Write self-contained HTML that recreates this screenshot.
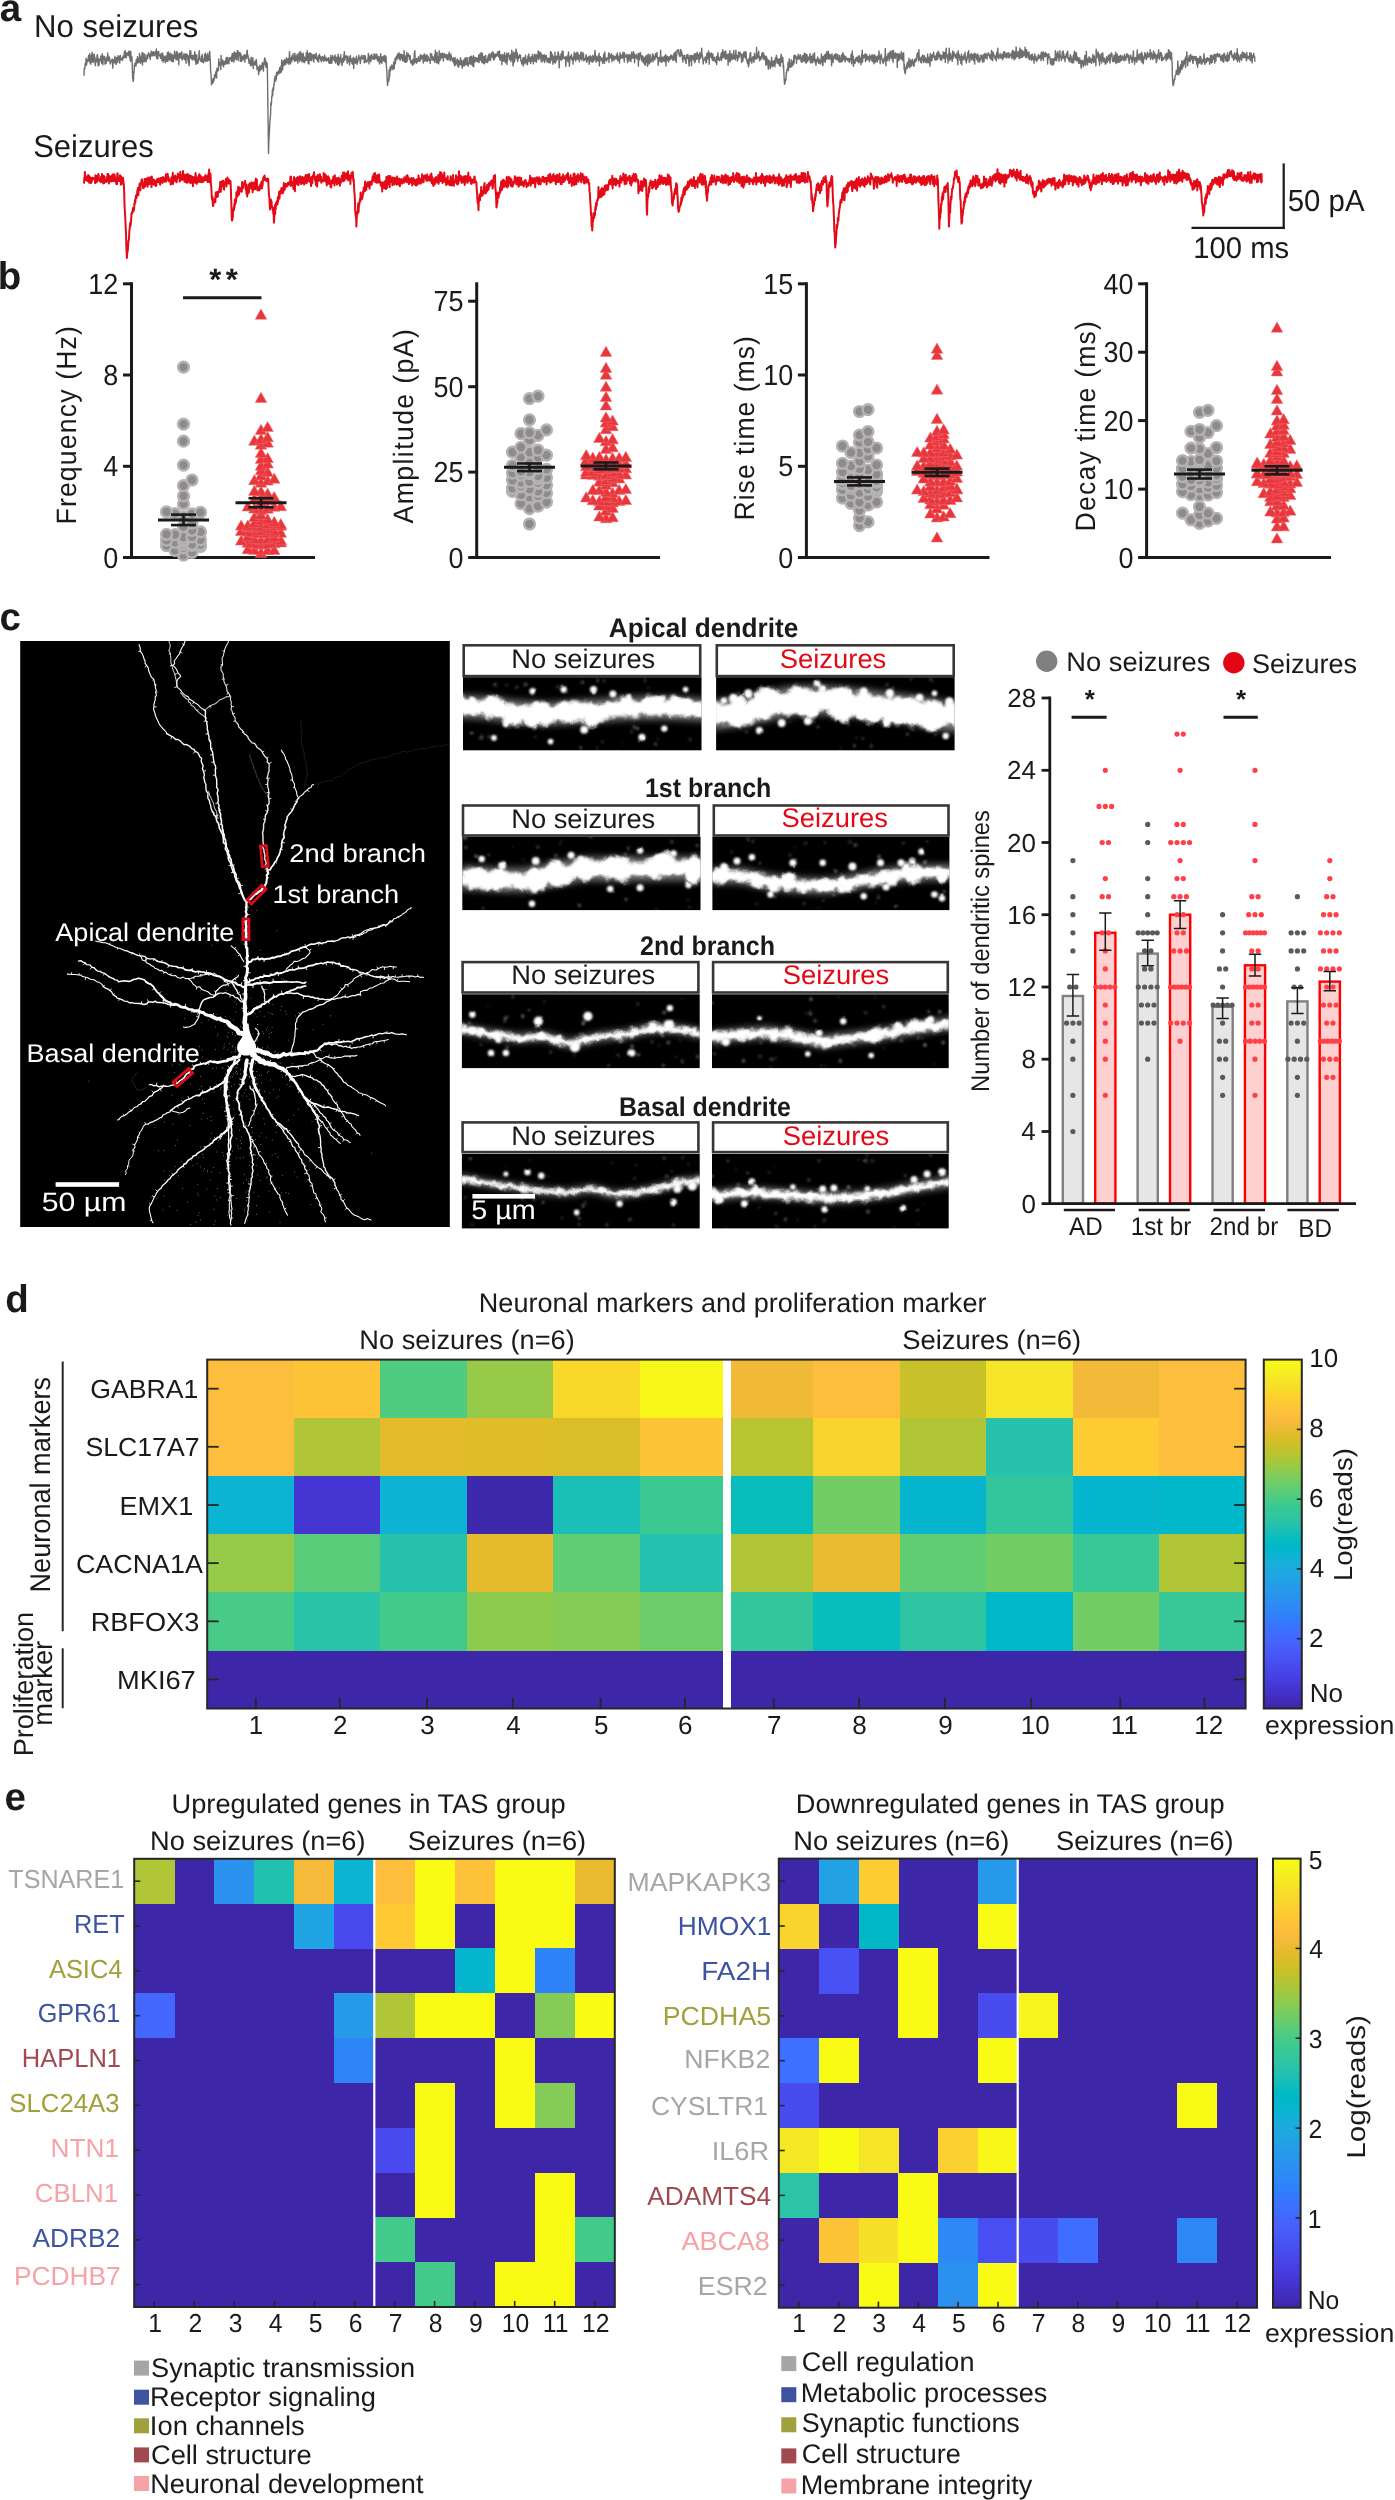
<!DOCTYPE html>
<html><head><meta charset="utf-8"><title>Figure</title>
<style>html,body{margin:0;padding:0;background:#fff}svg{display:block;will-change:transform}text{font-family:"Liberation Sans",sans-serif;fill:#1a1a1a;text-rendering:geometricPrecision}</style>
</head><body>
<svg width="1395" height="2500" viewBox="0 0 1395 2500">
<rect width="1395" height="2500" fill="#fff"/>
<g id="part_a">
<text transform="translate(-0.26,20.80) scale(1.0000,1)" font-size="38.5" font-weight="bold">a</text>
<text transform="translate(34.11,36.70) scale(0.9871,1)" font-size="31.5">No seizures</text>
<text transform="translate(33.21,156.50) scale(0.9824,1)" font-size="31.5">Seizures</text>
<polyline fill="none" stroke="#6e6e6e" stroke-width="1.4" stroke-linejoin="round" points="84,75.8 84.3,68.1 84.6,68.4 84.9,68.4 85.2,63.5 85.5,65 85.8,64.2 86.1,58.2 86.4,65.2 86.7,63.7 87,59.8 87.3,60.6 87.6,61.9 87.9,59.7 88.2,59.5 88.5,55.5 88.8,60.8 89.1,59.1 89.4,59.1 89.7,53.6 90,63 90.3,58.9 90.6,57 90.9,64.3 91.2,58.7 91.5,54.5 91.8,57.5 92.1,52.2 92.4,62 92.7,57.4 93,56.5 93.3,62.2 93.6,54.4 93.9,60.9 94.2,54.2 94.5,58.3 94.8,57 95.1,64.5 95.4,65.5 95.7,59.3 96,62.3 96.3,59.4 96.6,61.1 96.9,57.7 97.2,54.8 97.5,54.7 97.8,60.7 98.1,65.9 98.4,60.5 98.7,58.8 99,65.1 99.3,60.7 99.6,59.9 99.9,60.7 100.2,59.4 100.5,58.9 100.8,56 101.1,61.2 101.4,59.5 101.7,63.3 102,58.2 102.3,53.8 102.6,59 102.9,64.7 103.2,58.9 103.5,56.6 103.8,56.2 104.1,57 104.4,59.3 104.7,56.5 105,64.1 105.3,58.9 105.6,59.9 105.9,63.5 106.2,63.3 106.5,57.7 106.8,59.6 107.1,60.6 107.4,58 107.7,53 108,60.2 108.3,61.1 108.6,60.1 108.9,56.3 109.2,58.7 109.5,58 109.8,58.8 110.1,63.3 110.4,64 110.7,61.4 111,61.1 111.3,61.9 111.6,60.1 111.9,60.6 112.2,58.9 112.5,61.6 112.8,68.1 113.1,63.9 113.4,60.4 113.7,60.7 114,59.5 114.3,62.8 114.6,61.7 114.9,56.2 115.2,61.7 115.5,58.4 115.8,64.1 116.1,60 116.4,64.1 116.7,57.4 117,57.6 117.3,59.6 117.6,62.4 117.9,60.8 118.2,55.6 118.5,59.4 118.8,58.4 119.1,57.3 119.4,56.5 119.7,63.1 120,57.3 120.3,55.4 120.6,59.7 120.9,58.4 121.2,58 121.5,59.9 121.8,58.9 122.1,58.4 122.4,60.5 122.7,58.6 123,56.2 123.3,56.5 123.6,56 123.9,58 124.2,53.8 124.5,51.6 124.8,57.4 125.1,52.9 125.4,50.8 125.7,57.2 126,54.1 126.3,57.7 126.6,55.4 126.9,53.3 127.2,52.8 127.5,54.7 127.8,55.1 128.1,53 128.4,54.8 128.7,51.4 129,56 129.3,50.9 129.6,55.9 129.9,58.3 130.2,59.5 130.5,61.3 130.8,51.5 131.1,58.8 131.4,60 131.7,59.4 132,57 132.3,67.5 132.6,78.6 132.9,75.7 133.2,81.3 133.5,79.7 133.8,71.5 134.1,72.5 134.4,65.1 134.7,64.3 135,63.2 135.3,65 135.6,63 135.9,66.2 136.2,59.6 136.5,60.9 136.8,63.6 137.1,62.2 137.4,56.7 137.7,62.5 138,58.1 138.3,60.7 138.6,60.4 138.9,62.7 139.2,59.3 139.5,53.5 139.8,55.1 140.1,61.7 140.4,58.9 140.7,63.2 141,60.2 141.3,56.5 141.6,61.5 141.9,55.5 142.2,52.5 142.5,65 142.8,52.9 143.1,60.7 143.4,61.7 143.7,58.7 144,54 144.3,61.6 144.6,54.4 144.9,54.4 145.2,57.6 145.5,60.8 145.8,60.4 146.1,61.9 146.4,58.2 146.7,58.5 147,54.9 147.3,56.9 147.6,58.7 147.9,55.2 148.2,55.9 148.5,52.8 148.8,53.3 149.1,55.4 149.4,54.6 149.7,57.2 150,55.7 150.3,59.5 150.6,53.8 150.9,53.5 151.2,51.1 151.5,54.1 151.8,55.8 152.1,51.9 152.4,53.8 152.7,55.9 153,53.1 153.3,51.7 153.6,55.3 153.9,52.5 154.2,53.5 154.5,55.7 154.8,55.8 155.1,52.1 155.4,51.9 155.7,54.4 156,54.4 156.3,49 156.6,58.2 156.9,54.4 157.2,56.9 157.5,51.6 157.8,58.9 158.1,53.8 158.4,54.9 158.7,51.5 159,55.1 159.3,54.8 159.6,54.8 159.9,56.2 160.2,55.1 160.5,58.3 160.8,54.8 161.1,53.5 161.4,56.7 161.7,58.8 162,60.6 162.3,60.3 162.6,53 162.9,58.6 163.2,62.1 163.5,58.2 163.8,56 164.1,59.2 164.4,56.7 164.7,60.6 165,58.9 165.3,62.8 165.6,59.6 165.9,55.9 166.2,60.1 166.5,61.2 166.8,57.3 167.1,58 167.4,52.6 167.7,61.6 168,57.1 168.3,52 168.6,52.7 168.9,57.1 169.2,60 169.5,57.4 169.8,59.3 170.1,54.2 170.4,53.1 170.7,60.1 171,58.3 171.3,57.3 171.6,61.4 171.9,54.2 172.2,55.6 172.5,59.9 172.8,61.5 173.1,56.3 173.4,61.7 173.7,55.3 174,58.1 174.3,56 174.6,51.1 174.9,56.2 175.2,58.2 175.5,55.1 175.8,55.6 176.1,60 176.4,52.1 176.7,51.5 177,54 177.3,52.4 177.6,59.9 177.9,57.1 178.2,54.2 178.5,54.8 178.8,64.7 179.1,54.5 179.4,53.3 179.7,56.7 180,57.5 180.3,56.5 180.6,53.4 180.9,53.3 181.2,58.2 181.5,56.1 181.8,51.7 182.1,60.1 182.4,59.5 182.7,57 183,56.6 183.3,58.2 183.6,55.7 183.9,53.9 184.2,58.9 184.5,54.4 184.8,59.8 185.1,53.9 185.4,58.1 185.7,58 186,63.2 186.3,55 186.6,53.9 186.9,56 187.2,54.6 187.5,56.4 187.8,59.5 188.1,59.9 188.4,62.9 188.7,55.7 189,65.8 189.3,63.9 189.6,56.8 189.9,50.6 190.2,56.9 190.5,57.3 190.8,50.9 191.1,58.3 191.4,57.5 191.7,55.7 192,59.4 192.3,59.9 192.6,55.3 192.9,57.6 193.2,55.8 193.5,56.1 193.8,58.5 194.1,59.9 194.4,56.5 194.7,51.6 195,60.2 195.3,53.9 195.6,59.3 195.9,64.4 196.2,59.5 196.5,55.9 196.8,54.9 197.1,63.4 197.4,60 197.7,62.3 198,63.1 198.3,60.4 198.6,59.2 198.9,56.9 199.2,50.6 199.5,55.3 199.8,59.4 200.1,58.8 200.4,61 200.7,59.5 201,60.1 201.3,61.3 201.6,56.1 201.9,57.8 202.2,54.5 202.5,62.3 202.8,59.6 203.1,60.1 203.4,62.8 203.7,61.6 204,58.1 204.3,60.7 204.6,54.2 204.9,59 205.2,57.9 205.5,53.2 205.8,61.6 206.1,54.9 206.4,58.7 206.7,56.1 207,60.1 207.3,61.1 207.6,55.1 207.9,53.3 208.2,57.5 208.5,60.4 208.8,57.2 209.1,56.9 209.4,60.4 209.7,51.3 210,57.5 210.3,60.2 210.6,70.5 210.9,73 211.2,77.4 211.5,84.7 211.8,80.5 212.1,83.8 212.4,81 212.7,80.6 213,78.8 213.3,82.5 213.6,78.7 213.9,80.4 214.2,80 214.5,74.7 214.8,78.1 215.1,76.7 215.4,75.8 215.7,72.7 216,71.5 216.3,74.7 216.6,78 216.9,68.1 217.2,71.7 217.5,68.6 217.8,70.7 218.1,69.9 218.4,70.4 218.7,58.9 219,64.7 219.3,62.9 219.6,65.2 219.9,62.6 220.2,62.5 220.5,66.1 220.8,69.6 221.1,55.4 221.4,63.2 221.7,64.8 222,64.1 222.3,63 222.6,60 222.9,61 223.2,65.6 223.5,66.9 223.8,64.7 224.1,61.5 224.4,63.5 224.7,62.7 225,64.3 225.3,62.6 225.6,60.1 225.9,61.7 226.2,57.9 226.5,63.3 226.8,63.8 227.1,57.2 227.4,61.5 227.7,57.6 228,63.6 228.3,63.4 228.6,60 228.9,63.6 229.2,59 229.5,57.7 229.8,57.6 230.1,58.8 230.4,58.4 230.7,59.7 231,57.1 231.3,61 231.6,61.3 231.9,56.4 232.2,53.8 232.5,59.7 232.8,61 233.1,56.7 233.4,53.2 233.7,58 234,62 234.3,52 234.6,58.9 234.9,56.6 235.2,55 235.5,58.5 235.8,52.9 236.1,56.9 236.4,60 236.7,57 237,53.8 237.3,50.7 237.6,52.4 237.9,50.6 238.2,60.4 238.5,55.4 238.8,53.5 239.1,52.5 239.4,53.4 239.7,56 240,52.6 240.3,61.4 240.6,53.9 240.9,53.9 241.2,57.8 241.5,61.5 241.8,60.7 242.1,56.3 242.4,58.7 242.7,58.9 243,59.8 243.3,59.8 243.6,56.3 243.9,55.5 244.2,59.4 244.5,54.6 244.8,62 245.1,58.6 245.4,55.2 245.7,57.3 246,56.2 246.3,56 246.6,58.5 246.9,51.4 247.2,50.1 247.5,56 247.8,54.8 248.1,56.1 248.4,59.1 248.7,59 249,63.3 249.3,59.1 249.6,63.3 249.9,61.8 250.2,61.3 250.5,65.9 250.8,65.3 251.1,57.2 251.4,59.3 251.7,62.9 252,65.1 252.3,60.6 252.6,61.5 252.9,57.6 253.2,68.6 253.5,62.3 253.8,64.1 254.1,63.7 254.4,64.9 254.7,64.2 255,61.1 255.3,64.5 255.6,61.5 255.9,65.1 256.2,59.4 256.5,61.4 256.8,66.3 257.1,69.7 257.4,68.2 257.7,66.5 258,69.3 258.3,67.5 258.6,74.6 258.9,71 259.2,71.8 259.5,68.8 259.8,65.3 260.1,69.3 260.4,70.6 260.7,67.6 261,66.2 261.3,69.4 261.6,65.2 261.9,68.4 262.2,63.4 262.5,62.4 262.8,66.8 263.1,66.3 263.4,71.1 263.7,64.4 264,64.4 264.3,60.8 264.6,58 264.9,58.3 265.2,64.6 265.5,59.8 265.8,66.4 266.1,67.1 266.4,62.1 266.7,67.6 267,62.6 267.3,65 267.6,84.1 267.9,109.7 268.2,126.2 268.5,153.6 268.8,142.5 269.1,136.1 269.4,131.9 269.7,125.3 270,120.2 270.3,118.1 270.6,113.8 270.9,102.6 271.2,105.2 271.5,102.5 271.8,96.3 272.1,96.7 272.4,89.8 272.7,95.6 273,88.4 273.3,87.3 273.6,89.8 273.9,84.1 274.2,84.5 274.5,78.9 274.8,79.4 275.1,76 275.4,78 275.7,81.1 276,77.8 276.3,79.1 276.6,72.6 276.9,72.1 277.2,72.8 277.5,75.2 277.8,74 278.1,72 278.4,72.7 278.7,70.6 279,70.2 279.3,73.5 279.6,67.7 279.9,69.2 280.2,73 280.5,68.1 280.8,69.9 281.1,65.6 281.4,72.1 281.7,60 282,63.1 282.3,63.1 282.6,69.9 282.9,66 283.2,64.3 283.5,60.8 283.8,65.5 284.1,64.5 284.4,62.2 284.7,59.5 285,60.9 285.3,64.5 285.6,64.5 285.9,63.2 286.2,62.5 286.5,57.7 286.8,62.7 287.1,58.9 287.4,61.8 287.7,62.9 288,59.6 288.3,58.6 288.6,64.2 288.9,61.9 289.2,58.8 289.5,51.6 289.8,60.2 290.1,62 290.4,64 290.7,58.3 291,57.7 291.3,58.3 291.6,61.9 291.9,55.7 292.2,58.6 292.5,56.2 292.8,59.8 293.1,53.7 293.4,59.4 293.7,57.3 294,58.2 294.3,59.3 294.6,61.3 294.9,53.1 295.2,60.8 295.5,59.2 295.8,56.1 296.1,60.7 296.4,56.5 296.7,59.9 297,55.1 297.3,54.2 297.6,59.9 297.9,63 298.2,58.5 298.5,59.2 298.8,55.5 299.1,52.9 299.4,56.3 299.7,61.5 300,52 300.3,55.8 300.6,51.8 300.9,58.1 301.2,60.2 301.5,53.8 301.8,56.1 302.1,62 302.4,58 302.7,54.7 303,54.5 303.3,53.1 303.6,61.9 303.9,57.3 304.2,62.8 304.5,62.1 304.8,57.3 305.1,57.6 305.4,60.9 305.7,58.9 306,58.6 306.3,52.9 306.6,60.2 306.9,54.8 307.2,50.8 307.5,55.8 307.8,58.5 308.1,63.3 308.4,56.3 308.7,53.7 309,64.1 309.3,57.9 309.6,55.8 309.9,52.9 310.2,52.8 310.5,60.3 310.8,55.3 311.1,54.2 311.4,54 311.7,60.7 312,54.9 312.3,57.7 312.6,57.3 312.9,57.6 313.2,54.5 313.5,59.1 313.8,62 314.1,57.3 314.4,55.3 314.7,54.7 315,58.4 315.3,56.9 315.6,57.1 315.9,57.5 316.2,53.1 316.5,59.5 316.8,57.8 317.1,57.7 317.4,59.2 317.7,61.2 318,58.8 318.3,55.8 318.6,62.1 318.9,57.4 319.2,56.8 319.5,54.2 319.8,58.3 320.1,56.1 320.4,57.2 320.7,60 321,59 321.3,61.6 321.6,59.2 321.9,56.9 322.2,56.8 322.5,56.5 322.8,60.2 323.1,57.9 323.4,57.3 323.7,61.1 324,59.4 324.3,58.5 324.6,55.2 324.9,60.8 325.2,60.3 325.5,60.2 325.8,58.8 326.1,57.5 326.4,59.2 326.7,60.8 327,59.5 327.3,59.9 327.6,58.6 327.9,60.7 328.2,60.7 328.5,57.7 328.8,62.5 329.1,63 329.4,63.4 329.7,60.6 330,60.8 330.3,57.7 330.6,63.2 330.9,55.1 331.2,59.7 331.5,59.4 331.8,63.2 332.1,60.1 332.4,57.6 332.7,55.6 333,57.7 333.3,59.8 333.6,59.9 333.9,59 334.2,57.3 334.5,58.5 334.8,61.4 335.1,55 335.4,58.6 335.7,63.1 336,60.2 336.3,57.7 336.6,61.1 336.9,57.1 337.2,58.8 337.5,63.5 337.8,64.8 338.1,54.1 338.4,61.6 338.7,65.1 339,57.3 339.3,60 339.6,63.9 339.9,58.5 340.2,61.6 340.5,60.8 340.8,54.8 341.1,61.3 341.4,59.4 341.7,62.5 342,65.5 342.3,61.1 342.6,58.3 342.9,60.8 343.2,59.9 343.5,62.1 343.8,55 344.1,55.5 344.4,51.8 344.7,60.3 345,59.1 345.3,57.4 345.6,56.5 345.9,57.3 346.2,55.7 346.5,57.7 346.8,58 347.1,63.3 347.4,59.9 347.7,56.3 348,56.6 348.3,61.2 348.6,59.8 348.9,60.1 349.2,62.3 349.5,64.9 349.8,56.7 350.1,58.8 350.4,55.5 350.7,61.3 351,59.1 351.3,58.9 351.6,59.2 351.9,63.4 352.2,61.4 352.5,59.7 352.8,64.4 353.1,57.6 353.4,57.5 353.7,68.6 354,60.3 354.3,59.1 354.6,58.5 354.9,60.3 355.2,63.1 355.5,63 355.8,62.2 356.1,60.3 356.4,56.3 356.7,61.5 357,64.3 357.3,62.8 357.6,59.9 357.9,61.8 358.2,58.1 358.5,59 358.8,55.2 359.1,57.6 359.4,58.5 359.7,57.8 360,60.2 360.3,63.5 360.6,61.9 360.9,57.3 361.2,56.1 361.5,56.3 361.8,55.1 362.1,58.3 362.4,59 362.7,58.2 363,57.6 363.3,57.5 363.6,56.9 363.9,55.5 364.2,62.9 364.5,61.2 364.8,55.6 365.1,55.6 365.4,56.9 365.7,58.9 366,62.4 366.3,61.4 366.6,62.1 366.9,61.6 367.2,60.9 367.5,60 367.8,59.5 368.1,57.8 368.4,53.4 368.7,58.1 369,63.9 369.3,57 369.6,56.3 369.9,60.5 370.2,57.3 370.5,55.7 370.8,61.7 371.1,58.8 371.4,58.5 371.7,54.5 372,57.4 372.3,57.3 372.6,58.5 372.9,59.4 373.2,59 373.5,56.4 373.8,58.4 374.1,53.8 374.4,58.8 374.7,59.4 375,56.8 375.3,55.6 375.6,57.5 375.9,54.2 376.2,58.2 376.5,58.2 376.8,54.2 377.1,56.7 377.4,60.5 377.7,60.7 378,61.1 378.3,57.4 378.6,57 378.9,56.3 379.2,59.5 379.5,64 379.8,61.5 380.1,62.4 380.4,62.2 380.7,53.7 381,58.5 381.3,58.2 381.6,62.5 381.9,63.4 382.2,57 382.5,58.6 382.8,60 383.1,56.9 383.4,56.6 383.7,56.5 384,61.3 384.3,55.5 384.6,61.3 384.9,58.4 385.2,59.9 385.5,62.5 385.8,56 386.1,57.3 386.4,66.6 386.7,68.3 387,74.9 387.3,82.7 387.6,85.5 387.9,78.7 388.2,79.3 388.5,80.6 388.8,81.5 389.1,70.3 389.4,77.9 389.7,75.5 390,68.3 390.3,66.6 390.6,70.8 390.9,67.8 391.2,68.2 391.5,68.8 391.8,65 392.1,66.3 392.4,67.1 392.7,68.1 393,69.7 393.3,68.3 393.6,63.5 393.9,62 394.2,68.7 394.5,63.7 394.8,62.8 395.1,58.3 395.4,63.6 395.7,58.5 396,59.5 396.3,56.8 396.6,58.1 396.9,59.5 397.2,54.8 397.5,56.2 397.8,57.9 398.1,54 398.4,53.4 398.7,54.2 399,52.7 399.3,59 399.6,54.1 399.9,59.5 400.2,60.2 400.5,54.1 400.8,57.8 401.1,56.2 401.4,54.5 401.7,56.8 402,57.3 402.3,59.8 402.6,60.8 402.9,54.6 403.2,56.6 403.5,59.2 403.8,60.7 404.1,50.6 404.4,61.6 404.7,57.1 405,62.2 405.3,56.4 405.6,55.9 405.9,58.6 406.2,62.2 406.5,59.2 406.8,52.4 407.1,61.3 407.4,54.5 407.7,56.2 408,55.8 408.3,53.8 408.6,55.8 408.9,56.6 409.2,57.6 409.5,59.6 409.8,58.6 410.1,55.4 410.4,59 410.7,62.7 411,62.7 411.3,60.6 411.6,62.1 411.9,62.9 412.2,64.4 412.5,65.3 412.8,59.7 413.1,59.3 413.4,63.7 413.7,63.7 414,64 414.3,52.7 414.6,59.4 414.9,50.8 415.2,62.1 415.5,60.3 415.8,59.9 416.1,59.1 416.4,63.3 416.7,58.4 417,62.3 417.3,61.3 417.6,60.5 417.9,60.9 418.2,60.2 418.5,56.6 418.8,61 419.1,61.2 419.4,58.9 419.7,60.9 420,61.2 420.3,54.8 420.6,58.4 420.9,57.5 421.2,55.8 421.5,59.1 421.8,55.2 422.1,55.8 422.4,57.2 422.7,57.2 423,57.3 423.3,63.1 423.6,55.4 423.9,58 424.2,53.6 424.5,58.8 424.8,61.2 425.1,60.8 425.4,55.3 425.7,56 426,60.6 426.3,56.7 426.6,60.4 426.9,54.8 427.2,61.6 427.5,60.8 427.8,59.6 428.1,56.1 428.4,58.1 428.7,59.4 429,60.2 429.3,59.7 429.6,59.2 429.9,60.6 430.2,63.5 430.5,53.5 430.8,55.2 431.1,54.8 431.4,57.2 431.7,53.9 432,60.4 432.3,59.5 432.6,57.9 432.9,56.8 433.2,59 433.5,60 433.8,60.4 434.1,57.5 434.4,61.3 434.7,54.7 435,62.5 435.3,50.1 435.6,57.2 435.9,54.9 436.2,59.6 436.5,53 436.8,63.1 437.1,52.5 437.4,62.6 437.7,57.8 438,57 438.3,58.9 438.6,63.9 438.9,60.3 439.2,50.7 439.5,60.8 439.8,58.4 440.1,53.4 440.4,60 440.7,53.6 441,57.9 441.3,57.7 441.6,54.6 441.9,57.8 442.2,52.9 442.5,56.3 442.8,54.3 443.1,55 443.4,61 443.7,56.4 444,53.6 444.3,56.3 444.6,53.8 444.9,56.6 445.2,57.4 445.5,56.7 445.8,56.9 446.1,54.8 446.4,58.1 446.7,59.3 447,54.7 447.3,56.1 447.6,57 447.9,59.9 448.2,59.8 448.5,54.6 448.8,56.7 449.1,52.3 449.4,54.3 449.7,57.3 450,59.4 450.3,60.8 450.6,56.6 450.9,54 451.2,59 451.5,57 451.8,59.1 452.1,58.4 452.4,60.8 452.7,60.2 453,61.6 453.3,58 453.6,62.7 453.9,58.2 454.2,60.1 454.5,65.8 454.8,61.6 455.1,57.5 455.4,65 455.7,63.4 456,63.8 456.3,60.8 456.6,61.9 456.9,60.2 457.2,59 457.5,66.1 457.8,60.4 458.1,60.1 458.4,60.1 458.7,67.2 459,64.2 459.3,61.2 459.6,62.5 459.9,63.9 460.2,64.5 460.5,57.6 460.8,64.8 461.1,61.8 461.4,60.2 461.7,61.9 462,65.2 462.3,68.3 462.6,63.7 462.9,65 463.2,60.8 463.5,64.9 463.8,65.9 464.1,59.4 464.4,61.8 464.7,65.7 465,58.1 465.3,61.4 465.6,64.5 465.9,57.6 466.2,61.5 466.5,62.3 466.8,64.4 467.1,57.8 467.4,64.9 467.7,62.9 468,65.9 468.3,66 468.6,63.4 468.9,63.5 469.2,57.2 469.5,57.8 469.8,58.5 470.1,60.4 470.4,64.2 470.7,56.5 471,61 471.3,57.5 471.6,56.3 471.9,64.8 472.2,61.3 472.5,65.9 472.8,64.3 473.1,58.5 473.4,55.7 473.7,66.9 474,59.3 474.3,57.1 474.6,62.3 474.9,60.3 475.2,57.4 475.5,58.3 475.8,59.4 476.1,59.5 476.4,61.3 476.7,58 477,58.2 477.3,60.6 477.6,60.1 477.9,62 478.2,57.7 478.5,58.4 478.8,55.1 479.1,62.5 479.4,54.3 479.7,59.6 480,55.6 480.3,59.2 480.6,60.2 480.9,53 481.2,57.1 481.5,52.7 481.8,62.2 482.1,57.1 482.4,53.7 482.7,56.5 483,62.7 483.3,63.3 483.6,62.5 483.9,56.8 484.2,58.9 484.5,63.9 484.8,56.5 485.1,58 485.4,55.9 485.7,55.4 486,62.2 486.3,60.2 486.6,59.7 486.9,60.2 487.2,61.3 487.5,62.6 487.8,57.8 488.1,57.1 488.4,55.3 488.7,60.7 489,56.1 489.3,53.6 489.6,56.8 489.9,57.4 490.2,59.9 490.5,60.4 490.8,54.8 491.1,54.1 491.4,55.7 491.7,52.8 492,56 492.3,57.4 492.6,56 492.9,51.7 493.2,52.9 493.5,60 493.8,53.9 494.1,59.1 494.4,59.2 494.7,56.3 495,54.1 495.3,57.4 495.6,54.1 495.9,55.6 496.2,56.3 496.5,54.5 496.8,55.6 497.1,55 497.4,52.2 497.7,55.7 498,55 498.3,51.7 498.6,56.2 498.9,56.9 499.2,55.5 499.5,51 499.8,59.5 500.1,60 500.4,60.3 500.7,59.1 501,54.5 501.3,59 501.6,55.8 501.9,64.8 502.2,56.9 502.5,60.7 502.8,54.5 503.1,55.1 503.4,57.1 503.7,61.1 504,60.5 504.3,59.6 504.6,52.8 504.9,61.4 505.2,55.5 505.5,62.4 505.8,62.8 506.1,59.1 506.4,59.6 506.7,53.1 507,64.5 507.3,58.1 507.6,60.2 507.9,53.9 508.2,56.2 508.5,53 508.8,55.5 509.1,56.1 509.4,56.6 509.7,59.6 510,56.4 510.3,55.5 510.6,55.1 510.9,61.6 511.2,54.3 511.5,59.5 511.8,50.2 512.1,53.4 512.4,57.8 512.7,56.9 513,65.9 513.3,64.1 513.6,52.2 513.9,53.9 514.2,56.3 514.5,62 514.8,59.8 515.1,57.7 515.4,52 515.7,54.2 516,49 516.3,52.1 516.6,57.6 516.9,58.8 517.2,52.6 517.5,56.5 517.8,61.5 518.1,57.6 518.4,56.3 518.7,58.5 519,58 519.3,56.4 519.6,54.8 519.9,55.5 520.2,57.3 520.5,55.2 520.8,60.9 521.1,60.3 521.4,61.3 521.7,64 522,62.7 522.3,62.2 522.6,59.7 522.9,58.3 523.2,66.1 523.5,57.7 523.8,57.9 524.1,57.5 524.4,61.3 524.7,61.7 525,64 525.3,60.2 525.6,55.3 525.9,60.5 526.2,62.5 526.5,59.7 526.8,59.6 527.1,62 527.4,64.7 527.7,59.8 528,55.9 528.3,57.9 528.6,59.1 528.9,54 529.2,61.8 529.5,57 529.8,61 530.1,60.3 530.4,58.3 530.7,63.5 531,57 531.3,56.8 531.6,59.5 531.9,61.1 532.2,57.7 532.5,54.5 532.8,59.2 533.1,59.5 533.4,63.9 533.7,57.2 534,58.5 534.3,56.6 534.6,54.1 534.9,58.8 535.2,61.4 535.5,55.5 535.8,56.2 536.1,54.8 536.4,62.2 536.7,56.2 537,59.5 537.3,55.3 537.6,57.8 537.9,55.9 538.2,50.9 538.5,58 538.8,59.5 539.1,52 539.4,57.8 539.7,56.2 540,54.5 540.3,57.1 540.6,52.4 540.9,58.7 541.2,61.4 541.5,54.1 541.8,57.3 542.1,62 542.4,58.3 542.7,56.4 543,55.2 543.3,58.9 543.6,58.6 543.9,60.6 544.2,54.8 544.5,62.5 544.8,58.1 545.1,61 545.4,57.7 545.7,55.5 546,57.3 546.3,55.8 546.6,57.5 546.9,60.7 547.2,62 547.5,60 547.8,58.4 548.1,58.7 548.4,61.1 548.7,62.5 549,58.1 549.3,59.2 549.6,58.2 549.9,60.9 550.2,63.1 550.5,51.6 550.8,60.8 551.1,57.9 551.4,52.2 551.7,59.9 552,58.3 552.3,59.4 552.6,54.7 552.9,64.3 553.2,58.1 553.5,56.7 553.8,62.5 554.1,60.5 554.4,61 554.7,62.1 555,52.1 555.3,63.1 555.6,57.3 555.9,59.3 556.2,61.2 556.5,56.2 556.8,59 557.1,59.8 557.4,56.4 557.7,58.2 558,51.7 558.3,53.5 558.6,53.4 558.9,58.1 559.2,67.9 559.5,57.5 559.8,56.4 560.1,56.7 560.4,59.8 560.7,59.3 561,53.8 561.3,60.1 561.6,56.8 561.9,59.3 562.2,51 562.5,52.2 562.8,58.6 563.1,51.4 563.4,57.8 563.7,57.9 564,57.8 564.3,58.5 564.6,58.4 564.9,58.8 565.2,56.7 565.5,57.8 565.8,66.4 566.1,61.3 566.4,59.6 566.7,59.1 567,56 567.3,59.4 567.6,58.1 567.9,61.8 568.2,56.1 568.5,51.9 568.8,57.2 569.1,60.8 569.4,66.2 569.7,62.2 570,56.6 570.3,58.6 570.6,56.3 570.9,58.6 571.2,56.7 571.5,54.7 571.8,59.8 572.1,58.9 572.4,57.7 572.7,59.1 573,64.1 573.3,58.6 573.6,56.6 573.9,59.7 574.2,52.3 574.5,59 574.8,53.9 575.1,53.4 575.4,56.6 575.7,61.1 576,54.5 576.3,59.2 576.6,57.5 576.9,52.2 577.2,59.4 577.5,54.6 577.8,52.7 578.1,55 578.4,55.3 578.7,59.1 579,55 579.3,61.7 579.6,58.2 579.9,55.8 580.2,55.5 580.5,58.9 580.8,52.2 581.1,51.9 581.4,55.7 581.7,60.3 582,59.2 582.3,58.4 582.6,57.9 582.9,52.5 583.2,57.5 583.5,53.6 583.8,61 584.1,58.9 584.4,58.5 584.7,60 585,59.9 585.3,59.1 585.6,58.9 585.9,56.4 586.2,54.8 586.5,59.3 586.8,62.4 587.1,61.1 587.4,57.7 587.7,60 588,57.2 588.3,59.7 588.6,56.7 588.9,58.6 589.2,64.3 589.5,60.4 589.8,61.8 590.1,55.6 590.4,56.4 590.7,58.7 591,60.9 591.3,57.9 591.6,61.3 591.9,56.8 592.2,62.2 592.5,61.1 592.8,55.1 593.1,59.7 593.4,58 593.7,61.2 594,56.7 594.3,59.1 594.6,59.6 594.9,50.4 595.2,52.8 595.5,58.9 595.8,58.7 596.1,62.2 596.4,60.4 596.7,56.2 597,60.9 597.3,57.5 597.6,59.1 597.9,58.5 598.2,60.9 598.5,55.6 598.8,56.1 599.1,53.3 599.4,65.9 599.7,56.9 600,57.7 600.3,56.6 600.6,57.2 600.9,58.4 601.2,60.9 601.5,59.7 601.8,60.3 602.1,58.3 602.4,60 602.7,63.4 603,60.1 603.3,60.9 603.6,54.3 603.9,61.7 604.2,60.8 604.5,63.4 604.8,51.9 605.1,59.8 605.4,59.2 605.7,59.9 606,57.7 606.3,59.9 606.6,61.1 606.9,59.4 607.2,58.9 607.5,59 607.8,57.6 608.1,58.8 608.4,56.7 608.7,52.9 609,62.5 609.3,53.5 609.6,58.2 609.9,55 610.2,57.8 610.5,56 610.8,57.8 611.1,55.2 611.4,53.8 611.7,58.5 612,61.8 612.3,58.9 612.6,58.5 612.9,55.1 613.2,58.2 613.5,59.4 613.8,56.2 614.1,60.5 614.4,57.6 614.7,58.7 615,56.5 615.3,56.4 615.6,58.5 615.9,58.9 616.2,59 616.5,54.9 616.8,56.1 617.1,58 617.4,52.9 617.7,60.8 618,58.7 618.3,57.6 618.6,56.1 618.9,60.7 619.2,56.8 619.5,63 619.8,58.1 620.1,52.6 620.4,58.9 620.7,54.8 621,54.8 621.3,55.5 621.6,55.5 621.9,57 622.2,58.4 622.5,57.4 622.8,53.8 623.1,52.2 623.4,54.2 623.7,57.7 624,58.9 624.3,62 624.6,52.7 624.9,56.7 625.2,56 625.5,55.8 625.8,57 626.1,56.3 626.4,55.8 626.7,54.5 627,58.1 627.3,60.4 627.6,62.6 627.9,56.8 628.2,54.8 628.5,57.5 628.8,55.7 629.1,60.9 629.4,55.8 629.7,57.9 630,54.2 630.3,57.1 630.6,58.7 630.9,61.8 631.2,55.5 631.5,58.5 631.8,51.9 632.1,54.1 632.4,55 632.7,55.6 633,58.2 633.3,58.1 633.6,51.7 633.9,58.3 634.2,53.5 634.5,62.8 634.8,57.5 635.1,57.3 635.4,55.5 635.7,56.1 636,56.1 636.3,54.4 636.6,58.8 636.9,57.4 637.2,58.8 637.5,56.8 637.8,58.1 638.1,53.7 638.4,66.3 638.7,53.6 639,54.1 639.3,58.8 639.6,59.8 639.9,54.3 640.2,52.5 640.5,53.5 640.8,54.9 641.1,55.8 641.4,57.7 641.7,60.5 642,61 642.3,55.7 642.6,59.9 642.9,60.7 643.2,62.5 643.5,57.8 643.8,56.9 644.1,61.2 644.4,63.8 644.7,58.3 645,65.2 645.3,64.1 645.6,59.1 645.9,55.9 646.2,58.5 646.5,59.6 646.8,62.5 647.1,55.2 647.4,66.2 647.7,66 648,57.6 648.3,54.2 648.6,59.1 648.9,61.2 649.2,63.8 649.5,62.1 649.8,59.3 650.1,54.2 650.4,61.1 650.7,62.3 651,58.9 651.3,61.1 651.6,60.6 651.9,58.6 652.2,55.6 652.5,59.3 652.8,53.7 653.1,61.9 653.4,55.4 653.7,59.4 654,56.4 654.3,59.4 654.6,57.6 654.9,59.8 655.2,56.1 655.5,53.7 655.8,57 656.1,57.1 656.4,53.9 656.7,55.9 657,52.4 657.3,58.2 657.6,56.8 657.9,58.3 658.2,65.4 658.5,57.9 658.8,59.1 659.1,59.9 659.4,57.9 659.7,57.2 660,61.7 660.3,61.5 660.6,50.1 660.9,58.5 661.2,58 661.5,57.3 661.8,62.4 662.1,57.3 662.4,61.4 662.7,57.4 663,58.3 663.3,61 663.6,57.4 663.9,58.7 664.2,56.3 664.5,56.5 664.8,61.6 665.1,60.6 665.4,56 665.7,54.7 666,66.1 666.3,57.2 666.6,56.2 666.9,60.2 667.2,56.2 667.5,56.8 667.8,60.2 668.1,60.9 668.4,57.5 668.7,62 669,57.3 669.3,56.7 669.6,58 669.9,57.5 670.2,59.7 670.5,58.5 670.8,55.1 671.1,57.7 671.4,55.5 671.7,55.3 672,56.5 672.3,59.5 672.6,57.4 672.9,60.1 673.2,60.4 673.5,55.8 673.8,54.1 674.1,53.5 674.4,56.8 674.7,58.5 675,60.1 675.3,51.8 675.6,58 675.9,58.5 676.2,62.4 676.5,56 676.8,54.7 677.1,50 677.4,52 677.7,50.9 678,50.8 678.3,51.1 678.6,49.6 678.9,53.8 679.2,54.8 679.5,56.1 679.8,53.1 680.1,56.6 680.4,56.1 680.7,49.5 681,53.1 681.3,51 681.6,51.5 681.9,55.4 682.2,54.3 682.5,59.3 682.8,62 683.1,57.7 683.4,56.1 683.7,55.7 684,56.1 684.3,58.6 684.6,55.1 684.9,59.8 685.2,57.6 685.5,61.6 685.8,62.2 686.1,63.5 686.4,58 686.7,55.5 687,54.8 687.3,58.3 687.6,55.2 687.9,54.5 688.2,58.9 688.5,57.2 688.8,62 689.1,66.1 689.4,60.2 689.7,61.5 690,55.4 690.3,60.6 690.6,58.4 690.9,57.3 691.2,55.4 691.5,65.7 691.8,55.5 692.1,55.8 692.4,58.7 692.7,59.1 693,58.7 693.3,57.9 693.6,55.4 693.9,60.6 694.2,58.6 694.5,53.6 694.8,62.7 695.1,57.3 695.4,60.9 695.7,53.6 696,54.3 696.3,55.4 696.6,55.1 696.9,59.4 697.2,52.1 697.5,57.4 697.8,54.3 698.1,58.5 698.4,57 698.7,54.6 699,62.6 699.3,55.7 699.6,59.3 699.9,52.4 700.2,56.6 700.5,57.6 700.8,57.9 701.1,56.5 701.4,54.9 701.7,48.3 702,55.5 702.3,54.8 702.6,56.5 702.9,59.9 703.2,64 703.5,59.3 703.8,60.5 704.1,59.7 704.4,60.1 704.7,60 705,57.2 705.3,56.9 705.6,59 705.9,63 706.2,60 706.5,62 706.8,53.5 707.1,58.3 707.4,58.5 707.7,59 708,53.2 708.3,52.3 708.6,51 708.9,56.8 709.2,64.3 709.5,57.8 709.8,53.3 710.1,57.2 710.4,55.5 710.7,56.7 711,54.9 711.3,53 711.6,54.9 711.9,58.8 712.2,57.9 712.5,60.3 712.8,53.9 713.1,60 713.4,57.5 713.7,57.8 714,61 714.3,57.3 714.6,59.2 714.9,60.3 715.2,60.5 715.5,60.8 715.8,62.5 716.1,59.3 716.4,56.5 716.7,64.5 717,58 717.3,59.7 717.6,56.3 717.9,52.7 718.2,56.5 718.5,59 718.8,60.1 719.1,58.3 719.4,60.6 719.7,59.9 720,59.8 720.3,56.9 720.6,56.8 720.9,55.4 721.2,53.4 721.5,60.5 721.8,52.5 722.1,55.7 722.4,56.5 722.7,49.6 723,57.9 723.3,54.8 723.6,56.1 723.9,54.8 724.2,51.8 724.5,57 724.8,56.2 725.1,58.6 725.4,57.5 725.7,51 726,59.2 726.3,58.4 726.6,58 726.9,57.7 727.2,54.3 727.5,58.3 727.8,55.9 728.1,65.3 728.4,56.4 728.7,54 729,56 729.3,61.2 729.6,55.4 729.9,50.8 730.2,61.8 730.5,58.5 730.8,55.7 731.1,59 731.4,54.1 731.7,53.5 732,59.8 732.3,55.4 732.6,58.4 732.9,57 733.2,58.8 733.5,56.4 733.8,50.4 734.1,58 734.4,55.3 734.7,58.7 735,56.1 735.3,60 735.6,55.2 735.9,50.3 736.2,55.7 736.5,57.9 736.8,55.7 737.1,55.4 737.4,61.1 737.7,55.7 738,59.3 738.3,56.8 738.6,52 738.9,53.9 739.2,55.8 739.5,57.1 739.8,54 740.1,52.1 740.4,53.2 740.7,54.6 741,54.2 741.3,55.2 741.6,62.4 741.9,57.9 742.2,54.3 742.5,56.2 742.8,61.1 743.1,58.4 743.4,56.4 743.7,53 744,51.9 744.3,56.2 744.6,56.9 744.9,52.1 745.2,53.4 745.5,58.1 745.8,51.6 746.1,53 746.4,58.5 746.7,60.3 747,60 747.3,62.3 747.6,63.7 747.9,62.4 748.2,59.5 748.5,66.9 748.8,65.4 749.1,63 749.4,57.5 749.7,60.9 750,53.5 750.3,58.8 750.6,52.4 750.9,58.1 751.2,61.8 751.5,58.7 751.8,63.1 752.1,58.3 752.4,58.4 752.7,56.9 753,58.8 753.3,56.6 753.6,60.8 753.9,62.2 754.2,57.9 754.5,53.3 754.8,57.5 755.1,59.2 755.4,57.3 755.7,56 756,57.7 756.3,58.5 756.6,47.4 756.9,59 757.2,56.9 757.5,56.4 757.8,53.8 758.1,56.3 758.4,57.4 758.7,51.2 759,58 759.3,56.1 759.6,60.8 759.9,58.7 760.2,56.7 760.5,57.4 760.8,59.5 761.1,57.5 761.4,58.1 761.7,54.8 762,53.1 762.3,54.8 762.6,52.7 762.9,55.7 763.2,58.9 763.5,53 763.8,54.2 764.1,59.8 764.4,56.8 764.7,58.8 765,56 765.3,57.1 765.6,59.5 765.9,65.3 766.2,61.9 766.5,56.5 766.8,63 767.1,64.6 767.4,63.8 767.7,59 768,62.3 768.3,69.3 768.6,60.5 768.9,64.6 769.2,62.4 769.5,61 769.8,63.6 770.1,68.3 770.4,68.5 770.7,62.2 771,63.1 771.3,61.6 771.6,57.2 771.9,64.9 772.2,66.7 772.5,66.8 772.8,61.1 773.1,66 773.4,65.2 773.7,61.1 774,62 774.3,60.8 774.6,62.3 774.9,66.7 775.2,59 775.5,58 775.8,63.6 776.1,60.7 776.4,55.1 776.7,58.1 777,58.6 777.3,58.7 777.6,61.7 777.9,63.4 778.2,60.1 778.5,61.1 778.8,59 779.1,64 779.4,65.3 779.7,60.1 780,58.8 780.3,66.3 780.6,62.5 780.9,57 781.2,54.3 781.5,58.2 781.8,62.2 782.1,57.1 782.4,57.9 782.7,57.2 783,60.2 783.3,67.8 783.6,65.8 783.9,73.8 784.2,79.8 784.5,84.3 784.8,79.8 785.1,83.3 785.4,79.4 785.7,79.2 786,80 786.3,72.5 786.6,73.3 786.9,69.7 787.2,68.9 787.5,69.4 787.8,66.8 788.1,62.4 788.4,70.6 788.7,66.2 789,61.9 789.3,58.9 789.6,64.5 789.9,66.6 790.2,67.3 790.5,67.5 790.8,62.8 791.1,66 791.4,59.7 791.7,64.9 792,66.5 792.3,61.3 792.6,61.9 792.9,62.2 793.2,61.7 793.5,64.7 793.8,56 794.1,63.1 794.4,55.2 794.7,56.5 795,55.5 795.3,57.3 795.6,55.7 795.9,58.6 796.2,57 796.5,63.2 796.8,58.4 797.1,57 797.4,58.9 797.7,59.1 798,57 798.3,54.3 798.6,54.7 798.9,57.5 799.2,59.4 799.5,58.1 799.8,56.5 800.1,58 800.4,54.8 800.7,57.7 801,61.3 801.3,60.8 801.6,62.2 801.9,57.5 802.2,59.5 802.5,55.7 802.8,61.7 803.1,58.1 803.4,55.6 803.7,58.4 804,60.4 804.3,53.3 804.6,55.5 804.9,61.9 805.2,59.6 805.5,58.5 805.8,53.8 806.1,63.2 806.4,62 806.7,60.5 807,54.7 807.3,59.3 807.6,61.6 807.9,57.8 808.2,58.2 808.5,57.1 808.8,59.8 809.1,57.9 809.4,58.3 809.7,54.8 810,53.6 810.3,61.3 810.6,62.9 810.9,60.7 811.2,62.7 811.5,56.3 811.8,58.1 812.1,59.4 812.4,57.6 812.7,62.7 813,54.2 813.3,57 813.6,57.8 813.9,56.6 814.2,60.8 814.5,52.8 814.8,62.1 815.1,61.4 815.4,59.5 815.7,62.8 816,65.3 816.3,59.8 816.6,61.8 816.9,60.4 817.2,60.8 817.5,57.8 817.8,57.1 818.1,61.7 818.4,58.9 818.7,63.4 819,63 819.3,59.3 819.6,62.3 819.9,61 820.2,60.4 820.5,64 820.8,60.4 821.1,60.7 821.4,54 821.7,62.1 822,56.4 822.3,59.5 822.6,65.2 822.9,65.7 823.2,59.1 823.5,56.3 823.8,61.1 824.1,58.8 824.4,60.7 824.7,54.9 825,61.6 825.3,62.3 825.6,54 825.9,55.4 826.2,55.2 826.5,59.3 826.8,51.6 827.1,57.3 827.4,55.9 827.7,54.2 828,58.9 828.3,51.2 828.6,53.3 828.9,54.8 829.2,59.1 829.5,55.6 829.8,54.5 830.1,58.9 830.4,55.7 830.7,55.5 831,56.8 831.3,58.6 831.6,65.7 831.9,53.8 832.2,57.5 832.5,57 832.8,57 833.1,62.5 833.4,59.7 833.7,59.1 834,55.8 834.3,54.7 834.6,57.3 834.9,56.1 835.2,55.2 835.5,58.9 835.8,53.4 836.1,55 836.4,59.6 836.7,57.5 837,59.1 837.3,54.9 837.6,59.4 837.9,54.5 838.2,60.6 838.5,59.5 838.8,58.2 839.1,61.9 839.4,58 839.7,55.5 840,62.2 840.3,59.2 840.6,61.3 840.9,58.4 841.2,61.8 841.5,56.4 841.8,55.2 842.1,54.6 842.4,61.2 842.7,52.8 843,53.5 843.3,54.4 843.6,59 843.9,59.6 844.2,55.4 844.5,59.9 844.8,58.9 845.1,61.8 845.4,60.3 845.7,56.5 846,59.3 846.3,57.6 846.6,59.3 846.9,58.6 847.2,58.5 847.5,60.3 847.8,58.9 848.1,61 848.4,59.3 848.7,58.5 849,61.5 849.3,61.9 849.6,62.5 849.9,60.6 850.2,58.4 850.5,59.4 850.8,59.2 851.1,54.2 851.4,56.3 851.7,63.9 852,59.4 852.3,51 852.6,59.1 852.9,59.9 853.2,56.1 853.5,66.4 853.8,63.3 854.1,62.7 854.4,60 854.7,62.1 855,63.3 855.3,61.7 855.6,58.2 855.9,60.2 856.2,60.2 856.5,60.7 856.8,57.3 857.1,61.3 857.4,60.7 857.7,61.3 858,60.9 858.3,56.1 858.6,62.8 858.9,62.4 859.2,55.7 859.5,59.7 859.8,57.5 860.1,58.1 860.4,62.3 860.7,60.6 861,64.7 861.3,58.7 861.6,54.6 861.9,58.2 862.2,50.3 862.5,62.3 862.8,57.7 863.1,58.5 863.4,57.7 863.7,55.1 864,57 864.3,55.4 864.6,56.2 864.9,58 865.2,53.7 865.5,61.6 865.8,54.4 866.1,60.3 866.4,55.7 866.7,54.4 867,59.7 867.3,58.5 867.6,57.4 867.9,58.2 868.2,56.4 868.5,59.6 868.8,56.8 869.1,58.4 869.4,61.6 869.7,55 870,57.8 870.3,57.3 870.6,57.3 870.9,56.1 871.2,59.4 871.5,60.4 871.8,59.6 872.1,54.5 872.4,61.2 872.7,61.4 873,58.9 873.3,55.7 873.6,55.5 873.9,63.7 874.2,63 874.5,59.6 874.8,54.7 875.1,61.3 875.4,58.5 875.7,62.3 876,56.4 876.3,59.4 876.6,57.9 876.9,60.6 877.2,57.1 877.5,61.9 877.8,57.3 878.1,55.5 878.4,59.3 878.7,57.7 879,51 879.3,57.2 879.6,57.9 879.9,58.5 880.2,63.7 880.5,56.3 880.8,58.7 881.1,54.2 881.4,55.4 881.7,57.3 882,59.7 882.3,59.5 882.6,62.4 882.9,62.5 883.2,63.4 883.5,60.2 883.8,61.7 884.1,57.9 884.4,60.8 884.7,60.5 885,57.4 885.3,48.7 885.6,56.3 885.9,65.8 886.2,58.2 886.5,56.4 886.8,58.4 887.1,60.8 887.4,58.5 887.7,57.1 888,53.7 888.3,56.3 888.6,53.3 888.9,57.6 889.2,60.9 889.5,59.7 889.8,54 890.1,52.3 890.4,51.3 890.7,57.2 891,57.8 891.3,58.2 891.6,57.3 891.9,52.8 892.2,50.7 892.5,60.3 892.8,54.3 893.1,62.2 893.4,50.4 893.7,53 894,53.4 894.3,56.6 894.6,58 894.9,55 895.2,58.4 895.5,52.9 895.8,55.5 896.1,53.7 896.4,56 896.7,55.7 897,58.3 897.3,67.5 897.6,53.8 897.9,57.2 898.2,59.5 898.5,56.5 898.8,60.6 899.1,53.7 899.4,59.3 899.7,54.7 900,58.9 900.3,57.2 900.6,57.6 900.9,55.6 901.2,51.6 901.5,54.1 901.8,59.5 902.1,56.8 902.4,59.7 902.7,53.8 903,59.5 903.3,61.1 903.6,52.6 903.9,62.6 904.2,69.9 904.5,64.5 904.8,72.6 905.1,71.8 905.4,73.7 905.7,69.7 906,67.5 906.3,68.4 906.6,66.8 906.9,65 907.2,62.9 907.5,68.3 907.8,63.6 908.1,61.7 908.4,62.8 908.7,66.3 909,58.2 909.3,65.6 909.6,66.3 909.9,67.6 910.2,61.8 910.5,60 910.8,62.9 911.1,62.3 911.4,66 911.7,62.9 912,61.8 912.3,59.1 912.6,62.3 912.9,62.1 913.2,65.1 913.5,61.9 913.8,66.3 914.1,65.9 914.4,60.3 914.7,59.4 915,61.4 915.3,61.9 915.6,58.6 915.9,61.4 916.2,59.1 916.5,60 916.8,56.5 917.1,53.8 917.4,56.3 917.7,52.6 918,56.5 918.3,54.9 918.6,61.1 918.9,49.7 919.2,59.7 919.5,59.8 919.8,57.1 920.1,58.3 920.4,58 920.7,61.5 921,62.7 921.3,58 921.6,62.7 921.9,56.3 922.2,59.8 922.5,60.1 922.8,54.9 923.1,59.6 923.4,57.8 923.7,62.6 924,58.4 924.3,55.8 924.6,56.9 924.9,60.5 925.2,61.3 925.5,61.7 925.8,58.1 926.1,62.6 926.4,58.3 926.7,59.6 927,62.9 927.3,59.1 927.6,53.9 927.9,61.5 928.2,59.1 928.5,58 928.8,62.7 929.1,57.3 929.4,60.5 929.7,58.7 930,66.2 930.3,53.5 930.6,58.8 930.9,59.7 931.2,61 931.5,56.1 931.8,54.9 932.1,60.1 932.4,54.8 932.7,57.4 933,55.9 933.3,57 933.6,52.1 933.9,54.8 934.2,56.2 934.5,56.6 934.8,59.7 935.1,58.1 935.4,58.2 935.7,56.2 936,60.3 936.3,54.7 936.6,56.6 936.9,52.9 937.2,53.8 937.5,59.5 937.8,56.6 938.1,51.1 938.4,56.6 938.7,55.6 939,52.8 939.3,56.9 939.6,55.6 939.9,56.8 940.2,59.5 940.5,54.6 940.8,60 941.1,55.7 941.4,55.8 941.7,60.1 942,57.6 942.3,55.4 942.6,56 942.9,56.9 943.2,51.9 943.5,58.3 943.8,56 944.1,52.4 944.4,53.2 944.7,58.4 945,53 945.3,62.4 945.6,52.6 945.9,56.4 946.2,48.1 946.5,55.7 946.8,54.7 947.1,58 947.4,56.8 947.7,55.5 948,63 948.3,58.5 948.6,53.8 948.9,57.3 949.2,48.2 949.5,55.1 949.8,60.2 950.1,54.7 950.4,56.7 950.7,53.1 951,58.9 951.3,56.7 951.6,56.1 951.9,58.9 952.2,61.3 952.5,58.6 952.8,50.9 953.1,57.7 953.4,58 953.7,53.9 954,52.1 954.3,55.6 954.6,55.5 954.9,56 955.2,54.5 955.5,57.1 955.8,57.7 956.1,56.5 956.4,58.5 956.7,55.8 957,53 957.3,57.4 957.6,60.3 957.9,64.8 958.2,50.6 958.5,55.2 958.8,54 959.1,57.6 959.4,54.9 959.7,58 960,60.4 960.3,56.4 960.6,58.7 960.9,63.4 961.2,61.2 961.5,54 961.8,64.8 962.1,56.8 962.4,59.7 962.7,57.5 963,56.8 963.3,56.5 963.6,59.8 963.9,55.8 964.2,54.5 964.5,56.7 964.8,58 965.1,52.1 965.4,60.3 965.7,56.5 966,60.9 966.3,63 966.6,59.8 966.9,60.5 967.2,57.6 967.5,56.3 967.8,52.8 968.1,57.4 968.4,56.4 968.7,50.7 969,58.6 969.3,62.4 969.6,59.1 969.9,61 970.2,57.1 970.5,54.5 970.8,57.7 971.1,55.9 971.4,53.8 971.7,59.9 972,57.4 972.3,54.6 972.6,57.2 972.9,56 973.2,57.9 973.5,60.5 973.8,55.1 974.1,53.2 974.4,61.4 974.7,64.1 975,55.1 975.3,54.4 975.6,53.8 975.9,56.9 976.2,57.5 976.5,56.6 976.8,59.7 977.1,54.9 977.4,55.8 977.7,53.9 978,61.6 978.3,60.9 978.6,61.5 978.9,55.8 979.2,62.2 979.5,59.9 979.8,61 980.1,60.8 980.4,58.1 980.7,58.9 981,54.9 981.3,57.7 981.6,58.5 981.9,55.9 982.2,59 982.5,62.1 982.8,57.1 983.1,55.4 983.4,54.6 983.7,57.3 984,61.7 984.3,57.5 984.6,57.3 984.9,53.3 985.2,57.6 985.5,57.9 985.8,54.7 986.1,55.6 986.4,53.9 986.7,57.6 987,59.1 987.3,54.9 987.6,55.3 987.9,54.4 988.2,52.9 988.5,52.8 988.8,54.1 989.1,55.9 989.4,55 989.7,57.5 990,56.9 990.3,58.9 990.6,57.1 990.9,54.4 991.2,55.3 991.5,50.5 991.8,59.8 992.1,53.2 992.4,53.9 992.7,60.7 993,52 993.3,53.7 993.6,55.5 993.9,54.4 994.2,56.2 994.5,56.8 994.8,58.1 995.1,56.7 995.4,59.1 995.7,56 996,59.1 996.3,60.9 996.6,52.6 996.9,56.5 997.2,57.5 997.5,51.5 997.8,48.2 998.1,57.3 998.4,54.3 998.7,59 999,57.1 999.3,56.6 999.6,55.8 999.9,56.6 1000.2,53.4 1000.5,54.7 1000.8,58.3 1001.1,55.3 1001.4,57.9 1001.7,55.9 1002,55.5 1002.3,54.3 1002.6,59.6 1002.9,54.7 1003.2,58 1003.5,52 1003.8,57 1004.1,57.5 1004.4,54.1 1004.7,51.7 1005,55.9 1005.3,56.4 1005.6,54.2 1005.9,53.8 1006.2,58 1006.5,54.7 1006.8,53.4 1007.1,56.7 1007.4,54.5 1007.7,52.9 1008,57.5 1008.3,53.8 1008.6,57.5 1008.9,52.7 1009.2,55.2 1009.5,57.6 1009.8,55.3 1010.1,55.3 1010.4,54.7 1010.7,55.7 1011,53.8 1011.3,55.3 1011.6,53.1 1011.9,58.7 1012.2,51.1 1012.5,55.8 1012.8,50.3 1013.1,54.9 1013.4,57.8 1013.7,51.5 1014,59.9 1014.3,51.9 1014.6,52.3 1014.9,56.3 1015.2,52.2 1015.5,58.6 1015.8,56.5 1016.1,47 1016.4,50.9 1016.7,53.7 1017,56.8 1017.3,52.3 1017.6,53.1 1017.9,56.5 1018.2,52.3 1018.5,56.6 1018.8,51.2 1019.1,58.1 1019.4,58.7 1019.7,51.7 1020,48 1020.3,50.2 1020.6,57.6 1020.9,52.9 1021.2,57.1 1021.5,50 1021.8,51.9 1022.1,53.9 1022.4,57.4 1022.7,53.3 1023,50.9 1023.3,54.2 1023.6,53.8 1023.9,56 1024.2,54.3 1024.5,52 1024.8,54.2 1025.1,47.1 1025.4,55 1025.7,57.4 1026,55.1 1026.3,50.6 1026.6,49.6 1026.9,57.7 1027.2,53 1027.5,54 1027.8,54.8 1028.1,52.2 1028.4,53.9 1028.7,58 1029,52.3 1029.3,59.8 1029.6,54.9 1029.9,55.4 1030.2,57.9 1030.5,58.1 1030.8,59 1031.1,57.9 1031.4,54.6 1031.7,60.4 1032,55.8 1032.3,54.3 1032.6,59.1 1032.9,58.7 1033.2,57 1033.5,57.3 1033.8,59.4 1034.1,63.3 1034.4,56.9 1034.7,53.9 1035,55.7 1035.3,59.1 1035.6,57.4 1035.9,56.6 1036.2,60.7 1036.5,61.3 1036.8,59.1 1037.1,60.8 1037.4,58 1037.7,57.5 1038,57.6 1038.3,54.5 1038.6,58.9 1038.9,57.7 1039.2,56.5 1039.5,58 1039.8,57.9 1040.1,55.1 1040.4,55.4 1040.7,54.6 1041,60.6 1041.3,52.2 1041.6,56.2 1041.9,58.6 1042.2,53.2 1042.5,53.7 1042.8,54 1043.1,51.8 1043.4,60.3 1043.7,56 1044,53.4 1044.3,54.3 1044.6,56.4 1044.9,54.4 1045.2,52.4 1045.5,56.8 1045.8,53 1046.1,54.4 1046.4,56.1 1046.7,53.7 1047,55.9 1047.3,54.6 1047.6,64.1 1047.9,55.6 1048.2,58.7 1048.5,54.6 1048.8,53.8 1049.1,57.5 1049.4,57.2 1049.7,56.8 1050,58.2 1050.3,60.8 1050.6,63.7 1050.9,64.1 1051.2,59.2 1051.5,64.6 1051.8,64.1 1052.1,58.7 1052.4,59.1 1052.7,59.7 1053,65.3 1053.3,59 1053.6,59.2 1053.9,63.7 1054.2,58.5 1054.5,58.5 1054.8,60.5 1055.1,58.8 1055.4,50.7 1055.7,54.2 1056,60 1056.3,53.5 1056.6,60.8 1056.9,56.6 1057.2,57.1 1057.5,57.4 1057.8,51.5 1058.1,54.6 1058.4,54.1 1058.7,58.2 1059,61.3 1059.3,56.4 1059.6,57.1 1059.9,50.7 1060.2,55.4 1060.5,56.1 1060.8,56.7 1061.1,58.6 1061.4,60.5 1061.7,56.3 1062,57.7 1062.3,52 1062.6,58 1062.9,56.2 1063.2,51 1063.5,56.7 1063.8,53.9 1064.1,58.9 1064.4,57.7 1064.7,56.6 1065,61.7 1065.3,56.8 1065.6,55.9 1065.9,56.7 1066.2,56.4 1066.5,53.1 1066.8,57.1 1067.1,57.2 1067.4,54.4 1067.7,51.1 1068,59 1068.3,59.2 1068.6,57.8 1068.9,58.8 1069.2,61.3 1069.5,57.9 1069.8,61.9 1070.1,56.8 1070.4,54.7 1070.7,57.1 1071,56.3 1071.3,58.7 1071.6,62.5 1071.9,58.6 1072.2,59.9 1072.5,62.9 1072.8,62.1 1073.1,56.9 1073.4,55.2 1073.7,62.8 1074,54 1074.3,52 1074.6,51.1 1074.9,59.4 1075.2,52.4 1075.5,56 1075.8,56.4 1076.1,60.8 1076.4,52.9 1076.7,56.7 1077,57.4 1077.3,60.9 1077.6,57.1 1077.9,59 1078.2,58 1078.5,62.8 1078.8,63.3 1079.1,59.8 1079.4,62.9 1079.7,57.9 1080,63.3 1080.3,60.3 1080.6,61.4 1080.9,65.2 1081.2,68.2 1081.5,62.3 1081.8,61.1 1082.1,60.1 1082.4,63.2 1082.7,61 1083,64.6 1083.3,66.6 1083.6,64 1083.9,60.7 1084.2,64.1 1084.5,59.2 1084.8,55.5 1085.1,63.8 1085.4,65.4 1085.7,64.4 1086,60 1086.3,51.2 1086.6,58.6 1086.9,62.4 1087.2,59.4 1087.5,64.9 1087.8,58.7 1088.1,62.3 1088.4,61.7 1088.7,61.8 1089,56.7 1089.3,61 1089.6,62.4 1089.9,60.6 1090.2,58.1 1090.5,59.9 1090.8,58 1091.1,61.9 1091.4,63.4 1091.7,61.1 1092,60.8 1092.3,59.5 1092.6,60.9 1092.9,54.5 1093.2,61.1 1093.5,62.7 1093.8,58.4 1094.1,62.2 1094.4,56 1094.7,60.2 1095,59.7 1095.3,61 1095.6,59.9 1095.9,65.9 1096.2,49.3 1096.5,54 1096.8,56.2 1097.1,57.7 1097.4,54.6 1097.7,54.6 1098,51.9 1098.3,53.4 1098.6,55 1098.9,61 1099.2,54.5 1099.5,65.3 1099.8,60.3 1100.1,56.7 1100.4,60.4 1100.7,60.4 1101,54.1 1101.3,53.7 1101.6,63.1 1101.9,56 1102.2,61.1 1102.5,60.2 1102.8,52.9 1103.1,59.6 1103.4,59.6 1103.7,61.9 1104,58.3 1104.3,60 1104.6,59.6 1104.9,58.2 1105.2,64.1 1105.5,62 1105.8,63.9 1106.1,60.5 1106.4,62.6 1106.7,56.8 1107,57.9 1107.3,62.2 1107.6,59 1107.9,58.7 1108.2,60.1 1108.5,55.2 1108.8,59.9 1109.1,60.6 1109.4,57.7 1109.7,54.8 1110,63.1 1110.3,59.5 1110.6,55 1110.9,56.3 1111.2,52.9 1111.5,53 1111.8,53.3 1112.1,56.3 1112.4,60 1112.7,61.3 1113,58.6 1113.3,61.7 1113.6,60.6 1113.9,55.5 1114.2,56.2 1114.5,59.3 1114.8,60.1 1115.1,61.9 1115.4,54.4 1115.7,52.2 1116,63.6 1116.3,56.8 1116.6,60.8 1116.9,58.4 1117.2,54 1117.5,62.6 1117.8,59.7 1118.1,62.4 1118.4,60.5 1118.7,56.1 1119,59.1 1119.3,62 1119.6,56.4 1119.9,58.7 1120.2,61.6 1120.5,55.1 1120.8,57.9 1121.1,59.1 1121.4,60.4 1121.7,57.3 1122,55.9 1122.3,59.5 1122.6,56.1 1122.9,58.8 1123.2,59 1123.5,57.6 1123.8,60.4 1124.1,60.9 1124.4,54.2 1124.7,59.3 1125,57 1125.3,56.2 1125.6,57.4 1125.9,60.3 1126.2,56.7 1126.5,56.3 1126.8,53.8 1127.1,56.3 1127.4,56.9 1127.7,54.2 1128,56 1128.3,57.9 1128.6,60.1 1128.9,55.5 1129.2,63.2 1129.5,60.3 1129.8,59.7 1130.1,58.9 1130.4,57.4 1130.7,55.2 1131,57 1131.3,57.1 1131.6,57.5 1131.9,61.7 1132.2,62.4 1132.5,58 1132.8,59.9 1133.1,54.9 1133.4,50.9 1133.7,57.3 1134,58.1 1134.3,61.3 1134.6,64.3 1134.9,58.1 1135.2,61.2 1135.5,60.2 1135.8,57.4 1136.1,59.1 1136.4,58 1136.7,62.1 1137,54.1 1137.3,50 1137.6,57 1137.9,59.5 1138.2,59.9 1138.5,55.7 1138.8,58.4 1139.1,54.5 1139.4,58.8 1139.7,54.6 1140,54 1140.3,59.9 1140.6,53.7 1140.9,53.7 1141.2,60.8 1141.5,59.2 1141.8,52.2 1142.1,62.4 1142.4,54.7 1142.7,56.4 1143,57.6 1143.3,63.8 1143.6,57.8 1143.9,59.7 1144.2,56.7 1144.5,58 1144.8,52.6 1145.1,56.9 1145.4,55.4 1145.7,53.6 1146,57.4 1146.3,59.6 1146.6,57.3 1146.9,55.2 1147.2,57.8 1147.5,52.1 1147.8,56.3 1148.1,57.4 1148.4,55.9 1148.7,55.1 1149,56 1149.3,53.4 1149.6,54.1 1149.9,56.6 1150.2,49.7 1150.5,59.6 1150.8,56.7 1151.1,56.3 1151.4,52.7 1151.7,54.8 1152,54.5 1152.3,58.5 1152.6,57.9 1152.9,59.5 1153.2,56.5 1153.5,50.9 1153.8,54.2 1154.1,55.3 1154.4,58.2 1154.7,52.9 1155,56.5 1155.3,57.1 1155.6,54.6 1155.9,55.5 1156.2,62.7 1156.5,55.7 1156.8,61.2 1157.1,56.7 1157.4,54.5 1157.7,58.6 1158,55.3 1158.3,55.4 1158.6,49.7 1158.9,57 1159.2,54.4 1159.5,59.2 1159.8,56.2 1160.1,54.8 1160.4,52.5 1160.7,55.6 1161,54 1161.3,52.9 1161.6,60.7 1161.9,55 1162.2,57.9 1162.5,60.2 1162.8,57.7 1163.1,58.3 1163.4,58.2 1163.7,59.5 1164,57.7 1164.3,57.9 1164.6,57.5 1164.9,56 1165.2,55.5 1165.5,54.5 1165.8,57.5 1166.1,60.8 1166.4,53.4 1166.7,54.5 1167,53.1 1167.3,56.2 1167.6,59.1 1167.9,55 1168.2,57.2 1168.5,49.6 1168.8,56.4 1169.1,57.9 1169.4,53.8 1169.7,51 1170,56.8 1170.3,54.8 1170.6,59.6 1170.9,52.5 1171.2,53.6 1171.5,52.8 1171.8,60.9 1172.1,61.7 1172.4,77.1 1172.7,81 1173,85.6 1173.3,83.7 1173.6,84.8 1173.9,82.5 1174.2,79.4 1174.5,78.7 1174.8,79.6 1175.1,75.8 1175.4,75.5 1175.7,74.8 1176,74.3 1176.3,70.4 1176.6,70.4 1176.9,73.4 1177.2,74.4 1177.5,71.7 1177.8,61 1178.1,66.3 1178.4,71.5 1178.7,74.8 1179,73.2 1179.3,68.7 1179.6,67.8 1179.9,66.8 1180.2,72.5 1180.5,67.4 1180.8,64.4 1181.1,69.8 1181.4,69.3 1181.7,60.7 1182,64.2 1182.3,68.6 1182.6,67.7 1182.9,61.5 1183.2,64.2 1183.5,65.8 1183.8,63.9 1184.1,59.9 1184.4,62.4 1184.7,63.9 1185,63.2 1185.3,58 1185.6,67.5 1185.9,61.5 1186.2,56.3 1186.5,59.3 1186.8,51.9 1187.1,57.7 1187.4,58.7 1187.7,65.6 1188,58.9 1188.3,59.6 1188.6,60.6 1188.9,58.5 1189.2,55.8 1189.5,61.5 1189.8,59.1 1190.1,61.4 1190.4,59.8 1190.7,54.4 1191,55.7 1191.3,56.5 1191.6,56.9 1191.9,59.6 1192.2,57.6 1192.5,56.1 1192.8,62.9 1193.1,63.5 1193.4,59.5 1193.7,56.4 1194,57.9 1194.3,57.9 1194.6,57.3 1194.9,56.7 1195.2,60.3 1195.5,60.4 1195.8,60.5 1196.1,56.4 1196.4,59.2 1196.7,64.3 1197,59.7 1197.3,58.5 1197.6,67.3 1197.9,60.6 1198.2,58.6 1198.5,62.8 1198.8,58.4 1199.1,59.2 1199.4,63.1 1199.7,58.7 1200,56.1 1200.3,62.3 1200.6,62.8 1200.9,56.9 1201.2,59.9 1201.5,64.4 1201.8,62 1202.1,63.5 1202.4,60.6 1202.7,59.7 1203,59.5 1203.3,60.2 1203.6,61.9 1203.9,53.8 1204.2,56.3 1204.5,62.3 1204.8,64.4 1205.1,60.4 1205.4,62.2 1205.7,60 1206,58.7 1206.3,62.7 1206.6,61.5 1206.9,59.6 1207.2,57.6 1207.5,60.8 1207.8,60.4 1208.1,59.9 1208.4,60 1208.7,58.4 1209,60.8 1209.3,60.1 1209.6,64.2 1209.9,62.9 1210.2,59.2 1210.5,55.4 1210.8,61 1211.1,57.3 1211.4,62.9 1211.7,55.1 1212,58 1212.3,62.4 1212.6,57.3 1212.9,59.3 1213.2,59.4 1213.5,55.4 1213.8,58.7 1214.1,54.2 1214.4,55.3 1214.7,63.1 1215,56.7 1215.3,58.2 1215.6,54.5 1215.9,61 1216.2,54.5 1216.5,55.2 1216.8,56.1 1217.1,54.7 1217.4,53.1 1217.7,56.5 1218,55.5 1218.3,56.7 1218.6,54.8 1218.9,54.5 1219.2,56.3 1219.5,56.8 1219.8,54 1220.1,56.9 1220.4,56.5 1220.7,60.1 1221,58.3 1221.3,58.1 1221.6,59.9 1221.9,55.1 1222.2,61.3 1222.5,57.8 1222.8,55.7 1223.1,58.1 1223.4,54.3 1223.7,62.2 1224,58.3 1224.3,53.3 1224.6,54 1224.9,56.2 1225.2,56.3 1225.5,58.9 1225.8,60.4 1226.1,60.8 1226.4,59.4 1226.7,55.4 1227,61.3 1227.3,61.6 1227.6,52.8 1227.9,56.4 1228.2,56.7 1228.5,55.5 1228.8,60.7 1229.1,58.9 1229.4,57.5 1229.7,53.9 1230,51.7 1230.3,54.3 1230.6,54.4 1230.9,54.4 1231.2,50.7 1231.5,52.3 1231.8,55.2 1232.1,57.5 1232.4,55.3 1232.7,55.7 1233,56.1 1233.3,56.1 1233.6,60.3 1233.9,54.5 1234.2,57.2 1234.5,53 1234.8,59.1 1235.1,58.3 1235.4,58.8 1235.7,56.5 1236,56 1236.3,52.9 1236.6,57.2 1236.9,60 1237.2,48.8 1237.5,61.7 1237.8,54.2 1238.1,57.9 1238.4,54.5 1238.7,57.3 1239,60.1 1239.3,57.1 1239.6,62 1239.9,57.1 1240.2,59 1240.5,55.1 1240.8,54.7 1241.1,55.2 1241.4,56.9 1241.7,60.3 1242,55.7 1242.3,52.3 1242.6,54.5 1242.9,52.2 1243.2,57.5 1243.5,55.5 1243.8,52.6 1244.1,54 1244.4,57.8 1244.7,57.3 1245,54 1245.3,57.5 1245.6,56.6 1245.9,54.4 1246.2,56.5 1246.5,60.9 1246.8,52.4 1247.1,58.8 1247.4,55.9 1247.7,58.1 1248,57.6 1248.3,57.6 1248.6,56.4 1248.9,56.8 1249.2,58.8 1249.5,58.2 1249.8,52.6 1250.1,57.9 1250.4,60.8 1250.7,59.7 1251,58.2 1251.3,53.1 1251.6,59.8 1251.9,60.5 1252.2,62.9 1252.5,55.8 1252.8,57.6 1253.1,56.9 1253.4,57.3 1253.7,53.2 1254,56.6 1254.3,56.3 1254.6,56.6 1254.9,61.9"/>
<polyline fill="none" stroke="#e30b17" stroke-width="2" stroke-linejoin="round" points="84,183.6 84.3,178.1 84.6,177.5 84.9,171.9 85.2,179.1 85.5,178.2 85.8,177.6 86.1,180 86.4,180.5 86.7,176.4 87,177 87.3,178 87.6,180.9 87.9,180.4 88.2,175.1 88.5,175.5 88.8,180.7 89.1,182.7 89.4,178.5 89.7,176.4 90,181.5 90.3,177.8 90.6,181 90.9,183.2 91.2,181.1 91.5,179.4 91.8,181.6 92.1,177.8 92.4,179 92.7,177.8 93,178.9 93.3,178 93.6,178.9 93.9,178.5 94.2,179.5 94.5,179.4 94.8,180 95.1,183 95.4,175.3 95.7,183 96,178.8 96.3,175.9 96.6,178.3 96.9,179.2 97.2,181.6 97.5,175.7 97.8,179.6 98.1,178.9 98.4,173.9 98.7,175.4 99,179.8 99.3,180.1 99.6,181 99.9,179.6 100.2,179.6 100.5,179.1 100.8,182.2 101.1,176.8 101.4,178.3 101.7,179.8 102,174 102.3,181.6 102.6,175.4 102.9,177.4 103.2,183.5 103.5,176 103.8,177.2 104.1,183.1 104.4,176.4 104.7,178.5 105,181 105.3,180.8 105.6,180.8 105.9,180 106.2,182.1 106.5,181.1 106.8,180.2 107.1,176.5 107.4,176.9 107.7,173.9 108,180.9 108.3,174 108.6,180.9 108.9,183.4 109.2,175.7 109.5,176.4 109.8,177.4 110.1,181.3 110.4,177.1 110.7,178.7 111,177.7 111.3,177.5 111.6,181.4 111.9,175.3 112.2,177.9 112.5,178.1 112.8,179.7 113.1,174.2 113.4,181.1 113.7,179.7 114,181.2 114.3,179.1 114.6,174.6 114.9,177.2 115.2,180.9 115.5,178.6 115.8,178.4 116.1,183.1 116.4,184.2 116.7,178.4 117,184.1 117.3,173.6 117.6,173.3 117.9,181 118.2,178.3 118.5,180.6 118.8,180.3 119.1,178.8 119.4,180.9 119.7,179.3 120,175.2 120.3,180.3 120.6,180.3 120.9,184.7 121.2,176.4 121.5,179.3 121.8,178.3 122.1,178.9 122.4,183.7 122.7,180.2 123,177.7 123.3,180.1 123.6,183.5 123.9,184.6 124.2,193.1 124.5,204.9 124.8,210.2 125.1,214.8 125.4,220.8 125.7,228.6 126,231.9 126.3,246 126.6,251.5 126.9,257.9 127.2,253.6 127.5,251.2 127.8,250.7 128.1,246.3 128.4,240.8 128.7,240.4 129,238.6 129.3,231.7 129.6,229.5 129.9,225.9 130.2,222.7 130.5,226 130.8,223.3 131.1,220.6 131.4,214.5 131.7,212.8 132,214 132.3,211.5 132.6,211.3 132.9,207.9 133.2,209.8 133.5,211.6 133.8,209.9 134.1,208.7 134.4,203.4 134.7,204.7 135,199.9 135.3,202.5 135.6,197.6 135.9,196.2 136.2,195 136.5,197.9 136.8,195.1 137.1,194.4 137.4,190.1 137.7,193.2 138,187.7 138.3,195.2 138.6,189.9 138.9,189.9 139.2,188.5 139.5,183.9 139.8,183.6 140.1,186.5 140.4,190.2 140.7,182.6 141,183 141.3,184.6 141.6,179.8 141.9,179.4 142.2,183.1 142.5,183.9 142.8,183.1 143.1,188.2 143.4,183.4 143.7,184.7 144,187.4 144.3,187.5 144.6,178.9 144.9,182.4 145.2,186.3 145.5,179 145.8,179.9 146.1,179.1 146.4,178.6 146.7,179.4 147,182.7 147.3,185.9 147.6,186.8 147.9,182.8 148.2,177.5 148.5,182.5 148.8,182.4 149.1,184.3 149.4,183.3 149.7,178.2 150,183.5 150.3,177.3 150.6,180.8 150.9,183.4 151.2,183.8 151.5,187.1 151.8,176.4 152.1,183.4 152.4,183.9 152.7,181.2 153,184 153.3,179.6 153.6,184.6 153.9,184 154.2,180 154.5,181.1 154.8,182.4 155.1,180.8 155.4,185.6 155.7,183 156,185.9 156.3,185.4 156.6,182.4 156.9,181.3 157.2,178.9 157.5,179.6 157.8,179.4 158.1,182 158.4,178.5 158.7,180.5 159,181 159.3,178.9 159.6,180 159.9,184.2 160.2,184.6 160.5,177.9 160.8,179.2 161.1,178 161.4,178 161.7,182.4 162,180.3 162.3,181.6 162.6,182.9 162.9,177.1 163.2,177.6 163.5,178.5 163.8,181.1 164.1,178.3 164.4,180.1 164.7,181.7 165,181.2 165.3,179.5 165.6,176 165.9,174.3 166.2,181.6 166.5,179.6 166.8,175.9 167.1,177.2 167.4,176.8 167.7,173.8 168,179.5 168.3,176.7 168.6,178 168.9,181.2 169.2,179.3 169.5,181.3 169.8,180.8 170.1,179.7 170.4,179.8 170.7,184.6 171,179.1 171.3,184 171.6,177.3 171.9,181.9 172.2,180.6 172.5,177.8 172.8,172.8 173.1,184 173.4,176.3 173.7,176.6 174,179.6 174.3,179.7 174.6,180.2 174.9,178.5 175.2,175.4 175.5,181.5 175.8,176.4 176.1,179.6 176.4,180.5 176.7,182.3 177,178.1 177.3,177.7 177.6,177.8 177.9,173.5 178.2,176.2 178.5,175.5 178.8,174.6 179.1,178 179.4,176.7 179.7,181.6 180,181.1 180.3,171.8 180.6,177.9 180.9,175 181.2,179.4 181.5,178.2 181.8,179.8 182.1,178.4 182.4,180 182.7,176.7 183,171 183.3,174.3 183.6,175.4 183.9,176.2 184.2,174.7 184.5,181.6 184.8,176.7 185.1,180.9 185.4,176.8 185.7,182.2 186,174.8 186.3,179.6 186.6,174.4 186.9,179.5 187.2,182.8 187.5,173.9 187.8,176.1 188.1,179.4 188.4,178 188.7,174.7 189,181.6 189.3,178.5 189.6,182.6 189.9,179.9 190.2,175.7 190.5,177.9 190.8,182.9 191.1,176 191.4,178.8 191.7,181.6 192,182.8 192.3,182.8 192.6,176.7 192.9,186.2 193.2,179.7 193.5,179.9 193.8,179.4 194.1,179.1 194.4,176.9 194.7,178.8 195,182.8 195.3,175.8 195.6,173 195.9,181 196.2,180.5 196.5,181.5 196.8,183.8 197.1,177.5 197.4,179.3 197.7,180.4 198,182.3 198.3,181.8 198.6,176.5 198.9,174.9 199.2,178.1 199.5,174.2 199.8,181.8 200.1,177.5 200.4,177.4 200.7,175.9 201,182.3 201.3,179.2 201.6,177.2 201.9,180.1 202.2,178.6 202.5,180.2 202.8,182 203.1,177.2 203.4,179.3 203.7,179.2 204,181 204.3,179.8 204.6,177.9 204.9,176.4 205.2,179 205.5,175.1 205.8,180.1 206.1,178.4 206.4,180.1 206.7,177.1 207,176.4 207.3,176.3 207.6,182.1 207.9,178.2 208.2,177.9 208.5,173.6 208.8,178.5 209.1,169.4 209.4,182.3 209.7,177.3 210,177.8 210.3,173.4 210.6,175.5 210.9,184.1 211.2,185.9 211.5,191.3 211.8,197.4 212.1,199.4 212.4,196.6 212.7,202.8 213,206 213.3,205.3 213.6,200.8 213.9,199.3 214.2,201.3 214.5,200.7 214.8,202.2 215.1,198.7 215.4,202.3 215.7,192.6 216,193.2 216.3,197.1 216.6,194.5 216.9,192.1 217.2,196 217.5,196.7 217.8,196.8 218.1,191.7 218.4,191.8 218.7,192.1 219,190.6 219.3,192.3 219.6,188.1 219.9,190.1 220.2,182.1 220.5,189.9 220.8,191.8 221.1,186.5 221.4,188.9 221.7,181.4 222,184.4 222.3,180.9 222.6,185.6 222.9,186 223.2,180.7 223.5,182 223.8,182.4 224.1,189.8 224.4,182.8 224.7,183.3 225,183.8 225.3,183.5 225.6,181.6 225.9,178.9 226.2,180.5 226.5,186.4 226.8,182.6 227.1,180.9 227.4,177.4 227.7,181.2 228,181.6 228.3,179.6 228.6,183.4 228.9,179.5 229.2,180.4 229.5,183.3 229.8,181.5 230.1,184 230.4,180.9 230.7,184.5 231,193.5 231.3,201.7 231.6,213.3 231.9,220.5 232.2,220.5 232.5,218.9 232.8,217 233.1,209.9 233.4,210.1 233.7,207.6 234,210.3 234.3,204.3 234.6,206.9 234.9,199.5 235.2,202.2 235.5,203.7 235.8,199.1 236.1,201.8 236.4,192.6 236.7,197 237,196.8 237.3,195 237.6,190.6 237.9,195.7 238.2,186.7 238.5,195.2 238.8,193.1 239.1,194.2 239.4,190.3 239.7,187.6 240,189 240.3,188.8 240.6,191.3 240.9,188.4 241.2,189.7 241.5,189.6 241.8,191.8 242.1,182.1 242.4,186.2 242.7,188.5 243,187.9 243.3,184.2 243.6,184.5 243.9,184.3 244.2,184.7 244.5,182 244.8,181.7 245.1,180.9 245.4,183.8 245.7,189.7 246,184.4 246.3,190.3 246.6,194.1 246.9,190.5 247.2,196.5 247.5,189.1 247.8,193.6 248.1,187.9 248.4,184.4 248.7,188.4 249,192.5 249.3,185 249.6,187.7 249.9,183.3 250.2,183.6 250.5,187 250.8,184.9 251.1,187 251.4,188.7 251.7,182.2 252,183.5 252.3,185.9 252.6,192.2 252.9,184.4 253.2,183.4 253.5,185.5 253.8,189.7 254.1,182.4 254.4,182.8 254.7,183.8 255,185.5 255.3,189.1 255.6,179.7 255.9,178.6 256.2,184 256.5,185.8 256.8,179.4 257.1,184.9 257.4,190.1 257.7,186.8 258,190.5 258.3,189.2 258.6,190 258.9,189 259.2,188 259.5,190.3 259.8,185.3 260.1,186.3 260.4,188.4 260.7,183.7 261,184.8 261.3,182.8 261.6,181.5 261.9,188.5 262.2,183.5 262.5,185.9 262.8,181.9 263.1,179.5 263.4,177.5 263.7,178.3 264,176.5 264.3,180 264.6,175.6 264.9,178.9 265.2,179.8 265.5,178.5 265.8,178.5 266.1,180.5 266.4,180.9 266.7,179.2 267,179.6 267.3,178.4 267.6,181.5 267.9,180.1 268.2,178.9 268.5,186.2 268.8,192.8 269.1,196.1 269.4,197.2 269.7,205.9 270,209.5 270.3,207.1 270.6,207.1 270.9,199.6 271.2,202.4 271.5,201.3 271.8,206.2 272.1,207.8 272.4,207.8 272.7,210.1 273,208 273.3,214 273.6,211.7 273.9,222.7 274.2,219.3 274.5,210.1 274.8,205.2 275.1,214.3 275.4,206.7 275.7,209.1 276,202.8 276.3,205.5 276.6,202.2 276.9,204.3 277.2,200.6 277.5,204.3 277.8,197.2 278.1,202 278.4,198 278.7,199.1 279,192.8 279.3,191.6 279.6,198.4 279.9,191.3 280.2,192.7 280.5,192.7 280.8,190.5 281.1,193.1 281.4,188.1 281.7,188.1 282,193.5 282.3,188.2 282.6,192 282.9,191.3 283.2,192.8 283.5,189.8 283.8,183 284.1,185.6 284.4,186 284.7,189.8 285,187.1 285.3,184.4 285.6,186.2 285.9,183.8 286.2,185.6 286.5,184.2 286.8,186.5 287.1,184.1 287.4,185.8 287.7,183.2 288,185.3 288.3,182.5 288.6,184.5 288.9,183.7 289.2,182.4 289.5,182 289.8,182.1 290.1,184.3 290.4,176.7 290.7,186 291,176.6 291.3,182.2 291.6,182.1 291.9,185 292.2,183.2 292.5,182.5 292.8,182.5 293.1,185 293.4,188.9 293.7,183.8 294,177 294.3,181.2 294.6,183.2 294.9,191.2 295.2,179.7 295.5,180.6 295.8,182.8 296.1,182.4 296.4,178.1 296.7,183.8 297,177.7 297.3,180.5 297.6,184.5 297.9,177.1 298.2,180.1 298.5,185.3 298.8,179.9 299.1,177.7 299.4,178.9 299.7,182.6 300,176.3 300.3,179 300.6,176.5 300.9,177.4 301.2,184.1 301.5,180.1 301.8,179.3 302.1,181.8 302.4,178.6 302.7,177.1 303,183.3 303.3,182.8 303.6,178.2 303.9,182.4 304.2,184.6 304.5,182.1 304.8,182 305.1,176.8 305.4,180.1 305.7,175.1 306,182.6 306.3,179 306.6,183.3 306.9,177.5 307.2,181.7 307.5,175.1 307.8,178.1 308.1,180.4 308.4,180.2 308.7,178.5 309,174 309.3,181.7 309.6,179.9 309.9,181.5 310.2,181.9 310.5,177.7 310.8,180 311.1,186.1 311.4,177 311.7,180.3 312,177.1 312.3,183.3 312.6,178.8 312.9,175.8 313.2,177.2 313.5,175.6 313.8,173.5 314.1,172.3 314.4,177.5 314.7,176.8 315,180.5 315.3,177.6 315.6,180.8 315.9,184.9 316.2,177.1 316.5,176.8 316.8,183 317.1,186.6 317.4,177.5 317.7,175 318,178.6 318.3,178.5 318.6,181 318.9,176 319.2,178.2 319.5,177.5 319.8,174.3 320.1,174.4 320.4,180.5 320.7,180.8 321,176.8 321.3,182.8 321.6,181 321.9,179.9 322.2,180.5 322.5,179.7 322.8,180.6 323.1,181.1 323.4,178.8 323.7,173 324,178.1 324.3,176.6 324.6,175.7 324.9,180.6 325.2,174.3 325.5,181.6 325.8,177.6 326.1,175.7 326.4,176.6 326.7,185.5 327,182.7 327.3,178.1 327.6,182 327.9,183.7 328.2,176.3 328.5,177.7 328.8,181.1 329.1,180.2 329.4,178.3 329.7,184.1 330,181.4 330.3,182.3 330.6,186.9 330.9,181.7 331.2,187.4 331.5,181.4 331.8,180.2 332.1,181.3 332.4,183.1 332.7,182.7 333,181.7 333.3,176.4 333.6,177.7 333.9,180.6 334.2,183.7 334.5,185.4 334.8,175.2 335.1,181.5 335.4,180.5 335.7,181.4 336,182.6 336.3,179.7 336.6,178.2 336.9,184.5 337.2,184.2 337.5,180.6 337.8,181.5 338.1,180.2 338.4,177.7 338.7,183.2 339,179.5 339.3,178.4 339.6,179.7 339.9,185.7 340.2,182.3 340.5,181.4 340.8,181 341.1,182.4 341.4,181.7 341.7,175.8 342,178.6 342.3,176.9 342.6,179 342.9,178 343.2,172.4 343.5,181.2 343.8,178.4 344.1,172.5 344.4,180.6 344.7,177.9 345,178.7 345.3,177.6 345.6,177.8 345.9,176 346.2,173.2 346.5,176 346.8,178.1 347.1,177.7 347.4,179.6 347.7,177 348,171.3 348.3,180.2 348.6,175.8 348.9,174.9 349.2,177.9 349.5,175.2 349.8,179.6 350.1,176 350.4,184 350.7,178.1 351,177.1 351.3,176.7 351.6,172.8 351.9,177 352.2,177.1 352.5,177.8 352.8,172 353.1,178 353.4,181.3 353.7,179.1 354,184.7 354.3,191.6 354.6,193.7 354.9,200.3 355.2,210.3 355.5,214.1 355.8,216.2 356.1,217.9 356.4,226.5 356.7,219.3 357,211.8 357.3,214.2 357.6,213.8 357.9,210.6 358.2,203.3 358.5,212.1 358.8,207.5 359.1,203.3 359.4,204.5 359.7,200.6 360,198.9 360.3,201.2 360.6,192.6 360.9,199.9 361.2,197.8 361.5,198.1 361.8,197.8 362.1,198.9 362.4,197.8 362.7,195.7 363,191.4 363.3,194 363.6,189.8 363.9,187.2 364.2,190.4 364.5,189.5 364.8,191.1 365.1,181.5 365.4,188.5 365.7,188.9 366,187 366.3,190 366.6,183.4 366.9,186.7 367.2,184.4 367.5,184.9 367.8,182.3 368.1,184.5 368.4,186.4 368.7,184.7 369,185.5 369.3,182 369.6,188.6 369.9,182.1 370.2,183.5 370.5,184.5 370.8,181.6 371.1,183.3 371.4,181.3 371.7,184.7 372,181 372.3,180.2 372.6,176.5 372.9,179.8 373.2,181.2 373.5,178.8 373.8,173.9 374.1,174.9 374.4,175.8 374.7,176.6 375,173 375.3,182.1 375.6,177 375.9,177.7 376.2,176.2 376.5,177.5 376.8,182.8 377.1,175.2 377.4,176.2 377.7,175.3 378,177 378.3,182.6 378.6,177.3 378.9,177.8 379.2,174.4 379.5,179.4 379.8,182.2 380.1,181.3 380.4,182.1 380.7,185.6 381,185.6 381.3,184.8 381.6,184 381.9,182.5 382.2,191.4 382.5,182.4 382.8,188 383.1,185.9 383.4,183.2 383.7,187.1 384,182.5 384.3,188 384.6,181.6 384.9,185.6 385.2,187.5 385.5,181.1 385.8,189.1 386.1,185.5 386.4,176.9 386.7,186.6 387,188 387.3,181.9 387.6,181.5 387.9,182.4 388.2,176 388.5,182 388.8,184 389.1,179.8 389.4,184.3 389.7,187.3 390,175.9 390.3,175.9 390.6,178.9 390.9,182.1 391.2,181.6 391.5,178.3 391.8,177.7 392.1,178.4 392.4,185.2 392.7,177.6 393,178.5 393.3,182.4 393.6,179.5 393.9,177.7 394.2,184.5 394.5,181.3 394.8,178.1 395.1,179.1 395.4,183.2 395.7,180.3 396,182.4 396.3,183.8 396.6,184.7 396.9,176.5 397.2,179.8 397.5,180.3 397.8,181.3 398.1,183.2 398.4,184.4 398.7,180.2 399,178.6 399.3,182.5 399.6,180.4 399.9,186.3 400.2,182 400.5,181 400.8,183.5 401.1,179.1 401.4,180 401.7,180.2 402,182 402.3,183.6 402.6,182.4 402.9,182 403.2,179.1 403.5,180.8 403.8,179.1 404.1,182.6 404.4,177.3 404.7,179.3 405,180.1 405.3,181.4 405.6,177.7 405.9,179.1 406.2,177.3 406.5,175.8 406.8,182.3 407.1,180.1 407.4,175.2 407.7,177.1 408,181.4 408.3,178.8 408.6,177.7 408.9,184.1 409.2,179 409.5,179.5 409.8,182.4 410.1,179 410.4,180.9 410.7,181.1 411,182.4 411.3,178 411.6,183.2 411.9,181.3 412.2,185.5 412.5,181.2 412.8,179.5 413.1,179.7 413.4,178 413.7,181.2 414,180.9 414.3,183.8 414.6,182 414.9,179.9 415.2,185 415.5,180.8 415.8,182.6 416.1,185.5 416.4,184.8 416.7,179.2 417,181.2 417.3,184.8 417.6,183.7 417.9,182.8 418.2,183.8 418.5,175.6 418.8,180.7 419.1,177.8 419.4,179.5 419.7,179.8 420,182 420.3,183.7 420.6,182.3 420.9,180.5 421.2,178.7 421.5,182.8 421.8,179.9 422.1,174.3 422.4,178.5 422.7,179.9 423,175.8 423.3,178.8 423.6,182.2 423.9,177.1 424.2,177.8 424.5,178.3 424.8,175.6 425.1,177.1 425.4,175.4 425.7,177 426,175.6 426.3,180.8 426.6,177.9 426.9,180.5 427.2,174.5 427.5,178.3 427.8,180 428.1,180.5 428.4,176.9 428.7,179 429,179.5 429.3,178.3 429.6,178.1 429.9,180.7 430.2,176.1 430.5,174.8 430.8,178.1 431.1,180.5 431.4,173.4 431.7,183.3 432,180.1 432.3,181.7 432.6,177.6 432.9,180 433.2,185.6 433.5,185.8 433.8,182.3 434.1,179.7 434.4,180.1 434.7,184.2 435,178.6 435.3,177.9 435.6,179.9 435.9,182.6 436.2,177 436.5,180.5 436.8,180.7 437.1,180.3 437.4,179.8 437.7,182.3 438,181.3 438.3,175.1 438.6,183.8 438.9,180.5 439.2,180.6 439.5,178.7 439.8,178.8 440.1,172.1 440.4,179 440.7,181.1 441,180.9 441.3,177.1 441.6,173 441.9,176.3 442.2,178.8 442.5,182.9 442.8,175.5 443.1,180 443.4,181.6 443.7,181.7 444,179.9 444.3,172.6 444.6,181.8 444.9,180.6 445.2,181.8 445.5,178.3 445.8,179.5 446.1,185 446.4,180.3 446.7,180.5 447,178.3 447.3,184.1 447.6,176.2 447.9,179.9 448.2,182.1 448.5,180.8 448.8,183.6 449.1,182.5 449.4,184.9 449.7,180.6 450,180.9 450.3,182.3 450.6,176.3 450.9,185.3 451.2,178.5 451.5,184.3 451.8,185.5 452.1,184.1 452.4,181.3 452.7,179.2 453,175 453.3,182.2 453.6,180.4 453.9,185.8 454.2,180.4 454.5,183 454.8,180.4 455.1,182.5 455.4,180 455.7,180.3 456,175.3 456.3,178.5 456.6,179.9 456.9,183.9 457.2,181.2 457.5,177.3 457.8,184.5 458.1,180.9 458.4,183.1 458.7,177.3 459,171.2 459.3,177.6 459.6,176.4 459.9,180.4 460.2,175.7 460.5,177.5 460.8,175.8 461.1,180.3 461.4,177 461.7,182.9 462,181.2 462.3,181.1 462.6,177.8 462.9,179.1 463.2,180.5 463.5,176.4 463.8,182.4 464.1,179 464.4,182.3 464.7,184.9 465,183.4 465.3,176 465.6,182.5 465.9,178.5 466.2,178.3 466.5,179.1 466.8,176.3 467.1,180.4 467.4,177.9 467.7,182.8 468,180.7 468.3,172.6 468.6,176.8 468.9,176.6 469.2,178 469.5,178.6 469.8,180.7 470.1,179.6 470.4,177.2 470.7,181.7 471,183.5 471.3,180.7 471.6,183.9 471.9,182.2 472.2,179.5 472.5,179.9 472.8,180.6 473.1,182.2 473.4,180.8 473.7,182.6 474,182.8 474.3,176.8 474.6,176.5 474.9,179.2 475.2,180.3 475.5,181.3 475.8,181.1 476.1,182.7 476.4,182.6 476.7,189.7 477,190.7 477.3,197.4 477.6,202.7 477.9,202.2 478.2,204.1 478.5,210.3 478.8,200.1 479.1,199.4 479.4,196.9 479.7,194.6 480,200.3 480.3,195.2 480.6,194.5 480.9,193.2 481.2,186.9 481.5,195.9 481.8,191.4 482.1,192.1 482.4,195.5 482.7,191 483,191.4 483.3,191.2 483.6,193.8 483.9,185.7 484.2,187.6 484.5,183 484.8,188.6 485.1,190.1 485.4,187.1 485.7,193.5 486,190.3 486.3,192 486.6,187.1 486.9,191.5 487.2,184.7 487.5,187.2 487.8,186.2 488.1,184.4 488.4,189.7 488.7,188.7 489,183.1 489.3,186.4 489.6,184.8 489.9,184.5 490.2,185.3 490.5,181.7 490.8,183.4 491.1,183.5 491.4,180.6 491.7,181 492,184.5 492.3,182.2 492.6,188.6 492.9,187.5 493.2,179.5 493.5,182.5 493.8,176 494.1,179.5 494.4,178.8 494.7,178.5 495,175 495.3,186.1 495.6,190.7 495.9,193 496.2,200.1 496.5,207.4 496.8,206.7 497.1,196.9 497.4,203.4 497.7,192.6 498,193.5 498.3,193.4 498.6,197.6 498.9,193.8 499.2,192.7 499.5,194.3 499.8,190.3 500.1,187.5 500.4,191.9 500.7,186.9 501,183.3 501.3,181.3 501.6,185.8 501.9,190 502.2,186.4 502.5,184.4 502.8,187.4 503.1,179.8 503.4,185.3 503.7,181.6 504,187 504.3,180.5 504.6,184.8 504.9,183 505.2,182.8 505.5,184.8 505.8,182.7 506.1,186.5 506.4,182.2 506.7,177.1 507,187.3 507.3,187.4 507.6,184.7 507.9,186.5 508.2,184.4 508.5,180.1 508.8,176.8 509.1,179.3 509.4,181.4 509.7,183.3 510,177.9 510.3,179.2 510.6,185.7 510.9,179.7 511.2,179.4 511.5,179.6 511.8,186.4 512.1,184.3 512.4,184.6 512.7,186.4 513,184 513.3,184.6 513.6,181.7 513.9,183.1 514.2,182.2 514.5,181.9 514.8,176.2 515.1,178.4 515.4,177.9 515.7,177.4 516,179.1 516.3,184.3 516.6,181.9 516.9,179.4 517.2,180.4 517.5,184.1 517.8,177.4 518.1,182.4 518.4,186.1 518.7,186.6 519,184.3 519.3,183.9 519.6,177.6 519.9,181.1 520.2,183.5 520.5,184.9 520.8,185 521.1,177.9 521.4,182.5 521.7,184.5 522,181.4 522.3,183.1 522.6,185.1 522.9,184.6 523.2,184.1 523.5,185.6 523.8,186.5 524.1,183 524.4,180.7 524.7,182 525,182.2 525.3,183.7 525.6,180.1 525.9,181.8 526.2,182.5 526.5,187.1 526.8,185.2 527.1,183.1 527.4,186 527.7,184 528,183.7 528.3,185.7 528.6,183.2 528.9,182.5 529.2,183.6 529.5,180 529.8,181.6 530.1,175.7 530.4,180.6 530.7,185.7 531,180.7 531.3,181.6 531.6,180.4 531.9,177.9 532.2,182.4 532.5,180.4 532.8,183.3 533.1,178.4 533.4,180.6 533.7,179.6 534,179.2 534.3,183.4 534.6,178.3 534.9,178.5 535.2,187.2 535.5,179.9 535.8,179.2 536.1,181.2 536.4,177.4 536.7,181.3 537,177.2 537.3,179 537.6,178.4 537.9,183.2 538.2,181 538.5,184.2 538.8,183.6 539.1,177.2 539.4,180.9 539.7,178.8 540,178.5 540.3,183.6 540.6,184.5 540.9,180.5 541.2,180.9 541.5,180.5 541.8,180.6 542.1,180.9 542.4,177.1 542.7,181.3 543,178.1 543.3,176.8 543.6,179.6 543.9,180.7 544.2,182.3 544.5,180.5 544.8,180.5 545.1,178 545.4,180.7 545.7,180.6 546,180.5 546.3,177.7 546.6,184.4 546.9,181.9 547.2,181 547.5,179.2 547.8,177.6 548.1,180.9 548.4,175.1 548.7,177.6 549,178.2 549.3,180.1 549.6,177.7 549.9,182.2 550.2,173.7 550.5,182.6 550.8,179 551.1,180.5 551.4,177 551.7,181.7 552,178.1 552.3,180 552.6,175.5 552.9,180.8 553.2,179.8 553.5,173.9 553.8,178.8 554.1,177.8 554.4,180.6 554.7,176 555,178.7 555.3,182 555.6,176.4 555.9,184.3 556.2,179.9 556.5,178.5 556.8,175.3 557.1,174.8 557.4,181.9 557.7,177.9 558,177.7 558.3,182.1 558.6,181 558.9,179.6 559.2,175.5 559.5,173.7 559.8,181.4 560.1,178.7 560.4,178 560.7,184 561,177.4 561.3,179.2 561.6,184.2 561.9,180.4 562.2,177 562.5,176.4 562.8,181.9 563.1,174.5 563.4,179.7 563.7,182 564,177.4 564.3,179.5 564.6,177.6 564.9,180.6 565.2,178 565.5,175.8 565.8,178.5 566.1,178.3 566.4,176 566.7,177.2 567,174.3 567.3,175.5 567.6,179.8 567.9,173 568.2,178.6 568.5,178.2 568.8,177.4 569.1,183.3 569.4,181.3 569.7,177.7 570,179.8 570.3,181.9 570.6,175.3 570.9,180.2 571.2,179.2 571.5,181.2 571.8,185.9 572.1,178.7 572.4,179.3 572.7,177.7 573,181.2 573.3,182.5 573.6,174 573.9,184.6 574.2,185.1 574.5,173.6 574.8,176.7 575.1,182 575.4,181.4 575.7,184 576,180.1 576.3,184.2 576.6,176.2 576.9,180.7 577.2,178.5 577.5,178.1 577.8,174.2 578.1,177.5 578.4,181.8 578.7,176.8 579,178 579.3,178.9 579.6,175.7 579.9,178.7 580.2,179.7 580.5,177.5 580.8,173.2 581.1,182.3 581.4,178.4 581.7,178.3 582,177.7 582.3,176.7 582.6,174 582.9,178.5 583.2,178.5 583.5,180.9 583.8,182.8 584.1,176.6 584.4,183.4 584.7,179.6 585,181.2 585.3,177.4 585.6,181.9 585.9,178.3 586.2,182.6 586.5,177 586.8,181.2 587.1,179.6 587.4,181.9 587.7,181.9 588,181.4 588.3,179.5 588.6,183.7 588.9,183.4 589.2,183 589.5,191.7 589.8,192.6 590.1,199 590.4,203.2 590.7,207.8 591,215.3 591.3,213.1 591.6,226.2 591.9,222.2 592.2,230.5 592.5,226.8 592.8,218.6 593.1,221.4 593.4,217.8 593.7,213.3 594,218 594.3,216.7 594.6,213 594.9,215.2 595.2,209.3 595.5,206.6 595.8,209.6 596.1,203 596.4,206 596.7,205.4 597,201.5 597.3,200.1 597.6,200.4 597.9,199.4 598.2,196 598.5,187 598.8,194.7 599.1,191.2 599.4,197.6 599.7,193.2 600,194.3 600.3,195.3 600.6,195.6 600.9,189.5 601.2,196.9 601.5,193.2 601.8,192.6 602.1,188 602.4,195.5 602.7,192 603,193.1 603.3,188.9 603.6,194.9 603.9,193.3 604.2,188.3 604.5,194 604.8,185.8 605.1,190.9 605.4,189.8 605.7,189.6 606,185.3 606.3,186.7 606.6,190 606.9,190.2 607.2,186.6 607.5,185.9 607.8,185 608.1,189.6 608.4,185.8 608.7,184.8 609,181.1 609.3,181.1 609.6,182.5 609.9,179.7 610.2,184 610.5,183.8 610.8,181.8 611.1,183 611.4,183.6 611.7,178.5 612,185.1 612.3,175.8 612.6,188.5 612.9,178.9 613.2,182.8 613.5,181.6 613.8,183.8 614.1,180.4 614.4,184.3 614.7,178.4 615,184.7 615.3,181.7 615.6,183.2 615.9,185.4 616.2,179.1 616.5,180.5 616.8,179.8 617.1,181.5 617.4,182.2 617.7,183.4 618,182.2 618.3,181 618.6,182.7 618.9,183.7 619.2,183.5 619.5,186.6 619.8,179 620.1,181 620.4,176 620.7,177.4 621,180.6 621.3,182.5 621.6,177.7 621.9,180.4 622.2,179.4 622.5,180.3 622.8,179.9 623.1,178.4 623.4,173.4 623.7,175 624,179.6 624.3,178.2 624.6,184.3 624.9,178.6 625.2,181 625.5,175.6 625.8,174.8 626.1,179.4 626.4,183.7 626.7,180.2 627,178.1 627.3,179.9 627.6,180.6 627.9,180.2 628.2,179.3 628.5,176.7 628.8,176.4 629.1,177.9 629.4,179 629.7,175.9 630,183.6 630.3,180.9 630.6,177.8 630.9,181 631.2,185.4 631.5,179.5 631.8,180.2 632.1,182.6 632.4,176.1 632.7,177.6 633,177 633.3,180.8 633.6,173.7 633.9,178.9 634.2,176.7 634.5,176.9 634.8,176 635.1,181.4 635.4,175 635.7,173.9 636,178.1 636.3,175.8 636.6,179.2 636.9,179 637.2,180.5 637.5,182.2 637.8,179.7 638.1,180.7 638.4,193.3 638.7,186.5 639,191.1 639.3,186 639.6,187.7 639.9,186.2 640.2,190.2 640.5,185.5 640.8,181.3 641.1,181.4 641.4,186.2 641.7,187.7 642,190.6 642.3,191 642.6,181.3 642.9,184.9 643.2,181.7 643.5,185.6 643.8,186.5 644.1,178.6 644.4,185.2 644.7,184.2 645,181.1 645.3,179.7 645.6,185.2 645.9,180 646.2,184.6 646.5,198.5 646.8,211.2 647.1,214.7 647.4,201.2 647.7,198.1 648,196.9 648.3,195.2 648.6,192.9 648.9,187.1 649.2,192 649.5,189.7 649.8,182.9 650.1,183.7 650.4,185.3 650.7,180.5 651,184.7 651.3,184.4 651.6,182.5 651.9,185.2 652.2,188.4 652.5,181.7 652.8,184.8 653.1,182.2 653.4,187.4 653.7,186.9 654,183.3 654.3,181.5 654.6,185.2 654.9,182.9 655.2,179.8 655.5,180.4 655.8,182.6 656.1,189.1 656.4,186 656.7,186.7 657,185.1 657.3,186.2 657.6,187.1 657.9,179.8 658.2,184.5 658.5,184.7 658.8,183.9 659.1,183.6 659.4,175.3 659.7,182.6 660,178.1 660.3,184.3 660.6,180.2 660.9,180.7 661.2,181.4 661.5,175.8 661.8,180.5 662.1,177.2 662.4,183 662.7,179.3 663,177.7 663.3,184.1 663.6,180 663.9,178.1 664.2,180.6 664.5,180.3 664.8,181.8 665.1,177.8 665.4,183.3 665.7,181.4 666,184.9 666.3,182.2 666.6,178.2 666.9,184 667.2,180.4 667.5,181.5 667.8,174.4 668.1,177.6 668.4,184.5 668.7,183.9 669,175.6 669.3,181.1 669.6,181.3 669.9,184.2 670.2,177.7 670.5,177.4 670.8,186.3 671.1,187.5 671.4,191.3 671.7,193.7 672,203.1 672.3,201 672.6,205.4 672.9,202.5 673.2,197.2 673.5,199.8 673.8,198.7 674.1,194.9 674.4,191.8 674.7,193.5 675,188.9 675.3,191.2 675.6,193.7 675.9,185.2 676.2,183.3 676.5,189.2 676.8,184.1 677.1,188.3 677.4,194.4 677.7,198.1 678,206.5 678.3,209.7 678.6,211.8 678.9,211.1 679.2,210.8 679.5,206.8 679.8,206.9 680.1,206 680.4,204.6 680.7,201.9 681,204.4 681.3,197.7 681.6,201.7 681.9,200.3 682.2,199.3 682.5,194.5 682.8,197.5 683.1,195.3 683.4,190.2 683.7,191.8 684,188.2 684.3,192.5 684.6,194.7 684.9,193 685.2,187 685.5,186.8 685.8,188.6 686.1,188.2 686.4,189.9 686.7,186.1 687,189 687.3,184.4 687.6,188.8 687.9,181.7 688.2,183.8 688.5,185.1 688.8,186.9 689.1,186.1 689.4,182 689.7,180.6 690,183.7 690.3,183.6 690.6,182.3 690.9,183.3 691.2,179.3 691.5,184 691.8,185.7 692.1,180.4 692.4,180.6 692.7,186.1 693,185.9 693.3,180.2 693.6,180 693.9,177 694.2,183.2 694.5,182.5 694.8,182.3 695.1,187.9 695.4,180.9 695.7,181.3 696,182.5 696.3,180.9 696.6,184.2 696.9,180.4 697.2,181.2 697.5,187.2 697.8,179.6 698.1,177.6 698.4,180.9 698.7,178.7 699,178.5 699.3,181 699.6,182.5 699.9,175.6 700.2,179.4 700.5,173.7 700.8,181.5 701.1,176.5 701.4,181 701.7,184.5 702,183 702.3,180.7 702.6,174.3 702.9,184.7 703.2,178.3 703.5,181.3 703.8,177.9 704.1,179 704.4,184.1 704.7,175.7 705,176.6 705.3,179.9 705.6,187.1 705.9,181.1 706.2,194.8 706.5,193.3 706.8,197.6 707.1,200.7 707.4,192.7 707.7,192.9 708,191.9 708.3,186 708.6,186.4 708.9,184.6 709.2,185.1 709.5,182.9 709.8,181.7 710.1,181 710.4,183.9 710.7,177.6 711,180.9 711.3,184.6 711.6,176.7 711.9,175.1 712.2,181.9 712.5,177.8 712.8,178.2 713.1,182 713.4,181.1 713.7,177.7 714,178.4 714.3,175.6 714.6,178.6 714.9,179.9 715.2,181.5 715.5,181.9 715.8,184.5 716.1,179.5 716.4,182.2 716.7,180.2 717,176.6 717.3,179.8 717.6,180 717.9,180.7 718.2,180.3 718.5,179.7 718.8,176.7 719.1,178.3 719.4,179.6 719.7,180.4 720,180.8 720.3,179.4 720.6,180.1 720.9,182.3 721.2,179.3 721.5,177.6 721.8,175.3 722.1,179 722.4,180.5 722.7,178 723,183.3 723.3,176.6 723.6,178.7 723.9,179.5 724.2,176.3 724.5,182.6 724.8,178 725.1,176.7 725.4,174.6 725.7,182.2 726,183 726.3,176.5 726.6,175.6 726.9,177.9 727.2,179.2 727.5,178 727.8,180.8 728.1,176.3 728.4,184.9 728.7,180.6 729,182.1 729.3,178.3 729.6,181.9 729.9,184.1 730.2,177.7 730.5,180.2 730.8,182.3 731.1,180.9 731.4,177.1 731.7,177.9 732,180.6 732.3,179.6 732.6,176.9 732.9,179.7 733.2,173 733.5,179.3 733.8,181.7 734.1,182 734.4,178.6 734.7,180.6 735,180.2 735.3,179.2 735.6,176.7 735.9,174.7 736.2,176.6 736.5,175.4 736.8,172.9 737.1,181.6 737.4,174.9 737.7,176.9 738,176.9 738.3,173.7 738.6,179.4 738.9,173.7 739.2,183 739.5,174.8 739.8,176.8 740.1,178.6 740.4,179 740.7,179.6 741,182.6 741.3,183.1 741.6,186.1 741.9,176.9 742.2,183 742.5,182.1 742.8,180.1 743.1,177.1 743.4,187.6 743.7,184.5 744,176.4 744.3,184.8 744.6,181.7 744.9,181.2 745.2,182.4 745.5,178.2 745.8,179.5 746.1,182.2 746.4,176.5 746.7,176.3 747,175.4 747.3,181.9 747.6,177.5 747.9,179.3 748.2,178.8 748.5,181.4 748.8,180.7 749.1,177.7 749.4,184.1 749.7,181.4 750,181.1 750.3,179 750.6,179.1 750.9,179.5 751.2,180.1 751.5,181.3 751.8,181.4 752.1,179.6 752.4,180.1 752.7,182.7 753,183.9 753.3,184.2 753.6,180.8 753.9,177.5 754.2,181.4 754.5,180.9 754.8,180.2 755.1,181.4 755.4,177.8 755.7,179.7 756,173.1 756.3,184.6 756.6,180.2 756.9,179 757.2,181 757.5,178.5 757.8,177.4 758.1,181.9 758.4,179.6 758.7,177.5 759,181.5 759.3,180.4 759.6,180 759.9,178.1 760.2,181.6 760.5,176.2 760.8,181.1 761.1,183.3 761.4,176.7 761.7,180 762,173.9 762.3,179.1 762.6,175 762.9,176.3 763.2,181 763.5,182.9 763.8,181.6 764.1,179.3 764.4,177.2 764.7,179.5 765,186 765.3,183.6 765.6,176.5 765.9,178.4 766.2,176.4 766.5,181.8 766.8,179.3 767.1,176.1 767.4,179.7 767.7,178.5 768,177.4 768.3,179.2 768.6,182.1 768.9,176.9 769.2,178.2 769.5,175.5 769.8,178.6 770.1,183.1 770.4,180.8 770.7,176.6 771,176.9 771.3,182.1 771.6,178.6 771.9,177.7 772.2,182.4 772.5,178.2 772.8,177.4 773.1,180.2 773.4,175.1 773.7,177.2 774,176.2 774.3,178.5 774.6,177.9 774.9,183.4 775.2,180 775.5,178.5 775.8,179.7 776.1,177.5 776.4,179 776.7,180.4 777,180.5 777.3,183.1 777.6,180.7 777.9,177.5 778.2,180 778.5,176.5 778.8,185 779.1,174.2 779.4,179 779.7,180.7 780,177.5 780.3,179.3 780.6,183.5 780.9,177.2 781.2,183 781.5,180 781.8,179 782.1,185.9 782.4,182.6 782.7,181.3 783,179.9 783.3,181.1 783.6,180 783.9,185.6 784.2,181.4 784.5,178.5 784.8,179.4 785.1,181.7 785.4,177.8 785.7,178.9 786,176.8 786.3,175.3 786.6,187.2 786.9,180.4 787.2,185.5 787.5,182.1 787.8,180.9 788.1,176.5 788.4,179.2 788.7,180.1 789,176.5 789.3,181.1 789.6,183 789.9,180.9 790.2,180.1 790.5,174.7 790.8,186.9 791.1,181.6 791.4,176.4 791.7,176.6 792,178 792.3,177.1 792.6,179.3 792.9,177.1 793.2,179.8 793.5,178.2 793.8,178.5 794.1,175.7 794.4,179.3 794.7,179.6 795,176.8 795.3,174.5 795.6,179.1 795.9,174.1 796.2,177 796.5,180.4 796.8,182.4 797.1,178.4 797.4,179.8 797.7,182.5 798,176.3 798.3,178.2 798.6,180.3 798.9,183 799.2,176.3 799.5,176 799.8,182.1 800.1,182.5 800.4,177.5 800.7,179 801,181.3 801.3,177.8 801.6,173 801.9,179 802.2,180.9 802.5,174.9 802.8,181.3 803.1,177.2 803.4,173.1 803.7,178.2 804,173.2 804.3,181.2 804.6,179.1 804.9,182.6 805.2,173.4 805.5,177.9 805.8,181.6 806.1,180.8 806.4,179.3 806.7,178.3 807,179 807.3,179.9 807.6,181.9 807.9,172 808.2,174 808.5,175.6 808.8,178.1 809.1,178.3 809.4,176.6 809.7,177.7 810,180.5 810.3,182.3 810.6,180.7 810.9,185.3 811.2,189.6 811.5,199.7 811.8,194.2 812.1,200 812.4,202.5 812.7,204.5 813,211.3 813.3,209.7 813.6,205.8 813.9,205.2 814.2,203.2 814.5,198.8 814.8,196.9 815.1,200.1 815.4,193.7 815.7,196.4 816,192 816.3,189 816.6,187.2 816.9,184.6 817.2,189.9 817.5,189 817.8,185.2 818.1,183.3 818.4,183.6 818.7,186.2 819,190.7 819.3,187.2 819.6,186 819.9,193.1 820.2,190.6 820.5,187.7 820.8,183.8 821.1,189.1 821.4,190.4 821.7,182.5 822,180.8 822.3,182.6 822.6,182.4 822.9,184.5 823.2,182.3 823.5,177.5 823.8,182.5 824.1,182 824.4,179.8 824.7,182.1 825,177.3 825.3,179.5 825.6,176.1 825.9,179.6 826.2,181.6 826.5,180.6 826.8,192.9 827.1,200.9 827.4,206.4 827.7,204.8 828,196 828.3,198.7 828.6,190.1 828.9,184.2 829.2,185.4 829.5,182.5 829.8,186 830.1,186.6 830.4,185.9 830.7,182.4 831,179.8 831.3,177.9 831.6,176.1 831.9,180.1 832.2,176.8 832.5,186.1 832.8,194.5 833.1,202.3 833.4,204.3 833.7,211.6 834,218.3 834.3,231 834.6,232.7 834.9,240.5 835.2,247.5 835.5,244.7 835.8,243.5 836.1,235.1 836.4,234.9 836.7,224.7 837,228.5 837.3,226.6 837.6,224.1 837.9,217.7 838.2,220.9 838.5,219.8 838.8,213.5 839.1,212 839.4,209.2 839.7,207.7 840,206.7 840.3,201.8 840.6,200.1 840.9,201.9 841.2,200.3 841.5,202.8 841.8,198.8 842.1,195.6 842.4,192.4 842.7,195.8 843,193.2 843.3,190.3 843.6,199.7 843.9,188.3 844.2,197.1 844.5,200.2 844.8,191.4 845.1,189.4 845.4,192.3 845.7,187.8 846,190.4 846.3,191.5 846.6,185.2 846.9,192.4 847.2,187.6 847.5,188.6 847.8,191 848.1,182.7 848.4,182.8 848.7,186.6 849,186.5 849.3,184.7 849.6,185.2 849.9,185 850.2,183.1 850.5,181.6 850.8,182.5 851.1,184.6 851.4,185.7 851.7,181 852,189.2 852.3,191.1 852.6,185 852.9,182.2 853.2,183.6 853.5,185.9 853.8,183 854.1,187.7 854.4,181.6 854.7,185.1 855,183.9 855.3,188.5 855.6,183.2 855.9,183.5 856.2,179.8 856.5,181.3 856.8,178.5 857.1,190.8 857.4,182.6 857.7,181.6 858,181.8 858.3,182.8 858.6,183.2 858.9,177.1 859.2,185.1 859.5,181.7 859.8,181.5 860.1,186.7 860.4,183 860.7,179.9 861,180.3 861.3,184.8 861.6,182.5 861.9,182.5 862.2,178.6 862.5,182.6 862.8,180.2 863.1,179.4 863.4,185.5 863.7,182.7 864,181.1 864.3,184.4 864.6,186.7 864.9,177.5 865.2,183.1 865.5,181.2 865.8,180.3 866.1,184.3 866.4,183.1 866.7,179.3 867,183.7 867.3,179.6 867.6,180.1 867.9,176.3 868.2,179.4 868.5,181.1 868.8,178 869.1,178.7 869.4,182.8 869.7,179.3 870,178.2 870.3,184.6 870.6,177.9 870.9,173.4 871.2,176 871.5,178.8 871.8,176.1 872.1,176 872.4,177.4 872.7,178.2 873,178.7 873.3,179.6 873.6,182.8 873.9,188.8 874.2,182.6 874.5,181.3 874.8,178.2 875.1,180.5 875.4,177 875.7,179.6 876,177.2 876.3,183.3 876.6,186.3 876.9,183.2 877.2,187.8 877.5,176.9 877.8,182.6 878.1,179.8 878.4,180.5 878.7,177.6 879,180.3 879.3,180.2 879.6,178.9 879.9,184.1 880.2,182.9 880.5,184.2 880.8,179.2 881.1,178.8 881.4,177.5 881.7,183 882,183.5 882.3,180.6 882.6,178.4 882.9,180 883.2,181.4 883.5,181.6 883.8,179.2 884.1,182.8 884.4,182.8 884.7,176.8 885,179.9 885.3,179.4 885.6,175.8 885.9,177.7 886.2,180.1 886.5,182 886.8,176.9 887.1,177.6 887.4,177.7 887.7,177.4 888,174.3 888.3,180.7 888.6,178.3 888.9,179.9 889.2,180.3 889.5,176.8 889.8,175.2 890.1,176.3 890.4,176.8 890.7,175.6 891,176.8 891.3,173.3 891.6,175.9 891.9,175.4 892.2,178.1 892.5,178.7 892.8,182.8 893.1,181.5 893.4,179.8 893.7,178.4 894,178.4 894.3,179.4 894.6,177.9 894.9,178.7 895.2,176.8 895.5,179.8 895.8,176.9 896.1,178 896.4,177.4 896.7,185.9 897,179 897.3,181.4 897.6,174.9 897.9,179.6 898.2,177 898.5,180.7 898.8,177.7 899.1,176.5 899.4,182 899.7,179.9 900,176.1 900.3,179.2 900.6,176.4 900.9,180.7 901.2,179.3 901.5,179.8 901.8,175.9 902.1,182 902.4,176.9 902.7,179.5 903,177.5 903.3,178.5 903.6,175.1 903.9,178.4 904.2,179 904.5,174.6 904.8,181.4 905.1,176.2 905.4,177.8 905.7,178 906,183.1 906.3,178.6 906.6,179 906.9,180.7 907.2,180.2 907.5,182.7 907.8,178.7 908.1,178.2 908.4,177.8 908.7,177.8 909,182 909.3,181.7 909.6,179.8 909.9,180 910.2,174.5 910.5,182.5 910.8,181.7 911.1,174.7 911.4,178.6 911.7,180.2 912,184.2 912.3,180.5 912.6,183.5 912.9,184.2 913.2,181.9 913.5,177.2 913.8,176.2 914.1,178.9 914.4,182.1 914.7,181.5 915,176.8 915.3,182.5 915.6,178 915.9,179.1 916.2,182.4 916.5,179.8 916.8,178.1 917.1,177.3 917.4,179.7 917.7,180.7 918,179.2 918.3,177.2 918.6,180.7 918.9,181.6 919.2,176.2 919.5,181.3 919.8,178.9 920.1,180.4 920.4,183.3 920.7,177.7 921,180.2 921.3,184.9 921.6,183.9 921.9,178.8 922.2,177.2 922.5,184 922.8,180.8 923.1,181 923.4,175.9 923.7,180.5 924,176.1 924.3,179.8 924.6,185.3 924.9,183.4 925.2,183.9 925.5,179.2 925.8,180.1 926.1,178.1 926.4,184.8 926.7,178.4 927,176.4 927.3,178.8 927.6,182.8 927.9,178.5 928.2,180.6 928.5,176 928.8,178.2 929.1,176.3 929.4,177 929.7,178.7 930,181 930.3,184.2 930.6,180.7 930.9,176.3 931.2,176.1 931.5,175 931.8,178.9 932.1,176.9 932.4,179.2 932.7,176.7 933,184 933.3,179.1 933.6,182.2 933.9,179.4 934.2,186.3 934.5,176.2 934.8,181.4 935.1,183.7 935.4,179.9 935.7,182.6 936,180.1 936.3,183.3 936.6,179.7 936.9,184.8 937.2,175.5 937.5,182.2 937.8,178.9 938.1,188.7 938.4,200.9 938.7,206.9 939,215.8 939.3,228.7 939.6,219.7 939.9,218.1 940.2,218 940.5,209.8 940.8,212.6 941.1,203.7 941.4,204.9 941.7,202.5 942,196.7 942.3,200.8 942.6,193.2 942.9,199.4 943.2,198.7 943.5,191.5 943.8,192.5 944.1,191 944.4,187 944.7,187.9 945,189.6 945.3,189.1 945.6,191.9 945.9,186.4 946.2,185.7 946.5,188.6 946.8,188.4 947.1,185 947.4,186 947.7,183 948,191 948.3,196.8 948.6,208.5 948.9,226.6 949.2,221.2 949.5,214 949.8,212.8 950.1,212.6 950.4,205.7 950.7,200.6 951,196.6 951.3,199.4 951.6,197.3 951.9,191.5 952.2,188.7 952.5,188.6 952.8,188.6 953.1,185.9 953.4,184.4 953.7,182.4 954,178 954.3,179.1 954.6,179 954.9,172.7 955.2,171.6 955.5,175.1 955.8,171.6 956.1,175.8 956.4,172.6 956.7,170.6 957,177.3 957.3,178.5 957.6,178 957.9,177.7 958.2,182.2 958.5,178.1 958.8,177 959.1,179.4 959.4,181.6 959.7,182.3 960,190.9 960.3,199.5 960.6,200.1 960.9,208.4 961.2,214.6 961.5,223.6 961.8,217.9 962.1,222.1 962.4,212.6 962.7,215.1 963,211 963.3,208.4 963.6,208.8 963.9,202 964.2,205.1 964.5,201.1 964.8,197 965.1,201.9 965.4,194.2 965.7,198 966,194 966.3,193 966.6,196.8 966.9,193.5 967.2,191.4 967.5,193.4 967.8,188.9 968.1,193.3 968.4,186.5 968.7,189.3 969,185.7 969.3,188.5 969.6,183.7 969.9,185.3 970.2,187 970.5,180.6 970.8,183.8 971.1,185.2 971.4,182.7 971.7,183 972,185.7 972.3,186.1 972.6,179.3 972.9,181.1 973.2,176.3 973.5,183.1 973.8,184.5 974.1,179.6 974.4,178.5 974.7,182.4 975,179.5 975.3,186.2 975.6,184.4 975.9,175.6 976.2,182.2 976.5,182.1 976.8,182.2 977.1,180.3 977.4,176.1 977.7,180.4 978,178.9 978.3,185.6 978.6,181.9 978.9,184.5 979.2,179.3 979.5,183.6 979.8,184.4 980.1,184.2 980.4,187 980.7,184.7 981,188.3 981.3,184.6 981.6,186.7 981.9,187.2 982.2,185.2 982.5,183.7 982.8,187.7 983.1,187 983.4,182.8 983.7,186.8 984,176.6 984.3,184.1 984.6,185.1 984.9,183.2 985.2,178.7 985.5,183 985.8,185.3 986.1,183.5 986.4,178.9 986.7,183.1 987,187.6 987.3,186.1 987.6,186.7 987.9,182.3 988.2,184.3 988.5,182.1 988.8,181.7 989.1,179.4 989.4,182.4 989.7,185.1 990,182.2 990.3,176.8 990.6,183.2 990.9,178.8 991.2,183.1 991.5,179.3 991.8,185.7 992.1,180.6 992.4,183.3 992.7,176.3 993,179.3 993.3,179.8 993.6,175.5 993.9,177.5 994.2,177.5 994.5,178.9 994.8,178.7 995.1,173.9 995.4,181.4 995.7,179.6 996,176.2 996.3,180.3 996.6,176.8 996.9,175.6 997.2,173.1 997.5,169.3 997.8,177.2 998.1,179.2 998.4,177.7 998.7,177.9 999,182.4 999.3,173.3 999.6,179.1 999.9,183.2 1000.2,177.9 1000.5,183.7 1000.8,178.2 1001.1,177.9 1001.4,174.2 1001.7,181.1 1002,182.1 1002.3,181.5 1002.6,180.6 1002.9,181.8 1003.2,179 1003.5,175.1 1003.8,180.1 1004.1,180.8 1004.4,186.6 1004.7,177.9 1005,179.5 1005.3,174.5 1005.6,174.6 1005.9,176.2 1006.2,182.6 1006.5,178.1 1006.8,177.5 1007.1,175.6 1007.4,177.5 1007.7,178.3 1008,177.4 1008.3,175.3 1008.6,175.2 1008.9,176 1009.2,176.6 1009.5,175.1 1009.8,173 1010.1,169.7 1010.4,173.4 1010.7,173.4 1011,173 1011.3,172.3 1011.6,170.7 1011.9,176.6 1012.2,171.9 1012.5,173.7 1012.8,172.1 1013.1,170.4 1013.4,175.4 1013.7,169.6 1014,173.9 1014.3,173.2 1014.6,174.6 1014.9,172.2 1015.2,177.5 1015.5,178 1015.8,176.5 1016.1,173.5 1016.4,171.6 1016.7,180.5 1017,169.6 1017.3,171.9 1017.6,176 1017.9,176.1 1018.2,172.2 1018.5,177 1018.8,172.5 1019.1,178.3 1019.4,177.5 1019.7,176.9 1020,179.7 1020.3,177.9 1020.6,170.8 1020.9,179.2 1021.2,178.1 1021.5,180 1021.8,177 1022.1,179.7 1022.4,176.7 1022.7,179.2 1023,180.9 1023.3,177.2 1023.6,177 1023.9,178.8 1024.2,180.7 1024.5,179.9 1024.8,179.4 1025.1,180.8 1025.4,180.1 1025.7,176.8 1026,182.9 1026.3,182.5 1026.6,182.3 1026.9,174.5 1027.2,182.5 1027.5,176.1 1027.8,179 1028.1,178.4 1028.4,183.7 1028.7,181.8 1029,179.2 1029.3,180.2 1029.6,177.5 1029.9,176.1 1030.2,180.3 1030.5,180.5 1030.8,177.8 1031.1,183.5 1031.4,185.7 1031.7,181.2 1032,185.1 1032.3,187.5 1032.6,182.7 1032.9,192.6 1033.2,193.7 1033.5,194 1033.8,194.9 1034.1,193.6 1034.4,197.3 1034.7,191.4 1035,193.8 1035.3,192.1 1035.6,195.5 1035.9,195.7 1036.2,191.9 1036.5,191.3 1036.8,187.1 1037.1,187.4 1037.4,190.3 1037.7,190.5 1038,189.2 1038.3,185.4 1038.6,186.1 1038.9,180.7 1039.2,187.7 1039.5,181.4 1039.8,182.3 1040.1,184.2 1040.4,189.2 1040.7,183.2 1041,188.1 1041.3,191.4 1041.6,187.5 1041.9,187 1042.2,182.1 1042.5,183.9 1042.8,180.1 1043.1,186.3 1043.4,185.8 1043.7,187.6 1044,183.4 1044.3,184.3 1044.6,180.9 1044.9,183.7 1045.2,185.9 1045.5,183.8 1045.8,185 1046.1,183 1046.4,184 1046.7,182.8 1047,179.8 1047.3,181.4 1047.6,183.8 1047.9,182.5 1048.2,181 1048.5,178.8 1048.8,182.1 1049.1,178.9 1049.4,180 1049.7,182 1050,182.8 1050.3,178.9 1050.6,179.7 1050.9,182.7 1051.2,180 1051.5,185.7 1051.8,184.3 1052.1,181.3 1052.4,178.5 1052.7,183.6 1053,182.5 1053.3,178.4 1053.6,179.8 1053.9,182.4 1054.2,184.8 1054.5,177.9 1054.8,183.5 1055.1,184.3 1055.4,189.6 1055.7,184.2 1056,184.2 1056.3,183.3 1056.6,184.2 1056.9,184.9 1057.2,182.6 1057.5,184.4 1057.8,188 1058.1,182 1058.4,184.1 1058.7,187.4 1059,180.3 1059.3,182 1059.6,180 1059.9,184.3 1060.2,185.4 1060.5,184 1060.8,182.8 1061.1,182.5 1061.4,183 1061.7,185.4 1062,182.9 1062.3,186.2 1062.6,187.4 1062.9,180.8 1063.2,186.2 1063.5,185.2 1063.8,181.3 1064.1,174.6 1064.4,178.3 1064.7,183 1065,175.6 1065.3,184.2 1065.6,177.9 1065.9,180.6 1066.2,177.6 1066.5,178 1066.8,179.6 1067.1,175.6 1067.4,178.3 1067.7,177.7 1068,181.2 1068.3,176.5 1068.6,184.1 1068.9,183.2 1069.2,175.3 1069.5,175.3 1069.8,177.4 1070.1,179.5 1070.4,179.9 1070.7,180.5 1071,181.2 1071.3,178.5 1071.6,175.9 1071.9,176.5 1072.2,178.4 1072.5,176.8 1072.8,185.4 1073.1,178.2 1073.4,182.9 1073.7,181.8 1074,177.3 1074.3,176.1 1074.6,178.7 1074.9,180.7 1075.2,178.8 1075.5,182.2 1075.8,177.4 1076.1,177.3 1076.4,179.7 1076.7,184.3 1077,181.4 1077.3,184.1 1077.6,178.5 1077.9,182.4 1078.2,180.9 1078.5,186.6 1078.8,178.9 1079.1,181.2 1079.4,177.9 1079.7,176.9 1080,182 1080.3,181.8 1080.6,177.8 1080.9,182.8 1081.2,179.8 1081.5,180.3 1081.8,185.3 1082.1,182.2 1082.4,183 1082.7,184.1 1083,180.6 1083.3,179.1 1083.6,184 1083.9,184 1084.2,175.5 1084.5,177.4 1084.8,177.2 1085.1,177 1085.4,182.7 1085.7,178.2 1086,178.1 1086.3,179.2 1086.6,180.1 1086.9,178.2 1087.2,179.4 1087.5,175.4 1087.8,179.1 1088.1,176.3 1088.4,178.6 1088.7,182.3 1089,179.7 1089.3,180 1089.6,185.3 1089.9,187.9 1090.2,185.9 1090.5,183 1090.8,190.2 1091.1,187.2 1091.4,183.8 1091.7,186.8 1092,182.9 1092.3,181.8 1092.6,180.1 1092.9,179.9 1093.2,183.4 1093.5,174.6 1093.8,182.8 1094.1,183.7 1094.4,183 1094.7,180.9 1095,177.8 1095.3,180.5 1095.6,182.3 1095.9,184.3 1096.2,181.2 1096.5,175.5 1096.8,179.2 1097.1,178.2 1097.4,182.8 1097.7,181.9 1098,180.8 1098.3,179.8 1098.6,175.4 1098.9,179.5 1099.2,182.5 1099.5,177.4 1099.8,177.1 1100.1,176.2 1100.4,178.5 1100.7,180.2 1101,174.5 1101.3,180.2 1101.6,176.3 1101.9,184.3 1102.2,177.5 1102.5,179.1 1102.8,173 1103.1,179.9 1103.4,177.5 1103.7,176.4 1104,181 1104.3,176.8 1104.6,175.7 1104.9,180.5 1105.2,175.7 1105.5,178.7 1105.8,175.8 1106.1,175 1106.4,182 1106.7,179 1107,181 1107.3,180.7 1107.6,178.8 1107.9,179.8 1108.2,177.6 1108.5,178 1108.8,180.3 1109.1,173.8 1109.4,179.2 1109.7,176.9 1110,179.2 1110.3,176.1 1110.6,182.3 1110.9,180.7 1111.2,177.2 1111.5,181 1111.8,174.1 1112.1,175 1112.4,180.7 1112.7,184.1 1113,179.2 1113.3,181.3 1113.6,179.9 1113.9,183.5 1114.2,177.9 1114.5,174.9 1114.8,177 1115.1,179.4 1115.4,181 1115.7,177.6 1116,181.5 1116.3,174.2 1116.6,179.7 1116.9,176.4 1117.2,178.2 1117.5,177.6 1117.8,182.2 1118.1,183.8 1118.4,173.6 1118.7,178.7 1119,180.6 1119.3,177.2 1119.6,179 1119.9,179.5 1120.2,181.2 1120.5,176.8 1120.8,181.2 1121.1,178.7 1121.4,179.2 1121.7,177.1 1122,178.2 1122.3,178.7 1122.6,185.4 1122.9,180.9 1123.2,179.2 1123.5,179.1 1123.8,177.2 1124.1,182.5 1124.4,176 1124.7,177.3 1125,181.4 1125.3,177.3 1125.6,176.3 1125.9,185.6 1126.2,175.6 1126.5,177.2 1126.8,174.3 1127.1,178.1 1127.4,180.9 1127.7,185.1 1128,181.8 1128.3,179.7 1128.6,178.4 1128.9,181.4 1129.2,178.1 1129.5,179.6 1129.8,174 1130.1,179.3 1130.4,174.2 1130.7,176.8 1131,173.1 1131.3,174.7 1131.6,182 1131.9,177.9 1132.2,174.7 1132.5,180.4 1132.8,171.7 1133.1,176.6 1133.4,173.4 1133.7,178.7 1134,179.1 1134.3,176.3 1134.6,175.6 1134.9,174.9 1135.2,179.3 1135.5,177.4 1135.8,182.7 1136.1,178.3 1136.4,178.3 1136.7,174.6 1137,174.7 1137.3,179.9 1137.6,177.4 1137.9,181.2 1138.2,179.8 1138.5,176.9 1138.8,177 1139.1,181.3 1139.4,181.4 1139.7,181.3 1140,176.6 1140.3,179.3 1140.6,176.6 1140.9,185.3 1141.2,178.3 1141.5,178.9 1141.8,178.4 1142.1,176.9 1142.4,181.4 1142.7,178.2 1143,180 1143.3,180.9 1143.6,179.6 1143.9,178.3 1144.2,180.8 1144.5,179.4 1144.8,176.4 1145.1,173.1 1145.4,175.7 1145.7,178.8 1146,182.4 1146.3,176.9 1146.6,178.6 1146.9,175 1147.2,179.6 1147.5,183 1147.8,175.9 1148.1,178.4 1148.4,184 1148.7,177.5 1149,176.6 1149.3,178.9 1149.6,179.3 1149.9,177.8 1150.2,178 1150.5,181.3 1150.8,175.5 1151.1,181.2 1151.4,176.1 1151.7,180.7 1152,181.9 1152.3,178.8 1152.6,177.2 1152.9,175.6 1153.2,174.8 1153.5,180.3 1153.8,174.1 1154.1,178.6 1154.4,177.7 1154.7,181.6 1155,177.5 1155.3,182 1155.6,177.9 1155.9,184 1156.2,177.3 1156.5,176.5 1156.8,174.8 1157.1,180.8 1157.4,176.8 1157.7,180.7 1158,177 1158.3,174.4 1158.6,182.2 1158.9,181.2 1159.2,176.6 1159.5,180.2 1159.8,172.4 1160.1,179.7 1160.4,177.1 1160.7,178.6 1161,177.6 1161.3,178.6 1161.6,177.4 1161.9,177.2 1162.2,178.3 1162.5,179.1 1162.8,181.4 1163.1,179.6 1163.4,177.5 1163.7,178.9 1164,178.5 1164.3,184.8 1164.6,176.4 1164.9,180.2 1165.2,176.2 1165.5,180.1 1165.8,177.1 1166.1,178.8 1166.4,177.2 1166.7,181.3 1167,182.4 1167.3,180.4 1167.6,181.2 1167.9,179.7 1168.2,170.3 1168.5,175.2 1168.8,178.6 1169.1,176.9 1169.4,173.5 1169.7,172.1 1170,175.5 1170.3,181.8 1170.6,174.6 1170.9,180.1 1171.2,174.8 1171.5,179.3 1171.8,178.7 1172.1,175 1172.4,175.8 1172.7,176.4 1173,180 1173.3,174.6 1173.6,178.5 1173.9,177 1174.2,183 1174.5,175.1 1174.8,179.4 1175.1,179 1175.4,182.3 1175.7,181.4 1176,174.6 1176.3,183.6 1176.6,177.9 1176.9,180.3 1177.2,171.9 1177.5,182.2 1177.8,178.1 1178.1,178.1 1178.4,176.4 1178.7,181 1179,169.6 1179.3,176 1179.6,174.2 1179.9,176.1 1180.2,180.4 1180.5,174 1180.8,175.8 1181.1,172.8 1181.4,178.7 1181.7,176.1 1182,179.8 1182.3,181.7 1182.6,170.8 1182.9,171.6 1183.2,174.7 1183.5,176.7 1183.8,174.2 1184.1,178.3 1184.4,176.4 1184.7,172.8 1185,176.9 1185.3,174.5 1185.6,173.8 1185.9,176.9 1186.2,177 1186.5,179.8 1186.8,173.9 1187.1,173.5 1187.4,179.8 1187.7,177.4 1188,177.8 1188.3,177.8 1188.6,174.2 1188.9,175.1 1189.2,179.4 1189.5,178.8 1189.8,177.8 1190.1,180.9 1190.4,182.9 1190.7,179.5 1191,183.3 1191.3,185.2 1191.6,183.6 1191.9,184.4 1192.2,183.2 1192.5,189.8 1192.8,187.8 1193.1,187 1193.4,184.6 1193.7,189.1 1194,181 1194.3,187.1 1194.6,187.8 1194.9,184.8 1195.2,181.8 1195.5,181.2 1195.8,185.9 1196.1,182.6 1196.4,184.8 1196.7,180.3 1197,179.2 1197.3,190.4 1197.6,180.1 1197.9,184.1 1198.2,185.1 1198.5,182.1 1198.8,182.2 1199.1,182.7 1199.4,186.6 1199.7,182 1200,183.2 1200.3,189.5 1200.6,184.9 1200.9,186.6 1201.2,192.7 1201.5,194.5 1201.8,201.4 1202.1,203.9 1202.4,204.6 1202.7,209.2 1203,209.7 1203.3,215.5 1203.6,210.4 1203.9,206 1204.2,212.3 1204.5,204.7 1204.8,204.7 1205.1,198.8 1205.4,197.1 1205.7,203.8 1206,196.6 1206.3,194.3 1206.6,194 1206.9,197.7 1207.2,193.3 1207.5,191.2 1207.8,186 1208.1,189.6 1208.4,191.7 1208.7,188.6 1209,187.7 1209.3,194.3 1209.6,189.3 1209.9,185.6 1210.2,188.1 1210.5,183.6 1210.8,187.4 1211.1,189.6 1211.4,184.1 1211.7,187.6 1212,182.4 1212.3,179.7 1212.6,182.2 1212.9,182.3 1213.2,184.6 1213.5,182.4 1213.8,180 1214.1,180.1 1214.4,181.5 1214.7,182.5 1215,178.1 1215.3,179 1215.6,180.4 1215.9,178.1 1216.2,183.4 1216.5,181 1216.8,178.3 1217.1,179.4 1217.4,184.6 1217.7,180.6 1218,179 1218.3,183.2 1218.6,184.5 1218.9,176.8 1219.2,181.6 1219.5,185.9 1219.8,187.1 1220.1,183.6 1220.4,182.3 1220.7,177.2 1221,182.8 1221.3,179.7 1221.6,180 1221.9,182.6 1222.2,178.3 1222.5,178.9 1222.8,184.9 1223.1,181.4 1223.4,174.6 1223.7,176.7 1224,174.9 1224.3,178.7 1224.6,174.5 1224.9,176.5 1225.2,176.6 1225.5,177.2 1225.8,176.1 1226.1,176.2 1226.4,175.2 1226.7,173.3 1227,177.6 1227.3,174.5 1227.6,171.7 1227.9,170.1 1228.2,174.1 1228.5,176.3 1228.8,174.5 1229.1,169.9 1229.4,172.3 1229.7,171 1230,173.2 1230.3,176.3 1230.6,174.8 1230.9,174.4 1231.2,173.4 1231.5,174.3 1231.8,176.1 1232.1,170.3 1232.4,174.5 1232.7,170.4 1233,178.5 1233.3,173.4 1233.6,178.8 1233.9,171.7 1234.2,180.2 1234.5,178 1234.8,177.1 1235.1,176.2 1235.4,176.8 1235.7,176.8 1236,180.1 1236.3,179.8 1236.6,180.7 1236.9,177.3 1237.2,177.9 1237.5,173.9 1237.8,173.1 1238.1,179 1238.4,176.9 1238.7,178.8 1239,178.5 1239.3,177.7 1239.6,178.3 1239.9,173.3 1240.2,178 1240.5,179.1 1240.8,177.9 1241.1,179 1241.4,172.6 1241.7,180.6 1242,180.4 1242.3,180.3 1242.6,179.8 1242.9,179.9 1243.2,180.9 1243.5,177.5 1243.8,178.1 1244.1,179.4 1244.4,174.9 1244.7,179.8 1245,176.5 1245.3,177.5 1245.6,177 1245.9,179.5 1246.2,175.3 1246.5,181.6 1246.8,176.1 1247.1,175.3 1247.4,181 1247.7,176.6 1248,172.2 1248.3,177.2 1248.6,178.9 1248.9,180.2 1249.2,179 1249.5,176 1249.8,182.8 1250.1,176.1 1250.4,171.7 1250.7,181.2 1251,179.8 1251.3,179.2 1251.6,182.8 1251.9,179.6 1252.2,176.8 1252.5,178.1 1252.8,174.9 1253.1,178.1 1253.4,174.9 1253.7,174.8 1254,173.3 1254.3,177.4 1254.6,179.5 1254.9,176.6 1255.2,173.8 1255.5,175.7 1255.8,178 1256.1,176.9 1256.4,176.4 1256.7,174.8 1257,182.3 1257.3,178.5 1257.6,179 1257.9,178.2 1258.2,174.7 1258.5,181.4 1258.8,176.4 1259.1,177.1 1259.4,176.2 1259.7,174.3 1260,177.9 1260.3,175.5 1260.6,177.7 1260.9,178.7 1261.2,182.5 1261.5,174.1 1261.8,182"/>
<line x1="1283.7" y1="163.4" x2="1283.7" y2="229" stroke="#1a1a1a" stroke-width="2.2"/>
<line x1="1191.5" y1="227.9" x2="1284.8" y2="227.9" stroke="#1a1a1a" stroke-width="2.2"/>
<text transform="translate(1287.72,211.30) scale(0.9632,1)" font-size="30.5">50 pA</text>
<text transform="translate(1193.31,257.70) scale(0.9748,1)" font-size="30">100 ms</text>
</g>
<g id="part_b">
<text transform="translate(-2.30,289.40) scale(1.0000,1)" font-size="38.5" font-weight="bold">b</text>
<line x1="131.5" y1="282.3" x2="131.5" y2="559" stroke="#1a1a1a" stroke-width="3"/>
<line x1="123" y1="557.5" x2="315" y2="557.5" stroke="#1a1a1a" stroke-width="3"/>
<text transform="translate(118.3,567.5) scale(0.93,1)" font-size="29" text-anchor="end">0</text>
<line x1="123" y1="466.3" x2="131.5" y2="466.3" stroke="#1a1a1a" stroke-width="3"/>
<text transform="translate(118.3,476.3) scale(0.93,1)" font-size="29" text-anchor="end">4</text>
<line x1="123" y1="375" x2="131.5" y2="375" stroke="#1a1a1a" stroke-width="3"/>
<text transform="translate(118.3,385) scale(0.93,1)" font-size="29" text-anchor="end">8</text>
<line x1="123" y1="283.8" x2="131.5" y2="283.8" stroke="#1a1a1a" stroke-width="3"/>
<text transform="translate(118.3,293.8) scale(0.93,1)" font-size="29" text-anchor="end">12</text>
<text transform="translate(76.30,524.53) rotate(-90) scale(0.9500,1)" font-size="28" letter-spacing="1.227">Frequency (Hz)</text>
<g fill="#8f8b88" stroke="#b4b2b4" stroke-width="2.4"><circle cx="183.5" cy="555.2" r="5.4"/><circle cx="192" cy="552.4" r="5.4"/><circle cx="175" cy="550.3" r="5.4"/><circle cx="183.5" cy="547.8" r="5.4"/><circle cx="200.5" cy="546.5" r="5.4"/><circle cx="166.5" cy="545.5" r="5.4"/><circle cx="192" cy="545.4" r="5.4"/><circle cx="200.5" cy="544.6" r="5.4"/><circle cx="183.5" cy="544.3" r="5.4"/><circle cx="192" cy="544.2" r="5.4"/><circle cx="175" cy="542.2" r="5.4"/><circle cx="183.5" cy="541.3" r="5.4"/><circle cx="166.5" cy="540.2" r="5.4"/><circle cx="200.5" cy="539.8" r="5.4"/><circle cx="183.5" cy="539.8" r="5.4"/><circle cx="183.5" cy="537.3" r="5.4"/><circle cx="192" cy="536.9" r="5.4"/><circle cx="175" cy="534.6" r="5.4"/><circle cx="166.5" cy="534.3" r="5.4"/><circle cx="200.5" cy="531.9" r="5.4"/><circle cx="192" cy="530.4" r="5.4"/><circle cx="183.5" cy="526.5" r="5.4"/><circle cx="192" cy="522.8" r="5.4"/><circle cx="183.5" cy="516.8" r="5.4"/><circle cx="192" cy="513.9" r="5.4"/><circle cx="175" cy="513.6" r="5.4"/><circle cx="200.5" cy="512.4" r="5.4"/><circle cx="166.5" cy="511.9" r="5.4"/><circle cx="183.5" cy="503.9" r="5.4"/><circle cx="183.5" cy="495.9" r="5.4"/><circle cx="183.5" cy="485.7" r="5.4"/><circle cx="192" cy="480" r="5.4"/><circle cx="183.5" cy="465.1" r="5.4"/><circle cx="183.5" cy="441.2" r="5.4"/><circle cx="183.5" cy="424.1" r="5.4"/><circle cx="183.5" cy="367.1" r="5.4"/></g>
<g fill="#e8363c" stroke="#ee6d70" stroke-width="0.5"><path d="M261 547.2l5.8 10.2h-11.6z"/><path d="M267.6 544.5l5.8 10.2h-11.6z"/><path d="M254.4 544.4l5.8 10.2h-11.6z"/><path d="M274.2 544.4l5.8 10.2h-11.6z"/><path d="M247.8 543.6l5.8 10.2h-11.6z"/><path d="M261 539l5.8 10.2h-11.6z"/><path d="M267.6 538.4l5.8 10.2h-11.6z"/><path d="M254.4 538.2l5.8 10.2h-11.6z"/><path d="M274.2 537.5l5.8 10.2h-11.6z"/><path d="M247.8 537.1l5.8 10.2h-11.6z"/><path d="M280.8 536.7l5.8 10.2h-11.6z"/><path d="M241.2 534.9l5.8 10.2h-11.6z"/><path d="M280.8 534.6l5.8 10.2h-11.6z"/><path d="M261 534.5l5.8 10.2h-11.6z"/><path d="M267.6 533.4l5.8 10.2h-11.6z"/><path d="M254.4 533.4l5.8 10.2h-11.6z"/><path d="M274.2 531.5l5.8 10.2h-11.6z"/><path d="M247.8 530.8l5.8 10.2h-11.6z"/><path d="M261 527.9l5.8 10.2h-11.6z"/><path d="M267.6 527.6l5.8 10.2h-11.6z"/><path d="M254.4 527.3l5.8 10.2h-11.6z"/><path d="M280.8 527.1l5.8 10.2h-11.6z"/><path d="M274.2 526.8l5.8 10.2h-11.6z"/><path d="M247.8 526.1l5.8 10.2h-11.6z"/><path d="M241.2 525.4l5.8 10.2h-11.6z"/><path d="M261 525.1l5.8 10.2h-11.6z"/><path d="M274.2 525l5.8 10.2h-11.6z"/><path d="M267.6 522.7l5.8 10.2h-11.6z"/><path d="M254.4 522l5.8 10.2h-11.6z"/><path d="M247.8 521.3l5.8 10.2h-11.6z"/><path d="M261 520.6l5.8 10.2h-11.6z"/><path d="M274.2 520.3l5.8 10.2h-11.6z"/><path d="M280.8 520l5.8 10.2h-11.6z"/><path d="M241.2 519.9l5.8 10.2h-11.6z"/><path d="M247.8 519.9l5.8 10.2h-11.6z"/><path d="M280.8 518.5l5.8 10.2h-11.6z"/><path d="M267.6 518.2l5.8 10.2h-11.6z"/><path d="M254.4 517.4l5.8 10.2h-11.6z"/><path d="M274.2 516.3l5.8 10.2h-11.6z"/><path d="M261 514.6l5.8 10.2h-11.6z"/><path d="M267.6 513.6l5.8 10.2h-11.6z"/><path d="M254.4 511.5l5.8 10.2h-11.6z"/><path d="M261 509.3l5.8 10.2h-11.6z"/><path d="M261 504.6l5.8 10.2h-11.6z"/><path d="M267.6 503l5.8 10.2h-11.6z"/><path d="M254.4 502.9l5.8 10.2h-11.6z"/><path d="M274.2 501.1l5.8 10.2h-11.6z"/><path d="M247.8 500.9l5.8 10.2h-11.6z"/><path d="M280.8 500.5l5.8 10.2h-11.6z"/><path d="M261 496.7l5.8 10.2h-11.6z"/><path d="M267.6 494.6l5.8 10.2h-11.6z"/><path d="M254.4 493.4l5.8 10.2h-11.6z"/><path d="M261 492.1l5.8 10.2h-11.6z"/><path d="M274.2 491.4l5.8 10.2h-11.6z"/><path d="M267.6 488.1l5.8 10.2h-11.6z"/><path d="M261 485.9l5.8 10.2h-11.6z"/><path d="M254.4 485.2l5.8 10.2h-11.6z"/><path d="M261 477.1l5.8 10.2h-11.6z"/><path d="M267.6 474.9l5.8 10.2h-11.6z"/><path d="M254.4 474.5l5.8 10.2h-11.6z"/><path d="M274.2 473.1l5.8 10.2h-11.6z"/><path d="M261 469.7l5.8 10.2h-11.6z"/><path d="M267.6 466.3l5.8 10.2h-11.6z"/><path d="M261 464.6l5.8 10.2h-11.6z"/><path d="M261 460l5.8 10.2h-11.6z"/><path d="M267.6 457.9l5.8 10.2h-11.6z"/><path d="M261 453.4l5.8 10.2h-11.6z"/><path d="M267.6 452.4l5.8 10.2h-11.6z"/><path d="M261 447.4l5.8 10.2h-11.6z"/><path d="M261 439l5.8 10.2h-11.6z"/><path d="M267.6 437l5.8 10.2h-11.6z"/><path d="M254.4 435.1l5.8 10.2h-11.6z"/><path d="M261 433.4l5.8 10.2h-11.6z"/><path d="M267.6 431.5l5.8 10.2h-11.6z"/><path d="M261 424.3l5.8 10.2h-11.6z"/><path d="M267.6 421.4l5.8 10.2h-11.6z"/><path d="M261 392.2l5.8 10.2h-11.6z"/><path d="M261 309l5.8 10.2h-11.6z"/></g>
<line x1="158" y1="519.9" x2="209" y2="519.9" stroke="#1a1a1a" stroke-width="3"/>
<line x1="171" y1="514.6" x2="196" y2="514.6" stroke="#1a1a1a" stroke-width="2.6"/>
<line x1="171" y1="525.1" x2="196" y2="525.1" stroke="#1a1a1a" stroke-width="2.6"/>
<line x1="183.5" y1="514.6" x2="183.5" y2="525.1" stroke="#1a1a1a" stroke-width="2.6"/>
<line x1="235.5" y1="502.8" x2="286.5" y2="502.8" stroke="#1a1a1a" stroke-width="3"/>
<line x1="248.5" y1="498.2" x2="273.5" y2="498.2" stroke="#1a1a1a" stroke-width="2.6"/>
<line x1="248.5" y1="507.3" x2="273.5" y2="507.3" stroke="#1a1a1a" stroke-width="2.6"/>
<line x1="261" y1="498.2" x2="261" y2="507.3" stroke="#1a1a1a" stroke-width="2.6"/>
<line x1="183" y1="297.7" x2="261.5" y2="297.7" stroke="#1a1a1a" stroke-width="3"/>
<text transform="translate(215.3,289.9)" font-size="31" text-anchor="middle" font-weight="bold">*</text>
<text transform="translate(231.7,289.9)" font-size="31" text-anchor="middle" font-weight="bold">*</text>
<line x1="476.7" y1="282.3" x2="476.7" y2="559" stroke="#1a1a1a" stroke-width="3"/>
<line x1="468.2" y1="557.5" x2="660" y2="557.5" stroke="#1a1a1a" stroke-width="3"/>
<text transform="translate(463.5,567.5) scale(0.93,1)" font-size="29" text-anchor="end">0</text>
<line x1="468.2" y1="472.1" x2="476.7" y2="472.1" stroke="#1a1a1a" stroke-width="3"/>
<text transform="translate(463.5,482.1) scale(0.93,1)" font-size="29" text-anchor="end">25</text>
<line x1="468.2" y1="386.7" x2="476.7" y2="386.7" stroke="#1a1a1a" stroke-width="3"/>
<text transform="translate(463.5,396.7) scale(0.93,1)" font-size="29" text-anchor="end">50</text>
<line x1="468.2" y1="301.2" x2="476.7" y2="301.2" stroke="#1a1a1a" stroke-width="3"/>
<text transform="translate(463.5,311.2) scale(0.93,1)" font-size="29" text-anchor="end">75</text>
<text transform="translate(412.60,523.40) rotate(-90) scale(0.9500,1)" font-size="28" letter-spacing="1.479">Amplitude (pA)</text>
<g fill="#8f8b88" stroke="#b4b2b4" stroke-width="2.4"><circle cx="529.5" cy="524" r="5.4"/><circle cx="529.5" cy="508.6" r="5.4"/><circle cx="538" cy="506.1" r="5.4"/><circle cx="521" cy="503.6" r="5.4"/><circle cx="546.5" cy="502.1" r="5.4"/><circle cx="529.5" cy="497.3" r="5.4"/><circle cx="538" cy="495.9" r="5.4"/><circle cx="521" cy="494.7" r="5.4"/><circle cx="546.5" cy="492.9" r="5.4"/><circle cx="512.5" cy="491.4" r="5.4"/><circle cx="538" cy="491.4" r="5.4"/><circle cx="529.5" cy="489.3" r="5.4"/><circle cx="512.5" cy="488.3" r="5.4"/><circle cx="521" cy="486.8" r="5.4"/><circle cx="521" cy="486.1" r="5.4"/><circle cx="546.5" cy="485" r="5.4"/><circle cx="538" cy="483.2" r="5.4"/><circle cx="538" cy="483.2" r="5.4"/><circle cx="538" cy="482.6" r="5.4"/><circle cx="521" cy="482.4" r="5.4"/><circle cx="529.5" cy="481.5" r="5.4"/><circle cx="512.5" cy="480.2" r="5.4"/><circle cx="538" cy="478.7" r="5.4"/><circle cx="546.5" cy="477.7" r="5.4"/><circle cx="538" cy="477.6" r="5.4"/><circle cx="538" cy="476.1" r="5.4"/><circle cx="521" cy="475.1" r="5.4"/><circle cx="521" cy="474.6" r="5.4"/><circle cx="529.5" cy="473.7" r="5.4"/><circle cx="512.5" cy="473.1" r="5.4"/><circle cx="529.5" cy="472.1" r="5.4"/><circle cx="521" cy="471.3" r="5.4"/><circle cx="546.5" cy="469.3" r="5.4"/><circle cx="538" cy="468.4" r="5.4"/><circle cx="512.5" cy="465.5" r="5.4"/><circle cx="529.5" cy="461.4" r="5.4"/><circle cx="538" cy="457.5" r="5.4"/><circle cx="521" cy="457.1" r="5.4"/><circle cx="546.5" cy="455.1" r="5.4"/><circle cx="529.5" cy="452.3" r="5.4"/><circle cx="512.5" cy="452.2" r="5.4"/><circle cx="538" cy="450.2" r="5.4"/><circle cx="521" cy="447.3" r="5.4"/><circle cx="529.5" cy="439.9" r="5.4"/><circle cx="538" cy="435.3" r="5.4"/><circle cx="521" cy="433.7" r="5.4"/><circle cx="529.5" cy="432.8" r="5.4"/><circle cx="546.5" cy="429.9" r="5.4"/><circle cx="529.5" cy="419.8" r="5.4"/><circle cx="529.5" cy="398.6" r="5.4"/><circle cx="538" cy="396.2" r="5.4"/></g>
<g fill="#e8363c" stroke="#ee6d70" stroke-width="0.5"><path d="M606 512.6l5.8 10.2h-11.6z"/><path d="M612.6 511.6l5.8 10.2h-11.6z"/><path d="M599.4 510.8l5.8 10.2h-11.6z"/><path d="M606 505.1l5.8 10.2h-11.6z"/><path d="M612.6 502.2l5.8 10.2h-11.6z"/><path d="M606 500.1l5.8 10.2h-11.6z"/><path d="M599.4 499.8l5.8 10.2h-11.6z"/><path d="M612.6 496.7l5.8 10.2h-11.6z"/><path d="M606 495.6l5.8 10.2h-11.6z"/><path d="M599.4 495.4l5.8 10.2h-11.6z"/><path d="M619.2 495.3l5.8 10.2h-11.6z"/><path d="M592.8 494.6l5.8 10.2h-11.6z"/><path d="M625.8 494.4l5.8 10.2h-11.6z"/><path d="M612.6 492l5.8 10.2h-11.6z"/><path d="M586.2 491.7l5.8 10.2h-11.6z"/><path d="M606 491.3l5.8 10.2h-11.6z"/><path d="M612.6 487.2l5.8 10.2h-11.6z"/><path d="M606 486.2l5.8 10.2h-11.6z"/><path d="M599.4 484.4l5.8 10.2h-11.6z"/><path d="M619.2 484.3l5.8 10.2h-11.6z"/><path d="M592.8 484.3l5.8 10.2h-11.6z"/><path d="M625.8 483.4l5.8 10.2h-11.6z"/><path d="M606 479.2l5.8 10.2h-11.6z"/><path d="M612.6 476.6l5.8 10.2h-11.6z"/><path d="M599.4 476l5.8 10.2h-11.6z"/><path d="M606 474.3l5.8 10.2h-11.6z"/><path d="M619.2 472.8l5.8 10.2h-11.6z"/><path d="M612.6 471.8l5.8 10.2h-11.6z"/><path d="M599.4 470.1l5.8 10.2h-11.6z"/><path d="M606 469.1l5.8 10.2h-11.6z"/><path d="M592.8 469.1l5.8 10.2h-11.6z"/><path d="M625.8 468.9l5.8 10.2h-11.6z"/><path d="M586.2 468.8l5.8 10.2h-11.6z"/><path d="M606 468.8l5.8 10.2h-11.6z"/><path d="M592.8 468.7l5.8 10.2h-11.6z"/><path d="M619.2 468.4l5.8 10.2h-11.6z"/><path d="M612.6 466.4l5.8 10.2h-11.6z"/><path d="M586.2 466.3l5.8 10.2h-11.6z"/><path d="M592.8 465.9l5.8 10.2h-11.6z"/><path d="M606 463.3l5.8 10.2h-11.6z"/><path d="M599.4 463.2l5.8 10.2h-11.6z"/><path d="M619.2 462.5l5.8 10.2h-11.6z"/><path d="M625.8 462.5l5.8 10.2h-11.6z"/><path d="M612.6 462.1l5.8 10.2h-11.6z"/><path d="M619.2 462.1l5.8 10.2h-11.6z"/><path d="M592.8 461.1l5.8 10.2h-11.6z"/><path d="M586.2 460.5l5.8 10.2h-11.6z"/><path d="M606 458.8l5.8 10.2h-11.6z"/><path d="M599.4 458.6l5.8 10.2h-11.6z"/><path d="M619.2 458.6l5.8 10.2h-11.6z"/><path d="M625.8 457.8l5.8 10.2h-11.6z"/><path d="M612.6 457.5l5.8 10.2h-11.6z"/><path d="M592.8 456.6l5.8 10.2h-11.6z"/><path d="M599.4 456.2l5.8 10.2h-11.6z"/><path d="M586.2 454.5l5.8 10.2h-11.6z"/><path d="M606 453.8l5.8 10.2h-11.6z"/><path d="M612.6 452.4l5.8 10.2h-11.6z"/><path d="M619.2 452.2l5.8 10.2h-11.6z"/><path d="M592.8 452.1l5.8 10.2h-11.6z"/><path d="M599.4 451.3l5.8 10.2h-11.6z"/><path d="M625.8 451.3l5.8 10.2h-11.6z"/><path d="M586.2 449.6l5.8 10.2h-11.6z"/><path d="M606 443.2l5.8 10.2h-11.6z"/><path d="M612.6 441.6l5.8 10.2h-11.6z"/><path d="M606 435.5l5.8 10.2h-11.6z"/><path d="M612.6 433.6l5.8 10.2h-11.6z"/><path d="M599.4 432.3l5.8 10.2h-11.6z"/><path d="M606 423.5l5.8 10.2h-11.6z"/><path d="M612.6 420.5l5.8 10.2h-11.6z"/><path d="M606 416.9l5.8 10.2h-11.6z"/><path d="M612.6 414.9l5.8 10.2h-11.6z"/><path d="M606 411.8l5.8 10.2h-11.6z"/><path d="M606 399.8l5.8 10.2h-11.6z"/><path d="M606 391.3l5.8 10.2h-11.6z"/><path d="M606 381.1l5.8 10.2h-11.6z"/><path d="M606 369.1l5.8 10.2h-11.6z"/><path d="M606 362.3l5.8 10.2h-11.6z"/><path d="M606 346.2l5.8 10.2h-11.6z"/></g>
<line x1="504" y1="467.3" x2="555" y2="467.3" stroke="#1a1a1a" stroke-width="3"/>
<line x1="517" y1="463.5" x2="542" y2="463.5" stroke="#1a1a1a" stroke-width="2.6"/>
<line x1="517" y1="471.1" x2="542" y2="471.1" stroke="#1a1a1a" stroke-width="2.6"/>
<line x1="529.5" y1="463.5" x2="529.5" y2="471.1" stroke="#1a1a1a" stroke-width="2.6"/>
<line x1="580.5" y1="465.9" x2="631.5" y2="465.9" stroke="#1a1a1a" stroke-width="3"/>
<line x1="593.5" y1="462.5" x2="618.5" y2="462.5" stroke="#1a1a1a" stroke-width="2.6"/>
<line x1="593.5" y1="469.3" x2="618.5" y2="469.3" stroke="#1a1a1a" stroke-width="2.6"/>
<line x1="606" y1="462.5" x2="606" y2="469.3" stroke="#1a1a1a" stroke-width="2.6"/>
<line x1="806.4" y1="282.3" x2="806.4" y2="559" stroke="#1a1a1a" stroke-width="3"/>
<line x1="797.9" y1="557.5" x2="989.5" y2="557.5" stroke="#1a1a1a" stroke-width="3"/>
<text transform="translate(793.2,567.5) scale(0.93,1)" font-size="29" text-anchor="end">0</text>
<line x1="797.9" y1="466.3" x2="806.4" y2="466.3" stroke="#1a1a1a" stroke-width="3"/>
<text transform="translate(793.2,476.3) scale(0.93,1)" font-size="29" text-anchor="end">5</text>
<line x1="797.9" y1="375" x2="806.4" y2="375" stroke="#1a1a1a" stroke-width="3"/>
<text transform="translate(793.2,385) scale(0.93,1)" font-size="29" text-anchor="end">10</text>
<line x1="797.9" y1="283.8" x2="806.4" y2="283.8" stroke="#1a1a1a" stroke-width="3"/>
<text transform="translate(793.2,293.8) scale(0.93,1)" font-size="29" text-anchor="end">15</text>
<text transform="translate(754.20,520.53) rotate(-90) scale(0.9500,1)" font-size="28" letter-spacing="1.054">Rise time (ms)</text>
<g fill="#8f8b88" stroke="#b4b2b4" stroke-width="2.4"><circle cx="859.5" cy="525.6" r="5.4"/><circle cx="868" cy="521.9" r="5.4"/><circle cx="859.5" cy="518.1" r="5.4"/><circle cx="859.5" cy="510.2" r="5.4"/><circle cx="868" cy="505" r="5.4"/><circle cx="851" cy="503.3" r="5.4"/><circle cx="859.5" cy="502.3" r="5.4"/><circle cx="876.5" cy="502" r="5.4"/><circle cx="842.5" cy="498.1" r="5.4"/><circle cx="868" cy="496.4" r="5.4"/><circle cx="851" cy="495.4" r="5.4"/><circle cx="859.5" cy="492.6" r="5.4"/><circle cx="876.5" cy="491.3" r="5.4"/><circle cx="842.5" cy="489.8" r="5.4"/><circle cx="842.5" cy="489.7" r="5.4"/><circle cx="868" cy="489.1" r="5.4"/><circle cx="868" cy="489" r="5.4"/><circle cx="876.5" cy="489" r="5.4"/><circle cx="851" cy="488.4" r="5.4"/><circle cx="876.5" cy="487.1" r="5.4"/><circle cx="851" cy="485.9" r="5.4"/><circle cx="859.5" cy="483.5" r="5.4"/><circle cx="868" cy="483.4" r="5.4"/><circle cx="842.5" cy="483.3" r="5.4"/><circle cx="842.5" cy="483" r="5.4"/><circle cx="876.5" cy="482.2" r="5.4"/><circle cx="876.5" cy="481" r="5.4"/><circle cx="876.5" cy="480.8" r="5.4"/><circle cx="842.5" cy="479.4" r="5.4"/><circle cx="851" cy="478.4" r="5.4"/><circle cx="868" cy="478.2" r="5.4"/><circle cx="859.5" cy="476.2" r="5.4"/><circle cx="876.5" cy="476" r="5.4"/><circle cx="876.5" cy="474.7" r="5.4"/><circle cx="876.5" cy="474.2" r="5.4"/><circle cx="842.5" cy="472.1" r="5.4"/><circle cx="868" cy="470" r="5.4"/><circle cx="859.5" cy="468.7" r="5.4"/><circle cx="851" cy="466" r="5.4"/><circle cx="876.5" cy="465" r="5.4"/><circle cx="842.5" cy="463.3" r="5.4"/><circle cx="859.5" cy="461.3" r="5.4"/><circle cx="868" cy="456.3" r="5.4"/><circle cx="859.5" cy="452.8" r="5.4"/><circle cx="851" cy="452.5" r="5.4"/><circle cx="868" cy="449" r="5.4"/><circle cx="876.5" cy="448" r="5.4"/><circle cx="842.5" cy="446" r="5.4"/><circle cx="859.5" cy="442.4" r="5.4"/><circle cx="868" cy="441.9" r="5.4"/><circle cx="859.5" cy="435.1" r="5.4"/><circle cx="868" cy="431.6" r="5.4"/><circle cx="859.5" cy="411.5" r="5.4"/><circle cx="868" cy="409.7" r="5.4"/></g>
<g fill="#e8363c" stroke="#ee6d70" stroke-width="0.5"><path d="M937 531.8l5.8 10.2h-11.6z"/><path d="M937 511.7l5.8 10.2h-11.6z"/><path d="M943.6 510.8l5.8 10.2h-11.6z"/><path d="M930.4 507.8l5.8 10.2h-11.6z"/><path d="M950.2 507.5l5.8 10.2h-11.6z"/><path d="M937 502.7l5.8 10.2h-11.6z"/><path d="M943.6 499l5.8 10.2h-11.6z"/><path d="M930.4 498.5l5.8 10.2h-11.6z"/><path d="M937 495.4l5.8 10.2h-11.6z"/><path d="M943.6 494.3l5.8 10.2h-11.6z"/><path d="M950.2 494.3l5.8 10.2h-11.6z"/><path d="M930.4 493.7l5.8 10.2h-11.6z"/><path d="M923.8 492.3l5.8 10.2h-11.6z"/><path d="M956.8 491.7l5.8 10.2h-11.6z"/><path d="M937 488.6l5.8 10.2h-11.6z"/><path d="M943.6 487.4l5.8 10.2h-11.6z"/><path d="M930.4 487.1l5.8 10.2h-11.6z"/><path d="M950.2 486.5l5.8 10.2h-11.6z"/><path d="M923.8 485.4l5.8 10.2h-11.6z"/><path d="M937 484.1l5.8 10.2h-11.6z"/><path d="M956.8 483.9l5.8 10.2h-11.6z"/><path d="M917.2 483.9l5.8 10.2h-11.6z"/><path d="M956.8 483l5.8 10.2h-11.6z"/><path d="M943.6 481.5l5.8 10.2h-11.6z"/><path d="M930.4 480.5l5.8 10.2h-11.6z"/><path d="M950.2 479.9l5.8 10.2h-11.6z"/><path d="M937 476.4l5.8 10.2h-11.6z"/><path d="M943.6 475.9l5.8 10.2h-11.6z"/><path d="M930.4 475.7l5.8 10.2h-11.6z"/><path d="M950.2 475l5.8 10.2h-11.6z"/><path d="M923.8 472.9l5.8 10.2h-11.6z"/><path d="M956.8 472.2l5.8 10.2h-11.6z"/><path d="M937 469.6l5.8 10.2h-11.6z"/><path d="M943.6 468.7l5.8 10.2h-11.6z"/><path d="M930.4 468.6l5.8 10.2h-11.6z"/><path d="M950.2 468.2l5.8 10.2h-11.6z"/><path d="M923.8 467l5.8 10.2h-11.6z"/><path d="M956.8 465.9l5.8 10.2h-11.6z"/><path d="M917.2 465.4l5.8 10.2h-11.6z"/><path d="M937 462.3l5.8 10.2h-11.6z"/><path d="M943.6 462.2l5.8 10.2h-11.6z"/><path d="M930.4 462.1l5.8 10.2h-11.6z"/><path d="M950.2 461.1l5.8 10.2h-11.6z"/><path d="M923.8 460.3l5.8 10.2h-11.6z"/><path d="M956.8 459.9l5.8 10.2h-11.6z"/><path d="M917.2 459.9l5.8 10.2h-11.6z"/><path d="M943.6 459.8l5.8 10.2h-11.6z"/><path d="M937 457.6l5.8 10.2h-11.6z"/><path d="M930.4 457.5l5.8 10.2h-11.6z"/><path d="M950.2 455.7l5.8 10.2h-11.6z"/><path d="M943.6 454.8l5.8 10.2h-11.6z"/><path d="M937 452.8l5.8 10.2h-11.6z"/><path d="M930.4 452.4l5.8 10.2h-11.6z"/><path d="M923.8 452.3l5.8 10.2h-11.6z"/><path d="M943.6 450.2l5.8 10.2h-11.6z"/><path d="M950.2 449.8l5.8 10.2h-11.6z"/><path d="M956.8 448.9l5.8 10.2h-11.6z"/><path d="M937 447.5l5.8 10.2h-11.6z"/><path d="M930.4 446.7l5.8 10.2h-11.6z"/><path d="M923.8 446.7l5.8 10.2h-11.6z"/><path d="M917.2 446.4l5.8 10.2h-11.6z"/><path d="M943.6 446.3l5.8 10.2h-11.6z"/><path d="M950.2 443.2l5.8 10.2h-11.6z"/><path d="M937 441.8l5.8 10.2h-11.6z"/><path d="M943.6 439.4l5.8 10.2h-11.6z"/><path d="M930.4 438.9l5.8 10.2h-11.6z"/><path d="M937 435l5.8 10.2h-11.6z"/><path d="M943.6 432.7l5.8 10.2h-11.6z"/><path d="M930.4 431.9l5.8 10.2h-11.6z"/><path d="M937 430.2l5.8 10.2h-11.6z"/><path d="M943.6 428.2l5.8 10.2h-11.6z"/><path d="M937 425.3l5.8 10.2h-11.6z"/><path d="M943.6 423.7l5.8 10.2h-11.6z"/><path d="M937 413.2l5.8 10.2h-11.6z"/><path d="M937 384l5.8 10.2h-11.6z"/><path d="M937 349.4l5.8 10.2h-11.6z"/><path d="M937 343l5.8 10.2h-11.6z"/></g>
<line x1="834" y1="481.4" x2="885" y2="481.4" stroke="#1a1a1a" stroke-width="3"/>
<line x1="847" y1="477.4" x2="872" y2="477.4" stroke="#1a1a1a" stroke-width="2.6"/>
<line x1="847" y1="485.4" x2="872" y2="485.4" stroke="#1a1a1a" stroke-width="2.6"/>
<line x1="859.5" y1="477.4" x2="859.5" y2="485.4" stroke="#1a1a1a" stroke-width="2.6"/>
<line x1="911.5" y1="472.3" x2="962.5" y2="472.3" stroke="#1a1a1a" stroke-width="3"/>
<line x1="924.5" y1="468.6" x2="949.5" y2="468.6" stroke="#1a1a1a" stroke-width="2.6"/>
<line x1="924.5" y1="475.9" x2="949.5" y2="475.9" stroke="#1a1a1a" stroke-width="2.6"/>
<line x1="937" y1="468.6" x2="937" y2="475.9" stroke="#1a1a1a" stroke-width="2.6"/>
<line x1="1146.6" y1="282.3" x2="1146.6" y2="559" stroke="#1a1a1a" stroke-width="3"/>
<line x1="1138.1" y1="557.5" x2="1331" y2="557.5" stroke="#1a1a1a" stroke-width="3"/>
<text transform="translate(1133.4,567.5) scale(0.93,1)" font-size="29" text-anchor="end">0</text>
<line x1="1138.1" y1="489.1" x2="1146.6" y2="489.1" stroke="#1a1a1a" stroke-width="3"/>
<text transform="translate(1133.4,499.1) scale(0.93,1)" font-size="29" text-anchor="end">10</text>
<line x1="1138.1" y1="420.6" x2="1146.6" y2="420.6" stroke="#1a1a1a" stroke-width="3"/>
<text transform="translate(1133.4,430.6) scale(0.93,1)" font-size="29" text-anchor="end">20</text>
<line x1="1138.1" y1="352.2" x2="1146.6" y2="352.2" stroke="#1a1a1a" stroke-width="3"/>
<text transform="translate(1133.4,362.2) scale(0.93,1)" font-size="29" text-anchor="end">30</text>
<line x1="1138.1" y1="283.8" x2="1146.6" y2="283.8" stroke="#1a1a1a" stroke-width="3"/>
<text transform="translate(1133.4,293.8) scale(0.93,1)" font-size="29" text-anchor="end">40</text>
<text transform="translate(1094.90,531.53) rotate(-90) scale(0.9500,1)" font-size="28" letter-spacing="1.271">Decay time (ms)</text>
<g fill="#8f8b88" stroke="#b4b2b4" stroke-width="2.4"><circle cx="1199.5" cy="523.3" r="5.4"/><circle cx="1208" cy="521" r="5.4"/><circle cx="1191" cy="519.8" r="5.4"/><circle cx="1216.5" cy="518.3" r="5.4"/><circle cx="1199.5" cy="515.1" r="5.4"/><circle cx="1208" cy="513.2" r="5.4"/><circle cx="1182.5" cy="513.1" r="5.4"/><circle cx="1199.5" cy="506.7" r="5.4"/><circle cx="1199.5" cy="495.9" r="5.4"/><circle cx="1208" cy="495" r="5.4"/><circle cx="1191" cy="494.7" r="5.4"/><circle cx="1216.5" cy="492.6" r="5.4"/><circle cx="1182.5" cy="491.7" r="5.4"/><circle cx="1199.5" cy="489" r="5.4"/><circle cx="1208" cy="487.5" r="5.4"/><circle cx="1191" cy="486.2" r="5.4"/><circle cx="1191" cy="485.9" r="5.4"/><circle cx="1216.5" cy="485.5" r="5.4"/><circle cx="1182.5" cy="484" r="5.4"/><circle cx="1208" cy="482.2" r="5.4"/><circle cx="1199.5" cy="481.7" r="5.4"/><circle cx="1199.5" cy="480.1" r="5.4"/><circle cx="1191" cy="479.9" r="5.4"/><circle cx="1216.5" cy="478.8" r="5.4"/><circle cx="1182.5" cy="476.6" r="5.4"/><circle cx="1199.5" cy="475.4" r="5.4"/><circle cx="1216.5" cy="475.3" r="5.4"/><circle cx="1208" cy="474.5" r="5.4"/><circle cx="1191" cy="472.8" r="5.4"/><circle cx="1199.5" cy="472.2" r="5.4"/><circle cx="1199.5" cy="471.4" r="5.4"/><circle cx="1182.5" cy="469.2" r="5.4"/><circle cx="1182.5" cy="468.8" r="5.4"/><circle cx="1182.5" cy="468.4" r="5.4"/><circle cx="1216.5" cy="468.3" r="5.4"/><circle cx="1208" cy="465.4" r="5.4"/><circle cx="1191" cy="464.8" r="5.4"/><circle cx="1199.5" cy="462.3" r="5.4"/><circle cx="1191" cy="461.5" r="5.4"/><circle cx="1216.5" cy="461" r="5.4"/><circle cx="1182.5" cy="460.6" r="5.4"/><circle cx="1199.5" cy="459.8" r="5.4"/><circle cx="1208" cy="453.5" r="5.4"/><circle cx="1199.5" cy="448.9" r="5.4"/><circle cx="1191" cy="448.1" r="5.4"/><circle cx="1216.5" cy="447.5" r="5.4"/><circle cx="1199.5" cy="437.4" r="5.4"/><circle cx="1208" cy="432.5" r="5.4"/><circle cx="1191" cy="431.4" r="5.4"/><circle cx="1199.5" cy="429.5" r="5.4"/><circle cx="1216.5" cy="425.7" r="5.4"/><circle cx="1199.5" cy="412.4" r="5.4"/><circle cx="1208" cy="410.4" r="5.4"/></g>
<g fill="#e8363c" stroke="#ee6d70" stroke-width="0.5"><path d="M1277 532.7l5.8 10.2h-11.6z"/><path d="M1277 520.7l5.8 10.2h-11.6z"/><path d="M1283.6 520.6l5.8 10.2h-11.6z"/><path d="M1277 512.9l5.8 10.2h-11.6z"/><path d="M1283.6 511.8l5.8 10.2h-11.6z"/><path d="M1277 506.8l5.8 10.2h-11.6z"/><path d="M1283.6 506.2l5.8 10.2h-11.6z"/><path d="M1270.4 505.8l5.8 10.2h-11.6z"/><path d="M1290.2 505l5.8 10.2h-11.6z"/><path d="M1277 499.8l5.8 10.2h-11.6z"/><path d="M1283.6 499.3l5.8 10.2h-11.6z"/><path d="M1270.4 495.6l5.8 10.2h-11.6z"/><path d="M1277 495l5.8 10.2h-11.6z"/><path d="M1283.6 491.4l5.8 10.2h-11.6z"/><path d="M1270.4 491.2l5.8 10.2h-11.6z"/><path d="M1277 489.6l5.8 10.2h-11.6z"/><path d="M1290.2 489.4l5.8 10.2h-11.6z"/><path d="M1263.8 487.5l5.8 10.2h-11.6z"/><path d="M1283.6 486.2l5.8 10.2h-11.6z"/><path d="M1270.4 485.7l5.8 10.2h-11.6z"/><path d="M1277 483.5l5.8 10.2h-11.6z"/><path d="M1290.2 482.5l5.8 10.2h-11.6z"/><path d="M1283.6 480.4l5.8 10.2h-11.6z"/><path d="M1277 478.1l5.8 10.2h-11.6z"/><path d="M1270.4 478l5.8 10.2h-11.6z"/><path d="M1290.2 477.8l5.8 10.2h-11.6z"/><path d="M1263.8 477.4l5.8 10.2h-11.6z"/><path d="M1296.8 476.4l5.8 10.2h-11.6z"/><path d="M1283.6 475.8l5.8 10.2h-11.6z"/><path d="M1257.2 475.6l5.8 10.2h-11.6z"/><path d="M1277 473.1l5.8 10.2h-11.6z"/><path d="M1270.4 473.1l5.8 10.2h-11.6z"/><path d="M1283.6 471.1l5.8 10.2h-11.6z"/><path d="M1290.2 470.2l5.8 10.2h-11.6z"/><path d="M1263.8 468.9l5.8 10.2h-11.6z"/><path d="M1277 468.6l5.8 10.2h-11.6z"/><path d="M1270.4 468.4l5.8 10.2h-11.6z"/><path d="M1296.8 468.3l5.8 10.2h-11.6z"/><path d="M1257.2 467.9l5.8 10.2h-11.6z"/><path d="M1257.2 467.7l5.8 10.2h-11.6z"/><path d="M1290.2 467.3l5.8 10.2h-11.6z"/><path d="M1277 466.8l5.8 10.2h-11.6z"/><path d="M1283.6 466.6l5.8 10.2h-11.6z"/><path d="M1277 466.3l5.8 10.2h-11.6z"/><path d="M1277 465.7l5.8 10.2h-11.6z"/><path d="M1270.4 464.7l5.8 10.2h-11.6z"/><path d="M1277 461.2l5.8 10.2h-11.6z"/><path d="M1283.6 461.1l5.8 10.2h-11.6z"/><path d="M1290.2 460.4l5.8 10.2h-11.6z"/><path d="M1263.8 460.3l5.8 10.2h-11.6z"/><path d="M1270.4 459.9l5.8 10.2h-11.6z"/><path d="M1296.8 459.8l5.8 10.2h-11.6z"/><path d="M1257.2 458.4l5.8 10.2h-11.6z"/><path d="M1263.8 458.2l5.8 10.2h-11.6z"/><path d="M1257.2 456.9l5.8 10.2h-11.6z"/><path d="M1277 455.1l5.8 10.2h-11.6z"/><path d="M1283.6 455l5.8 10.2h-11.6z"/><path d="M1270.4 454.6l5.8 10.2h-11.6z"/><path d="M1277 450.2l5.8 10.2h-11.6z"/><path d="M1283.6 447.2l5.8 10.2h-11.6z"/><path d="M1270.4 447.1l5.8 10.2h-11.6z"/><path d="M1277 445.3l5.8 10.2h-11.6z"/><path d="M1290.2 443.2l5.8 10.2h-11.6z"/><path d="M1283.6 441.8l5.8 10.2h-11.6z"/><path d="M1277 440.9l5.8 10.2h-11.6z"/><path d="M1270.4 438.3l5.8 10.2h-11.6z"/><path d="M1283.6 436.9l5.8 10.2h-11.6z"/><path d="M1277 436l5.8 10.2h-11.6z"/><path d="M1290.2 434.3l5.8 10.2h-11.6z"/><path d="M1277 431.1l5.8 10.2h-11.6z"/><path d="M1283.6 430.6l5.8 10.2h-11.6z"/><path d="M1270.4 427.7l5.8 10.2h-11.6z"/><path d="M1277 425.3l5.8 10.2h-11.6z"/><path d="M1283.6 424.4l5.8 10.2h-11.6z"/><path d="M1277 419.9l5.8 10.2h-11.6z"/><path d="M1283.6 419.1l5.8 10.2h-11.6z"/><path d="M1277 414.7l5.8 10.2h-11.6z"/><path d="M1283.6 413.5l5.8 10.2h-11.6z"/><path d="M1277 404.8l5.8 10.2h-11.6z"/><path d="M1277 393.2l5.8 10.2h-11.6z"/><path d="M1277 384.3l5.8 10.2h-11.6z"/><path d="M1277 365.8l5.8 10.2h-11.6z"/><path d="M1277 360.3l5.8 10.2h-11.6z"/><path d="M1277 322l5.8 10.2h-11.6z"/></g>
<line x1="1174" y1="474" x2="1225" y2="474" stroke="#1a1a1a" stroke-width="3"/>
<line x1="1187" y1="469.6" x2="1212" y2="469.6" stroke="#1a1a1a" stroke-width="2.6"/>
<line x1="1187" y1="478.5" x2="1212" y2="478.5" stroke="#1a1a1a" stroke-width="2.6"/>
<line x1="1199.5" y1="469.6" x2="1199.5" y2="478.5" stroke="#1a1a1a" stroke-width="2.6"/>
<line x1="1251.5" y1="470.3" x2="1302.5" y2="470.3" stroke="#1a1a1a" stroke-width="3"/>
<line x1="1264.5" y1="466.2" x2="1289.5" y2="466.2" stroke="#1a1a1a" stroke-width="2.6"/>
<line x1="1264.5" y1="474.4" x2="1289.5" y2="474.4" stroke="#1a1a1a" stroke-width="2.6"/>
<line x1="1277" y1="466.2" x2="1277" y2="474.4" stroke="#1a1a1a" stroke-width="2.6"/>
</g>
<g id="part_c">
<text transform="translate(-0.44,630.00) scale(1.0000,1)" font-size="38.5" font-weight="bold">c</text>
<rect x="20.2" y="641" width="429.6" height="586" fill="#000"/>
<clipPath id="ncl"><rect x="20.2" y="641" width="429.6" height="586"/></clipPath>
<g clip-path="url(#ncl)"><g fill="none" stroke="#fff" stroke-linecap="round" stroke-linejoin="round">
<path d="M246.7 940.3 245.9 937.9 245.8 936.7 245.9 934.4 245.9 932.1 245.4 930.1 246.4 927.9 246.1 924.4 245.8 921.5 246.6 919.3 245.6 917.1 246.8 914.6 245.8 911.6 246.5 909.3 245.9 907 246.6 906.1 246.3 903.8" stroke-width="2.27"/>
<path d="M246.3 902.3 246.4 900.9 245.4 900 243.6 898.1 242.5 895.6 241.2 892.9 240.7 890 240.5 887.3 239.9 885.9 239.6 883 237.4 880.9 236.2 878.9 236.1 876.6 236 874.3 234.5 871.6 233.9 869.9 233.5 867.2 232.5 865.5 231.5 863 231.1 859.4 229.8 857.8 229.7 856 228.3 853.4 228.4 851 227.4 849.4 226.1 846.3 226.3 844.4 225.5 841.2 225.5 840 223.8 837.1 224.2 835.1 223.2 832.6 223 830.6 222.3 828.2 222.3 825.4 221.3 824 221.5 820.9 220.8 818.6 220.5 817.1 220.6 814.2 219.5 812.1 219.8 810.1 218.6 807.7" stroke-width="1.66"/>
<path d="M218.6 807.7 219.2 805.3 217.8 803 218.3 800.6 218.1 798.4 218 796.3 217.1 793.5 218 790.5 217.9 789.2 216.6 787.3 216.8 784.4 216.6 781.1 216.8 779.8 216 777.3 215.4 775.1 215.5 772.4 215.2 769.2 215.8 768.9 215.4 765.5 214.2 763.6 213.9 761.8 213.4 758.9 213.3 757.1 212.8 754.6 212.6 752.2 212 750.9 210.8 748.7 210.6 745.3 210.7 742.5 209.5 740.7 208.9 739 209 736.2 207.9 733.6 208.1 732.1 207.2 728.8 207.4 725.9 206.6 723.8 207.1 721.7 205.7 720.7 205.6 718.1 205.3 714.5 205.6 711.3 204.6 710" stroke-width="1.39"/>
<path d="M204.7 710.7 207.4 708 209.9 706 212.5 704.7 215.2 703.8 217.5 702 219.6 699.9 221.6 699.2 224.2 698.1 226.7 696.5 229.2 696.9 229.8 695.1" stroke-width="1.04" stroke-opacity="0.80"/>
<path d="M204 710.1 203.1 709.2 200.6 707.6 198.3 705 196.3 703.6 193.8 702.2 192.8 701 189.5 699.2 188.2 696.8 185.3 695.4 183.8 694.2 181.8 692 180.5 689.9 178.4 688.1 177 686.7 176.9 683.5 176.8 681.4 177.9 679.1 180.7 676.3 179.8 674.8 177.9 672.7 176.7 669.8 175 667.3 172.8 665.4 174.7 663.6 174.1 661 176.1 658.5 177.7 656 179.5 653.8 180 652.2 181.1 649.2 182.8 646.3 184 644.6 184.4 642.7 185.1 641.1" stroke-width="1.07"/>
<path d="M176.6 685.8 176.8 684.3 176.4 682.2 176.2 680 175.4 677.5 174.9 674.3 173.9 672.1 173.2 670.4 172.2 666.9 171.8 665.2 170.9 662.8 170.8 659.9 170.9 658.3 170.4 655.7 170.4 653.6 168.8 650.6 169.7 648.4 170.3 645.4 169.2 642.4 169 641.1" stroke-width="1.05" stroke-opacity="0.80"/>
<path d="M206.5 718.1 204.3 716.7 202.8 715.4 201.5 714.5 199.4 712.8 197 710.7 195.2 708.8 194.3 707.1 191.3 705.2 190.2 702.8 188.6 702.1 188.3 699.7 186.7 699 183.3 696 181.8 694.2 180.5 692.8" stroke-width="1.05" stroke-opacity="0.80"/>
<path d="M247.1 902.5 246.6 901.7 244.4 900 243.9 897.8 243 895.8 242.1 892.7 241.3 890.4 239.6 888.4 238.6 885.1 237.6 882.5 236.6 881.7 235.6 878.5 234.6 875.9 234.9 874.3 233.1 871.7 232.2 869 231.3 866.7 231.1 865.1 230.4 862.5 228.8 860.3 228.3 858.5 228.3 856.3 227.2 852.9 227.1 851.9 225.3 849 225.7 846 225.4 844.2 223.4 842.7 223.4 839.5 223 836.5 222.7 834.6 221.3 832.4 220.7 830.6 219.4 828.3 218.9 825.3 218.2 823.1 217.1 821.7 216.5 819.7 215.8 816.6 213.8 814.7 213.8 813.1 212.4 811.6" stroke-width="1.56"/>
<path d="M212.4 811.6 211.1 808.6 211.1 808.2 210.5 804.7 209.8 803.2 209.3 800.4 207.9 798.3 207.8 796.7 208 793.4 206.4 791.4 206 789.3 205.9 786.9 205.9 784.4 204.6 781.4 204.3 779.3 203.7 777.7 204.4 774.8 203.7 772 203.4 771.4 202.4 768.5 203.2 765.9 202.2 763.7 201.2 761.3 201.6 758.3 199.6 756.7 199.3 755.3 197.7 752.6 195.2 751.4 194 749.3 191.8 748.6 190.1 746.6 187.6 745 185.3 744.4 184.2 744.8 181.6 742.4 179.8 740.5 177.5 739.4 175.8 739.5 173.3 737.2 172 736.5 169.4 735.1 166.7 733.6" stroke-width="1.34"/>
<path d="M166.7 733.6 166.2 732 164.2 729.8 162.8 728.7 161.1 726.5 160.2 725.4 158.8 723.3 158.1 721.4 156.6 718.3 155.5 716.1 155.2 714.1 154.2 711.3 153.6 709.4 153.9 706.8 153.9 704.2 154.4 702.7 155.3 699.4 155.2 696.8 156.4 695.5 155.7 692.1 156.3 690.2 155.3 687.9 155.8 684.9 154.8 683.9 154.2 681.1 153.8 679.3 151.4 677.1 150.4 674.9 149.4 672.6 148.7 670.5 148.2 667.9 146.9 665.8 145 663.2 145.1 660.9 144.4 659.9 143.1 656 142.1 653.6 140.3 651.1 140.1 647 139.2 646 139.2 644.6" stroke-width="1.11"/>
<path d="M218.4 818.1 217.4 818.2 216.7 815.2 216.7 812.5 216.2 811.1 214.5 808.1 213.7 804.5 213.4 802.7 212.3 801 210.6 797 209.5 795.2 209.2 793.1 208 791.4" stroke-width="1.05" stroke-opacity="0.70"/>
<path d="M246.6 902.2 247.6 901.8 248.7 899.8 250.9 898.7 253.2 896.1 254.4 894.6 256.7 893.6 258.8 891.7 261.5 890.3 262.3 888.7" stroke-width="2.29"/>
<path d="M262.3 888.7 264.2 887.3 265.1 885.3 266.4 882.6 266.6 880.7 267 877.7 266.8 874.9 268.4 873.6 267.6 871.7" stroke-width="2.09"/>
<path d="M267.5 871.6 266.9 870 267.6 868.5 265.3 864.8 266.4 863 265.6 860.9 264.5 858.5 265 856 264.6 854 263.9 851.2 263.9 849.4 262.7 847.5 263.6 844.8 263.1 842.3 262.9 839.5 263.1 837.6 262.9 835.9 262.6 832.2 263.2 830.7 263.6 827.6 263.6 825.2 263.6 824 264.9 821.3 265 819.5 265.5 815.1 266.5 814 267.5 811.4 267.9 810.5 267.7 807.1 267.6 805.6 269 803.8 269.1 801.8 268.9 798.7 268.3 796 268.8 793.8 268.8 792.5" stroke-width="1.46" stroke-opacity="0.90"/>
<path d="M268.8 792.5 268.5 789 267.8 787.5 267.6 784.4 267.7 782 268.2 779.4 267 778.3 267.9 775.3 268.2 772.9 269.2 770.9 268.9 768.1 269.3 766.2 269 763.6 267.1 762.1 267.6 760.2 266.9 758.2 264.8 756.3 263.5 754.4 262.3 752.2 260.9 750.1 258.6 748.4 256.7 747 256.5 746.1 254.6 743.3 252 742.9 250.3 740.8 248.3 738.6 248.1 737.2 246.3 735 244.3 734.1 243.4 731.8 241.8 729.7 240.7 728.9 238.6 726.7 238.3 724.6 237.4 723.3" stroke-width="1.26" stroke-opacity="0.90"/>
<path d="M237.4 723.3 235.2 720.8 235.1 717.6 233.8 715.8 232.7 713.9 231.9 710.5 231 708.9 231.6 706.6 231 704.3 231.4 702.1 230.3 699.4 230.8 697 229.6 695 228.5 693.1 227 691.1 226.7 687.8 226 685.4 225.1 684.2 223.8 681.1 224 678.9 223.1 677.1 223.4 674.3 222.4 672.6 220.9 669.6 221 666.5 222.6 665.1 222.4 662.8 222.2 660.1 222.2 657.8 223.2 656.1 223.8 653.3 224.4 651.2 224.6 649.7 226.2 645.8 227.7 643.5 228.6 641.1" stroke-width="1.06" stroke-opacity="0.90"/>
<path d="M267.4 871.5 267.8 870.3 270.2 869.6 271.3 867.5 273.5 864.8 274.9 861.9 276.3 860.9 277.2 858.1 279 855.2 279.5 853.7 280.1 852 280.6 849.1 281.7 847.1 281.6 844.2 281.9 842.4 282.5 839.7 284.2 837.6 283.6 834.5" stroke-width="1.69"/>
<path d="M283.6 834.5 283.8 832.8 284.5 829.9 285.8 827.1 284.8 825.1 285.6 823.3 285.9 821.6 287.2 818.6 287 817.1 288.9 814.6 290.5 812.7 291.4 811.6 292.7 809.9 293.8 807.1 295 804.5 296.9 801.9 297.2 799.7 298.6 798.3" stroke-width="1.48"/>
<path d="M298.4 798.3 298.5 797.6 301.2 795.6 303.3 794 304.2 792.4 307.5 790 308.3 788.5 311.1 787.4 311.9 785.2 313.5 784.5" stroke-width="1.07"/>
<path d="M313.3 783.9 314.4 785.3 316.3 783.4 318.2 783.2 320.9 782.8 323.4 781.8 326.9 781 329.4 780.6 332.2 780.9 334 778.7 336.1 777.7 337.8 776.4 340.4 776.4 341.4 775.7 343.8 773.4 346.1 772.6 347.9 770.6 348.7 769.2 350.3 768.4 352.7 767.4 355.3 766 357.6 764 359.1 764.7 361.3 762.4 363 763.1 364.7 762.2 367.5 761.1 370 760.2 371.2 759.8 373.5 759.4 376.2 758.7 377.8 759.1 380.4 757.9 383.4 757.5 385.6 757 387.1 757.5 389.9 755.7 391.6 755.2 394.3 754.3 396.4 753.5 398.4 753.6 399.8 752.5 403.4 751.3 405.9 751.7 408 752.3 410.1 751.1 412.6 750.6 415.2 749.2 418.5 749.9 419.4 749.4 421.9 748.1 423.2 749.1 426.7 748.1 428.5 747.9 431.3 746.9 432.8 746.7 436.8 746.3 439.6 745.4 440.7 746.1 443 746.1 445.4 745 447.5 744.7 449 743.8 450 744.4" stroke-width="0.40" stroke-opacity="0.25"/>
<path d="M298.8 798.2 297.8 796.7 296.9 794.9 296.6 792 295.8 790.1 294.6 787.4 294.4 783.7 293.1 781.8 292.3 779.8 292.3 777.5 291.8 774.9 291.5 773.8 290.2 771.6 289.9 768.8 288.9 765.8 287.8 763.3 287.1 761.4 285.5 759 285.2 756.9 283.5 753.1 282.5 752.5 281.4 750.1" stroke-width="1.08"/>
<path d="M268.8 797.6 267.2 797 268 795.3 265.9 794 264.4 791.2 262.7 788.9 261.1 786.6 260.9 785.7 260 783.4 258.8 781.2 258.5 778.6 256.3 777.1 256.2 774.6 255.5 771.3 255 770.5 253.7 768.4 253.6 765.7 252.2 763.3 251.4 760.9 250.5 757.9 249.8 756.4 249.3 754.7" stroke-width="0.50" stroke-opacity="0.50"/>
<path d="M304.6 786.6 304.7 786.1 304.9 783.6 306 781.3 305.8 779.5 307.2 776.1 307.3 774.4 306.5 770.6 306.8 769 306 766.3 306.2 764.7 306.2 762.5 304.9 759.8 304 757.1 304.3 754.9 303.9 752.4 303 749.8 302.9 747.6 302.4 746 301.5 743.2 301.1 740.9 301.3 739.1 302 735.7 300.7 732.8 302.2 729.5 301.3 727.5 300.7 725.6 301.3 723.7 301.2 722.8 300.9 720.3" stroke-width="0.40" stroke-opacity="0.30"/>
<path d="M349.8 938.2 352.1 936.9 353.4 937.3 354.6 937.4 356.2 935.8 359.3 935.3 362 934.6 364.3 932.9 366.2 932.4 368.9 930.1 371 930.1 373.2 929 374.4 928.1 377.4 927.5 379.1 926.2 382.1 925.1 383.1 924.5 385.6 924.9 388.1 923.8 390 920.8 392.2 921.3 393.7 918.9 395.7 918.3 398.3 916.7 401.2 915.5 402.6 914 405.5 912.4 406.8 910.9 408.4 909.2 410.7 908.5 411 907.3" stroke-width="1.05"/>
<path d="M246.4 1041.5 246.6 1040.8 246.3 1037.9 245.1 1035.4 245.9 1032.4 245.7 1031.3" stroke-width="5.20"/>
<path d="M245.7 1031.3 244.9 1027.8 245.5 1025.9 244.6 1022.7 244.9 1020.1 245 1018" stroke-width="4.59"/>
<path d="M245 1018 245.3 1014.5 245.3 1012.7 244.7 1010.5 245.3 1008.2 244.8 1006" stroke-width="4.04"/>
<path d="M244.8 1006 244.8 1002.9 244.8 1000.8 245.4 999.1 245.6 997.1 245.5 993.9" stroke-width="3.62"/>
<path d="M245.5 993.9 245.4 991.3 245.7 989.9 245.3 987.2 246 985 245.9 982.6 246.1 980.3" stroke-width="3.22"/>
<path d="M246.1 980.3 245.5 977.9 246.9 974.5 247.1 972.4 247.4 970.6 247.4 968.4" stroke-width="2.90"/>
<path d="M247.4 968.4 246.6 966.4 247.8 962.4 247.5 961 246.8 958.1 247.6 956.1" stroke-width="2.68"/>
<path d="M247.6 956.1 247.4 954.7 247.1 951 247.2 948.2 246.2 947.7 246.1 944" stroke-width="2.52"/>
<path d="M246.1 944 245.9 941.4 246.4 937.8 246 936.6 246.6 933.7 245.8 930.9" stroke-width="2.42"/>
<path d="M245.8 930.9 246 927.7 246.2 926.6 245.7 923.8 246.2 920.8 246.1 920" stroke-width="2.38"/>
<path d="M246.7 962.3 248 962.4 251.2 961.5 252.4 959.5 255.9 959.2 257.9 958.2 259.2 959.5 262.1 958.5 264.2 959.5 266.9 958.8 269.5 958.7 272.2 957.6 274 957.7 275.8 957.1" stroke-width="2.04"/>
<path d="M275.8 957.1 278.4 956.2 280.2 956.4 282.4 955.2 285 954.7 287 953.9 289 953.4 291.2 951.4 294 950.7 295.4 950.4 298.8 949.2 300.6 948.1 303.3 947.1 305.8 947" stroke-width="1.80"/>
<path d="M305.8 947 307.6 945.6 309.4 944.8 311.5 944.1 314.1 944.2 316.9 943.3 319 942.5 322 943.8 323.2 942.7 325.5 942.6 327.4 941.3 330.3 941.3 332.2 941 334 941.4" stroke-width="1.55"/>
<path d="M334 941.4 337.3 940.3 338.7 939.9 340.9 938.4 343.3 937.6 345.5 937.9 348 936.8 349.9 937.3 353.2 936.8 355.3 935.1 357.4 934.9 359.2 934.4 361.2 933.6 363.6 931.4" stroke-width="1.32"/>
<path d="M363.6 931.4 366.1 930.1 368.1 929.9 369.8 928.8 372.2 928.4 375.6 928 377.3 927.8 379 927.3 381.3 926.3 383.3 925.3 387 925 388.7 923.3 390.7 921.8 392.3 921.6" stroke-width="1.07"/>
<path d="M305 946.9 307.6 948.8 309.5 950.4 310.1 952.6 308.6 954.4 307.5 955.7 305.3 957.9 302.8 958.5 300.1 960.2 297.7 961.4 294.5 961.2 292.4 963.7 290.8 964.7 289.2 966.4 287.2 968.2 286 969.5" stroke-width="1.05"/>
<path d="M247.6 982.5 249.5 981.8 250 980.4 253.4 980 255.7 978.3 257.9 978.3 260.4 976.9 262.5 977.1 264.4 975.9 266.9 976 269.1 976 271.3 974.9 274.6 974.4 276.9 972.7 278.4 973.5 281.3 972.9" stroke-width="2.05"/>
<path d="M281.3 972.9 283.4 972.3 285.9 971.1 287.6 971 289.2 969.9 292.5 969.9 295.1 969.6 296.6 969 298.5 968.1 300.6 968.4 304 967.9 305.7 967.4 308.4 966 310.2 965.7 312.5 965.5 314.4 964.7 316.8 963.8" stroke-width="1.80"/>
<path d="M316.8 963.8 318.6 963.8 321.1 963.1 322.7 963.7 325.8 962.6 327.8 961.9 330.2 962.4 332.4 962.3 334.2 962.6 336.4 963.7 339.4 963.4 340.9 966.1 343.4 965.9 347.2 966.7 348.3 967 350.4 969.3" stroke-width="1.57"/>
<path d="M350.4 969.3 353.1 969.5 355.5 969.8 357.5 970.6 360.1 973 362.8 972.7 364.8 973.6 367.3 973.7 369.3 974.9 371 975.6 373.9 976.5 376.4 977.1 378.3 977 380.9 977 383.2 976.6 384.8 977.4 388.6 976.9" stroke-width="1.32"/>
<path d="M388.6 976.9 390.9 977 392.6 976.4 395.2 977 397.8 977.2 400 976.9 402.2 976.7 404.4 976.6 407.3 976 409.2 976.1 412.4 976.1 415.2 977.1 417.7 976.2 420.6 977.5 422.2 977.1 423.6 977.4" stroke-width="1.07"/>
<path d="M365.3 973.8 367.2 972.6 369.4 971.9 372.1 969.5 376 970 378 968.7 379.5 968 382.4 966.8 384.7 967.2 387.9 967.1 389.7 966.2 393.5 966.9 395.2 967 396.4 967" stroke-width="1.05"/>
<path d="M376.3 976.4 377.7 977.5 380.6 976.7 384.1 978.6 386.9 977.6 389.2 979.5 391 979 394.2 979 396.9 980.9 399.4 981.6 401.4 981.3 404.5 981.3 407.1 981.4 409.6 981.8" stroke-width="1.05"/>
<path d="M248.3 984.9 248.7 984.4 252.8 984.8 254.4 983.8 257.5 983.2 260.4 983.3 263.4 982.5 265 982.3 267.4 982.7" stroke-width="2.27"/>
<path d="M267.4 982.7 269.2 983.1 272 982.5 273.5 981.7 275.8 981.9 277.7 982 280.4 981.9 284.2 981.7 286.3 981.7" stroke-width="2.02"/>
<path d="M286.3 981.7 289.2 982 292 982.2 294.9 982 296.7 981.8 299.1 982 301.9 983 304.5 983.1 305.7 982.3" stroke-width="1.75"/>
<path d="M261.8 986.1 262.1 988 263.6 990.3 264.7 994" stroke-width="1.32"/>
<path d="M264.7 994 264.3 997.2 264.9 999.9 264.2 1001.6" stroke-width="1.10"/>
<path d="M245.7 1016.4 247.3 1014.3 249.8 1013.8 252.2 1011.8 254.2 1008.9 256.7 1008 258.5 1007 260.6 1006.3" stroke-width="2.58"/>
<path d="M260.6 1006.3 261.8 1004.5 264.5 1003.9 266.5 1001.7 268.1 1001.7 269.9 999.7 272.4 998.1 274 996.6" stroke-width="2.15"/>
<path d="M274 996.6 276.2 996.7 279 994.6 281.9 993.8 283.2 994.2 286.2 992.5 289 991.6 290.9 990.5" stroke-width="1.88"/>
<path d="M290.9 990.5 293.1 989.9 295.9 988.9 297.4 987.5 300 987.7 303.5 986.4 305.7 986" stroke-width="1.77"/>
<path d="M286 992.7 287.7 993.4 290.3 992.9 292.2 993.3 294.7 993.5 297.4 993.1 299.9 994.4 301.5 995 303.9 996.1 306.1 996.2 309.2 996.3 310.6 997.2 313.2 997.1 315 998.3 318.5 998.3 320.3 999.3 322.6 998.9" stroke-width="1.46"/>
<path d="M322.6 998.9 324.8 999.6 328.1 999.4 329.7 999.6 331.8 998.6 333.9 999.5 335.9 998.6 338 998.2 340.8 997.9 342.8 996.9 345.1 996.8 347.8 997.3 349.9 996.4 352.4 995.6 355.4 995.7 357.1 994.4 360.2 994.7" stroke-width="1.25"/>
<path d="M360.2 994.7 360.4 991.7 362.3 991 364.2 990.2 366.6 990.5 369.2 988.3 372.6 987.8 374.1 986.7 376.8 985.5 379.1 984.4 381 983.3 383.8 983 386.1 980.9 388.3 979.9 389.2 978.3 391.5 977.7" stroke-width="1.05"/>
<path d="M333.3 997.8 334.8 996.8 336.9 995.5 339.4 992.5 339.6 991.6 342.1 989.4 344.8 986.6 345.1 984.6 347.6 984.7 349.9 983.1 352.8 981 353.5 979.1 355.6 977.6 357.5 976.8 360.4 974.9 363.1 973.7 365.9 973.7 368.4 972.8" stroke-width="1.05"/>
<path d="M333.3 998.9 332.7 998.8 329.4 1000.6 326.9 1001.6 324.6 1003.4 322.6 1004.5 320 1004.9 316.1 1006.4 315 1007.4 312 1009 309 1009.5 307.3 1010.5 305.2 1011.3 302.6 1012.2 300.7 1014.4 299.1 1015.9" stroke-width="1.33"/>
<path d="M299.1 1015.9 296.8 1018.9 296.9 1020.5 295.5 1023.5 295.5 1026.4 295.5 1028.7 295.1 1031.9 294.9 1034.9 295 1036.4 294.2 1038.7 294.1 1041.4 293.5 1044 292.6 1046.1 291.4 1050.5 290.9 1051.9" stroke-width="1.11"/>
<path d="M253.3 1050.2 255 1050.5 257.4 1050.2 260.6 1051.1 262.5 1052.2 265.8 1052.9 267.7 1053.3" stroke-width="4.66"/>
<path d="M267.7 1053.3 269.5 1054.5 272.2 1055.9 274.1 1056.3 276.5 1055.8 278 1056.9 281.1 1055.7 283.8 1053.9" stroke-width="3.92"/>
<path d="M283.8 1053.9 286 1055 288.2 1054.3 290.6 1053.6 291.5 1054.8 294.1 1054.2 296.8 1053.9 299.3 1053.5" stroke-width="3.27"/>
<path d="M299.3 1053.5 301.1 1053.6 304.2 1053.7 305.2 1052.2 308.3 1053.1 310.3 1051.5 312.6 1051.8 314.5 1051.1" stroke-width="2.74"/>
<path d="M314.5 1051.1 317.6 1050.3 319 1048.9 319.9 1047.6 322 1046 325 1043.5 327 1043.7 329.1 1042.8" stroke-width="2.26"/>
<path d="M329.1 1042.8 331.9 1042.9 334.3 1042.6 336.4 1042 338.7 1042.2 340.7 1042.3 343.6 1041.4" stroke-width="1.90"/>
<path d="M343.6 1041.4 344.8 1041.8 348.2 1041.3 350.2 1041.7 351.6 1041.5 354.9 1040.1 357 1038.6 359 1038.8" stroke-width="1.64"/>
<path d="M359 1038.8 362.2 1038 364.1 1037.2 365.9 1036.8 369.1 1036.1 372.1 1035 373.1 1035.6 375.9 1035" stroke-width="1.43"/>
<path d="M375.9 1035 377.5 1034.2 380.1 1033.4 382.3 1033.9 384.3 1033 386.8 1033.2 389.1 1033.4 391.7 1032.7" stroke-width="1.31"/>
<path d="M391.7 1032.7 395 1033.9 397.7 1034.2 399.5 1034.3 401.9 1033.9 405.5 1034.5 406.3 1034.6" stroke-width="1.26"/>
<path d="M325.3 1043.6 326.6 1044.2 328.4 1043.6 331.2 1044.6 334.6 1044.2 336.5 1043.8 338.8 1045.9 340.7 1045.6 343.4 1047 346.1 1046.2 347.4 1047.2 349.5 1047.3 351.3 1048.3 354.2 1047.5 356 1047.6" stroke-width="1.23"/>
<path d="M356 1047.6 357.5 1046.9 360.3 1046.9 363.4 1045.8 365.4 1045.1 367.5 1044.6 369.7 1044 372.3 1043.8 373.9 1041.9 376.8 1041.5 378.3 1041.6 380.6 1041 384 1040.6 386.6 1040 388.2 1039.5" stroke-width="1.05"/>
<path d="M312.4 1051.7 313.7 1053.2 315.1 1055.1 316.3 1057.4 319.2 1058 321.2 1058.9 323.4 1058 325.9 1056.6 328.6 1056.9 329.9 1057.9 332.4 1057.9 335 1058.2 338.2 1057.3 340.2 1057.5 342.3 1057 344.7 1056 346.5 1056.1 350 1056.1 352.8 1055.8 355 1056.1 356.9 1055.2" stroke-width="1.08"/>
<path d="M319.3 1059.9 320.9 1060.1 322.1 1061.4 324.5 1063.2 326.3 1064 328.3 1064.7 330 1066.1 332.6 1067.9 333.4 1069.4 335 1071.5 337.4 1073.7 338.6 1075.8 340.6 1077.5 342.1 1079.4 343.5 1082 346.1 1083.3 347.7 1085.2 351.2 1086.8" stroke-width="1.23"/>
<path d="M351.2 1086.8 352.5 1088 354.8 1089.4 357.6 1091.1 358.5 1092.8 360.4 1093.1 363 1094.3 366.7 1095 369.5 1096.9 371.1 1097.5 371.8 1097.8 375.1 1099.3 376.6 1100.5 379 1102 381.4 1103.2 384.3 1104.4 385.7 1106" stroke-width="1.04"/>
<path d="M286.4 1068.4 286.9 1067.6 289.5 1067.1 292.3 1066.4 294.5 1066.7 298.2 1066.5 299.6 1065.8 302.1 1066.1" stroke-width="1.33"/>
<path d="M302.1 1066.1 304.7 1065.3 307.7 1065.3 309.1 1063.8 311.7 1062.7 315.4 1062 317.5 1061 318.9 1060.1" stroke-width="1.12"/>
<path d="M252.8 1054.9 254.4 1055.2 255.5 1057.4 259 1059.3 260.3 1061.2 262.9 1061.5" stroke-width="5.53"/>
<path d="M262.9 1061.5 265 1063.3 267.8 1063 269.4 1064.1 271.7 1064.2 274.7 1064.6" stroke-width="4.65"/>
<path d="M274.7 1064.6 276.2 1066 278.5 1067.4 280.7 1068.1 282.8 1068.7 284.7 1070.6 286.1 1071.2" stroke-width="3.84"/>
<path d="M286.1 1071.2 287.7 1073.6 289.3 1074.5 290.3 1076.6 291.6 1078.8 293.2 1079.8" stroke-width="3.15"/>
<path d="M293.2 1079.8 295.3 1082.5 296.4 1084.1 297.8 1086.6 298.8 1088.9 300.5 1090.6 302 1092.9" stroke-width="2.56"/>
<path d="M302 1092.9 302.6 1094.9 304.2 1097.1 306.1 1098.3 308 1100.5 309.4 1101.1" stroke-width="2.08"/>
<path d="M309.4 1101.1 312.2 1103.2 314.9 1103.9 316.3 1103.9 319.4 1105.4 322.3 1106.7" stroke-width="1.72"/>
<path d="M322.3 1106.7 323.8 1107.4 326.2 1107.3 328.7 1107.1 331.9 1108.4 333.6 1108.7 334.7 1109.1" stroke-width="1.47"/>
<path d="M334.7 1109.1 337.1 1109.3 338.8 1111 341.9 1111.3 345 1111.6 346.6 1112.8" stroke-width="1.32"/>
<path d="M346.6 1112.8 348.7 1113 351.1 1113.2 354.7 1114.2 357.2 1115.2 358.5 1115.4" stroke-width="1.26"/>
<path d="M291.2 1076.3 292.2 1076.2 294.7 1076.6 297.4 1075.7 299.3 1075.4 302.5 1074.5 305.1 1075.4 307.6 1076.4 310 1077.4 311.7 1077.6 314.1 1079.7 316.7 1080.1 318.1 1081.3 320.7 1082.7 321.7 1084.6 323.8 1085.9 325.1 1088.5 327.5 1090.6 328.5 1093.6 329.8 1094.3 331.9 1097" stroke-width="1.32"/>
<path d="M331.9 1097 332.2 1099 333.8 1101.2 335.5 1103.3 337.2 1104.5 338 1107.8 339.7 1108.7 340.2 1111.1 341.8 1112.5 343.8 1115.6 344.1 1116.3 345.3 1119 347.5 1120.6 348.6 1122.6 351.2 1124.2 351.8 1126.3 354 1128.6 355.5 1130 357.3 1133.2 358.8 1133.3 360.1 1135.2" stroke-width="1.07"/>
<path d="M297.9 1087.2 298.3 1088.5 299.8 1088.6 300.3 1090.6 301.7 1092.7 303.4 1095.5 303.9 1097.7 306.1 1099.9 307.2 1100.3 308.6 1103.5 310.2 1105.2 310.8 1106.7 312.1 1108.5 313.7 1111 315.1 1112.8 315.5 1114.8 316.5 1116.3 317.5 1118.9 317.6 1121.6 318.4 1123.5 319.4 1126 319.3 1127.8 318.4 1129 319.2 1133.5" stroke-width="1.56"/>
<path d="M319.2 1133.5 319.8 1134.7 320.3 1137.9 320.5 1140.2 320.7 1142.4 320.5 1143.9 320.9 1147.3 321.3 1150.2 320.8 1151.7 321.9 1153.9 321.9 1156.9 322.4 1158.6 322.9 1161.2 323.6 1164.1 323.6 1166.5 325.1 1168.1 325.4 1170 327.3 1173.1 328.2 1174.6 329.9 1176.6 332.5 1178.5 333.1 1180.1 334.8 1182.6 335 1185.3" stroke-width="1.32"/>
<path d="M335 1185.3 336.4 1187.8 336.8 1189.7 338.5 1191.7 339.7 1195.3 340.9 1196.6 340.9 1199.4 342.9 1201.1 344.2 1203 345.4 1205.8 346.8 1208 348.7 1209.2 350.5 1211.6 351.8 1213.1 354 1215 355.6 1215.5 358.6 1216.8 360.1 1217.6 362.2 1219 364.8 1219.8 367.7 1218.6 369 1219.3 370.9 1220.1" stroke-width="1.07"/>
<path d="M304.2 1096.8 305.2 1097.2 305.7 1100.2 306.9 1101.5 307.7 1104.6 309.3 1105.8 311.2 1106.9 312.3 1110.1 313.4 1111.9 314.9 1113.9 317.5 1114.8 318.1 1116.9 318.9 1119.1 320.9 1121.1" stroke-width="1.23"/>
<path d="M320.9 1121.1 322.4 1121.8 323.4 1123.8 325.2 1127.1 326.7 1128.5 328.2 1131.1 329.7 1132.4 330.6 1135 332.1 1136.1 334 1138.2 336.2 1139.6 337.6 1141.1 339.3 1142.8 340.4 1143.4" stroke-width="1.04"/>
<path d="M312.5 1102.8 313.4 1103.9 315.1 1105.8 317 1108.1 318.7 1110.2 320.1 1112.7 322.6 1114.4 323.2 1116.1 325.5 1117.6 326.6 1120.1 328.2 1121.6 329.5 1123.7 330.9 1126.8" stroke-width="1.22"/>
<path d="M330.9 1126.8 332 1128.6 333.8 1130 336.5 1131.9 337.4 1132.2 338.5 1135 340.1 1135.9 342.2 1137 343.9 1139.6 347.6 1140.4 348.9 1142 350.3 1142.6" stroke-width="1.04"/>
<path d="M252.6 1060 252.5 1061.3 251.8 1063.7 251.6 1065.6 250.8 1069.4 251.2 1071.6 251.5 1073.5" stroke-width="3.34"/>
<path d="M251.5 1073.5 252.1 1075.9 253.1 1078.2 253.8 1080.1 253.7 1083.3 254.5 1084.6 255 1086.7 256.8 1090" stroke-width="2.83"/>
<path d="M256.8 1090 257.3 1091.3 258.7 1093.3 260.1 1096.5 262.2 1098.1 261.8 1099.9 263.1 1101.4 264.6 1103.6" stroke-width="2.34"/>
<path d="M264.6 1103.6 265.7 1105.6 266.6 1107.9 267.9 1109.5 269.2 1111.1 269.9 1112.8 271.2 1115.4 273.2 1118.3" stroke-width="1.94"/>
<path d="M273.2 1118.3 275.2 1119.6 276.2 1121.8 277.7 1122.7 280 1124.2 281.9 1125.8 284 1128.1 286.6 1129" stroke-width="1.61"/>
<path d="M286.6 1129 287.8 1131.7 288.9 1132.6 291.1 1135 293 1137.4 293.9 1138.9 295.9 1141.5 296.7 1142.5" stroke-width="1.34"/>
<path d="M296.7 1142.5 298.5 1144 299 1146.8 301.3 1149.3 303.1 1151.1 304.2 1154 304.7 1154.8 307.5 1156.5" stroke-width="1.16"/>
<path d="M307.5 1156.5 309.2 1158.4 310.8 1160 312.5 1162.3 314.6 1164.5 317.1 1166.7 318.3 1167.7 321.3 1169.2" stroke-width="1.05"/>
<path d="M321.3 1169.2 322.2 1170.4 324.3 1173.1 326.2 1174.3 327.8 1175.8 329.4 1177.3 330.5 1178.9" stroke-width="1.01"/>
<path d="M275.6 1121.3 276.4 1122.4 278 1124.4 279.9 1126.3 281.4 1128 283.2 1130.4 284.3 1133.2 286.1 1135.1 287.3 1136.7 287.9 1138.3 289.8 1139.5 290.7 1141 291.4 1143.4 292.7 1146.5 294.8 1147.5 295.3 1149.9 296.1 1151.4 298 1153.6 298.9 1155.7 299.6 1157.9 301.6 1159.6 302.1 1163.1 303.5 1164 304.5 1166.3 305 1169 306.7 1170.6" stroke-width="1.22"/>
<path d="M306.7 1170.6 306.8 1172.8 309.1 1175.5 309.1 1177 309.7 1179.7 309.7 1181.5 312 1183.7 312.2 1185.7 312.9 1188.4 313.1 1189.6 313.8 1192.7 315.9 1193.9 316.2 1195.9 316.9 1197.9 318.1 1199.7 319.7 1202.4 319.8 1205.4 321.2 1207 321.9 1208.7 320.8 1211.9 323.2 1214.5 324 1215.9 324.8 1218.2 324.6 1219.6 325.5 1221.7" stroke-width="1.04"/>
<path d="M247 1060.2 246.7 1061 246.1 1063.6 246.1 1066.2" stroke-width="3.60"/>
<path d="M246.1 1066.2 245.4 1069.9 245.1 1072 245.3 1075 244.4 1077.2" stroke-width="3.20"/>
<path d="M244.4 1077.2 243 1080 242.9 1082.4 243.1 1083.2" stroke-width="3.02"/>
<path d="M243.8 1083.3 241.8 1084.7 241.7 1085.7 239.9 1088.1 238.3 1090.1 237.3 1092.8 237.6 1093.9 237.2 1097.1 236.4 1098.9 238.1 1101.3 239.2 1104 239.3 1106.8 239.2 1109.3 241.2 1112 240.9 1114.6 241.8 1115.9" stroke-width="1.80"/>
<path d="M241.8 1115.9 242 1118.5 242.2 1119.7 243.5 1123.2 243.8 1126.6 244.7 1127 246.6 1129 247.7 1132.2 248.4 1132.8 249.4 1135.6 250 1138 250.6 1141.8 250.8 1144.2 250.9 1145.4 250.2 1148.3 251.5 1152 250.8 1152.7" stroke-width="1.56"/>
<path d="M250.8 1152.7 251.7 1155.3 252.2 1157.4 252.5 1159.7 252.3 1162.6 253.4 1164.6 252.1 1167 252.8 1169.6 253 1171.5 252 1174 252.4 1176.8 251.1 1178.7 251.2 1180.8 251 1184.2 250.5 1186.2 249.9 1188.8" stroke-width="1.31"/>
<path d="M249.9 1188.8 249.6 1191.3 248.8 1193.8 249.2 1196.1 249.2 1197.7 248.8 1200 249 1202.1 247.7 1205.7 248.3 1207.4 248.2 1209.8 247.7 1212.1 247.8 1214.9 247.3 1215.8 245.8 1219.2 245.1 1222 244.7 1223.4" stroke-width="1.07"/>
<path d="M250.2 1136.5 250.3 1138.1 250.3 1138.3 253.1 1140.4 252.9 1142.5 255.1 1145.6 256.3 1147.3 257.2 1150.1 258.3 1152.3 258.9 1154.6 260.7 1156.2 261.5 1157.3 263.4 1160.1 263.9 1162.4 265.3 1164.4 266.7 1166.8 266.7 1168.3 268.9 1170.2 268.5 1172.1 269.6 1174.7 270.9 1176.3 270.4 1179.6 270.6 1180.9 271.8 1183.2 273.1 1185.3 274.2 1187.2 274.8 1189.1 276.5 1191.4 278 1193.9 279.8 1195 279.9 1197.7 281 1200.4 282.7 1202.4 282.2 1203.2 283.4 1206.3 284.4 1209 285.4 1211.4 286.9 1214.1 287.6 1215.1" stroke-width="1.08"/>
<path d="M250 1086 250.3 1088.5 252.6 1090.1 253.6 1091.2 254.6 1094 255 1096.8 255.4 1099.4 255.7 1101 255.4 1104.4 256.4 1105.8" stroke-width="1.23"/>
<path d="M256.4 1105.8 255.1 1109.2 254.3 1111 253.7 1114.3 252.3 1115.4 250.7 1118.2 251 1120.2 249.4 1122.6 249.6 1124.3 248 1126.1" stroke-width="1.04"/>
<path d="M239.4 1059.8 237.9 1061.2 236.4 1062.9 234.1 1064.4 231.6 1066.1 230.2 1068.2 227.9 1070.5 228.3 1072.2 228 1074.8 226.5 1077.6 226.2 1080.8 226.5 1082.2 224.7 1085.2 224.9 1087.8 224.8 1091" stroke-width="2.24"/>
<path d="M224.8 1091 224.7 1093.5 224.4 1095.7 225.9 1097.6 225.8 1100.1 227 1101.8 227.6 1105.4 227.5 1107.2 228.7 1109.2 228.9 1111.7 229.2 1113.7 229.9 1117.2 230.7 1118.3 231.1 1121.1 231.5 1123.8" stroke-width="1.95"/>
<path d="M231.5 1123.8 231.1 1127.2 231.5 1128.5 231.6 1130.8 231.4 1133 232.1 1135.5 231 1137.9 230.4 1140.2 230.2 1142.2 230.6 1145.3 230.8 1146.6 229.8 1149.9 229.1 1151 229.1 1154.5 228.7 1157.4" stroke-width="1.66"/>
<path d="M228.7 1157.4 227.9 1159.4 228.3 1161.7 228.1 1164.4 228.5 1165.8 228.7 1168.2 228.5 1171.5 229.2 1173.3 228.9 1176.1 228.6 1178.6 228.8 1180.8 228.5 1182.9 229.3 1185.9 229.2 1187.5 229.6 1189.6" stroke-width="1.37"/>
<path d="M229.6 1189.6 229.7 1191.9 230.4 1194.3 231.1 1195.8 230.8 1199.1 231.1 1202.1 231.3 1204 231.4 1205.8 232.1 1209.3 230.9 1210.7 231.8 1213.3 231.1 1215.6 231.5 1217.9 230.6 1220.5 230.7 1221.7" stroke-width="1.09"/>
<path d="M233.4 1117.4 232.7 1118.8 231.2 1120.8 229.2 1123.7 228.8 1125.9 226.9 1127.6 226.4 1129.8 224.4 1131.6 222.3 1134.3 222 1135.8 220.5 1138 220 1139.3" stroke-width="1.05"/>
<path d="M255.4 1028.3 257.9 1030.7 259.1 1033.8 258.1 1035.9 256.5 1038.5 255.6 1040.8 253.8 1042" stroke-width="1.10"/>
<path d="M241.8 1033.8 241.5 1033 238.7 1033.1 237.6 1030.3 234.6 1027.9 232.7 1027 230.3 1025.5 228.3 1023" stroke-width="4.46"/>
<path d="M228.3 1023 227.2 1021.7 224.5 1021 220.7 1019.7 220 1018.5 216.9 1018.9 214.4 1017.7 212 1016.5 210.2 1015.6" stroke-width="3.78"/>
<path d="M210.2 1015.6 207.7 1015.2 205 1014.3 203.4 1012.5 201.4 1012.4 198.9 1011.2 197.4 1010.8 193.7 1010.9" stroke-width="3.17"/>
<path d="M193.7 1010.9 192.2 1009.5 189 1009.4 187 1008.3 184.9 1007.3 183.2 1007.4 180 1006.4 177.7 1004.7 174.6 1004.1" stroke-width="2.66"/>
<path d="M174.6 1004.1 172.4 1004.7 170.3 1002.6 167.9 1001.8 166.3 1001.1 164.1 999.4 163 997.8 160.7 995.6" stroke-width="2.22"/>
<path d="M160.7 995.6 159 993.6 157.2 992.1 156 990.5 154.5 988.5 153.4 986.6 150.7 984.1 148.9 983.6 146 981.9" stroke-width="1.88"/>
<path d="M146 981.9 144.6 980 141.7 979.1 138.6 978.2 136 979 133.4 979.5 129.9 981.4 127.3 981.2" stroke-width="1.60"/>
<path d="M127.3 981.2 124.5 980.8 121.5 981.3 118.6 981.8 117 980.1 115.2 979.9 113.2 978.7 111.5 977.9 108.7 976.6" stroke-width="1.40"/>
<path d="M108.7 976.6 106.4 974.8 104.5 973.3 102 972.6 100.1 971.4 97.7 971.1 95.9 969.8 94.2 967.9" stroke-width="1.30"/>
<path d="M94.2 967.9 91.7 967.2 89.9 964.9 86.8 964.7 84.9 962.7 83 962.1 80.7 960.6 78.5 961.2" stroke-width="1.26"/>
<path d="M174.9 1005.2 173.5 1004.8 170.6 1005.1 168.1 1004.3 165 1003.1 163.1 1002.9 160.4 1002.5 156.9 1002.4 155.2 1001.2 153.2 1002.3 151.6 1001.9 148.4 1001.9 147 1003.8 144 1004.5 141.3 1003.8 139.8 1003.5 137.3 1003.4" stroke-width="1.46"/>
<path d="M137.3 1003.4 134.8 1003.3 131.7 1002.7 129.5 1002.9 127.2 1001.3 124.2 1001.1 122.9 1000.1 119.4 998.7 117.1 998.2 116.3 996.7 113.4 994.9 112.4 993.6 111.6 991.7 110.1 990.7 108.1 989.1 106.1 988.4 103.3 986.8 102.9 985.5" stroke-width="1.25"/>
<path d="M102.9 985.5 101.1 983.6 98.8 982.1 97.1 981.9 94.4 980 92.5 979.5 90.5 979.2 87.8 977.8 85.7 977.3 82.6 976.6 80.7 975 79 974.9 75.6 974.6 73.5 974.5 71.5 974.6 68.4 974.1 67.3 974.1" stroke-width="1.05"/>
<path d="M243.9 986.9 242.2 986.5 240.8 985.3 237.6 984.7 235.4 982.5 233.3 982.2 231.2 981.5 228.5 981 225.1 979.8 222.9 978.3 221 977.2 218.8 976.3 217 976.1" stroke-width="2.05"/>
<path d="M217 976.1 214 975.3 212.5 974.7 210.8 973.4 207.9 972.9 206.1 973.1 203.8 972.1 201 971.9 198.6 971.3 195.4 971.8 192.8 971.1 192 970 188.5 970.3 185.1 969.7" stroke-width="1.81"/>
<path d="M185.1 969.7 182.9 968.1 181 967.8 178.6 967.8 176.3 966.5 173.2 966.3 170.2 965.8 169 965.4 166.2 963.6 164.3 962.7 161.7 962.3 158.1 961.4 156.7 960.8" stroke-width="1.57"/>
<path d="M156.7 960.8 154.4 959 152 958.8 149.1 958.8 146.4 958.2 144.7 956.3 141.8 955.9 139.4 955.7 137.7 955.4 134.8 954.1 132.2 952.8 130 952.5 127.1 950.9 124.7 950.5" stroke-width="1.32"/>
<path d="M124.7 950.5 123 949.7 119.5 948.3 117.8 947.9 115.1 947.1 113.4 945.9 109.5 944.4 108.7 944.1 105.4 942.7 102.9 942.7 99.2 941.7 97.9 941.7 95.7 940.9" stroke-width="1.07"/>
<path d="M212.5 974 211.5 974.5 208.9 974 205.9 974.4 203.1 975.1 200.6 974.8 199 976.3 195.3 976.3 193.4 977.5 191 978.2 188.1 978.5 185.7 978.6 183.1 977.1 180.5 978.3 178 977.8 175.6 975.6 172.8 975.7 170.5 974.9 168 973.9 165.7 972.1 164.2 972.4 161.8 970.4 159.6 970.7 157.4 969 155 968.5 153.8 966.7 151.6 965.8 150.2 964.5 146.5 962.8 145.7 961 142.3 960.1 141.3 957 140.4 956.3" stroke-width="1.07"/>
<path d="M188.4 978.9 189.4 979.7 191.1 981 193.2 984.2 194.9 985.4 196.9 987.3 199.5 986.7 201.8 989.4 204.3 990.5 206.1 991.1 208.2 992 210.9 994.4 213.6 994.9 214.4 995.9" stroke-width="1.05"/>
<path d="M198.5 1011.1 198.8 1010 200 1007.2 200.8 1004.5 201.9 1002.1 203.3 1000.1 205.7 999 207.8 998.3 210.1 997.5 212.8 997.3 214.9 995.9 216.1 994.9 218.5 993.4" stroke-width="1.45"/>
<path d="M218.5 993.4 220.9 993 223 993.3 225.5 992.7 228.3 993.9 230.5 995 233 995.3 235.3 997.6 237.6 997.9 239.9 1000.6 242.5 1001.9 243.7 1002.8" stroke-width="1.23"/>
<path d="M214.5 996.4 215.2 995.2 215.9 991.6 217.7 989.8 219.9 987.4 221.6 986.3 223.5 985.2 225.7 985.1" stroke-width="1.22"/>
<path d="M225.7 985.1 227.7 984.1 231 982.6 232.4 980.5 234.8 978.5 237.8 976.7 238.5 975.3" stroke-width="1.04"/>
<path d="M228 983.9 227.7 982.9 224.6 981.3 223.4 978.7 221.6 977.3 217.5 975.7 215.3 974.1 214.4 973.5" stroke-width="1.05"/>
<path d="M231.5 982.6 232.4 983.2 233.7 985.6 235.2 988.1 237.1 990.9" stroke-width="1.33"/>
<path d="M237.1 990.9 237.8 993.4 240.3 995.4 240.6 998.1 241.9 999.4" stroke-width="1.11"/>
<path d="M199.1 1011.6 199.5 1013.4 198.7 1017.2 197.3 1019.9 195.6 1022.4 194.4 1024.4 191.7 1025.6 189.9 1026.7 185.5 1027.4 183.4 1026.9" stroke-width="1.07"/>
<path d="M231.2 945.8 232.6 947.2 234.5 948.7 236.6 950.7 237.6 952.4 240 954.6 241 957.1 242.9 960.2 243.7 961.5" stroke-width="1.08"/>
<path d="M239.7 1054.8 239.3 1056.3 237.1 1057.4 233.8 1057.3 231.9 1058.9 228.1 1059.7" stroke-width="3.30"/>
<path d="M228.1 1059.7 227.4 1060.8 224.3 1061.2 222 1061.7 219.7 1062.1 217.6 1062.5" stroke-width="2.76"/>
<path d="M217.6 1062.5 214.8 1061.8 213 1062 210.2 1061.2 207.7 1062.5 205.7 1063.6" stroke-width="2.33"/>
<path d="M205.7 1063.6 203.2 1063.5 200.8 1064.1 198 1064.9 196.1 1065.2 194.2 1066.5 193.2 1068.8" stroke-width="1.94"/>
<path d="M193.2 1068.8 190.8 1069.4 189.1 1072.5 186.5 1074.1 185.4 1075.5 184.1 1077.9" stroke-width="1.62"/>
<path d="M184.1 1077.9 182.1 1079.4 179.6 1080.9 177.5 1083 175.8 1084.2 173.9 1084.8" stroke-width="1.43"/>
<path d="M173.9 1084.8 171 1085.4 169.3 1086.1 166.8 1086.3 164.6 1086 161.9 1086.2" stroke-width="1.31"/>
<path d="M161.9 1086.2 159 1086.9 156.3 1085.4 153.3 1085.8 151.7 1084.6 149.6 1084.7" stroke-width="1.26"/>
<path d="M163.5 1085.9 161.8 1087.9 159.8 1089 158.6 1090 156.7 1091.1 153.7 1092.7 152.1 1095.7 149.2 1096.7 148.1 1098.1 147.1 1099.1 144.8 1101.4 142.6 1101.6 140.8 1104" stroke-width="1.32"/>
<path d="M140.8 1104 138.8 1104.7 137.4 1106.4 134.2 1107.5 132.5 1109.8 130.8 1111 128.4 1112.3 126.9 1114 124.1 1115.8 121.6 1116.6 119.6 1118.3 119.1 1119.5 117.5 1120" stroke-width="1.07"/>
<path d="M149.5 1083.9 147.4 1086 146.6 1087.1 143.8 1088.9 141.6 1090 139.4 1090.1 137.3 1089.9 135.3 1086.8 134.7 1085.2 132.9 1082.6 132.1 1081.6 132.2 1078.4 134.3 1076.4 135.8 1073.6 137 1072.6" stroke-width="0.40" stroke-opacity="0.35"/>
<path d="M235.2 1059.9 234.5 1060.9 234.2 1063.3 231.8 1066.7 231 1068.9 230 1070.9 228.8 1072.7 228.1 1074.5 226.1 1077.1 225.2 1078.5 224.4 1081.5 223.1 1082.4" stroke-width="2.36"/>
<path d="M223.1 1082.4 220.6 1084.1 218.7 1085.1 217.7 1086.3 215 1087 213.2 1088.7 210.8 1088.9 208.2 1090.6 206.6 1091.6 203 1092.5 201.2 1093.2 199.6 1095.6 196.7 1095.4" stroke-width="1.88"/>
<path d="M196.7 1095.4 193.4 1096.6 191.6 1097.8 189.1 1099.1 187.2 1099.6 184.3 1101.1 183.4 1102.5 181.6 1103.8 179 1105 177.3 1105.9 175.3 1106.8 173.5 1108.5 170.5 1110.6" stroke-width="1.47"/>
<path d="M170.5 1110.6 169.9 1112 167 1112.8 165.9 1113.7 162.9 1115 161.9 1117.1 159.5 1118 157 1119.8 154.8 1120.6 153.2 1121.7 149.9 1122.6 148.1 1124.1" stroke-width="1.20"/>
<path d="M148.1 1124.1 145.7 1124.2 143.2 1126.4 142.7 1127.9 141.2 1130.7 139.8 1132.5 139.2 1134.6 137.5 1137.2 137.3 1140 136 1142.5 134.7 1144.7 135 1147.4 132.9 1150" stroke-width="1.03"/>
<path d="M132.9 1150 133.3 1151.1 133.1 1154.7 131.8 1157.3 130 1158.8 128.7 1161.2 128.8 1164.2 127.5 1165.8 127.6 1168.2 125.7 1170.9 126.2 1173.3 125.5 1174.6" stroke-width="0.96"/>
<path d="M170.7 1110.2 173.5 1111.4 176.3 1111.9 179.3 1112.9 180.7 1112.8 183.2 1112.3 185.6 1110.8 186.9 1108.9 189.8 1108.1" stroke-width="1.05"/>
<path d="M227.4 1077.3 227.2 1079.3 227 1081.7 226.4 1084 226.9 1086.7 226.4 1089 225.8 1092 225.9 1094 226.6 1096.2 226.8 1098.9 226 1100.4 226.4 1103.6 226.8 1105.9 226.5 1108 227.1 1110.4 228 1112.4" stroke-width="2.04"/>
<path d="M228 1112.4 228 1115.7 228.6 1118.3 229.3 1119.9 230 1122 230.7 1124.1 229.4 1127.2 229 1127.6 227.4 1130.3 225.1 1132.1 224.3 1133.4 221.5 1133.8 219.4 1137.1 217.6 1137.3 215.9 1139.1 213.6 1140.6" stroke-width="1.81"/>
<path d="M213.6 1140.6 212.3 1143.1 210.6 1143.5 209.1 1145.4 207.5 1146.1 205.3 1147.7 204 1149.1 202 1150.6 199.6 1151.9 197 1153.6 196.3 1154.9 193.3 1155.9 191.9 1158.2 189.6 1159.4 187.9 1160.7 185.7 1163.7 184.2 1163.9" stroke-width="1.56"/>
<path d="M184.2 1163.9 183 1166.2 180.9 1167.3 179.5 1168.5 177.3 1170.6 176.7 1172.3 174.5 1173.8 173.2 1175 171.4 1176.3 169.8 1178.8 167.5 1180.4 166.6 1182.1 165 1183.5 162.3 1185.7 161.1 1188.2 159.2 1189.5" stroke-width="1.32"/>
<path d="M159.2 1189.5 157.7 1191.4 156.5 1193.1 155.1 1196 154.3 1196.9 153.2 1199.6 152.2 1201.8 150.8 1204.5 149.6 1206.3 149.2 1208.9 149.6 1211.4 150.3 1214.3 151 1217.4 151.7 1220.1 152.3 1221.9 153.1 1222.8" stroke-width="1.07"/>
<path d="M227.6 1112.3 227.9 1114.6 227.5 1115.7 228.7 1117.7 227.7 1119.7 228.4 1123.4 228.1 1125 228.7 1127.5 228.5 1130.9 228.6 1133.3 228.7 1136 228.6 1138.7 228.6 1139.6 228.6 1142.9 228.2 1145.2 228.5 1147.1 228.4 1148.4 228.7 1152.1 227.3 1153.7 227.9 1156.9 228 1158.3 226.7 1160.5 227.5 1163.2 227.4 1165.1 228.2 1167.6 228.2 1170.2" stroke-width="1.32"/>
<path d="M228.2 1170.2 229.4 1172.8 230.1 1174.1 228.9 1176.7 230.1 1179.5 229.2 1180.6 230.2 1183.8 230.3 1186.2 230.5 1188.8 230.3 1190.6 230 1192.8 230.1 1195.1 229.6 1197.6 228.8 1200.4 229.7 1202.6 229.2 1204.1 229.4 1206.7 229.3 1209.9 228.9 1212 229.6 1215.9 229.5 1217.2 230.7 1220.1 230.5 1221.8 230.4 1223.8 231.1 1225.1" stroke-width="1.07"/>
<path d="M245.8 936.7L248.1 936.7M245.4 930.1L247.6 930.4M245.8 921.5L243.3 921.2M246.8 914.6L249.2 914.7M245.9 907L248.4 907.1M245.4 900L244.1 901.2M241.2 892.9L238.6 893.7M239.9 885.9L242.5 885.4M236.2 878.9L238.5 878.2M234.5 871.6L232.6 872.6M232.5 865.5L234.3 864.8M223 830.6L220.5 831.1M221.3 824L219.8 824.3M219.8 810.1L218.3 810.4M217.8 803L215.8 803.4M215.4 775.1L213.3 775.3M213.9 761.8L211.5 762.3M212.8 754.6L210.6 755M210.8 748.7L212.3 748.3M209.5 740.7L210.9 740M207.9 733.6L205.9 734.1M205.7 720.7L204 721.4M209.9 706L210.8 707.4M193.8 702.2L192.7 703.5M177 686.7L174.7 687.4M172.8 665.4L170.4 665.7M180 652.2L182 652.9M184 644.6L182.4 643.9M174.9 674.3L177 673.7M170.4 653.6L169.2 654M197 710.7L198 709.6M238.6 885.1L240.4 884.5M233.1 871.7L231.4 872.5M231.1 865.1L228.9 865.6M228.3 858.5L230.6 858.3M227.1 851.9L228.7 851.1M223 836.5L224.8 836.3M215.8 816.6L217.5 815.7M203.4 771.4L205.6 770.6M195.2 751.4L193.5 753.3M172 736.5L170.9 738.7M153.9 706.8L156.2 706.9M155.7 692.1L157.2 692.1M155.8 684.9L154.2 685.1M153.8 679.3L152.7 680.1M146.9 665.8L145.1 667M140.3 651.1L138.6 651.6M216.7 815.2L218.2 815M254.4 894.6L253.1 892.7M261.5 890.3L263.3 892.4M267 877.7L268.8 877.8M267.6 868.5L265.2 869.3M265 819.5L263.3 819.3M267.5 811.4L265.6 810.6M267.6 805.6L266.3 805M268.9 798.7L270.9 798.4M268.8 792.5L266.9 792.6M267.6 784.4L265.6 784.4M267 778.3L269.4 778.1M269 763.6L271.3 762.4M266.9 758.2L268.1 757.4M262.3 752.2L263.9 751.2M243.4 731.8L242.2 732.5M235.2 720.8L233.7 721.4M232.7 713.9L234.6 713.2M231.6 706.6L233.5 706.6M228.5 693.1L227 694.1M226 685.4L228.1 684.4M224 678.9L222.2 679.2M222.6 665.1L221.1 664.5M224.4 651.2L222.9 650.8M274.9 861.9L276.6 863.1M280.6 849.1L282.5 849.7M281.9 842.4L284.6 842.9M285.8 827.1L284.2 827M292.7 809.9L290.9 808.9M296.9 801.9L295.2 801.1M307.5 790L309.1 791.7M294.6 787.4L293.3 787.7M292.3 779.8L290.5 780.2M353.4 937.3L353 939.5M385.6 924.9L385.9 926.8M398.3 916.7L398.9 917.9M246.3 1037.9L249.7 1037M245.3 1014.5L248.4 1014.6M245.3 1008.2L242 1008.2M244.8 1000.8L242.2 1000.3M245.5 993.9L242.3 994M245.3 987.2L242.2 987M246.1 980.3L243.4 980.5M247.1 972.4L250.2 972.8M246.6 966.4L244 966.3M246.1 944L244 944.1M246 936.6L248.3 936.7M257.9 958.2L258 956.4M264.2 959.5L264 961.7M285 954.7L284.6 953.1M298.8 949.2L299.7 951.3M305.8 947L305 944.5M319 942.5L318.8 945.1M353.2 936.8L352.2 934.5M359.2 934.4L359.7 936M379 927.3L378.4 925.8M309.5 950.4L311.1 949.3M250 980.4L249.1 978.5M264.4 975.9L264 974.2M271.3 974.9L270.8 973.3M278.4 973.5L278.3 975.7M292.5 969.9L292.3 967.7M298.5 968.1L298.2 965.9M305.7 967.4L306.8 969.8M325.8 962.6L326.6 965M332.4 962.3L332.3 964.2M339.4 963.4L338.6 965M347.2 966.7L346.9 968.3M353.1 969.5L352.9 971.4M360.1 973L360.7 971.6M367.3 973.7L366.8 975.5M380.9 977L380.8 975.5M388.6 976.9L388.4 974.7M395.2 977L395.4 975.7M402.2 976.7L402.1 974.6M409.2 976.1L409.2 977.8M417.7 976.2L417.8 974.8M378 968.7L377 967M384.7 967.2L384.5 969.6M393.5 966.9L393.2 969M380.6 976.7L380.2 979.1M396.9 980.9L397.9 979M252.8 984.8L253.1 987.7M260.4 983.3L260.1 980.5M273.5 981.7L273 979.1M263.6 990.3L265.4 989.5M249.8 1013.8L248.7 1011.8M268.1 1001.7L269.1 1003.4M274 996.6L273.3 994.4M281.9 993.8L281.6 991.1M303.9 996.1L303.3 998.6M318.5 998.3L318 1000.8M345.1 996.8L345.2 994.8M360.2 994.7L361.1 995.8M342.1 989.4L340.6 987.8M347.6 984.7L348.2 986.7M360.4 974.9L361.5 976.9M300.7 1014.4L299.1 1013M295.5 1028.7L297.2 1028.9M257.4 1050.2L257.7 1047M265.8 1052.9L265.2 1055.8M278 1056.9L277.9 1053.7M291.5 1054.8L292 1051.5M305.2 1052.2L305.6 1055M319 1048.9L321.2 1050.7M325 1043.5L325.8 1045.2M331.9 1042.9L332 1045.7M338.7 1042.2L338.9 1039.4M351.6 1041.5L352.3 1043.3M359 1038.8L359.3 1040.8M373.1 1035.6L373.2 1038M386.8 1033.2L386.9 1031.6M349.5 1047.3L350.1 1045.2M363.4 1045.8L364 1047.7M369.7 1044L369.9 1045.5M376.8 1041.5L376.9 1043.5M384 1040.6L384.3 1042.3M321.2 1058.9L321.1 1060.5M328.6 1056.9L329.2 1055M335 1058.2L334.8 1056.4M350 1056.1L350.1 1057.5M322.1 1061.4L321 1062.7M328.3 1064.7L327.1 1066.8M333.4 1069.4L334.6 1068.5M363 1094.3L362.6 1095.7M371.1 1097.5L370.3 1099.4M376.6 1100.5L375.7 1101.8M298.2 1066.5L298.7 1069M311.7 1062.7L312.1 1064M269.4 1064.1L270.6 1060.2M282.8 1068.7L281 1071.6M287.7 1073.6L285.3 1075.9M291.6 1078.8L289.3 1080.9M300.5 1090.6L298.2 1092.4M309.4 1101.1L310.9 1098.9M323.8 1107.4L324.2 1105M337.1 1109.3L336.1 1111.6M302.5 1074.5L302.5 1076.4M310 1077.4L310.6 1075.2M327.5 1090.6L328.8 1089.7M335.5 1103.3L337 1101.7M343.8 1115.6L341.8 1116.8M347.5 1120.6L346.1 1121.9M357.3 1133.2L356.4 1134.1M310.8 1106.7L312.6 1105.6M317.5 1118.9L315.2 1119.4M319.4 1126L321.4 1125.5M320.9 1147.3L318.4 1147.6M328.2 1174.6L326.7 1175.7M333.1 1180.1L335 1179.1M336.4 1187.8L334.3 1188.6M339.7 1195.3L341.5 1194.4M342.9 1201.1L344.6 1199.6M346.8 1208L345.1 1209.6M309.3 1105.8L310.7 1103.7M313.4 1111.9L315.1 1110.8M318.1 1116.9L319.4 1116.4M322.4 1121.8L320.7 1123.5M326.7 1128.5L328.3 1127.4M336.2 1139.6L337.1 1138.5M315.1 1105.8L313.9 1106.8M329.5 1123.7L331.1 1122.9M333.8 1130L334.6 1128.9M338.5 1135L340.3 1133.7M343.9 1139.6L342.8 1141.4M251.8 1063.7L248.5 1063M251.2 1071.6L253.7 1071.2M253.1 1078.2L255.7 1077.1M254.5 1084.6L256.9 1083.7M257.3 1091.3L259.8 1089.9M262.2 1098.1L260.3 1099.1M271.2 1115.4L273 1114.3M287.8 1131.7L289.9 1130.3M301.3 1149.3L299.6 1150.8M310.8 1160L309.5 1161.1M317.1 1166.7L315.7 1168.3M278 1124.4L276.5 1125.7M283.2 1130.4L285.3 1129.3M290.7 1141L289.1 1141.7M298 1153.6L299.4 1152.7M304.5 1166.3L305.8 1165.9M306.8 1172.8L304.6 1173.8M309.7 1179.7L307.8 1179.9M312.2 1185.7L310.3 1186M316.9 1197.9L315.5 1198.6M319.8 1205.4L321.3 1204.9M324.8 1218.2L326.3 1217.9M246.1 1063.6L249.7 1064M243 1080L239.8 1079M241.7 1085.7L239.5 1084.3M237.3 1092.8L238.9 1093.1M236.4 1098.9L238.3 1098.4M240.9 1114.6L239.3 1114.8M244.7 1127L246.1 1125.3M250.6 1141.8L252.6 1141.5M251.7 1155.3L254.2 1154.5M251 1184.2L248.5 1183.9M249.6 1191.3L248.1 1190.9M249.2 1197.7L246.9 1197.4M247.7 1205.7L249.2 1205.9M250.3 1138.3L251.8 1136.5M255.1 1145.6L253.7 1146.6M258.3 1152.3L260.2 1151.6M265.3 1164.4L266.5 1163.6M270.9 1176.3L272.1 1176.1M271.8 1183.2L270.7 1183.8M274.8 1189.1L275.9 1188.5M284.4 1209L285.9 1208.4M252.6 1090.1L254 1088.4M255.4 1104.4L257.6 1104.1M254.3 1111L252.9 1110.6M236.4 1062.9L237.8 1064.6M230.2 1068.2L227.9 1066.3M228 1074.8L225.8 1074.1M226.5 1082.2L224.2 1081.4M225.9 1097.6L227.7 1097M227.6 1105.4L229.6 1105.2M228.9 1111.7L226.4 1112M230.7 1118.3L229.2 1118.7M230.4 1140.2L228.2 1139.8M229.1 1154.5L230.7 1154.7M228.3 1161.7L229.8 1161.6M228.7 1168.2L226.5 1168.2M228.9 1176.1L230.8 1176.3M228.5 1182.9L226.7 1183.1M229.6 1189.6L227.5 1189.8M231.1 1195.8L233.4 1195.6M231.5 1217.9L232.7 1218M231.2 1120.8L232.7 1121.8M226.9 1127.6L228.6 1128.6M259.1 1033.8L257.3 1033.9M212 1016.5L213.6 1013.3M198.9 1011.2L197.6 1014.3M192.2 1009.5L191.3 1012.2M184.9 1007.3L185.6 1004.3M164.1 999.4L162.8 1000.7M159 993.6L160.9 991.7M154.5 988.5L152.8 989.7M104.5 973.3L103.6 975.1M91.7 967.2L90.4 969M84.9 962.7L83.5 964.8M170.6 1005.1L170.4 1007.1M163.1 1002.9L163.4 1000.5M148.4 1001.9L147.6 999.8M141.3 1003.8L141.8 1001.4M119.4 998.7L118.8 1000.4M113.4 994.9L114.4 993.7M110.1 990.7L111.2 989M103.3 986.8L104.5 985.5M85.7 977.3L85.2 979.6M79 974.9L79.1 973.5M71.5 974.6L71.7 972.5M240.8 985.3L241.8 982.6M225.1 979.8L224.1 982M212.5 974.7L213.5 972.9M206.1 973.1L206.6 970.5M198.6 971.3L198.5 973.8M192 970L192.3 968.3M182.9 968.1L183.6 966.6M169 965.4L167.9 967.5M161.7 962.3L162.1 960.4M154.4 959L153.7 960.7M146.4 958.2L145.3 960.2M139.4 955.7L139.7 953.8M132.2 952.8L131.8 954.2M117.8 947.9L117.4 949.3M109.5 944.4L110 943.1M208.9 974L208.9 975.5M200.6 974.8L201.1 976.7M193.4 977.5L194 978.8M170.5 974.9L171.1 973.4M164.2 972.4L163.7 973.6M145.7 961L146.9 959.2M196.9 987.3L196.4 989.3M230.5 995L229.9 997M237.6 997.9L236.9 999M215.9 991.6L214.5 991M227.7 984.1L228.5 985.8M234.8 978.5L235.8 980M233.7 985.6L235 984.8M237.8 993.4L239.6 992.1M198.7 1017.2L196.6 1016.4M234.5 948.7L235.5 947.5M240 954.6L238.3 955.8M207.7 1062.5L208.7 1064.4M200.8 1064.1L200.3 1062.2M194.2 1066.5L192.4 1065M189.1 1072.5L191.1 1074.4M184.1 1077.9L186.1 1079.5M177.5 1083L176 1081.3M156.3 1085.4L156.8 1083M159.8 1089L161.1 1091M153.7 1092.7L152 1091M130.8 1111L129.9 1109.5M124.1 1115.8L123.6 1114.5M226.1 1077.1L227.6 1078.2M223.1 1082.4L224.1 1083.8M217.7 1086.3L216.8 1084.7M210.8 1088.9L210 1087.1M203 1092.5L202.3 1090.2M189.1 1099.1L188.1 1096.7M183.4 1102.5L181.6 1100.7M177.3 1105.9L178.1 1107.5M145.7 1124.2L144.8 1122.4M137.5 1137.2L139.3 1137.9M134.7 1144.7L132.7 1144.2M133.3 1151.1L134.6 1151M127.5 1165.8L129 1166.2M227 1081.7L229.2 1082M226.4 1089L228.1 1089.3M226.6 1096.2L229.4 1095.8M227.1 1110.4L224.5 1111.3M228.6 1118.3L226.8 1118.9M230.7 1124.1L232.7 1124.3M227.4 1130.3L228.7 1131.4M215.9 1139.1L214.6 1137.6M205.3 1147.7L204.1 1146.3M183 1166.2L184.1 1167.3M173.2 1175L172.3 1173.9M157.7 1191.4L155.8 1189.9M154.3 1196.9L152.4 1195.9M150.8 1204.5L149.5 1203.8M151.7 1220.1L150.3 1220.4M227.5 1115.7L225.8 1116.1M228 1158.3L229.5 1158.8M227.4 1165.1L229.5 1164.8M230.1 1179.5L231.6 1179.4M230.3 1186.2L232.4 1186.1M230 1192.8L228.1 1192.8M228.8 1200.4L230.8 1200.4" stroke-width="0.85"/>
</g>
<path fill="#fff" d="M246 1023.5 c-0.5 7 -2.5 12 -6 17 c-2.5 3.5 -4 7 -2 11 c2 3.5 6 4.5 10 4 c4 -0.5 7.5 -3.5 8 -7 c0.5 -3.5 -1.5 -6.5 -3.5 -10 c-2.5 -5 -3.5 -9 -4 -15z"/>
<path d="M262.3 1105.3h0.7M271.8 1027.4h0.7M171.8 1095.2h0.7M236.1 1004.2h0.7M296.2 1067.5h0.7M237.2 1145.8h0.7M267.2 1027.7h0.7M255.1 1060.9h0.7M248.7 1043.6h0.7M256.5 1050.9h0.7M264 1124.2h0.7M254.9 1052.7h0.7M212.1 1068.4h0.7M198.9 1089.3h0.7M232.5 983.8h0.7M189.7 1125.4h0.7M247.1 1074.9h0.7M233.5 1109.1h0.7M244.3 1020.9h0.7M263.5 1058.2h0.7M234.6 983.7h0.7M278.5 1062.8h0.7M275.2 1051.3h0.7M236.4 975.1h0.7M248 1025.4h0.7M239.9 1031.1h0.7M227.7 1087.4h0.7M275.9 1132.4h0.7M179.5 1064.5h0.7M263.3 988.5h0.7M213.7 1060.5h0.7M254.6 1013.5h0.7M235.6 993.8h0.7M283.1 979.3h0.7M245.3 1068.8h0.7M249.2 1076.6h0.7M262.5 1031.7h0.7M242 1096h0.7M243.9 1093.4h0.7M276.1 973.6h0.7M202.2 1057h0.7M234.5 1062.6h0.7M237.3 1044.5h0.7M282.1 1077.2h0.7M258.5 1113.2h0.7M222.7 1067.4h0.7M239.8 1102.6h0.7M230.2 1076.9h0.7M201.3 1086.4h0.7M238.4 1056.9h0.7M235.7 1067.9h0.7M245.5 1089.7h0.7M262.2 1058.4h0.7M266.6 989.5h0.7M272.5 1004.4h0.7M268.4 1012.6h0.7M190.1 1084.1h0.7M235.4 1047.9h0.7M263.8 1016.3h0.7M264.1 1091.5h0.7M267.2 1046.8h0.7M229.6 1071.1h0.7M262.9 1053.8h0.7M217.9 1034h0.7M289.1 1079.7h0.7M233.1 981.2h0.7M281.3 978.7h0.7M257.2 1024.5h0.7M242.1 998.8h0.7M239.9 1085.3h0.7M231.5 1052.1h0.7M183.9 1018.6h0.7M292.1 1045.5h0.7M281.2 1006.6h0.7M272.3 1014.2h0.7M236.7 1067.4h0.7M257.6 1024.5h0.7M215.3 1026.9h0.7M210.9 1120.5h0.7M230.9 1057.7h0.7M283.5 1131.2h0.7M260.4 1144.5h0.7M233.1 1020h0.7M238.6 1042.1h0.7M269 985.7h0.7M235.4 1011.8h0.7M250.7 998.2h0.7M235 1061.8h0.7M255 1063.4h0.7M251 1127.8h0.7M269.5 1092.8h0.7M285.8 1014h0.7M257.3 1078.7h0.7M239.1 1035.7h0.7M246.4 1096.1h0.7M273.3 1089.4h0.7M223.4 1094.7h0.7M239.8 1158h0.7M256.5 1071.5h0.7M240 1069.7h0.7M225.9 1074.4h0.7M258.1 1053.5h0.7M263.3 1057.3h0.7M263 1033.4h0.7M220.8 1087.8h0.7M287.6 969.7h0.7M229.3 1043.4h0.7M233.9 1051.7h0.7M223.8 1047h0.7M220.5 1058.3h0.7M251.4 1081h0.7M237.9 1059.2h0.7M236.2 1138.5h0.7M232.9 1100.5h0.7M287.8 955.5h0.7M286.1 953h0.7M298.2 1109.3h0.7M322.7 1024.7h0.7M276.5 1097.9h0.7M312.9 1029.7h0.7M245.9 1043.6h0.7M240.5 1045h0.7M227.5 1037.5h0.7M215.8 1014.5h0.7M237 1027h0.7M256.9 1084.9h0.7M265.2 1053.2h0.7M262.3 1047.6h0.7M266.1 1029.7h0.7M233.8 1058.4h0.7M254.4 1115.9h0.7M251.2 1127.4h0.7M287.8 1040h0.7M163 1084.8h0.7M262.6 1052.8h0.7M222.1 1068.4h0.7M232.1 1046.1h0.7M234.3 1084.2h0.7M217.1 1035.9h0.7M280.4 1063.1h0.7M236.4 1158h0.7M201.8 1050h0.7M239 1058.9h0.7M261.3 1075.2h0.7M256.9 1040.8h0.7M254.1 1095h0.7M249.4 1099.5h0.7M265.3 1061h0.7M274 1052.4h0.7M241.1 1143.4h0.7M199.2 1046.7h0.7M271.4 1065.1h0.7M223.9 1092.5h0.7M213.8 1092.3h0.7M256 1006h0.7M232.9 1074.2h0.7M256.5 910.4h0.7M211.5 945.3h0.7M232.2 1034.3h0.7M256.7 1037.9h0.7M231.4 1086.5h0.7M261.1 1082.9h0.7M235.3 1051.9h0.7M259.6 1011.7h0.7M200.3 1076.5h0.7M237.5 1045.6h0.7M232.8 1067.1h0.7M240.1 1002.2h0.7M236.1 1071.5h0.7M255.5 1079.1h0.7M202.7 1113.2h0.7M268.7 1037.4h0.7M232.2 1032.7h0.7M225.9 990.7h0.7M223.5 1048.2h0.7M238.1 1148.8h0.7M227.1 1049.5h0.7M276.5 930.9h0.7M224.8 1016.8h0.7M295 1016h0.7M227.9 1032.4h0.7M270.8 1013.8h0.7M215 1049.5h0.7M239.9 994.7h0.7M252.6 1033.8h0.7M293.5 1046.1h0.7M266.2 1105.1h0.7M267.9 1071.5h0.7M242.9 1071.7h0.7M258.7 1156.6h0.7M278.3 1096.2h0.7M223.9 1044.1h0.7M200.2 1064.9h0.7M229.4 1092.8h0.7M267 1072.4h0.7M201.3 1022.8h0.7M256.2 1055.2h0.7M216.1 1068h0.7M271.2 1053.3h0.7M232.7 1046.9h0.7M208 1019.8h0.7M260.4 950.2h0.7M220.1 1089.4h0.7M238.2 1047.5h0.7M289.9 1086.3h0.7M242.1 1083.7h0.7M232.1 1076.8h0.7M269.9 1080.1h0.7M285 1011.2h0.7M256.9 1016.8h0.7M293.4 1115.2h0.7M259.1 1091.4h0.7M279.9 1010.1h0.7M240.2 1026.3h0.7M234.6 1002h0.7M221.8 1107.1h0.7M225.6 1089.6h0.7M253.6 1094.4h0.7M246.5 1036.7h0.7M292.5 1063.7h0.7M261.5 1061.5h0.7M210.2 1086.4h0.7M262.4 1053.5h0.7M200.4 990.7h0.7M267.5 1061h0.7M245.3 1123h0.7M286.8 1084.4h0.7M241 1137.2h0.7M197.6 1153.8h0.7M246.5 1071.2h0.7M323.5 1051.4h0.7M210.4 1116.5h0.7M271 1032.6h0.7M321.1 1127.2h0.7M257 1039h0.7M229.2 1095.1h0.7M229.7 1096.7h0.7M164.1 1122.2h0.7M240.8 1033.2h0.7M255.5 1041.2h0.7M271.9 1139.9h0.7M235.2 1035.6h0.7M279 1090h0.7M240.1 1074h0.7M330.2 1015.9h0.7M235.2 1049.5h0.7M258.9 1075.5h0.7M246.3 1044.5h0.7M236.9 1074.3h0.7M236.9 1073.2h0.7M226.5 1036h0.7M204.3 1103.7h0.7M257.9 1048.6h0.7M235 1073.1h0.7M246.1 1042.2h0.7M271.8 1155.3h0.7M172.3 1065h0.7M303.8 1163.4h0.7M193.2 1050.9h0.7M269.2 1033.7h0.7M163.6 1150.5h0.7M257.3 1158.5h0.7M298 1146.8h0.7M178.3 1114.5h0.7M220.2 1197.6h0.7M296.7 1177.2h0.7M263.5 1118.7h0.7M150.7 1197.1h0.7M195.8 1222.2h0.7M202.8 1157.1h0.7M223.2 1155.7h0.7M211.3 1172h0.7M210.9 1144.1h0.7M177.3 1140.1h0.7M163.5 1171.2h0.7M172.4 1124.3h0.7M202 1154.4h0.7M253.1 1159.7h0.7M208.7 1144.8h0.7M210.3 1139h0.7M277.5 1157.4h0.7M157.9 1150.7h0.7M236 1198.4h0.7M227.5 1215.6h0.7M207 1171.9h0.7M249 1077.2h0.7M282.3 1131.1h0.7M257.2 1175h0.7M244.5 1209.1h0.7M216 1199.9h0.7M255 1139.6h0.7M271.9 1181.7h0.7M187 1202.3h0.7M162.7 1209.9h0.7M261.5 1133.1h0.7M213.8 1209.3h0.7M215.4 1221.3h0.7M200.8 1119h0.7M256.2 1214.3h0.7M246.1 1179.8h0.7M256.2 1205.5h0.7M203.5 1170.9h0.7M294.2 1172h0.7M252.4 1132.6h0.7M204.3 1168.7h0.7M246.1 1200.3h0.7M239.3 1130.1h0.7M371.2 1153.1h0.7M230.9 1131.5h0.7M282 1175.4h0.7M247.9 1181.6h0.7M202.3 1099.2h0.7M249.2 1165.4h0.7M268.1 1171h0.7M266.4 1177.9h0.7M197.4 1184.3h0.7M255.1 1155.2h0.7M172.1 1173.7h0.7M240 1140.6h0.7M222.4 1152.7h0.7M175.4 1056.2h0.7M240.1 1148.3h0.7M248.3 1194.9h0.7M192.7 1061.6h0.7M251.8 1127.2h0.7M213.1 1167.5h0.7M176.8 1210.7h0.7M279.4 1188.2h0.7M174.8 1166.6h0.7M246.7 1220.6h0.7M199.9 1166.8h0.7M310.4 1204.6h0.7M288.1 1120h0.7M214.4 1195.8h0.7M217 1188.5h0.7M268.7 1191h0.7M259.3 1136.2h0.7M228.1 1159.4h0.7M190.3 1224.7h0.7M213.7 1224.4h0.7M253.6 1091.9h0.7M231.1 1194.2h0.7M206.5 1189h0.7M196.9 1193.3h0.7M315.4 1087.9h0.7M230.2 1165.1h0.7M217.9 1140.6h0.7M258.3 1196.4h0.7M274.6 1153.6h0.7M309.1 1169.6h0.7M88.6 1081.1h0.7M288.1 1193.6h0.7M174.2 1072.5h0.7M249.5 1155.2h0.7M279.4 1126.2h0.7M243.9 1174.5h0.7M200.2 1147.1h0.7M281.1 1192.9h0.7M252.1 1089h0.7M200.1 1219.9h0.7M164.3 1180.2h0.7M254.5 1147.5h0.7M355.8 1117.2h0.7M175.1 1145.6h0.7M207.4 1170.1h0.7M155.8 1198.7h0.7M197.8 1215.6h0.7M259.9 1180.5h0.7M248.1 1214.3h0.7M253.6 1192.8h0.7M172 1108.4h0.7M211.1 1133.3h0.7M198.5 1157.5h0.7M169.1 1206.5h0.7M163.5 1195.9h0.7M285.7 1192.7h0.7M269.1 1211.9h0.7M266.7 1177h0.7M182.3 1188.4h0.7M279.7 1222.5h0.7M252.6 1148.1h0.7M266.2 1137.4h0.7M243.2 1182.9h0.7M244.3 1210.9h0.7M198.6 1213h0.7M191 1160.3h0.7M255.8 1165.2h0.7M230.4 1153.6h0.7M311.7 1121.8h0.7M232.3 1151.1h0.7M245.1 1192.1h0.7M196.6 1163.5h0.7M216.4 1152h0.7M242.9 1157.4h0.7M178.2 1175.9h0.7M219.6 1172.7h0.7M249.8 1187.9h0.7M181.4 1161.7h0.7M206.8 1118.3h0.7M154.7 1127.7h0.7M198.4 1195.4h0.7M209.7 1179.8h0.7M192.5 1165.4h0.7M228.7 1197.2h0.7M169.1 1175.3h0.7M318.8 1204.6h0.7" stroke="#fff" stroke-width="0.8" stroke-opacity="0.7" fill="none"/></g>
<rect x="242.9" y="918.9" width="6" height="20.8" fill="none" stroke="#e20a17" stroke-width="2.7" transform="rotate(0 245.9 929.3)"/>
<rect x="253.6" y="884.2" width="6" height="20.8" fill="none" stroke="#e20a17" stroke-width="2.7" transform="rotate(45 256.6 894.6)"/>
<rect x="261.4" y="845.7" width="6" height="20.8" fill="none" stroke="#e20a17" stroke-width="2.7" transform="rotate(-5.5 264.4 856.1)"/>
<rect x="179.9" y="1067.2" width="6" height="20.8" fill="none" stroke="#e20a17" stroke-width="2.7" transform="rotate(49 182.9 1077.6)"/>
<text transform="translate(289.23,862.00) scale(1.0722,1)" font-size="25.5" style="fill:#fff">2nd branch</text>
<text transform="translate(272.47,902.70) scale(1.0631,1)" font-size="25.5" style="fill:#fff">1st branch</text>
<text transform="translate(55.30,940.90) scale(1.0607,1)" font-size="25.5" style="fill:#fff">Apical dendrite</text>
<text transform="translate(26.53,1062.20) scale(1.0629,1)" font-size="25.5" style="fill:#fff">Basal dendrite</text>
<text transform="translate(41.79,1210.90) scale(1.1398,1)" font-size="26.5" style="fill:#fff">50 µm</text>
<rect x="55.6" y="1182.2" width="63.5" height="4.6" fill="#fff"/>
<defs><filter id="bl" filterUnits="userSpaceOnUse" x="455" y="670" width="505" height="565"><feTurbulence type="fractalNoise" baseFrequency="0.11" numOctaves="2" seed="4" result="t"/><feGaussianBlur in="SourceGraphic" stdDeviation="1.5" result="b"/><feDisplacementMap in="b" in2="t" scale="7" xChannelSelector="R" yChannelSelector="G" result="d"/><feGaussianBlur in="d" stdDeviation="0.7"/></filter><filter id="bl3" filterUnits="userSpaceOnUse" x="455" y="670" width="505" height="565"><feTurbulence type="fractalNoise" baseFrequency="0.09" numOctaves="1" seed="7" result="t"/><feGaussianBlur in="SourceGraphic" stdDeviation="1.3" result="b"/><feDisplacementMap in="b" in2="t" scale="2.5" xChannelSelector="R" yChannelSelector="G"/></filter><filter id="bl2" filterUnits="userSpaceOnUse" x="455" y="670" width="505" height="565"><feGaussianBlur stdDeviation="3.5"/></filter></defs>
<rect x="463" y="677.2" width="238.5" height="73.1" fill="#000"/>
<clipPath id="mc0"><rect x="463" y="677.2" width="238.5" height="73.1"/></clipPath>
<g clip-path="url(#mc0)"><g filter="url(#bl2)" opacity="0.45"><path d="M457 706.2 487.3 708.1 517.1 711.8 546.9 713.7 576.7 711.8 606.5 710 636.4 708.1 666.2 708.1 707.6 710" fill="none" stroke="#fff" stroke-width="23" stroke-linejoin="round"/></g><g filter="url(#bl)"><path d="M457 706.2 487.3 708.1 517.1 711.8 546.9 713.7 576.7 711.8 606.5 710 636.4 708.1 666.2 708.1 707.6 710" fill="none" stroke="#fff" stroke-width="13.8" stroke-linejoin="round"/><circle cx="457.4" cy="702.9" r="9.4" fill="#fff"/><circle cx="461.3" cy="706.5" r="8" fill="#fff"/><circle cx="469.7" cy="706.3" r="8.2" fill="#fff"/><circle cx="492.2" cy="706.8" r="11.3" fill="#fff"/><circle cx="515.6" cy="713.5" r="7.2" fill="#fff"/><circle cx="514" cy="716.6" r="10.3" fill="#fff"/><circle cx="533.4" cy="717.4" r="10.4" fill="#fff"/><circle cx="541.7" cy="710.7" r="9.3" fill="#fff"/><circle cx="545.1" cy="715.6" r="10.9" fill="#fff"/><circle cx="566.3" cy="712.6" r="11.2" fill="#fff"/><circle cx="575.9" cy="713.4" r="7.9" fill="#fff"/><circle cx="573.9" cy="710.9" r="10.7" fill="#fff"/><circle cx="587.1" cy="710.9" r="9.3" fill="#fff"/><circle cx="591" cy="718.2" r="9.1" fill="#fff"/><circle cx="602.7" cy="713.5" r="7.9" fill="#fff"/><circle cx="634.1" cy="711.3" r="7.2" fill="#fff"/><circle cx="625.8" cy="706.8" r="10.1" fill="#fff"/><circle cx="607.7" cy="709.7" r="7.8" fill="#fff"/><circle cx="660" cy="707" r="7.8" fill="#fff"/><circle cx="650.8" cy="705.4" r="10.4" fill="#fff"/><circle cx="660.2" cy="704.5" r="8.3" fill="#fff"/><circle cx="680.4" cy="707.2" r="9.2" fill="#fff"/><circle cx="686.8" cy="707.1" r="9" fill="#fff"/><circle cx="675.8" cy="706.6" r="10.6" fill="#fff"/></g><g filter="url(#bl3)"><circle cx="532.7" cy="691.3" r="3.2" fill="#fff"/><circle cx="563.7" cy="689.5" r="3.2" fill="#fff"/><circle cx="593.5" cy="689.5" r="3.5" fill="#fff"/><circle cx="612.9" cy="693.9" r="3.5" fill="#fff"/><circle cx="685.6" cy="689.5" r="2.8" fill="#fff"/><circle cx="494" cy="737.9" r="2.8" fill="#fff"/><circle cx="550.6" cy="741.6" r="2.8" fill="#fff"/><circle cx="584.2" cy="729.7" r="3.9" fill="#fff"/><circle cx="641.9" cy="737.2" r="3.5" fill="#fff"/><circle cx="664.3" cy="728.6" r="3.2" fill="#fff"/><circle cx="536.5" cy="706.2" r="5" fill="#fff"/><circle cx="472.4" cy="700.6" r="3.5" fill="#fff"/><circle cx="505.9" cy="723" r="3.2" fill="#fff"/><circle cx="628.9" cy="697.7" r="2.8" fill="#fff"/><circle cx="562.3" cy="719.8" r="1.4" fill="#fff" opacity="0.26"/><circle cx="638.3" cy="717.8" r="1.2" fill="#fff" opacity="0.39"/><circle cx="516.7" cy="687.3" r="1.5" fill="#fff" opacity="0.27"/><circle cx="506.7" cy="685.1" r="1.4" fill="#fff" opacity="0.22"/><circle cx="487.6" cy="713" r="1.6" fill="#fff" opacity="0.16"/><circle cx="582.3" cy="683.3" r="1.7" fill="#fff" opacity="0.34"/><circle cx="525.6" cy="684.5" r="1.9" fill="#fff" opacity="0.28"/><circle cx="494.9" cy="685.4" r="1.8" fill="#fff" opacity="0.29"/><circle cx="525.3" cy="719.2" r="1.2" fill="#fff" opacity="0.35"/><circle cx="580.7" cy="747.7" r="1.4" fill="#fff" opacity="0.38"/><circle cx="522.6" cy="715.2" r="1.4" fill="#fff" opacity="0.35"/><circle cx="480.5" cy="738.2" r="1.8" fill="#fff" opacity="0.25"/><circle cx="471.7" cy="733.2" r="1.6" fill="#fff" opacity="0.38"/><circle cx="596.7" cy="747.8" r="1.2" fill="#fff" opacity="0.23"/><circle cx="637.4" cy="728.4" r="1.7" fill="#fff" opacity="0.37"/><circle cx="634" cy="727" r="1.8" fill="#fff" opacity="0.31"/><circle cx="535.3" cy="737.7" r="1.1" fill="#fff" opacity="0.33"/><circle cx="590.9" cy="705" r="1" fill="#fff" opacity="0.37"/><circle cx="482.2" cy="735.9" r="1.6" fill="#fff" opacity="0.27"/><circle cx="621.4" cy="697.8" r="1.8" fill="#fff" opacity="0.19"/><circle cx="601.3" cy="711" r="1.6" fill="#fff" opacity="0.27"/><circle cx="690.3" cy="739.5" r="1.9" fill="#fff" opacity="0.16"/><circle cx="500.4" cy="712" r="1.7" fill="#fff" opacity="0.24"/><circle cx="597.7" cy="680.5" r="1.6" fill="#fff" opacity="0.32"/><circle cx="557.4" cy="687.1" r="1.3" fill="#fff" opacity="0.33"/><circle cx="602.4" cy="741.7" r="1.5" fill="#fff" opacity="0.19"/><circle cx="604.2" cy="681.1" r="1.7" fill="#fff" opacity="0.20"/><circle cx="678.8" cy="711.7" r="1.3" fill="#fff" opacity="0.18"/><circle cx="655.7" cy="744.1" r="1.6" fill="#fff" opacity="0.32"/><circle cx="631.6" cy="731.6" r="1.7" fill="#fff" opacity="0.19"/><circle cx="622" cy="743.7" r="0.8" fill="#fff" opacity="0.20"/><circle cx="644.9" cy="680.2" r="1.1" fill="#fff" opacity="0.36"/><circle cx="551.1" cy="742.8" r="1.1" fill="#fff" opacity="0.25"/><circle cx="489.1" cy="736.7" r="1.9" fill="#fff" opacity="0.20"/><circle cx="537.3" cy="726.4" r="0.9" fill="#fff" opacity="0.16"/><circle cx="540.9" cy="705.4" r="1.5" fill="#fff" opacity="0.29"/><circle cx="541.8" cy="708.2" r="1.1" fill="#fff" opacity="0.20"/><circle cx="648.5" cy="687.4" r="1.3" fill="#fff" opacity="0.18"/><circle cx="657.8" cy="738.8" r="0.9" fill="#fff" opacity="0.33"/><circle cx="683.3" cy="705.4" r="1.7" fill="#fff" opacity="0.38"/></g></g>
<rect x="716.1" y="677.2" width="238.5" height="73.1" fill="#000"/>
<clipPath id="mc1"><rect x="716.1" y="677.2" width="238.5" height="73.1"/></clipPath>
<g clip-path="url(#mc1)"><g filter="url(#bl2)" opacity="0.45"><path d="M710.1 715.5 740.7 711.8 766.8 706.2 792.9 700.6 822.7 699.9 852.5 702.5 882.4 706.2 912.2 710 960.7 718.5" fill="none" stroke="#fff" stroke-width="29.2" stroke-linejoin="round"/></g><g filter="url(#bl)"><path d="M710.1 715.5 740.7 711.8 766.8 706.2 792.9 700.6 822.7 699.9 852.5 702.5 882.4 706.2 912.2 710 960.7 718.5" fill="none" stroke="#fff" stroke-width="17.5" stroke-linejoin="round"/><circle cx="710.3" cy="710.5" r="10.6" fill="#fff"/><circle cx="736" cy="715.9" r="11" fill="#fff"/><circle cx="738.3" cy="705.3" r="9.7" fill="#fff"/><circle cx="761.8" cy="708.9" r="11" fill="#fff"/><circle cx="743.9" cy="714.3" r="11.7" fill="#fff"/><circle cx="759.9" cy="704.5" r="8.9" fill="#fff"/><circle cx="766.9" cy="701.8" r="14.6" fill="#fff"/><circle cx="773.9" cy="700.8" r="10.4" fill="#fff"/><circle cx="787" cy="705.4" r="10.5" fill="#fff"/><circle cx="809.3" cy="704.7" r="13.1" fill="#fff"/><circle cx="798.1" cy="698.7" r="11.8" fill="#fff"/><circle cx="799.4" cy="700.4" r="14.7" fill="#fff"/><circle cx="842.4" cy="706.5" r="15" fill="#fff"/><circle cx="840.6" cy="699" r="12.6" fill="#fff"/><circle cx="826.1" cy="700.2" r="10.3" fill="#fff"/><circle cx="862.8" cy="700.8" r="10.1" fill="#fff"/><circle cx="863.7" cy="706.5" r="12.2" fill="#fff"/><circle cx="871.6" cy="711" r="12.7" fill="#fff"/><circle cx="893.5" cy="713.6" r="10.9" fill="#fff"/><circle cx="909.8" cy="711.1" r="14.1" fill="#fff"/><circle cx="898.9" cy="710.6" r="14" fill="#fff"/><circle cx="952.2" cy="713.3" r="10.8" fill="#fff"/><circle cx="931.6" cy="716.5" r="15" fill="#fff"/><circle cx="931.9" cy="710.4" r="10.8" fill="#fff"/></g><g filter="url(#bl3)"><circle cx="733.3" cy="697.7" r="3.9" fill="#fff"/><circle cx="748.2" cy="693.2" r="3.9" fill="#fff"/><circle cx="766.8" cy="691.3" r="3.5" fill="#fff"/><circle cx="817.1" cy="683.9" r="3.5" fill="#fff"/><circle cx="822.7" cy="688.7" r="3.5" fill="#fff"/><circle cx="841.4" cy="691.3" r="3.9" fill="#fff"/><circle cx="863.7" cy="691.3" r="3.9" fill="#fff"/><circle cx="889.8" cy="693.2" r="4.2" fill="#fff"/><circle cx="919.6" cy="697.7" r="3.9" fill="#fff"/><circle cx="949.4" cy="701.4" r="4.2" fill="#fff"/><circle cx="759.4" cy="730.5" r="3.5" fill="#fff"/><circle cx="781.7" cy="723" r="3.9" fill="#fff"/><circle cx="807.8" cy="721.1" r="3.9" fill="#fff"/><circle cx="886.1" cy="723" r="3.9" fill="#fff"/><circle cx="945.7" cy="736" r="3.2" fill="#fff"/><circle cx="723.9" cy="700.6" r="3.2" fill="#fff"/><circle cx="934.5" cy="693.2" r="2.8" fill="#fff"/><circle cx="899.9" cy="710" r="1.7" fill="#fff" opacity="0.21"/><circle cx="912.6" cy="729.5" r="1.4" fill="#fff" opacity="0.35"/><circle cx="935.5" cy="734.7" r="1.2" fill="#fff" opacity="0.33"/><circle cx="862.8" cy="738.6" r="1.3" fill="#fff" opacity="0.26"/><circle cx="738.5" cy="693.1" r="1.4" fill="#fff" opacity="0.28"/><circle cx="886.2" cy="698.1" r="0.9" fill="#fff" opacity="0.20"/><circle cx="819.6" cy="690.7" r="0.9" fill="#fff" opacity="0.33"/><circle cx="933.2" cy="681.6" r="0.9" fill="#fff" opacity="0.22"/><circle cx="854.4" cy="745.7" r="1.5" fill="#fff" opacity="0.32"/><circle cx="871.2" cy="746.2" r="1.8" fill="#fff" opacity="0.24"/><circle cx="912.2" cy="696.2" r="2" fill="#fff" opacity="0.25"/><circle cx="848.4" cy="724.5" r="1.2" fill="#fff" opacity="0.37"/><circle cx="952.2" cy="718.8" r="1.1" fill="#fff" opacity="0.22"/><circle cx="911.3" cy="718.1" r="1.5" fill="#fff" opacity="0.19"/><circle cx="892.7" cy="688.6" r="1" fill="#fff" opacity="0.30"/><circle cx="863.8" cy="691" r="1.9" fill="#fff" opacity="0.33"/><circle cx="907.4" cy="734.2" r="1.4" fill="#fff" opacity="0.31"/><circle cx="720.6" cy="719.7" r="1.5" fill="#fff" opacity="0.32"/><circle cx="764.7" cy="700.6" r="2" fill="#fff" opacity="0.22"/><circle cx="883.1" cy="696.5" r="1.5" fill="#fff" opacity="0.37"/><circle cx="911" cy="679.3" r="1.3" fill="#fff" opacity="0.25"/><circle cx="930.9" cy="679.8" r="1.3" fill="#fff" opacity="0.40"/><circle cx="724.8" cy="726.2" r="1.7" fill="#fff" opacity="0.18"/><circle cx="778.4" cy="711.9" r="1" fill="#fff" opacity="0.38"/><circle cx="887" cy="684.5" r="1.8" fill="#fff" opacity="0.22"/><circle cx="812.7" cy="722.4" r="1.4" fill="#fff" opacity="0.28"/><circle cx="940.6" cy="705.4" r="1.4" fill="#fff" opacity="0.20"/><circle cx="724.1" cy="715.2" r="0.9" fill="#fff" opacity="0.32"/><circle cx="771.6" cy="714.3" r="1.8" fill="#fff" opacity="0.32"/><circle cx="818" cy="727" r="1.2" fill="#fff" opacity="0.38"/><circle cx="790.1" cy="722.1" r="1.3" fill="#fff" opacity="0.16"/><circle cx="812.9" cy="720.2" r="1.4" fill="#fff" opacity="0.38"/><circle cx="746.7" cy="732" r="1.5" fill="#fff" opacity="0.24"/><circle cx="848" cy="686.6" r="1.5" fill="#fff" opacity="0.18"/><circle cx="856.8" cy="737.9" r="1.3" fill="#fff" opacity="0.16"/><circle cx="769.5" cy="718.6" r="1.5" fill="#fff" opacity="0.39"/><circle cx="930.2" cy="698.4" r="0.9" fill="#fff" opacity="0.36"/><circle cx="841" cy="747.7" r="0.9" fill="#fff" opacity="0.24"/><circle cx="893.4" cy="718.3" r="1.8" fill="#fff" opacity="0.34"/><circle cx="801.2" cy="705" r="1.1" fill="#fff" opacity="0.35"/></g></g>
<rect x="462.3" y="836.7" width="238.2" height="73.4" fill="#000"/>
<clipPath id="mc2"><rect x="462.3" y="836.7" width="238.2" height="73.4"/></clipPath>
<g clip-path="url(#mc2)"><g filter="url(#bl2)" opacity="0.45"><path d="M460.8 877.7 494.7 879.5 524.5 880.3 554.4 873.9 584.2 869.1 614 869.1 643.8 869.1 673.6 868.4 703.9 868.4" fill="none" stroke="#fff" stroke-width="24" stroke-linejoin="round"/></g><g filter="url(#bl)"><path d="M460.8 877.7 494.7 879.5 524.5 880.3 554.4 873.9 584.2 869.1 614 869.1 643.8 869.1 673.6 868.4 703.9 868.4" fill="none" stroke="#fff" stroke-width="14.4" stroke-linejoin="round"/><circle cx="475.5" cy="878" r="11.6" fill="#fff"/><circle cx="473.3" cy="879.7" r="9.7" fill="#fff"/><circle cx="486.2" cy="883.2" r="7.4" fill="#fff"/><circle cx="499.1" cy="878.7" r="11.2" fill="#fff"/><circle cx="505.1" cy="881.9" r="7.5" fill="#fff"/><circle cx="523.9" cy="881.6" r="8.1" fill="#fff"/><circle cx="542.2" cy="877" r="8.7" fill="#fff"/><circle cx="535.5" cy="877.7" r="10.2" fill="#fff"/><circle cx="536.4" cy="880.2" r="12.3" fill="#fff"/><circle cx="558.2" cy="874.8" r="12.1" fill="#fff"/><circle cx="562.5" cy="875.6" r="10.8" fill="#fff"/><circle cx="555.4" cy="869.7" r="9.3" fill="#fff"/><circle cx="612.5" cy="871" r="8" fill="#fff"/><circle cx="584.4" cy="868.5" r="11.6" fill="#fff"/><circle cx="609.2" cy="868.2" r="11.3" fill="#fff"/><circle cx="622.9" cy="871.9" r="10" fill="#fff"/><circle cx="622.8" cy="868.6" r="8.6" fill="#fff"/><circle cx="618.7" cy="867.5" r="11.2" fill="#fff"/><circle cx="664" cy="863.6" r="11.7" fill="#fff"/><circle cx="666.5" cy="868.1" r="8.3" fill="#fff"/><circle cx="655.2" cy="867.9" r="10.5" fill="#fff"/><circle cx="692.9" cy="875.3" r="8.4" fill="#fff"/><circle cx="688.2" cy="867.1" r="8.9" fill="#fff"/><circle cx="693.7" cy="864.3" r="8.6" fill="#fff"/></g><g filter="url(#bl3)"><circle cx="481.7" cy="859" r="3.2" fill="#fff"/><circle cx="502.2" cy="865.4" r="3.9" fill="#fff"/><circle cx="535.7" cy="860.9" r="3.9" fill="#fff"/><circle cx="571.1" cy="855.3" r="3.5" fill="#fff"/><circle cx="580.5" cy="859" r="3.2" fill="#fff"/><circle cx="640.1" cy="850.5" r="3.2" fill="#fff"/><circle cx="673.6" cy="853.4" r="3.2" fill="#fff"/><circle cx="532" cy="903.8" r="3.2" fill="#fff"/><circle cx="610.3" cy="888.9" r="3.2" fill="#fff"/><circle cx="640.1" cy="887.7" r="3.5" fill="#fff"/><circle cx="688.5" cy="885.1" r="3.2" fill="#fff"/><circle cx="658.7" cy="857.2" r="2.8" fill="#fff"/><circle cx="671.8" cy="841.8" r="1.8" fill="#fff" opacity="0.27"/><circle cx="537.9" cy="847" r="1.5" fill="#fff" opacity="0.29"/><circle cx="626" cy="899.4" r="1.4" fill="#fff" opacity="0.39"/><circle cx="697" cy="845.4" r="1.5" fill="#fff" opacity="0.30"/><circle cx="465.9" cy="847.5" r="1.7" fill="#fff" opacity="0.24"/><circle cx="656.1" cy="909.6" r="1.5" fill="#fff" opacity="0.16"/><circle cx="499.2" cy="885.4" r="1.7" fill="#fff" opacity="0.15"/><circle cx="613.7" cy="876" r="1" fill="#fff" opacity="0.17"/><circle cx="689.4" cy="907.1" r="1.2" fill="#fff" opacity="0.25"/><circle cx="488.8" cy="854.9" r="1.2" fill="#fff" opacity="0.32"/><circle cx="564.5" cy="882.6" r="1.6" fill="#fff" opacity="0.28"/><circle cx="590.8" cy="836.7" r="1.6" fill="#fff" opacity="0.32"/><circle cx="697.5" cy="870.8" r="1.6" fill="#fff" opacity="0.26"/><circle cx="512.8" cy="847.1" r="0.9" fill="#fff" opacity="0.21"/><circle cx="561.2" cy="840.7" r="0.8" fill="#fff" opacity="0.34"/><circle cx="674.4" cy="858.4" r="1.3" fill="#fff" opacity="0.38"/><circle cx="557.4" cy="872.7" r="0.9" fill="#fff" opacity="0.28"/><circle cx="631.9" cy="857.3" r="1.4" fill="#fff" opacity="0.17"/><circle cx="606.1" cy="888.5" r="0.8" fill="#fff" opacity="0.27"/><circle cx="482.8" cy="908.6" r="1.3" fill="#fff" opacity="0.27"/><circle cx="579.2" cy="905.1" r="1.6" fill="#fff" opacity="0.33"/><circle cx="603.3" cy="875" r="1.8" fill="#fff" opacity="0.36"/><circle cx="603.5" cy="874.6" r="1.3" fill="#fff" opacity="0.28"/><circle cx="476" cy="856.3" r="1.8" fill="#fff" opacity="0.38"/><circle cx="465.2" cy="837.9" r="1.9" fill="#fff" opacity="0.36"/><circle cx="579.8" cy="905.8" r="1.1" fill="#fff" opacity="0.23"/><circle cx="686.7" cy="861.4" r="2" fill="#fff" opacity="0.19"/><circle cx="607.3" cy="881.1" r="1" fill="#fff" opacity="0.20"/><circle cx="559.4" cy="873.4" r="1.2" fill="#fff" opacity="0.32"/><circle cx="688" cy="899.5" r="1" fill="#fff" opacity="0.28"/><circle cx="699.1" cy="870.7" r="1.8" fill="#fff" opacity="0.17"/><circle cx="628.8" cy="848.3" r="1.9" fill="#fff" opacity="0.25"/><circle cx="560.2" cy="843.7" r="0.9" fill="#fff" opacity="0.30"/><circle cx="590.8" cy="862.3" r="2" fill="#fff" opacity="0.26"/><circle cx="625.5" cy="854.1" r="1.4" fill="#fff" opacity="0.38"/><circle cx="559.2" cy="876.3" r="1.2" fill="#fff" opacity="0.23"/><circle cx="555.8" cy="855.5" r="1.7" fill="#fff" opacity="0.28"/><circle cx="687.9" cy="878.9" r="1.7" fill="#fff" opacity="0.27"/><circle cx="523.5" cy="859.5" r="1.1" fill="#fff" opacity="0.17"/><circle cx="630.1" cy="875" r="1.1" fill="#fff" opacity="0.17"/></g></g>
<rect x="712.4" y="836.7" width="237" height="73.4" fill="#000"/>
<clipPath id="mc3"><rect x="712.4" y="836.7" width="237" height="73.4"/></clipPath>
<g clip-path="url(#mc3)"><g filter="url(#bl2)" opacity="0.45"><path d="M707.1 875.8 740.7 875.8 766.8 881.4 796.6 885.1 826.4 886.2 856.3 881.4 886.1 875.8 915.9 872.8 954.7 872.1" fill="none" stroke="#fff" stroke-width="15.7" stroke-linejoin="round"/></g><g filter="url(#bl)"><path d="M707.1 875.8 740.7 875.8 766.8 881.4 796.6 885.1 826.4 886.2 856.3 881.4 886.1 875.8 915.9 872.8 954.7 872.1" fill="none" stroke="#fff" stroke-width="9.4" stroke-linejoin="round"/><circle cx="719.7" cy="873.9" r="7" fill="#fff"/><circle cx="722.9" cy="872.2" r="6.2" fill="#fff"/><circle cx="721.2" cy="878.6" r="6" fill="#fff"/><circle cx="760.3" cy="878.1" r="5.9" fill="#fff"/><circle cx="761" cy="881.8" r="6.4" fill="#fff"/><circle cx="755.2" cy="878.7" r="7" fill="#fff"/><circle cx="773.6" cy="887" r="5.9" fill="#fff"/><circle cx="788.7" cy="883" r="7.6" fill="#fff"/><circle cx="787.8" cy="878.8" r="6.8" fill="#fff"/><circle cx="819.9" cy="885.1" r="6.4" fill="#fff"/><circle cx="801.8" cy="886.7" r="5.6" fill="#fff"/><circle cx="826.4" cy="885.1" r="7.5" fill="#fff"/><circle cx="847.8" cy="885.8" r="6.8" fill="#fff"/><circle cx="842.6" cy="881.9" r="5.9" fill="#fff"/><circle cx="828.9" cy="885.5" r="5.4" fill="#fff"/><circle cx="873.7" cy="881.7" r="5.7" fill="#fff"/><circle cx="875.6" cy="879.6" r="5" fill="#fff"/><circle cx="883" cy="877.1" r="6.8" fill="#fff"/><circle cx="890.3" cy="878.4" r="7.6" fill="#fff"/><circle cx="906.5" cy="869.4" r="6.7" fill="#fff"/><circle cx="910.8" cy="876.1" r="7" fill="#fff"/><circle cx="942.9" cy="875.5" r="5.5" fill="#fff"/><circle cx="918.8" cy="877.7" r="4.8" fill="#fff"/><circle cx="917.2" cy="870.7" r="6.5" fill="#fff"/></g><g filter="url(#bl3)"><circle cx="737" cy="860.9" r="3.5" fill="#fff"/><circle cx="751.9" cy="857.2" r="3.2" fill="#fff"/><circle cx="792.9" cy="862.8" r="3.5" fill="#fff"/><circle cx="822.7" cy="862.8" r="3.2" fill="#fff"/><circle cx="852.5" cy="866.5" r="3.9" fill="#fff"/><circle cx="880.5" cy="862.8" r="3.5" fill="#fff"/><circle cx="901" cy="862.8" r="3.5" fill="#fff"/><circle cx="921.5" cy="851.6" r="3.2" fill="#fff"/><circle cx="912.2" cy="860.9" r="3.2" fill="#fff"/><circle cx="770.5" cy="894.4" r="3.2" fill="#fff"/><circle cx="841.4" cy="888.9" r="3.9" fill="#fff"/><circle cx="863.7" cy="896.3" r="3.2" fill="#fff"/><circle cx="886.1" cy="887" r="3.5" fill="#fff"/><circle cx="934.5" cy="894.4" r="3.2" fill="#fff"/><circle cx="942" cy="898.2" r="3.2" fill="#fff"/><circle cx="723.9" cy="866.5" r="3.5" fill="#fff"/><circle cx="942" cy="877.7" r="5" fill="#fff"/><circle cx="850" cy="841.8" r="1.9" fill="#fff" opacity="0.18"/><circle cx="759.8" cy="863.1" r="1.6" fill="#fff" opacity="0.24"/><circle cx="842.2" cy="877.1" r="1.2" fill="#fff" opacity="0.24"/><circle cx="924.9" cy="862.3" r="1.9" fill="#fff" opacity="0.39"/><circle cx="895.2" cy="870.2" r="1.9" fill="#fff" opacity="0.20"/><circle cx="931.8" cy="894.3" r="1.5" fill="#fff" opacity="0.36"/><circle cx="794.6" cy="846.9" r="0.8" fill="#fff" opacity="0.24"/><circle cx="815.4" cy="890.1" r="1" fill="#fff" opacity="0.25"/><circle cx="823.4" cy="900.7" r="1.1" fill="#fff" opacity="0.28"/><circle cx="731.7" cy="852.4" r="1.1" fill="#fff" opacity="0.24"/><circle cx="889.5" cy="875.2" r="1.2" fill="#fff" opacity="0.25"/><circle cx="934.3" cy="877.3" r="1.1" fill="#fff" opacity="0.19"/><circle cx="903.2" cy="843.2" r="1.1" fill="#fff" opacity="0.38"/><circle cx="747.3" cy="881.5" r="1.4" fill="#fff" opacity="0.18"/><circle cx="878.4" cy="897.4" r="1.9" fill="#fff" opacity="0.21"/><circle cx="805.7" cy="843.1" r="1.9" fill="#fff" opacity="0.17"/><circle cx="927.2" cy="840.8" r="1.3" fill="#fff" opacity="0.25"/><circle cx="834.7" cy="871.1" r="1.8" fill="#fff" opacity="0.34"/><circle cx="876.2" cy="903.1" r="0.8" fill="#fff" opacity="0.30"/><circle cx="818.8" cy="907.6" r="0.9" fill="#fff" opacity="0.20"/><circle cx="824.9" cy="842.7" r="1.2" fill="#fff" opacity="0.23"/><circle cx="896.4" cy="876.4" r="0.8" fill="#fff" opacity="0.31"/><circle cx="896" cy="905.6" r="1.8" fill="#fff" opacity="0.32"/><circle cx="756.6" cy="903.9" r="1" fill="#fff" opacity="0.37"/><circle cx="834.2" cy="894.9" r="1.3" fill="#fff" opacity="0.35"/><circle cx="849.4" cy="866.9" r="1.3" fill="#fff" opacity="0.38"/><circle cx="916.7" cy="875.3" r="1.1" fill="#fff" opacity="0.28"/><circle cx="874.8" cy="882.2" r="1.5" fill="#fff" opacity="0.34"/><circle cx="775.2" cy="897" r="1.2" fill="#fff" opacity="0.38"/><circle cx="790.1" cy="855" r="1.7" fill="#fff" opacity="0.18"/><circle cx="892.1" cy="875" r="1.6" fill="#fff" opacity="0.26"/><circle cx="804.3" cy="903.6" r="1.6" fill="#fff" opacity="0.22"/><circle cx="747.9" cy="838.8" r="1.6" fill="#fff" opacity="0.25"/><circle cx="879.1" cy="856.6" r="1.8" fill="#fff" opacity="0.38"/><circle cx="875.2" cy="870" r="1.5" fill="#fff" opacity="0.20"/><circle cx="752.7" cy="841.4" r="1.6" fill="#fff" opacity="0.22"/><circle cx="944.1" cy="891.7" r="1.6" fill="#fff" opacity="0.32"/><circle cx="855.3" cy="845" r="2" fill="#fff" opacity="0.28"/><circle cx="872.2" cy="881.2" r="1.4" fill="#fff" opacity="0.22"/><circle cx="856" cy="888.5" r="1.2" fill="#fff" opacity="0.33"/></g></g>
<rect x="461.9" y="994.3" width="237.8" height="73.8" fill="#000"/>
<clipPath id="mc4"><rect x="461.9" y="994.3" width="237.8" height="73.8"/></clipPath>
<g clip-path="url(#mc4)"><g filter="url(#bl2)" opacity="0.45"><path d="M458.9 1028.6 491 1034.2 517.1 1037.9 543.2 1036.1 569.3 1043.5 599.1 1036.8 625.2 1034.2 651.3 1028.6 673.6 1028.6 703.9 1034.2" fill="none" stroke="#fff" stroke-width="8.9" stroke-linejoin="round"/></g><g filter="url(#bl)"><path d="M458.9 1028.6 491 1034.2 517.1 1037.9 543.2 1036.1 569.3 1043.5 599.1 1036.8 625.2 1034.2 651.3 1028.6 673.6 1028.6 703.9 1034.2" fill="none" stroke="#fff" stroke-width="5.3" stroke-linejoin="round"/><circle cx="463.3" cy="1030.1" r="4" fill="#fff"/><circle cx="481.1" cy="1032" r="4.4" fill="#fff"/><circle cx="461.4" cy="1028.4" r="3.7" fill="#fff"/><circle cx="497.5" cy="1034.5" r="2.9" fill="#fff"/><circle cx="494.4" cy="1035.9" r="4.1" fill="#fff"/><circle cx="491.6" cy="1034.6" r="3.7" fill="#fff"/><circle cx="538.1" cy="1037.4" r="3.8" fill="#fff"/><circle cx="518.7" cy="1038.5" r="3.6" fill="#fff"/><circle cx="524.9" cy="1037.8" r="3.6" fill="#fff"/><circle cx="553.1" cy="1040.6" r="4" fill="#fff"/><circle cx="558.7" cy="1040.3" r="4.4" fill="#fff"/><circle cx="559.4" cy="1039.2" r="3.3" fill="#fff"/><circle cx="586.6" cy="1039.6" r="2.8" fill="#fff"/><circle cx="585.4" cy="1038.8" r="4.6" fill="#fff"/><circle cx="589.1" cy="1039.5" r="4" fill="#fff"/><circle cx="619.5" cy="1036.3" r="3.8" fill="#fff"/><circle cx="609.3" cy="1034.8" r="3.1" fill="#fff"/><circle cx="619.1" cy="1035.1" r="3.4" fill="#fff"/><circle cx="651" cy="1029.2" r="3.4" fill="#fff"/><circle cx="630.3" cy="1034" r="2.8" fill="#fff"/><circle cx="633.8" cy="1031.8" r="4.2" fill="#fff"/><circle cx="661.4" cy="1031.2" r="3.8" fill="#fff"/><circle cx="651.6" cy="1027" r="4.4" fill="#fff"/><circle cx="654.4" cy="1028.1" r="4.6" fill="#fff"/><circle cx="685.9" cy="1029.7" r="3.9" fill="#fff"/><circle cx="695.4" cy="1031" r="2.7" fill="#fff"/><circle cx="701.7" cy="1034.1" r="3.9" fill="#fff"/></g><g filter="url(#bl3)"><circle cx="472.4" cy="1014.5" r="3.2" fill="#fff"/><circle cx="538.3" cy="1021.2" r="4.6" fill="#fff"/><circle cx="587.9" cy="1016.3" r="4.6" fill="#fff"/><circle cx="669.9" cy="1008.1" r="3.2" fill="#fff"/><circle cx="668.8" cy="1024.9" r="5" fill="#fff"/><circle cx="574.9" cy="1047.3" r="5" fill="#fff"/><circle cx="541.3" cy="1035.3" r="3.9" fill="#fff"/><circle cx="491" cy="1052.9" r="3.2" fill="#fff"/><circle cx="505.9" cy="1052.9" r="3.2" fill="#fff"/><circle cx="631.9" cy="1052.9" r="3.5" fill="#fff"/><circle cx="498.5" cy="1039.8" r="3.2" fill="#fff"/><circle cx="472.4" cy="1030.5" r="3.9" fill="#fff"/><circle cx="659.2" cy="1045.4" r="1" fill="#fff" opacity="0.23"/><circle cx="485" cy="1033.1" r="1.4" fill="#fff" opacity="0.34"/><circle cx="563.9" cy="1038.3" r="1.1" fill="#fff" opacity="0.20"/><circle cx="487.7" cy="1006.7" r="0.8" fill="#fff" opacity="0.25"/><circle cx="697.6" cy="1056.7" r="1.9" fill="#fff" opacity="0.26"/><circle cx="680.1" cy="1040.2" r="1" fill="#fff" opacity="0.25"/><circle cx="544.3" cy="1001.8" r="1" fill="#fff" opacity="0.32"/><circle cx="584.6" cy="1009.7" r="0.8" fill="#fff" opacity="0.26"/><circle cx="663.3" cy="1065.5" r="1.4" fill="#fff" opacity="0.37"/><circle cx="664.1" cy="1012.6" r="2" fill="#fff" opacity="0.29"/><circle cx="608.6" cy="1065.6" r="1.2" fill="#fff" opacity="0.39"/><circle cx="618.1" cy="1055.8" r="1.8" fill="#fff" opacity="0.21"/><circle cx="507.4" cy="1016.9" r="1.4" fill="#fff" opacity="0.19"/><circle cx="504.7" cy="1021.1" r="1.9" fill="#fff" opacity="0.17"/><circle cx="622.8" cy="1041.4" r="1.7" fill="#fff" opacity="0.15"/><circle cx="550.7" cy="1051.9" r="1.5" fill="#fff" opacity="0.26"/><circle cx="682.1" cy="998.7" r="1" fill="#fff" opacity="0.18"/><circle cx="632" cy="1046.4" r="1.8" fill="#fff" opacity="0.37"/><circle cx="637.9" cy="1003.8" r="1.4" fill="#fff" opacity="0.26"/><circle cx="506.5" cy="1032.6" r="1.7" fill="#fff" opacity="0.27"/><circle cx="682.2" cy="1060.9" r="1.6" fill="#fff" opacity="0.26"/><circle cx="507.3" cy="1047.3" r="1.7" fill="#fff" opacity="0.28"/><circle cx="638.5" cy="1054.7" r="1.7" fill="#fff" opacity="0.37"/><circle cx="583.4" cy="1022.6" r="2" fill="#fff" opacity="0.38"/><circle cx="675.9" cy="1056.9" r="0.9" fill="#fff" opacity="0.25"/><circle cx="512.9" cy="996.8" r="1.4" fill="#fff" opacity="0.33"/><circle cx="535.9" cy="1026.2" r="1.2" fill="#fff" opacity="0.27"/><circle cx="522.9" cy="1016.6" r="1.6" fill="#fff" opacity="0.38"/><circle cx="481" cy="1044.8" r="1.5" fill="#fff" opacity="0.19"/><circle cx="652" cy="1042" r="1.4" fill="#fff" opacity="0.29"/><circle cx="492.8" cy="1054.7" r="1.6" fill="#fff" opacity="0.38"/><circle cx="544.4" cy="1037" r="0.9" fill="#fff" opacity="0.20"/><circle cx="521.7" cy="1015.3" r="1.2" fill="#fff" opacity="0.23"/><circle cx="505.4" cy="1018.1" r="1.9" fill="#fff" opacity="0.31"/><circle cx="632.4" cy="1038.4" r="1.1" fill="#fff" opacity="0.38"/><circle cx="668.3" cy="1042.4" r="2" fill="#fff" opacity="0.30"/><circle cx="469.4" cy="1023.4" r="1.6" fill="#fff" opacity="0.31"/><circle cx="529" cy="1010.2" r="1.1" fill="#fff" opacity="0.38"/><circle cx="574.3" cy="1055.1" r="1.1" fill="#fff" opacity="0.27"/><circle cx="555.2" cy="1040.3" r="1.2" fill="#fff" opacity="0.39"/></g></g>
<rect x="712" y="994.3" width="236.7" height="73.8" fill="#000"/>
<clipPath id="mc5"><rect x="712" y="994.3" width="236.7" height="73.8"/></clipPath>
<g clip-path="url(#mc5)"><g filter="url(#bl2)" opacity="0.45"><path d="M708.6 1037.9 740.7 1034.2 766.8 1032.4 792.9 1036.1 822.7 1041.7 852.5 1037.9 882.4 1034.2 912.2 1028.6 953.6 1023" fill="none" stroke="#fff" stroke-width="12.5" stroke-linejoin="round"/></g><g filter="url(#bl)"><path d="M708.6 1037.9 740.7 1034.2 766.8 1032.4 792.9 1036.1 822.7 1041.7 852.5 1037.9 882.4 1034.2 912.2 1028.6 953.6 1023" fill="none" stroke="#fff" stroke-width="7.5" stroke-linejoin="round"/><circle cx="723.9" cy="1035.4" r="5" fill="#fff"/><circle cx="717.8" cy="1036" r="6.1" fill="#fff"/><circle cx="730.8" cy="1035.5" r="4.8" fill="#fff"/><circle cx="752.4" cy="1035" r="4.9" fill="#fff"/><circle cx="761.7" cy="1032.3" r="4.1" fill="#fff"/><circle cx="741.5" cy="1035.3" r="5.5" fill="#fff"/><circle cx="788.3" cy="1033" r="5.7" fill="#fff"/><circle cx="776.2" cy="1033.8" r="5.5" fill="#fff"/><circle cx="773.8" cy="1035.4" r="6.4" fill="#fff"/><circle cx="798.5" cy="1036.9" r="4.3" fill="#fff"/><circle cx="813.1" cy="1039.8" r="4.3" fill="#fff"/><circle cx="817.7" cy="1041" r="4.2" fill="#fff"/><circle cx="835.2" cy="1041" r="4.2" fill="#fff"/><circle cx="838.6" cy="1039.4" r="5" fill="#fff"/><circle cx="824.6" cy="1043.3" r="5.7" fill="#fff"/><circle cx="870.4" cy="1035.7" r="5.3" fill="#fff"/><circle cx="876.8" cy="1032.6" r="5.5" fill="#fff"/><circle cx="874.8" cy="1036.7" r="5.6" fill="#fff"/><circle cx="911.7" cy="1027.1" r="5.2" fill="#fff"/><circle cx="892.5" cy="1034.2" r="3.8" fill="#fff"/><circle cx="898.8" cy="1028.1" r="6.1" fill="#fff"/><circle cx="926.3" cy="1024" r="5.6" fill="#fff"/><circle cx="919" cy="1025.9" r="6.2" fill="#fff"/><circle cx="935.4" cy="1028.9" r="4" fill="#fff"/></g><g filter="url(#bl3)"><circle cx="843.2" cy="1021.2" r="3.2" fill="#fff"/><circle cx="759.4" cy="1017.4" r="2.5" fill="#fff"/><circle cx="807.8" cy="1054" r="2.8" fill="#fff"/><circle cx="871.2" cy="1055.5" r="2.8" fill="#fff"/><circle cx="819" cy="1033.1" r="3.5" fill="#fff"/><circle cx="725.8" cy="1041.7" r="4.2" fill="#fff"/><circle cx="930.8" cy="1019.3" r="3.2" fill="#fff"/><circle cx="897.3" cy="1024.9" r="2.8" fill="#fff"/><circle cx="939.8" cy="1011.7" r="1.8" fill="#fff" opacity="0.39"/><circle cx="825.7" cy="1065.8" r="1.1" fill="#fff" opacity="0.21"/><circle cx="775.9" cy="1058.5" r="0.9" fill="#fff" opacity="0.29"/><circle cx="712.2" cy="1002.9" r="1.2" fill="#fff" opacity="0.39"/><circle cx="924.9" cy="1045" r="2" fill="#fff" opacity="0.38"/><circle cx="943.1" cy="1042.5" r="1.9" fill="#fff" opacity="0.33"/><circle cx="934.4" cy="1064.3" r="1" fill="#fff" opacity="0.20"/><circle cx="760.9" cy="1042.6" r="1.2" fill="#fff" opacity="0.39"/><circle cx="806.3" cy="1013.4" r="1" fill="#fff" opacity="0.26"/><circle cx="743.5" cy="1060.9" r="1.8" fill="#fff" opacity="0.36"/><circle cx="947.3" cy="1016.4" r="1.1" fill="#fff" opacity="0.17"/><circle cx="714.3" cy="1053.9" r="1.2" fill="#fff" opacity="0.34"/><circle cx="739.5" cy="1029.3" r="0.9" fill="#fff" opacity="0.18"/><circle cx="928.7" cy="1011.6" r="1.7" fill="#fff" opacity="0.30"/><circle cx="838.5" cy="996.8" r="1.1" fill="#fff" opacity="0.21"/><circle cx="897.8" cy="1033" r="0.9" fill="#fff" opacity="0.22"/><circle cx="884.2" cy="1047.8" r="1.1" fill="#fff" opacity="0.19"/><circle cx="809.8" cy="1011.5" r="1.4" fill="#fff" opacity="0.17"/><circle cx="815.1" cy="1020.8" r="2" fill="#fff" opacity="0.26"/><circle cx="821.4" cy="1065.8" r="1.3" fill="#fff" opacity="0.19"/><circle cx="760.1" cy="1056.2" r="1.8" fill="#fff" opacity="0.22"/><circle cx="840.4" cy="1061.3" r="1.6" fill="#fff" opacity="0.39"/><circle cx="770.8" cy="1067.5" r="0.9" fill="#fff" opacity="0.31"/><circle cx="717.4" cy="1047.6" r="0.8" fill="#fff" opacity="0.25"/><circle cx="875.3" cy="997.2" r="1" fill="#fff" opacity="0.22"/><circle cx="752.5" cy="1028.1" r="0.9" fill="#fff" opacity="0.33"/><circle cx="901.3" cy="1040.6" r="1.6" fill="#fff" opacity="0.30"/><circle cx="811" cy="999.1" r="1.8" fill="#fff" opacity="0.39"/><circle cx="854" cy="1045.5" r="1.3" fill="#fff" opacity="0.28"/><circle cx="883.7" cy="1006.5" r="1.6" fill="#fff" opacity="0.28"/><circle cx="772.4" cy="1059.3" r="2" fill="#fff" opacity="0.24"/><circle cx="777.3" cy="1033.3" r="1.7" fill="#fff" opacity="0.34"/><circle cx="790.5" cy="1031.1" r="0.8" fill="#fff" opacity="0.20"/><circle cx="810.6" cy="1014.1" r="1.8" fill="#fff" opacity="0.30"/><circle cx="918.5" cy="1037.9" r="1.8" fill="#fff" opacity="0.20"/><circle cx="897.5" cy="1031.7" r="1.1" fill="#fff" opacity="0.16"/><circle cx="865.7" cy="1012.8" r="2" fill="#fff" opacity="0.17"/><circle cx="907.1" cy="1022.2" r="2" fill="#fff" opacity="0.30"/><circle cx="922.6" cy="1038.3" r="1.4" fill="#fff" opacity="0.15"/><circle cx="879.2" cy="1025.6" r="1.3" fill="#fff" opacity="0.30"/></g></g>
<rect x="461.9" y="1153.9" width="237.8" height="74.5" fill="#000"/>
<clipPath id="mc6"><rect x="461.9" y="1153.9" width="237.8" height="74.5"/></clipPath>
<g clip-path="url(#mc6)"><g filter="url(#bl2)" opacity="0.45"><path d="M457 1177.7 487.3 1183.3 513.4 1187 539.5 1190.8 565.5 1192.6 591.6 1188.9 614 1194.5 636.4 1192.6 662.4 1187 684.8 1181.4 702 1179.6" fill="none" stroke="#fff" stroke-width="7.3" stroke-linejoin="round"/></g><g filter="url(#bl)"><path d="M457 1177.7 487.3 1183.3 513.4 1187 539.5 1190.8 565.5 1192.6 591.6 1188.9 614 1194.5 636.4 1192.6 662.4 1187 684.8 1181.4 702 1179.6" fill="none" stroke="#fff" stroke-width="4.4" stroke-linejoin="round"/><circle cx="464.5" cy="1180.8" r="3.4" fill="#fff"/><circle cx="473" cy="1179.9" r="3.6" fill="#fff"/><circle cx="478.4" cy="1182.1" r="3.4" fill="#fff"/><circle cx="502.6" cy="1185.7" r="3.8" fill="#fff"/><circle cx="510.2" cy="1184.9" r="2.3" fill="#fff"/><circle cx="500.3" cy="1185.7" r="2.8" fill="#fff"/><circle cx="524" cy="1189.9" r="3.4" fill="#fff"/><circle cx="521.2" cy="1188.1" r="3.2" fill="#fff"/><circle cx="520.9" cy="1187.5" r="2.8" fill="#fff"/><circle cx="560.7" cy="1190.7" r="3.4" fill="#fff"/><circle cx="560.1" cy="1190" r="2.9" fill="#fff"/><circle cx="549.6" cy="1191.2" r="2.2" fill="#fff"/><circle cx="571.9" cy="1192.1" r="2.6" fill="#fff"/><circle cx="589.5" cy="1188.5" r="2.6" fill="#fff"/><circle cx="577.4" cy="1191.3" r="2.6" fill="#fff"/><circle cx="601.3" cy="1189.5" r="2.8" fill="#fff"/><circle cx="604.5" cy="1191.7" r="3.5" fill="#fff"/><circle cx="602.7" cy="1191.1" r="3.1" fill="#fff"/><circle cx="630.1" cy="1193.5" r="3.8" fill="#fff"/><circle cx="617" cy="1195.8" r="2.3" fill="#fff"/><circle cx="623" cy="1192.5" r="3.7" fill="#fff"/><circle cx="643.8" cy="1189.3" r="2.8" fill="#fff"/><circle cx="654" cy="1190.3" r="3.2" fill="#fff"/><circle cx="658.7" cy="1187.6" r="2.6" fill="#fff"/><circle cx="665.8" cy="1186.5" r="3.7" fill="#fff"/><circle cx="676.4" cy="1183.2" r="3.8" fill="#fff"/><circle cx="677" cy="1183.8" r="3.5" fill="#fff"/><circle cx="699.3" cy="1181.2" r="3.3" fill="#fff"/><circle cx="689.1" cy="1181.9" r="2.9" fill="#fff"/><circle cx="698.6" cy="1180.2" r="3.3" fill="#fff"/></g><g filter="url(#bl3)"><circle cx="527.5" cy="1172.1" r="3.2" fill="#fff"/><circle cx="541.3" cy="1175.8" r="3.2" fill="#fff"/><circle cx="673.6" cy="1201.9" r="3.2" fill="#fff"/><circle cx="619.6" cy="1203.8" r="3.2" fill="#fff"/><circle cx="576.7" cy="1212.4" r="2.8" fill="#fff"/><circle cx="692.3" cy="1185.9" r="4.6" fill="#fff"/><circle cx="677.4" cy="1188.9" r="3.9" fill="#fff"/><circle cx="505.9" cy="1174" r="2.5" fill="#fff"/><circle cx="629.9" cy="1219.4" r="1.7" fill="#fff" opacity="0.30"/><circle cx="664.2" cy="1158.3" r="1.5" fill="#fff" opacity="0.29"/><circle cx="579.2" cy="1218.2" r="1.6" fill="#fff" opacity="0.28"/><circle cx="530.1" cy="1160.4" r="0.8" fill="#fff" opacity="0.36"/><circle cx="537.4" cy="1190.3" r="1.3" fill="#fff" opacity="0.35"/><circle cx="525.3" cy="1171.6" r="0.9" fill="#fff" opacity="0.36"/><circle cx="697" cy="1176.1" r="1.5" fill="#fff" opacity="0.25"/><circle cx="612.4" cy="1162.8" r="1" fill="#fff" opacity="0.22"/><circle cx="470.4" cy="1158.6" r="1.7" fill="#fff" opacity="0.33"/><circle cx="634.5" cy="1178.5" r="1.6" fill="#fff" opacity="0.18"/><circle cx="579.1" cy="1224.4" r="1.4" fill="#fff" opacity="0.23"/><circle cx="699.4" cy="1176.6" r="1.2" fill="#fff" opacity="0.37"/><circle cx="697.3" cy="1184.2" r="0.9" fill="#fff" opacity="0.24"/><circle cx="576.6" cy="1215.3" r="0.9" fill="#fff" opacity="0.33"/><circle cx="523.2" cy="1182.5" r="1" fill="#fff" opacity="0.15"/><circle cx="521.1" cy="1182.8" r="1.3" fill="#fff" opacity="0.16"/><circle cx="542" cy="1203.6" r="1.5" fill="#fff" opacity="0.17"/><circle cx="666.6" cy="1176.1" r="1.7" fill="#fff" opacity="0.29"/><circle cx="582.4" cy="1205.3" r="1.6" fill="#fff" opacity="0.32"/><circle cx="682.4" cy="1157.5" r="1.5" fill="#fff" opacity="0.18"/><circle cx="672.6" cy="1225" r="1.4" fill="#fff" opacity="0.28"/><circle cx="505.8" cy="1165.7" r="0.9" fill="#fff" opacity="0.17"/><circle cx="688.5" cy="1164.5" r="0.9" fill="#fff" opacity="0.31"/><circle cx="636.2" cy="1165.1" r="1.3" fill="#fff" opacity="0.17"/><circle cx="609.2" cy="1194.5" r="1.9" fill="#fff" opacity="0.40"/><circle cx="606.9" cy="1224.8" r="1.6" fill="#fff" opacity="0.26"/><circle cx="485.6" cy="1160.4" r="0.8" fill="#fff" opacity="0.17"/><circle cx="692.3" cy="1187.2" r="1.6" fill="#fff" opacity="0.21"/><circle cx="585.2" cy="1202.2" r="1.5" fill="#fff" opacity="0.21"/><circle cx="522.3" cy="1198.8" r="1.5" fill="#fff" opacity="0.29"/><circle cx="671.8" cy="1171.2" r="1.1" fill="#fff" opacity="0.23"/><circle cx="547.9" cy="1176" r="1.3" fill="#fff" opacity="0.15"/><circle cx="581.8" cy="1207.4" r="0.9" fill="#fff" opacity="0.34"/><circle cx="472.3" cy="1224.6" r="1.4" fill="#fff" opacity="0.20"/><circle cx="550.7" cy="1191.9" r="1.6" fill="#fff" opacity="0.24"/><circle cx="562" cy="1217.8" r="1" fill="#fff" opacity="0.31"/><circle cx="465.1" cy="1197.6" r="1.4" fill="#fff" opacity="0.20"/><circle cx="534.1" cy="1199.1" r="1.6" fill="#fff" opacity="0.31"/><circle cx="513.1" cy="1182.5" r="0.9" fill="#fff" opacity="0.16"/><circle cx="543.3" cy="1202.1" r="1.6" fill="#fff" opacity="0.23"/></g></g>
<rect x="712" y="1153.9" width="236.7" height="74.5" fill="#000"/>
<clipPath id="mc7"><rect x="712" y="1153.9" width="236.7" height="74.5"/></clipPath>
<g clip-path="url(#mc7)"><g filter="url(#bl2)" opacity="0.45"><path d="M708.6 1196.3 740.7 1192.6 770.5 1193.4 800.4 1195.6 830.2 1198.2 860 1196.3 889.8 1192.6 915.9 1187 953.6 1181.4" fill="none" stroke="#fff" stroke-width="10.4" stroke-linejoin="round"/></g><g filter="url(#bl)"><path d="M708.6 1196.3 740.7 1192.6 770.5 1193.4 800.4 1195.6 830.2 1198.2 860 1196.3 889.8 1192.6 915.9 1187 953.6 1181.4" fill="none" stroke="#fff" stroke-width="6.3" stroke-linejoin="round"/><circle cx="713.9" cy="1194.2" r="5" fill="#fff"/><circle cx="738.7" cy="1191.8" r="4.1" fill="#fff"/><circle cx="714.3" cy="1196.7" r="3.5" fill="#fff"/><circle cx="743.8" cy="1193.4" r="3.9" fill="#fff"/><circle cx="753.7" cy="1191" r="4.4" fill="#fff"/><circle cx="764.6" cy="1193.8" r="5" fill="#fff"/><circle cx="773.6" cy="1194.5" r="3.4" fill="#fff"/><circle cx="786" cy="1196.2" r="4.6" fill="#fff"/><circle cx="795" cy="1195.9" r="5.2" fill="#fff"/><circle cx="811.3" cy="1197.2" r="4.9" fill="#fff"/><circle cx="829.6" cy="1197.7" r="4" fill="#fff"/><circle cx="827.5" cy="1199.4" r="3.7" fill="#fff"/><circle cx="849.6" cy="1198.7" r="4.3" fill="#fff"/><circle cx="846" cy="1196.8" r="5.2" fill="#fff"/><circle cx="830.3" cy="1197.5" r="5.4" fill="#fff"/><circle cx="878" cy="1193.3" r="5" fill="#fff"/><circle cx="880.9" cy="1195.2" r="3.8" fill="#fff"/><circle cx="865.4" cy="1196.6" r="5.3" fill="#fff"/><circle cx="893.9" cy="1192.7" r="3.3" fill="#fff"/><circle cx="893.6" cy="1192.3" r="4.4" fill="#fff"/><circle cx="901.4" cy="1189.7" r="3.4" fill="#fff"/><circle cx="953.4" cy="1180.2" r="3.4" fill="#fff"/><circle cx="931.1" cy="1184.3" r="3.7" fill="#fff"/><circle cx="917.6" cy="1187.8" r="4.7" fill="#fff"/></g><g filter="url(#bl3)"><circle cx="751.9" cy="1181.4" r="3.2" fill="#fff"/><circle cx="744.4" cy="1203.8" r="3.5" fill="#fff"/><circle cx="822.7" cy="1188.9" r="3.5" fill="#fff"/><circle cx="833.9" cy="1188.1" r="3.5" fill="#fff"/><circle cx="914" cy="1179.6" r="3.5" fill="#fff"/><circle cx="927.1" cy="1174" r="3.5" fill="#fff"/><circle cx="942" cy="1172.1" r="3.9" fill="#fff"/><circle cx="824.6" cy="1209.4" r="3.2" fill="#fff"/><circle cx="902.9" cy="1208.3" r="3.2" fill="#fff"/><circle cx="719.1" cy="1199.3" r="4.6" fill="#fff"/><circle cx="867.4" cy="1188.9" r="2.8" fill="#fff"/><circle cx="792.9" cy="1187" r="2.8" fill="#fff"/><circle cx="768.7" cy="1172.2" r="1" fill="#fff" opacity="0.30"/><circle cx="747.7" cy="1172.9" r="1.4" fill="#fff" opacity="0.29"/><circle cx="759" cy="1207.5" r="1.2" fill="#fff" opacity="0.20"/><circle cx="779.8" cy="1197.7" r="1.4" fill="#fff" opacity="0.24"/><circle cx="846.9" cy="1198.8" r="1.1" fill="#fff" opacity="0.39"/><circle cx="736" cy="1168.9" r="1" fill="#fff" opacity="0.16"/><circle cx="774.6" cy="1166.9" r="0.9" fill="#fff" opacity="0.19"/><circle cx="917.5" cy="1210" r="1.3" fill="#fff" opacity="0.36"/><circle cx="786" cy="1198.4" r="1.4" fill="#fff" opacity="0.27"/><circle cx="726.5" cy="1228.2" r="1" fill="#fff" opacity="0.22"/><circle cx="866.9" cy="1155.5" r="1.2" fill="#fff" opacity="0.24"/><circle cx="858.6" cy="1159.7" r="0.9" fill="#fff" opacity="0.28"/><circle cx="905.3" cy="1175.7" r="1.4" fill="#fff" opacity="0.27"/><circle cx="894.2" cy="1227.7" r="1" fill="#fff" opacity="0.26"/><circle cx="868.1" cy="1211.7" r="1.9" fill="#fff" opacity="0.33"/><circle cx="824.3" cy="1220.4" r="1.9" fill="#fff" opacity="0.19"/><circle cx="738.2" cy="1184.6" r="1.5" fill="#fff" opacity="0.38"/><circle cx="923.3" cy="1204.4" r="0.9" fill="#fff" opacity="0.19"/><circle cx="727.9" cy="1160.9" r="1.3" fill="#fff" opacity="0.30"/><circle cx="753.8" cy="1197.9" r="2" fill="#fff" opacity="0.25"/><circle cx="930.5" cy="1155.3" r="1.6" fill="#fff" opacity="0.21"/><circle cx="717.9" cy="1202.6" r="1.8" fill="#fff" opacity="0.25"/><circle cx="872.5" cy="1160.9" r="1.9" fill="#fff" opacity="0.17"/><circle cx="753.3" cy="1184.5" r="1" fill="#fff" opacity="0.31"/><circle cx="807.5" cy="1196.6" r="1.2" fill="#fff" opacity="0.34"/><circle cx="865.7" cy="1160.8" r="2" fill="#fff" opacity="0.28"/><circle cx="802.7" cy="1194.6" r="0.9" fill="#fff" opacity="0.23"/><circle cx="819" cy="1192.7" r="1.6" fill="#fff" opacity="0.24"/><circle cx="712.1" cy="1175.9" r="1.5" fill="#fff" opacity="0.34"/><circle cx="814.8" cy="1226.4" r="1.2" fill="#fff" opacity="0.23"/><circle cx="776.4" cy="1226.2" r="1.8" fill="#fff" opacity="0.15"/><circle cx="819.5" cy="1190.6" r="0.9" fill="#fff" opacity="0.32"/><circle cx="797.3" cy="1219.5" r="1.2" fill="#fff" opacity="0.16"/><circle cx="825.6" cy="1184" r="0.8" fill="#fff" opacity="0.18"/><circle cx="918.4" cy="1224.3" r="1.2" fill="#fff" opacity="0.15"/><circle cx="848.5" cy="1187.2" r="1.9" fill="#fff" opacity="0.39"/><circle cx="785.4" cy="1219.3" r="1.7" fill="#fff" opacity="0.29"/><circle cx="808.7" cy="1179.9" r="1.8" fill="#fff" opacity="0.24"/><circle cx="819" cy="1160.7" r="1.6" fill="#fff" opacity="0.22"/><circle cx="775.7" cy="1213.6" r="1.3" fill="#fff" opacity="0.32"/></g></g>
<text transform="translate(608.87,637.27) scale(0.9710,1)" font-size="27" font-weight="bold">Apical dendrite</text>
<text transform="translate(644.92,796.79) scale(0.9259,1)" font-size="27" font-weight="bold">1st branch</text>
<text transform="translate(639.95,955.20) scale(0.9281,1)" font-size="27" font-weight="bold">2nd branch</text>
<text transform="translate(619.08,1116.21) scale(0.9230,1)" font-size="27" font-weight="bold">Basal dendrite</text>
<rect x="463.7" y="645.3" width="236.5" height="30.8" fill="#fff" stroke="#3a3634" stroke-width="2.6"/>
<text transform="translate(511.18,667.83) scale(1.0103,1)" font-size="27">No seizures</text>
<rect x="716.8" y="645.3" width="236.9" height="30.8" fill="#fff" stroke="#3a3634" stroke-width="2.6"/>
<text transform="translate(779.74,667.83) scale(1.0145,1)" font-size="27" style="fill:#e20a17">Seizures</text>
<rect x="463" y="805.5" width="235.8" height="30" fill="#fff" stroke="#3a3634" stroke-width="2.6"/>
<text transform="translate(511.18,828.10) scale(1.0103,1)" font-size="27">No seizures</text>
<rect x="713.8" y="805.5" width="234.7" height="30" fill="#fff" stroke="#3a3634" stroke-width="2.6"/>
<text transform="translate(781.61,827.36) scale(1.0109,1)" font-size="27" style="fill:#e20a17">Seizures</text>
<rect x="462.6" y="962.1" width="235.8" height="30.4" fill="#fff" stroke="#3a3634" stroke-width="2.6"/>
<text transform="translate(511.18,983.90) scale(1.0103,1)" font-size="27">No seizures</text>
<rect x="713.1" y="962.1" width="234.7" height="30.4" fill="#fff" stroke="#3a3634" stroke-width="2.6"/>
<text transform="translate(782.72,983.90) scale(1.0145,1)" font-size="27" style="fill:#e20a17">Seizures</text>
<rect x="462.6" y="1122.4" width="235.8" height="29.7" fill="#fff" stroke="#3a3634" stroke-width="2.6"/>
<text transform="translate(511.18,1144.91) scale(1.0103,1)" font-size="27">No seizures</text>
<rect x="713.1" y="1122.4" width="234.7" height="29.7" fill="#fff" stroke="#3a3634" stroke-width="2.6"/>
<text transform="translate(782.72,1144.91) scale(1.0145,1)" font-size="27" style="fill:#e20a17">Seizures</text>
<rect x="1062.8" y="996" width="20.2" height="207.7" fill="#e6e6e6" stroke="#808080" stroke-width="2.4"/>
<rect x="1095.2" y="932.8" width="20.2" height="270.9" fill="#ffd0d0" stroke="#ff0000" stroke-width="2.4"/>
<rect x="1137.6" y="953.6" width="20.2" height="250.1" fill="#e6e6e6" stroke="#808080" stroke-width="2.4"/>
<rect x="1170" y="914.7" width="20.2" height="289" fill="#ffd0d0" stroke="#ff0000" stroke-width="2.4"/>
<rect x="1212.5" y="1006.8" width="20.2" height="196.9" fill="#e6e6e6" stroke="#808080" stroke-width="2.4"/>
<rect x="1244.9" y="965.3" width="20.2" height="238.4" fill="#ffd0d0" stroke="#ff0000" stroke-width="2.4"/>
<rect x="1287.3" y="1001.4" width="20.2" height="202.3" fill="#e6e6e6" stroke="#808080" stroke-width="2.4"/>
<rect x="1319.7" y="981.6" width="20.2" height="222.1" fill="#ffd0d0" stroke="#ff0000" stroke-width="2.4"/>
<g fill="#5a5a5a"><circle cx="1072.9" cy="860.6" r="2.6"/><circle cx="1072.9" cy="896.7" r="2.6"/><circle cx="1072.9" cy="914.7" r="2.6"/><circle cx="1072.9" cy="932.8" r="2.6"/><circle cx="1072.9" cy="950.9" r="2.6"/><circle cx="1069.7" cy="987" r="2.6"/><circle cx="1076" cy="987" r="2.6"/><circle cx="1066.6" cy="1023.1" r="2.6"/><circle cx="1072.9" cy="1023.1" r="2.6"/><circle cx="1079.2" cy="1023.1" r="2.6"/><circle cx="1072.9" cy="1041.2" r="2.6"/><circle cx="1072.9" cy="1059.2" r="2.6"/><circle cx="1072.9" cy="1095.3" r="2.6"/><circle cx="1072.9" cy="1131.5" r="2.6"/><circle cx="1147.7" cy="824.4" r="2.6"/><circle cx="1147.7" cy="842.5" r="2.6"/><circle cx="1147.7" cy="878.6" r="2.6"/><circle cx="1147.7" cy="896.7" r="2.6"/><circle cx="1147.7" cy="914.7" r="2.6"/><circle cx="1138.2" cy="932.8" r="2.6"/><circle cx="1143" cy="932.8" r="2.6"/><circle cx="1147.7" cy="932.8" r="2.6"/><circle cx="1152.5" cy="932.8" r="2.6"/><circle cx="1157.2" cy="932.8" r="2.6"/><circle cx="1144.6" cy="950.9" r="2.6"/><circle cx="1150.9" cy="950.9" r="2.6"/><circle cx="1144.6" cy="968.9" r="2.6"/><circle cx="1150.9" cy="968.9" r="2.6"/><circle cx="1138.3" cy="987" r="2.6"/><circle cx="1144.6" cy="987" r="2.6"/><circle cx="1150.9" cy="987" r="2.6"/><circle cx="1157.2" cy="987" r="2.6"/><circle cx="1141.4" cy="1005" r="2.6"/><circle cx="1147.7" cy="1005" r="2.6"/><circle cx="1154" cy="1005" r="2.6"/><circle cx="1141.4" cy="1023.1" r="2.6"/><circle cx="1147.7" cy="1023.1" r="2.6"/><circle cx="1154" cy="1023.1" r="2.6"/><circle cx="1147.7" cy="1059.2" r="2.6"/><circle cx="1222.6" cy="914.7" r="2.6"/><circle cx="1222.6" cy="932.8" r="2.6"/><circle cx="1222.6" cy="950.9" r="2.6"/><circle cx="1219.4" cy="968.9" r="2.6"/><circle cx="1225.7" cy="968.9" r="2.6"/><circle cx="1222.6" cy="987" r="2.6"/><circle cx="1213.1" cy="1005" r="2.6"/><circle cx="1217.8" cy="1005" r="2.6"/><circle cx="1222.6" cy="1005" r="2.6"/><circle cx="1227.3" cy="1005" r="2.6"/><circle cx="1232.1" cy="1005" r="2.6"/><circle cx="1222.6" cy="1023.1" r="2.6"/><circle cx="1219.4" cy="1041.2" r="2.6"/><circle cx="1225.7" cy="1041.2" r="2.6"/><circle cx="1219.4" cy="1059.2" r="2.6"/><circle cx="1225.7" cy="1059.2" r="2.6"/><circle cx="1222.6" cy="1077.3" r="2.6"/><circle cx="1222.6" cy="1095.3" r="2.6"/><circle cx="1297.4" cy="896.7" r="2.6"/><circle cx="1291.1" cy="932.8" r="2.6"/><circle cx="1297.4" cy="932.8" r="2.6"/><circle cx="1303.7" cy="932.8" r="2.6"/><circle cx="1291.1" cy="950.9" r="2.6"/><circle cx="1297.4" cy="950.9" r="2.6"/><circle cx="1303.7" cy="950.9" r="2.6"/><circle cx="1297.4" cy="968.9" r="2.6"/><circle cx="1294.2" cy="987" r="2.6"/><circle cx="1300.5" cy="987" r="2.6"/><circle cx="1291.1" cy="1023.1" r="2.6"/><circle cx="1297.4" cy="1023.1" r="2.6"/><circle cx="1303.7" cy="1023.1" r="2.6"/><circle cx="1297.4" cy="1041.2" r="2.6"/><circle cx="1287.9" cy="1059.2" r="2.6"/><circle cx="1294.2" cy="1059.2" r="2.6"/><circle cx="1300.5" cy="1059.2" r="2.6"/><circle cx="1306.8" cy="1059.2" r="2.6"/><circle cx="1297.4" cy="1077.3" r="2.6"/><circle cx="1297.4" cy="1095.3" r="2.6"/></g>
<g fill="#ff4048"><circle cx="1105.3" cy="770.3" r="2.6"/><circle cx="1099" cy="806.4" r="2.6"/><circle cx="1105.3" cy="806.4" r="2.6"/><circle cx="1111.6" cy="806.4" r="2.6"/><circle cx="1102.2" cy="842.5" r="2.6"/><circle cx="1108.5" cy="842.5" r="2.6"/><circle cx="1105.3" cy="878.6" r="2.6"/><circle cx="1102.2" cy="896.7" r="2.6"/><circle cx="1108.5" cy="896.7" r="2.6"/><circle cx="1102.2" cy="932.8" r="2.6"/><circle cx="1108.5" cy="932.8" r="2.6"/><circle cx="1105.3" cy="950.9" r="2.6"/><circle cx="1105.3" cy="968.9" r="2.6"/><circle cx="1095.8" cy="987" r="2.6"/><circle cx="1100.6" cy="987" r="2.6"/><circle cx="1105.3" cy="987" r="2.6"/><circle cx="1110.1" cy="987" r="2.6"/><circle cx="1114.8" cy="987" r="2.6"/><circle cx="1105.3" cy="1005" r="2.6"/><circle cx="1105.3" cy="1023.1" r="2.6"/><circle cx="1105.3" cy="1041.2" r="2.6"/><circle cx="1105.3" cy="1059.2" r="2.6"/><circle cx="1105.3" cy="1095.3" r="2.6"/><circle cx="1177" cy="734.1" r="2.6"/><circle cx="1183.3" cy="734.1" r="2.6"/><circle cx="1180.1" cy="770.3" r="2.6"/><circle cx="1177" cy="824.4" r="2.6"/><circle cx="1183.3" cy="824.4" r="2.6"/><circle cx="1170.7" cy="842.5" r="2.6"/><circle cx="1177" cy="842.5" r="2.6"/><circle cx="1183.3" cy="842.5" r="2.6"/><circle cx="1189.6" cy="842.5" r="2.6"/><circle cx="1180.1" cy="860.6" r="2.6"/><circle cx="1177" cy="878.6" r="2.6"/><circle cx="1183.3" cy="878.6" r="2.6"/><circle cx="1173.8" cy="896.7" r="2.6"/><circle cx="1180.1" cy="896.7" r="2.6"/><circle cx="1186.4" cy="896.7" r="2.6"/><circle cx="1177" cy="914.7" r="2.6"/><circle cx="1183.3" cy="914.7" r="2.6"/><circle cx="1177" cy="932.8" r="2.6"/><circle cx="1183.3" cy="932.8" r="2.6"/><circle cx="1173.8" cy="950.9" r="2.6"/><circle cx="1180.1" cy="950.9" r="2.6"/><circle cx="1186.4" cy="950.9" r="2.6"/><circle cx="1170.6" cy="987" r="2.6"/><circle cx="1174.4" cy="987" r="2.6"/><circle cx="1178.2" cy="987" r="2.6"/><circle cx="1182" cy="987" r="2.6"/><circle cx="1185.8" cy="987" r="2.6"/><circle cx="1189.6" cy="987" r="2.6"/><circle cx="1170.7" cy="1023.1" r="2.6"/><circle cx="1177" cy="1023.1" r="2.6"/><circle cx="1183.3" cy="1023.1" r="2.6"/><circle cx="1189.6" cy="1023.1" r="2.6"/><circle cx="1180.1" cy="1041.2" r="2.6"/><circle cx="1255" cy="770.3" r="2.6"/><circle cx="1255" cy="824.4" r="2.6"/><circle cx="1255" cy="860.6" r="2.6"/><circle cx="1251.8" cy="896.7" r="2.6"/><circle cx="1258.1" cy="896.7" r="2.6"/><circle cx="1248.7" cy="914.7" r="2.6"/><circle cx="1255" cy="914.7" r="2.6"/><circle cx="1261.3" cy="914.7" r="2.6"/><circle cx="1245.5" cy="932.8" r="2.6"/><circle cx="1249.3" cy="932.8" r="2.6"/><circle cx="1253.1" cy="932.8" r="2.6"/><circle cx="1256.9" cy="932.8" r="2.6"/><circle cx="1260.7" cy="932.8" r="2.6"/><circle cx="1264.5" cy="932.8" r="2.6"/><circle cx="1251.8" cy="950.9" r="2.6"/><circle cx="1258.1" cy="950.9" r="2.6"/><circle cx="1251.8" cy="968.9" r="2.6"/><circle cx="1258.1" cy="968.9" r="2.6"/><circle cx="1245.5" cy="987" r="2.6"/><circle cx="1249.3" cy="987" r="2.6"/><circle cx="1253.1" cy="987" r="2.6"/><circle cx="1256.9" cy="987" r="2.6"/><circle cx="1260.7" cy="987" r="2.6"/><circle cx="1264.5" cy="987" r="2.6"/><circle cx="1251.8" cy="1005" r="2.6"/><circle cx="1258.1" cy="1005" r="2.6"/><circle cx="1251.8" cy="1023.1" r="2.6"/><circle cx="1258.1" cy="1023.1" r="2.6"/><circle cx="1245.5" cy="1041.2" r="2.6"/><circle cx="1250.2" cy="1041.2" r="2.6"/><circle cx="1255" cy="1041.2" r="2.6"/><circle cx="1259.7" cy="1041.2" r="2.6"/><circle cx="1264.5" cy="1041.2" r="2.6"/><circle cx="1255" cy="1059.2" r="2.6"/><circle cx="1255" cy="1095.3" r="2.6"/><circle cx="1329.8" cy="860.6" r="2.6"/><circle cx="1329.8" cy="878.6" r="2.6"/><circle cx="1326.7" cy="896.7" r="2.6"/><circle cx="1333" cy="896.7" r="2.6"/><circle cx="1323.5" cy="914.7" r="2.6"/><circle cx="1329.8" cy="914.7" r="2.6"/><circle cx="1336.1" cy="914.7" r="2.6"/><circle cx="1320.4" cy="932.8" r="2.6"/><circle cx="1326.7" cy="932.8" r="2.6"/><circle cx="1333" cy="932.8" r="2.6"/><circle cx="1339.3" cy="932.8" r="2.6"/><circle cx="1323.5" cy="950.9" r="2.6"/><circle cx="1329.8" cy="950.9" r="2.6"/><circle cx="1336.1" cy="950.9" r="2.6"/><circle cx="1320.4" cy="968.9" r="2.6"/><circle cx="1326.7" cy="968.9" r="2.6"/><circle cx="1333" cy="968.9" r="2.6"/><circle cx="1339.3" cy="968.9" r="2.6"/><circle cx="1326.7" cy="987" r="2.6"/><circle cx="1333" cy="987" r="2.6"/><circle cx="1323.5" cy="1005" r="2.6"/><circle cx="1329.8" cy="1005" r="2.6"/><circle cx="1336.1" cy="1005" r="2.6"/><circle cx="1326.7" cy="1023.1" r="2.6"/><circle cx="1333" cy="1023.1" r="2.6"/><circle cx="1320.3" cy="1041.2" r="2.6"/><circle cx="1324.1" cy="1041.2" r="2.6"/><circle cx="1327.9" cy="1041.2" r="2.6"/><circle cx="1331.7" cy="1041.2" r="2.6"/><circle cx="1335.5" cy="1041.2" r="2.6"/><circle cx="1339.3" cy="1041.2" r="2.6"/><circle cx="1323.5" cy="1059.2" r="2.6"/><circle cx="1329.8" cy="1059.2" r="2.6"/><circle cx="1336.1" cy="1059.2" r="2.6"/><circle cx="1326.7" cy="1077.3" r="2.6"/><circle cx="1333" cy="1077.3" r="2.6"/></g>
<path d="M1072.9 974.5V1016.1M1066.7 974.5h12.4M1066.7 1016.1h12.4M1105.3 913.1V950.3M1099.1 913.1h12.4M1099.1 950.3h12.4M1147.7 940.2V965.8M1141.5 940.2h12.4M1141.5 965.8h12.4M1180.1 900.7V928.5M1173.9 900.7h12.4M1173.9 928.5h12.4M1222.6 998V1018.6M1216.4 998h12.4M1216.4 1018.6h12.4M1255 954.3V976.1M1248.8 954.3h12.4M1248.8 976.1h12.4M1297.4 987.7V1013.5M1291.2 987.7h12.4M1291.2 1013.5h12.4M1329.8 971.4V990.8M1323.6 971.4h12.4M1323.6 990.8h12.4" stroke="#1a1a1a" stroke-width="1.5" fill="none"/>
<line x1="1049.8" y1="696.6" x2="1049.8" y2="1205.1" stroke="#1a1a1a" stroke-width="2.8"/>
<line x1="1041.6" y1="1203.7" x2="1356" y2="1203.7" stroke="#1a1a1a" stroke-width="2.8"/>
<text transform="translate(1021.48,1212.70) scale(1.0000,1)" font-size="26">0</text>
<line x1="1041.6" y1="1131.5" x2="1049.8" y2="1131.5" stroke="#1a1a1a" stroke-width="2.8"/>
<text transform="translate(1021.35,1140.46) scale(1.0000,1)" font-size="26">4</text>
<line x1="1041.6" y1="1059.2" x2="1049.8" y2="1059.2" stroke="#1a1a1a" stroke-width="2.8"/>
<text transform="translate(1021.61,1068.22) scale(1.0000,1)" font-size="26">8</text>
<line x1="1041.6" y1="987" x2="1049.8" y2="987" stroke="#1a1a1a" stroke-width="2.8"/>
<text transform="translate(1007.44,995.98) scale(1.0000,1)" font-size="26">12</text>
<line x1="1041.6" y1="914.7" x2="1049.8" y2="914.7" stroke="#1a1a1a" stroke-width="2.8"/>
<text transform="translate(1007.18,923.74) scale(1.0000,1)" font-size="26">16</text>
<line x1="1041.6" y1="842.5" x2="1049.8" y2="842.5" stroke="#1a1a1a" stroke-width="2.8"/>
<text transform="translate(1007.05,851.50) scale(1.0000,1)" font-size="26">20</text>
<line x1="1041.6" y1="770.3" x2="1049.8" y2="770.3" stroke="#1a1a1a" stroke-width="2.8"/>
<text transform="translate(1006.92,779.26) scale(1.0000,1)" font-size="26">24</text>
<line x1="1041.6" y1="698" x2="1049.8" y2="698" stroke="#1a1a1a" stroke-width="2.8"/>
<text transform="translate(1007.18,707.02) scale(1.0000,1)" font-size="26">28</text>
<text transform="translate(988.50,1091.89) rotate(-90) scale(0.9288,1)" font-size="25.5">Number of dendritic spines</text>
<line x1="1063.8" y1="1210" x2="1115" y2="1210" stroke="#1a1a1a" stroke-width="2.6"/>
<text transform="translate(1069.12,1235.20) scale(0.9500,1)" font-size="25.5">AD</text>
<line x1="1138.7" y1="1210" x2="1189.8" y2="1210" stroke="#1a1a1a" stroke-width="2.6"/>
<text transform="translate(1130.74,1235.20) scale(0.9500,1)" font-size="25.5">1st br</text>
<line x1="1213.5" y1="1210" x2="1265" y2="1210" stroke="#1a1a1a" stroke-width="2.6"/>
<text transform="translate(1209.62,1235.20) scale(0.9500,1)" font-size="25.5">2nd br</text>
<line x1="1287.4" y1="1210" x2="1338.9" y2="1210" stroke="#1a1a1a" stroke-width="2.6"/>
<text transform="translate(1298.27,1236.50) scale(0.9500,1)" font-size="25.5">BD</text>
<circle cx="1046.7" cy="661.2" r="10.7" fill="#808080"/>
<text transform="translate(1066.32,670.50) scale(1.0111,1)" font-size="27">No seizures</text>
<circle cx="1233.8" cy="662.7" r="10.7" fill="#e30613"/>
<text transform="translate(1251.88,672.70) scale(1.0003,1)" font-size="27">Seizures</text>
<line x1="1071.6" y1="717.3" x2="1106.6" y2="717.3" stroke="#1a1a1a" stroke-width="3"/>
<text transform="translate(1089.8,708.3)" font-size="26" text-anchor="middle" font-weight="bold">*</text>
<line x1="1223.5" y1="717.3" x2="1257.8" y2="717.3" stroke="#1a1a1a" stroke-width="3"/>
<text transform="translate(1241,708.3)" font-size="26" text-anchor="middle" font-weight="bold">*</text>
<rect x="472.4" y="1194" width="62.6" height="4.6" fill="#fff"/>
<text transform="translate(471.25,1218.70) scale(1.0644,1)" font-size="27" style="fill:#fff">5 µm</text>
</g>
<g id="part_d">
<text transform="translate(5.36,1311.50) scale(1.0000,1)" font-size="38.5" font-weight="bold">d</text>
<text transform="translate(478.84,1311.50) scale(1.0007,1)" font-size="27">Neuronal markers and proliferation marker</text>
<text transform="translate(359.32,1348.50) scale(1.0075,1)" font-size="27">No seizures (n=6)</text>
<text transform="translate(902.27,1348.50) scale(1.0146,1)" font-size="27">Seizures (n=6)</text>
<g shape-rendering="crispEdges">
<rect x="207.2" y="1359.6" width="1038.4" height="348.9" fill="#3e26a8"/>
<rect x="207.2" y="1359.6" width="86.7" height="58.4" fill="#fdbd3d"/>
<rect x="293.7" y="1359.6" width="86.7" height="58.4" fill="#fec437"/>
<rect x="380.3" y="1359.6" width="86.7" height="58.4" fill="#50cc80"/>
<rect x="466.8" y="1359.6" width="86.7" height="58.4" fill="#96ca48"/>
<rect x="553.3" y="1359.6" width="86.7" height="58.4" fill="#f9d82c"/>
<rect x="639.9" y="1359.6" width="86.7" height="58.4" fill="#f8f719"/>
<rect x="726.4" y="1359.6" width="86.7" height="58.4" fill="#f0ba36"/>
<rect x="812.9" y="1359.6" width="86.7" height="58.4" fill="#fdbd3d"/>
<rect x="899.5" y="1359.6" width="86.7" height="58.4" fill="#c8c129"/>
<rect x="986" y="1359.6" width="86.7" height="58.4" fill="#f5e427"/>
<rect x="1072.5" y="1359.6" width="86.7" height="58.4" fill="#f2ba38"/>
<rect x="1159.1" y="1359.6" width="86.7" height="58.4" fill="#fdbd3d"/>
<rect x="207.2" y="1417.8" width="86.7" height="58.3" fill="#fdbd3d"/>
<rect x="293.7" y="1417.8" width="86.7" height="58.3" fill="#b0c636"/>
<rect x="380.3" y="1417.8" width="86.7" height="58.3" fill="#e4bb2c"/>
<rect x="466.8" y="1417.8" width="86.7" height="58.3" fill="#debd29"/>
<rect x="553.3" y="1417.8" width="86.7" height="58.3" fill="#dabd28"/>
<rect x="639.9" y="1417.8" width="86.7" height="58.3" fill="#fec437"/>
<rect x="726.4" y="1417.8" width="86.7" height="58.3" fill="#b9c431"/>
<rect x="812.9" y="1417.8" width="86.7" height="58.3" fill="#fad42e"/>
<rect x="899.5" y="1417.8" width="86.7" height="58.3" fill="#b0c636"/>
<rect x="986" y="1417.8" width="86.7" height="58.3" fill="#27c2ac"/>
<rect x="1072.5" y="1417.8" width="86.7" height="58.3" fill="#fdcc32"/>
<rect x="1159.1" y="1417.8" width="86.7" height="58.3" fill="#fdbd3d"/>
<rect x="207.2" y="1475.9" width="86.7" height="58.4" fill="#0ab4d2"/>
<rect x="293.7" y="1475.9" width="86.7" height="58.4" fill="#4536d3"/>
<rect x="380.3" y="1475.9" width="86.7" height="58.4" fill="#0eb3d4"/>
<rect x="466.8" y="1475.9" width="86.7" height="58.4" fill="#3e28ac"/>
<rect x="553.3" y="1475.9" width="86.7" height="58.4" fill="#1ac0b5"/>
<rect x="639.9" y="1475.9" width="86.7" height="58.4" fill="#3bc992"/>
<rect x="726.4" y="1475.9" width="86.7" height="58.4" fill="#0abdbd"/>
<rect x="812.9" y="1475.9" width="86.7" height="58.4" fill="#71cd64"/>
<rect x="899.5" y="1475.9" width="86.7" height="58.4" fill="#05b6ce"/>
<rect x="986" y="1475.9" width="86.7" height="58.4" fill="#33c69d"/>
<rect x="1072.5" y="1475.9" width="86.7" height="58.4" fill="#05b6ce"/>
<rect x="1159.1" y="1475.9" width="86.7" height="58.4" fill="#01b8ca"/>
<rect x="207.2" y="1534" width="86.7" height="58.4" fill="#96ca48"/>
<rect x="293.7" y="1534" width="86.7" height="58.4" fill="#58cc79"/>
<rect x="380.3" y="1534" width="86.7" height="58.4" fill="#27c2ac"/>
<rect x="466.8" y="1534" width="86.7" height="58.4" fill="#e7bb2e"/>
<rect x="553.3" y="1534" width="86.7" height="58.4" fill="#60cd72"/>
<rect x="639.9" y="1534" width="86.7" height="58.4" fill="#24c2ae"/>
<rect x="726.4" y="1534" width="86.7" height="58.4" fill="#b0c636"/>
<rect x="812.9" y="1534" width="86.7" height="58.4" fill="#eaba31"/>
<rect x="899.5" y="1534" width="86.7" height="58.4" fill="#60cd72"/>
<rect x="986" y="1534" width="86.7" height="58.4" fill="#71cd64"/>
<rect x="1072.5" y="1534" width="86.7" height="58.4" fill="#37c898"/>
<rect x="1159.1" y="1534" width="86.7" height="58.4" fill="#b0c636"/>
<rect x="207.2" y="1592.2" width="86.7" height="58.3" fill="#48cb86"/>
<rect x="293.7" y="1592.2" width="86.7" height="58.3" fill="#29c3a9"/>
<rect x="380.3" y="1592.2" width="86.7" height="58.3" fill="#41ca8c"/>
<rect x="466.8" y="1592.2" width="86.7" height="58.3" fill="#8dcb4f"/>
<rect x="553.3" y="1592.2" width="86.7" height="58.3" fill="#84cc56"/>
<rect x="639.9" y="1592.2" width="86.7" height="58.3" fill="#6dcd68"/>
<rect x="726.4" y="1592.2" width="86.7" height="58.3" fill="#33c69d"/>
<rect x="812.9" y="1592.2" width="86.7" height="58.3" fill="#0abdbd"/>
<rect x="899.5" y="1592.2" width="86.7" height="58.3" fill="#2fc5a2"/>
<rect x="986" y="1592.2" width="86.7" height="58.3" fill="#01b8ca"/>
<rect x="1072.5" y="1592.2" width="86.7" height="58.3" fill="#71cd64"/>
<rect x="1159.1" y="1592.2" width="86.7" height="58.3" fill="#37c898"/>
</g>
<rect x="723" y="1359.6" width="8" height="348.9" fill="#fff"/>
<rect x="207.2" y="1359.6" width="1038.4" height="348.9" fill="none" stroke="#262626" stroke-width="2"/>
<line x1="207.2" y1="1388.7" x2="218.7" y2="1388.7" stroke="#262626" stroke-width="1.8"/>
<line x1="1234.1" y1="1388.7" x2="1245.6" y2="1388.7" stroke="#262626" stroke-width="1.8"/>
<line x1="207.2" y1="1446.8" x2="218.7" y2="1446.8" stroke="#262626" stroke-width="1.8"/>
<line x1="1234.1" y1="1446.8" x2="1245.6" y2="1446.8" stroke="#262626" stroke-width="1.8"/>
<line x1="207.2" y1="1505" x2="218.7" y2="1505" stroke="#262626" stroke-width="1.8"/>
<line x1="1234.1" y1="1505" x2="1245.6" y2="1505" stroke="#262626" stroke-width="1.8"/>
<line x1="207.2" y1="1563.1" x2="218.7" y2="1563.1" stroke="#262626" stroke-width="1.8"/>
<line x1="1234.1" y1="1563.1" x2="1245.6" y2="1563.1" stroke="#262626" stroke-width="1.8"/>
<line x1="207.2" y1="1621.3" x2="218.7" y2="1621.3" stroke="#262626" stroke-width="1.8"/>
<line x1="1234.1" y1="1621.3" x2="1245.6" y2="1621.3" stroke="#262626" stroke-width="1.8"/>
<line x1="207.2" y1="1679.4" x2="218.7" y2="1679.4" stroke="#262626" stroke-width="1.8"/>
<line x1="1234.1" y1="1679.4" x2="1245.6" y2="1679.4" stroke="#262626" stroke-width="1.8"/>
<line x1="255.9" y1="1708.5" x2="255.9" y2="1697.5" stroke="#262626" stroke-width="1.8"/>
<text transform="translate(248.79,1734.30) scale(1.0000,1)" font-size="26">1</text>
<line x1="339.7" y1="1708.5" x2="339.7" y2="1697.5" stroke="#262626" stroke-width="1.8"/>
<text transform="translate(332.98,1734.30) scale(1.0000,1)" font-size="26">2</text>
<line x1="427" y1="1708.5" x2="427" y2="1697.5" stroke="#262626" stroke-width="1.8"/>
<text transform="translate(420.28,1734.30) scale(1.0000,1)" font-size="26">3</text>
<line x1="512.8" y1="1708.5" x2="512.8" y2="1697.5" stroke="#262626" stroke-width="1.8"/>
<text transform="translate(506.21,1734.30) scale(1.0000,1)" font-size="26">4</text>
<line x1="600.6" y1="1708.5" x2="600.6" y2="1697.5" stroke="#262626" stroke-width="1.8"/>
<text transform="translate(593.89,1734.30) scale(1.0000,1)" font-size="26">5</text>
<line x1="684.9" y1="1708.5" x2="684.9" y2="1697.5" stroke="#262626" stroke-width="1.8"/>
<text transform="translate(678.06,1734.30) scale(1.0000,1)" font-size="26">6</text>
<line x1="773.8" y1="1708.5" x2="773.8" y2="1697.5" stroke="#262626" stroke-width="1.8"/>
<text transform="translate(767.09,1734.30) scale(1.0000,1)" font-size="26">7</text>
<line x1="859.1" y1="1708.5" x2="859.1" y2="1697.5" stroke="#262626" stroke-width="1.8"/>
<text transform="translate(852.32,1734.30) scale(1.0000,1)" font-size="26">8</text>
<line x1="944.9" y1="1708.5" x2="944.9" y2="1697.5" stroke="#262626" stroke-width="1.8"/>
<text transform="translate(938.19,1734.30) scale(1.0000,1)" font-size="26">9</text>
<line x1="1031.2" y1="1708.5" x2="1031.2" y2="1697.5" stroke="#262626" stroke-width="1.8"/>
<text transform="translate(1020.75,1734.30) scale(1.0000,1)" font-size="26">10</text>
<line x1="1120.2" y1="1708.5" x2="1120.2" y2="1697.5" stroke="#262626" stroke-width="1.8"/>
<text transform="translate(1110.86,1734.30) scale(1.0000,1)" font-size="26">11</text>
<line x1="1204.5" y1="1708.5" x2="1204.5" y2="1697.5" stroke="#262626" stroke-width="1.8"/>
<text transform="translate(1194.24,1734.30) scale(1.0000,1)" font-size="26">12</text>
<text transform="translate(90.27,1397.90) scale(1.0237,1)" font-size="26">GABRA1</text>
<text transform="translate(85.40,1456.40) scale(1.0256,1)" font-size="26">SLC17A7</text>
<text transform="translate(119.53,1514.60) scale(1.0419,1)" font-size="26">EMX1</text>
<text transform="translate(75.96,1572.80) scale(1.0328,1)" font-size="26">CACNA1A</text>
<text transform="translate(90.63,1631.20) scale(1.0448,1)" font-size="26">RBFOX3</text>
<text transform="translate(117.02,1689.40) scale(1.0479,1)" font-size="26">MKI67</text>
<text transform="translate(50.20,1592.47) rotate(-90) scale(0.9516,1)" font-size="28.5">Neuronal markers</text>
<line x1="62.7" y1="1361.5" x2="62.7" y2="1631.2" stroke="#262626" stroke-width="2"/>
<text transform="translate(32.80,1756.37) rotate(-90) scale(0.9844,1)" font-size="27.5">Proliferation</text>
<text transform="translate(52.40,1725.77) rotate(-90) scale(0.9925,1)" font-size="27.5">marker</text>
<line x1="62.7" y1="1648.3" x2="62.7" y2="1708.2" stroke="#262626" stroke-width="2"/>
<defs><linearGradient id="cbd" x1="0" y1="0" x2="0" y2="1"><stop offset="0.0000" stop-color="#f9fb15"/><stop offset="0.0159" stop-color="#f7f51b"/><stop offset="0.0317" stop-color="#f6ef20"/><stop offset="0.0476" stop-color="#f5e924"/><stop offset="0.0635" stop-color="#f5e327"/><stop offset="0.0794" stop-color="#f7dc2a"/><stop offset="0.0952" stop-color="#fad62d"/><stop offset="0.1111" stop-color="#fccf30"/><stop offset="0.1270" stop-color="#fec934"/><stop offset="0.1429" stop-color="#fec338"/><stop offset="0.1587" stop-color="#febe3c"/><stop offset="0.1746" stop-color="#f8ba3d"/><stop offset="0.1905" stop-color="#f0ba36"/><stop offset="0.2063" stop-color="#e6bb2d"/><stop offset="0.2222" stop-color="#dcbd29"/><stop offset="0.2381" stop-color="#d1bf27"/><stop offset="0.2540" stop-color="#c5c22a"/><stop offset="0.2698" stop-color="#b9c431"/><stop offset="0.2857" stop-color="#abc739"/><stop offset="0.3016" stop-color="#9dc943"/><stop offset="0.3175" stop-color="#8fcb4e"/><stop offset="0.3333" stop-color="#81cc59"/><stop offset="0.3492" stop-color="#72cd64"/><stop offset="0.3651" stop-color="#64cd6f"/><stop offset="0.3810" stop-color="#57cc7a"/><stop offset="0.3968" stop-color="#4acb84"/><stop offset="0.4127" stop-color="#3fca8e"/><stop offset="0.4286" stop-color="#37c897"/><stop offset="0.4444" stop-color="#31c69f"/><stop offset="0.4603" stop-color="#2cc4a7"/><stop offset="0.4762" stop-color="#24c1ae"/><stop offset="0.4921" stop-color="#19bfb6"/><stop offset="0.5079" stop-color="#0bbdbd"/><stop offset="0.5238" stop-color="#02bac3"/><stop offset="0.5397" stop-color="#01b8ca"/><stop offset="0.5556" stop-color="#08b5d0"/><stop offset="0.5714" stop-color="#12b1d6"/><stop offset="0.5873" stop-color="#18addb"/><stop offset="0.6032" stop-color="#1ca9df"/><stop offset="0.6190" stop-color="#20a5e3"/><stop offset="0.6349" stop-color="#23a0e5"/><stop offset="0.6508" stop-color="#259be8"/><stop offset="0.6667" stop-color="#2797eb"/><stop offset="0.6825" stop-color="#2b91ef"/><stop offset="0.6984" stop-color="#2d8cf3"/><stop offset="0.7143" stop-color="#2e87f7"/><stop offset="0.7302" stop-color="#2f81fa"/><stop offset="0.7460" stop-color="#327cfc"/><stop offset="0.7619" stop-color="#3875fe"/><stop offset="0.7778" stop-color="#3e6fff"/><stop offset="0.7937" stop-color="#4269fe"/><stop offset="0.8095" stop-color="#4563fd"/><stop offset="0.8254" stop-color="#465efb"/><stop offset="0.8413" stop-color="#4758f8"/><stop offset="0.8571" stop-color="#4852f4"/><stop offset="0.8730" stop-color="#484df0"/><stop offset="0.8889" stop-color="#4747eb"/><stop offset="0.9048" stop-color="#4741e5"/><stop offset="0.9206" stop-color="#463cde"/><stop offset="0.9365" stop-color="#4537d5"/><stop offset="0.9524" stop-color="#4332cb"/><stop offset="0.9683" stop-color="#422ec0"/><stop offset="0.9841" stop-color="#402ab4"/><stop offset="1.0000" stop-color="#3e26a8"/></linearGradient></defs>
<rect x="1263.8" y="1359.6" width="38" height="348.9" fill="url(#cbd)" stroke="#262626" stroke-width="2"/>
<line x1="1296.8" y1="1429.4" x2="1301.8" y2="1429.4" stroke="#262626" stroke-width="1.6"/>
<text transform="translate(1309.13,1437.38) scale(1.0000,1)" font-size="26">8</text>
<line x1="1296.8" y1="1499.2" x2="1301.8" y2="1499.2" stroke="#262626" stroke-width="1.6"/>
<text transform="translate(1309.00,1507.16) scale(1.0000,1)" font-size="26">6</text>
<line x1="1296.8" y1="1568.9" x2="1301.8" y2="1568.9" stroke="#262626" stroke-width="1.6"/>
<text transform="translate(1309.78,1576.94) scale(1.0000,1)" font-size="26">4</text>
<line x1="1296.8" y1="1638.7" x2="1301.8" y2="1638.7" stroke="#262626" stroke-width="1.6"/>
<text transform="translate(1309.00,1646.72) scale(1.0000,1)" font-size="26">2</text>
<text transform="translate(1309.35,1367.10) scale(1.0000,1)" font-size="26">10</text>
<text transform="translate(1309.72,1701.90) scale(1.0000,1)" font-size="26">No</text>
<text transform="translate(1264.93,1734.40) scale(1.0286,1)" font-size="26">expression</text>
<text transform="translate(1352.00,1581.10) rotate(-90) scale(1.0568,1)" font-size="26">Log(reads)</text>
</g>
<g id="part_e">
<text transform="translate(4.46,1810.20) scale(1.0000,1)" font-size="38.5" font-weight="bold">e</text>
<text transform="translate(171.56,1812.60) scale(1.0086,1)" font-size="27">Upregulated genes in TAS group</text>
<text transform="translate(150.12,1849.70) scale(1.0075,1)" font-size="27">No seizures (n=6)</text>
<text transform="translate(407.77,1849.70) scale(1.0117,1)" font-size="27">Seizures (n=6)</text>
<g shape-rendering="crispEdges">
<rect x="134.2" y="1858.8" width="480.6" height="448.2" fill="#3e26a8"/>
<rect x="134.2" y="1858.8" width="40.3" height="45" fill="#b0c636"/>
<rect x="214.3" y="1858.8" width="40.2" height="45" fill="#2a92ee"/>
<rect x="254.3" y="1858.8" width="40.3" height="45" fill="#21c1b0"/>
<rect x="294.4" y="1858.8" width="40.3" height="45" fill="#f5ba3a"/>
<rect x="334.4" y="1858.8" width="40.3" height="45" fill="#0ab4d2"/>
<rect x="374.5" y="1858.8" width="40.2" height="45" fill="#fdbd3d"/>
<rect x="414.5" y="1858.8" width="40.3" height="45" fill="#f9fb15"/>
<rect x="454.6" y="1858.8" width="40.3" height="45" fill="#fec13a"/>
<rect x="494.6" y="1858.8" width="80.3" height="45" fill="#f9fb15"/>
<rect x="574.8" y="1858.8" width="40.2" height="45" fill="#eaba31"/>
<rect x="294.4" y="1903.6" width="40.3" height="45" fill="#20a4e3"/>
<rect x="334.4" y="1903.6" width="40.3" height="45" fill="#484aee"/>
<rect x="374.5" y="1903.6" width="40.2" height="45" fill="#feca33"/>
<rect x="414.5" y="1903.6" width="40.3" height="45" fill="#f9fb15"/>
<rect x="494.6" y="1903.6" width="80.3" height="45" fill="#f9fb15"/>
<rect x="454.6" y="1948.4" width="40.3" height="45" fill="#05b6ce"/>
<rect x="494.6" y="1948.4" width="40.3" height="45" fill="#f9fb15"/>
<rect x="534.7" y="1948.4" width="40.2" height="45" fill="#2e83f9"/>
<rect x="134.2" y="1993.3" width="40.3" height="45" fill="#4367fd"/>
<rect x="334.4" y="1993.3" width="40.3" height="45" fill="#269ae9"/>
<rect x="374.5" y="1993.3" width="40.2" height="45" fill="#b0c636"/>
<rect x="414.5" y="1993.3" width="80.3" height="45" fill="#f9fb15"/>
<rect x="534.7" y="1993.3" width="40.2" height="45" fill="#84cc56"/>
<rect x="574.8" y="1993.3" width="40.2" height="45" fill="#f9fb15"/>
<rect x="334.4" y="2038.1" width="40.3" height="45" fill="#2e85f8"/>
<rect x="494.6" y="2038.1" width="40.3" height="45" fill="#f9fb15"/>
<rect x="414.5" y="2082.9" width="40.3" height="45" fill="#f9fb15"/>
<rect x="494.6" y="2082.9" width="40.3" height="45" fill="#f9fb15"/>
<rect x="534.7" y="2082.9" width="40.2" height="45" fill="#84cc56"/>
<rect x="374.5" y="2127.7" width="40.2" height="45" fill="#484aee"/>
<rect x="414.5" y="2127.7" width="40.3" height="45" fill="#f9fb15"/>
<rect x="414.5" y="2172.5" width="40.3" height="45" fill="#f9fb15"/>
<rect x="534.7" y="2172.5" width="40.2" height="45" fill="#f9fb15"/>
<rect x="374.5" y="2217.4" width="40.2" height="45" fill="#42ca8b"/>
<rect x="534.7" y="2217.4" width="40.2" height="45" fill="#f9fb15"/>
<rect x="574.8" y="2217.4" width="40.2" height="45" fill="#42ca8b"/>
<rect x="414.5" y="2262.2" width="40.3" height="45" fill="#42ca8b"/>
<rect x="494.6" y="2262.2" width="80.3" height="45" fill="#f9fb15"/>
</g>
<rect x="373.2" y="1858.8" width="2.2" height="448.2" fill="#fff"/>
<rect x="134.2" y="1858.8" width="480.6" height="448.2" fill="none" stroke="#262626" stroke-width="2"/>
<line x1="134.2" y1="1881.2" x2="140.2" y2="1881.2" stroke="#262626" stroke-width="1.6"/>
<text transform="translate(8.30,1888.01) scale(0.9656,1)" font-size="26" style="fill:#a6a6a6">TSNARE1</text>
<line x1="134.2" y1="1926" x2="140.2" y2="1926" stroke="#262626" stroke-width="1.6"/>
<text transform="translate(73.97,1932.83) scale(0.9757,1)" font-size="26" style="fill:#3c54a0">RET</text>
<line x1="134.2" y1="1970.8" x2="140.2" y2="1970.8" stroke="#262626" stroke-width="1.6"/>
<text transform="translate(48.90,1977.65) scale(0.9790,1)" font-size="26" style="fill:#a0a03c">ASIC4</text>
<line x1="134.2" y1="2015.7" x2="140.2" y2="2015.7" stroke="#262626" stroke-width="1.6"/>
<text transform="translate(37.64,2022.47) scale(0.9697,1)" font-size="26" style="fill:#3c54a0">GPR61</text>
<line x1="134.2" y1="2060.5" x2="140.2" y2="2060.5" stroke="#262626" stroke-width="1.6"/>
<text transform="translate(21.76,2067.29) scale(0.9817,1)" font-size="26" style="fill:#a04a50">HAPLN1</text>
<line x1="134.2" y1="2105.3" x2="140.2" y2="2105.3" stroke="#262626" stroke-width="1.6"/>
<text transform="translate(9.34,2112.11) scale(0.9893,1)" font-size="26" style="fill:#a0a03c">SLC24A3</text>
<line x1="134.2" y1="2150.1" x2="140.2" y2="2150.1" stroke="#262626" stroke-width="1.6"/>
<text transform="translate(50.60,2156.93) scale(1.0091,1)" font-size="26" style="fill:#f5a3a7">NTN1</text>
<line x1="134.2" y1="2194.9" x2="140.2" y2="2194.9" stroke="#262626" stroke-width="1.6"/>
<text transform="translate(34.81,2201.75) scale(0.9929,1)" font-size="26" style="fill:#f5a3a7">CBLN1</text>
<line x1="134.2" y1="2239.8" x2="140.2" y2="2239.8" stroke="#262626" stroke-width="1.6"/>
<text transform="translate(32.60,2246.57) scale(1.0104,1)" font-size="26" style="fill:#3c54a0">ADRB2</text>
<line x1="134.2" y1="2284.6" x2="140.2" y2="2284.6" stroke="#262626" stroke-width="1.6"/>
<text transform="translate(13.89,2285.19) scale(1.0132,1)" font-size="26" style="fill:#f5a3a7">PCDHB7</text>
<line x1="154.2" y1="2307" x2="154.2" y2="2301" stroke="#262626" stroke-width="1.6"/>
<text transform="translate(148.20,2332.00) scale(0.9500,1)" font-size="26">1</text>
<line x1="194.3" y1="2307" x2="194.3" y2="2301" stroke="#262626" stroke-width="1.6"/>
<text transform="translate(188.62,2332.00) scale(0.9500,1)" font-size="26">2</text>
<line x1="234.3" y1="2307" x2="234.3" y2="2301" stroke="#262626" stroke-width="1.6"/>
<text transform="translate(228.67,2332.00) scale(0.9500,1)" font-size="26">3</text>
<line x1="274.4" y1="2307" x2="274.4" y2="2301" stroke="#262626" stroke-width="1.6"/>
<text transform="translate(268.84,2332.00) scale(0.9500,1)" font-size="26">4</text>
<line x1="314.4" y1="2307" x2="314.4" y2="2301" stroke="#262626" stroke-width="1.6"/>
<text transform="translate(308.77,2332.00) scale(0.9500,1)" font-size="26">5</text>
<line x1="354.5" y1="2307" x2="354.5" y2="2301" stroke="#262626" stroke-width="1.6"/>
<text transform="translate(348.70,2332.00) scale(0.9500,1)" font-size="26">6</text>
<line x1="394.5" y1="2307" x2="394.5" y2="2301" stroke="#262626" stroke-width="1.6"/>
<text transform="translate(388.87,2332.00) scale(0.9500,1)" font-size="26">7</text>
<line x1="434.6" y1="2307" x2="434.6" y2="2301" stroke="#262626" stroke-width="1.6"/>
<text transform="translate(428.86,2332.00) scale(0.9500,1)" font-size="26">8</text>
<line x1="474.6" y1="2307" x2="474.6" y2="2301" stroke="#262626" stroke-width="1.6"/>
<text transform="translate(468.97,2332.00) scale(0.9500,1)" font-size="26">9</text>
<line x1="514.7" y1="2307" x2="514.7" y2="2301" stroke="#262626" stroke-width="1.6"/>
<text transform="translate(501.67,2332.00) scale(0.9500,1)" font-size="26">10</text>
<line x1="554.7" y1="2307" x2="554.7" y2="2301" stroke="#262626" stroke-width="1.6"/>
<text transform="translate(542.77,2332.00) scale(0.9500,1)" font-size="26">11</text>
<line x1="594.8" y1="2307" x2="594.8" y2="2301" stroke="#262626" stroke-width="1.6"/>
<text transform="translate(581.96,2332.00) scale(0.9500,1)" font-size="26">12</text>
<rect x="134" y="2360.6" width="15" height="15" fill="#a6a6a6"/>
<text transform="translate(151.08,2377.30) scale(1.0054,1)" font-size="27">Synaptic transmission</text>
<rect x="134" y="2389.7" width="15" height="15" fill="#3c54a0"/>
<text transform="translate(150.12,2406.40) scale(1.0098,1)" font-size="27">Receptor signaling</text>
<rect x="134" y="2418.3" width="15" height="15" fill="#a0a03c"/>
<text transform="translate(149.84,2435.00) scale(1.0119,1)" font-size="27">Ion channels</text>
<rect x="134" y="2447.4" width="15" height="15" fill="#a04a50"/>
<text transform="translate(150.94,2464.10) scale(1.0098,1)" font-size="27">Cell structure</text>
<rect x="134" y="2476" width="15" height="15" fill="#f5a3a7"/>
<text transform="translate(150.13,2492.70) scale(1.0062,1)" font-size="27">Neuronal development</text>
<text transform="translate(795.72,1812.60) scale(1.0083,1)" font-size="27">Downregulated genes in TAS group</text>
<text transform="translate(793.22,1849.70) scale(1.0108,1)" font-size="27">No seizures (n=6)</text>
<text transform="translate(1056.08,1849.70) scale(1.0065,1)" font-size="27">Seizures (n=6)</text>
<g shape-rendering="crispEdges">
<rect x="778.8" y="1858.6" width="478.2" height="449.1" fill="#3e26a8"/>
<rect x="818.6" y="1858.6" width="40.1" height="45.1" fill="#22a1e4"/>
<rect x="858.5" y="1858.6" width="40" height="45.1" fill="#fdcc32"/>
<rect x="978" y="1858.6" width="40.1" height="45.1" fill="#2699ea"/>
<rect x="778.8" y="1903.5" width="40.1" height="45.1" fill="#fad42e"/>
<rect x="858.5" y="1903.5" width="40" height="45.1" fill="#01b9c6"/>
<rect x="978" y="1903.5" width="40.1" height="45.1" fill="#f9fb15"/>
<rect x="818.6" y="1948.4" width="40.1" height="45.1" fill="#4851f4"/>
<rect x="898.3" y="1948.4" width="40.1" height="45.1" fill="#f9fb15"/>
<rect x="898.3" y="1993.3" width="40.1" height="45.1" fill="#f9fb15"/>
<rect x="978" y="1993.3" width="40.1" height="45.1" fill="#484cef"/>
<rect x="1017.9" y="1993.3" width="40.1" height="45.1" fill="#f7f51b"/>
<rect x="778.8" y="2038.2" width="40.1" height="45.1" fill="#3e70ff"/>
<rect x="818.6" y="2038.2" width="40.1" height="45.1" fill="#f9fb15"/>
<rect x="978" y="2038.2" width="40.1" height="45.1" fill="#f9fb15"/>
<rect x="778.8" y="2083.1" width="40.1" height="45.1" fill="#484cef"/>
<rect x="1177.3" y="2083.1" width="40.1" height="45.1" fill="#f9fb15"/>
<rect x="778.8" y="2128.1" width="40.1" height="45.1" fill="#f5e825"/>
<rect x="818.6" y="2128.1" width="40.1" height="45.1" fill="#f9fb15"/>
<rect x="858.5" y="2128.1" width="40" height="45.1" fill="#f5e427"/>
<rect x="938.2" y="2128.1" width="40.1" height="45.1" fill="#fcd030"/>
<rect x="978" y="2128.1" width="40.1" height="45.1" fill="#f8f719"/>
<rect x="778.8" y="2173" width="40.1" height="45.1" fill="#2cc4a7"/>
<rect x="898.3" y="2173" width="40.1" height="45.1" fill="#f9fb15"/>
<rect x="818.6" y="2217.9" width="40.1" height="45.1" fill="#fec437"/>
<rect x="858.5" y="2217.9" width="40" height="45.1" fill="#f6e028"/>
<rect x="898.3" y="2217.9" width="40.1" height="45.1" fill="#f9fb15"/>
<rect x="938.2" y="2217.9" width="40.1" height="45.1" fill="#2d88f6"/>
<rect x="978" y="2217.9" width="40.1" height="45.1" fill="#484ef1"/>
<rect x="1017.9" y="2217.9" width="40.1" height="45.1" fill="#484cef"/>
<rect x="1057.8" y="2217.9" width="40" height="45.1" fill="#3f6eff"/>
<rect x="1177.3" y="2217.9" width="40.1" height="45.1" fill="#2d88f6"/>
<rect x="858.5" y="2262.8" width="40" height="45.1" fill="#f9fb15"/>
<rect x="938.2" y="2262.8" width="40.1" height="45.1" fill="#2a92ee"/>
<rect x="978" y="2262.8" width="40.1" height="45.1" fill="#f9fb15"/>
</g>
<rect x="1016.6" y="1858.6" width="2.2" height="449.1" fill="#fff"/>
<rect x="778.8" y="1858.6" width="478.2" height="449.1" fill="none" stroke="#262626" stroke-width="2"/>
<line x1="778.8" y1="1881.1" x2="784.8" y2="1881.1" stroke="#262626" stroke-width="1.6"/>
<text transform="translate(627.57,1890.55) scale(1.0239,1)" font-size="26" style="fill:#a6a6a6">MAPKAPK3</text>
<line x1="778.8" y1="1926" x2="784.8" y2="1926" stroke="#262626" stroke-width="1.6"/>
<text transform="translate(677.79,1935.46) scale(1.0137,1)" font-size="26" style="fill:#3c54a0">HMOX1</text>
<line x1="778.8" y1="1970.9" x2="784.8" y2="1970.9" stroke="#262626" stroke-width="1.6"/>
<text transform="translate(701.27,1980.38) scale(1.0733,1)" font-size="26" style="fill:#3c54a0">FA2H</text>
<line x1="778.8" y1="2015.8" x2="784.8" y2="2015.8" stroke="#262626" stroke-width="1.6"/>
<text transform="translate(662.66,2025.28) scale(1.0282,1)" font-size="26" style="fill:#a0a03c">PCDHA5</text>
<line x1="778.8" y1="2060.7" x2="784.8" y2="2060.7" stroke="#262626" stroke-width="1.6"/>
<text transform="translate(684.27,2067.69) scale(1.0256,1)" font-size="26" style="fill:#a6a6a6">NFKB2</text>
<line x1="778.8" y1="2105.6" x2="784.8" y2="2105.6" stroke="#262626" stroke-width="1.6"/>
<text transform="translate(650.98,2115.11) scale(1.0171,1)" font-size="26" style="fill:#a6a6a6">CYSLTR1</text>
<line x1="778.8" y1="2150.5" x2="784.8" y2="2150.5" stroke="#262626" stroke-width="1.6"/>
<text transform="translate(711.65,2160.01) scale(1.0458,1)" font-size="26" style="fill:#a6a6a6">IL6R</text>
<line x1="778.8" y1="2195.4" x2="784.8" y2="2195.4" stroke="#262626" stroke-width="1.6"/>
<text transform="translate(647.30,2204.92) scale(1.0087,1)" font-size="26" style="fill:#a04a50">ADAMTS4</text>
<line x1="778.8" y1="2240.3" x2="784.8" y2="2240.3" stroke="#262626" stroke-width="1.6"/>
<text transform="translate(681.40,2249.84) scale(1.0375,1)" font-size="26" style="fill:#f5a3a7">ABCA8</text>
<line x1="778.8" y1="2285.2" x2="784.8" y2="2285.2" stroke="#262626" stroke-width="1.6"/>
<text transform="translate(697.86,2294.74) scale(1.0267,1)" font-size="26" style="fill:#a6a6a6">ESR2</text>
<line x1="798.7" y1="2307.7" x2="798.7" y2="2301.7" stroke="#262626" stroke-width="1.6"/>
<text transform="translate(792.30,2332.00) scale(0.9500,1)" font-size="26">1</text>
<line x1="838.6" y1="2307.7" x2="838.6" y2="2301.7" stroke="#262626" stroke-width="1.6"/>
<text transform="translate(832.52,2332.00) scale(0.9500,1)" font-size="26">2</text>
<line x1="878.4" y1="2307.7" x2="878.4" y2="2301.7" stroke="#262626" stroke-width="1.6"/>
<text transform="translate(872.37,2332.00) scale(0.9500,1)" font-size="26">3</text>
<line x1="918.3" y1="2307.7" x2="918.3" y2="2301.7" stroke="#262626" stroke-width="1.6"/>
<text transform="translate(912.34,2332.00) scale(0.9500,1)" font-size="26">4</text>
<line x1="958.1" y1="2307.7" x2="958.1" y2="2301.7" stroke="#262626" stroke-width="1.6"/>
<text transform="translate(952.07,2332.00) scale(0.9500,1)" font-size="26">5</text>
<line x1="998" y1="2307.7" x2="998" y2="2301.7" stroke="#262626" stroke-width="1.6"/>
<text transform="translate(991.80,2332.00) scale(0.9500,1)" font-size="26">6</text>
<line x1="1037.8" y1="2307.7" x2="1037.8" y2="2301.7" stroke="#262626" stroke-width="1.6"/>
<text transform="translate(1031.77,2332.00) scale(0.9500,1)" font-size="26">7</text>
<line x1="1077.7" y1="2307.7" x2="1077.7" y2="2301.7" stroke="#262626" stroke-width="1.6"/>
<text transform="translate(1071.56,2332.00) scale(0.9500,1)" font-size="26">8</text>
<line x1="1117.5" y1="2307.7" x2="1117.5" y2="2301.7" stroke="#262626" stroke-width="1.6"/>
<text transform="translate(1111.47,2332.00) scale(0.9500,1)" font-size="26">9</text>
<line x1="1157.4" y1="2307.7" x2="1157.4" y2="2301.7" stroke="#262626" stroke-width="1.6"/>
<text transform="translate(1143.97,2332.00) scale(0.9500,1)" font-size="26">10</text>
<line x1="1197.2" y1="2307.7" x2="1197.2" y2="2301.7" stroke="#262626" stroke-width="1.6"/>
<text transform="translate(1184.87,2332.00) scale(0.9500,1)" font-size="26">11</text>
<line x1="1237.1" y1="2307.7" x2="1237.1" y2="2301.7" stroke="#262626" stroke-width="1.6"/>
<text transform="translate(1223.86,2332.00) scale(0.9500,1)" font-size="26">12</text>
<rect x="781.3" y="2356.1" width="15" height="15" fill="#a6a6a6"/>
<text transform="translate(801.65,2371.10) scale(1.0010,1)" font-size="27">Cell regulation</text>
<rect x="781.3" y="2387.2" width="15" height="15" fill="#3c54a0"/>
<text transform="translate(800.84,2402.20) scale(1.0016,1)" font-size="27">Metabolic processes</text>
<rect x="781.3" y="2417.3" width="15" height="15" fill="#a0a03c"/>
<text transform="translate(801.79,2432.30) scale(0.9947,1)" font-size="27">Synaptic functions</text>
<rect x="781.3" y="2448.4" width="15" height="15" fill="#a04a50"/>
<text transform="translate(801.65,2463.40) scale(1.0002,1)" font-size="27">Cell structure</text>
<rect x="781.3" y="2478.5" width="15" height="15" fill="#f5a3a7"/>
<text transform="translate(800.84,2493.50) scale(1.0015,1)" font-size="27">Membrane integrity</text>
<defs><linearGradient id="cbe" x1="0" y1="0" x2="0" y2="1"><stop offset="0.0000" stop-color="#f9fb15"/><stop offset="0.0159" stop-color="#f7f51b"/><stop offset="0.0317" stop-color="#f6ef20"/><stop offset="0.0476" stop-color="#f5e924"/><stop offset="0.0635" stop-color="#f5e327"/><stop offset="0.0794" stop-color="#f7dc2a"/><stop offset="0.0952" stop-color="#fad62d"/><stop offset="0.1111" stop-color="#fccf30"/><stop offset="0.1270" stop-color="#fec934"/><stop offset="0.1429" stop-color="#fec338"/><stop offset="0.1587" stop-color="#febe3c"/><stop offset="0.1746" stop-color="#f8ba3d"/><stop offset="0.1905" stop-color="#f0ba36"/><stop offset="0.2063" stop-color="#e6bb2d"/><stop offset="0.2222" stop-color="#dcbd29"/><stop offset="0.2381" stop-color="#d1bf27"/><stop offset="0.2540" stop-color="#c5c22a"/><stop offset="0.2698" stop-color="#b9c431"/><stop offset="0.2857" stop-color="#abc739"/><stop offset="0.3016" stop-color="#9dc943"/><stop offset="0.3175" stop-color="#8fcb4e"/><stop offset="0.3333" stop-color="#81cc59"/><stop offset="0.3492" stop-color="#72cd64"/><stop offset="0.3651" stop-color="#64cd6f"/><stop offset="0.3810" stop-color="#57cc7a"/><stop offset="0.3968" stop-color="#4acb84"/><stop offset="0.4127" stop-color="#3fca8e"/><stop offset="0.4286" stop-color="#37c897"/><stop offset="0.4444" stop-color="#31c69f"/><stop offset="0.4603" stop-color="#2cc4a7"/><stop offset="0.4762" stop-color="#24c1ae"/><stop offset="0.4921" stop-color="#19bfb6"/><stop offset="0.5079" stop-color="#0bbdbd"/><stop offset="0.5238" stop-color="#02bac3"/><stop offset="0.5397" stop-color="#01b8ca"/><stop offset="0.5556" stop-color="#08b5d0"/><stop offset="0.5714" stop-color="#12b1d6"/><stop offset="0.5873" stop-color="#18addb"/><stop offset="0.6032" stop-color="#1ca9df"/><stop offset="0.6190" stop-color="#20a5e3"/><stop offset="0.6349" stop-color="#23a0e5"/><stop offset="0.6508" stop-color="#259be8"/><stop offset="0.6667" stop-color="#2797eb"/><stop offset="0.6825" stop-color="#2b91ef"/><stop offset="0.6984" stop-color="#2d8cf3"/><stop offset="0.7143" stop-color="#2e87f7"/><stop offset="0.7302" stop-color="#2f81fa"/><stop offset="0.7460" stop-color="#327cfc"/><stop offset="0.7619" stop-color="#3875fe"/><stop offset="0.7778" stop-color="#3e6fff"/><stop offset="0.7937" stop-color="#4269fe"/><stop offset="0.8095" stop-color="#4563fd"/><stop offset="0.8254" stop-color="#465efb"/><stop offset="0.8413" stop-color="#4758f8"/><stop offset="0.8571" stop-color="#4852f4"/><stop offset="0.8730" stop-color="#484df0"/><stop offset="0.8889" stop-color="#4747eb"/><stop offset="0.9048" stop-color="#4741e5"/><stop offset="0.9206" stop-color="#463cde"/><stop offset="0.9365" stop-color="#4537d5"/><stop offset="0.9524" stop-color="#4332cb"/><stop offset="0.9683" stop-color="#422ec0"/><stop offset="0.9841" stop-color="#402ab4"/><stop offset="1.0000" stop-color="#3e26a8"/></linearGradient></defs>
<rect x="1273" y="1858.6" width="27.6" height="449.1" fill="url(#cbe)" stroke="#262626" stroke-width="2"/>
<line x1="1295.6" y1="1948.4" x2="1300.6" y2="1948.4" stroke="#262626" stroke-width="1.6"/>
<text transform="translate(1309.21,1958.42) scale(0.9500,1)" font-size="26">4</text>
<line x1="1295.6" y1="2038.2" x2="1300.6" y2="2038.2" stroke="#262626" stroke-width="1.6"/>
<text transform="translate(1308.71,2048.24) scale(0.9500,1)" font-size="26">3</text>
<line x1="1295.6" y1="2128.1" x2="1300.6" y2="2128.1" stroke="#262626" stroke-width="1.6"/>
<text transform="translate(1308.47,2138.06) scale(0.9500,1)" font-size="26">2</text>
<line x1="1295.6" y1="2217.9" x2="1300.6" y2="2217.9" stroke="#262626" stroke-width="1.6"/>
<text transform="translate(1307.85,2227.88) scale(0.9500,1)" font-size="26">1</text>
<text transform="translate(1308.71,1868.80) scale(0.9500,1)" font-size="26">5</text>
<text transform="translate(1307.72,2309.40) scale(0.9500,1)" font-size="26">No</text>
<text transform="translate(1264.93,2342.00) scale(1.0286,1)" font-size="26">expression</text>
<text transform="translate(1364.80,2158.78) rotate(-90) scale(1.1428,1)" font-size="26">Log(reads)</text>
</g>
</svg>
</body></html>
